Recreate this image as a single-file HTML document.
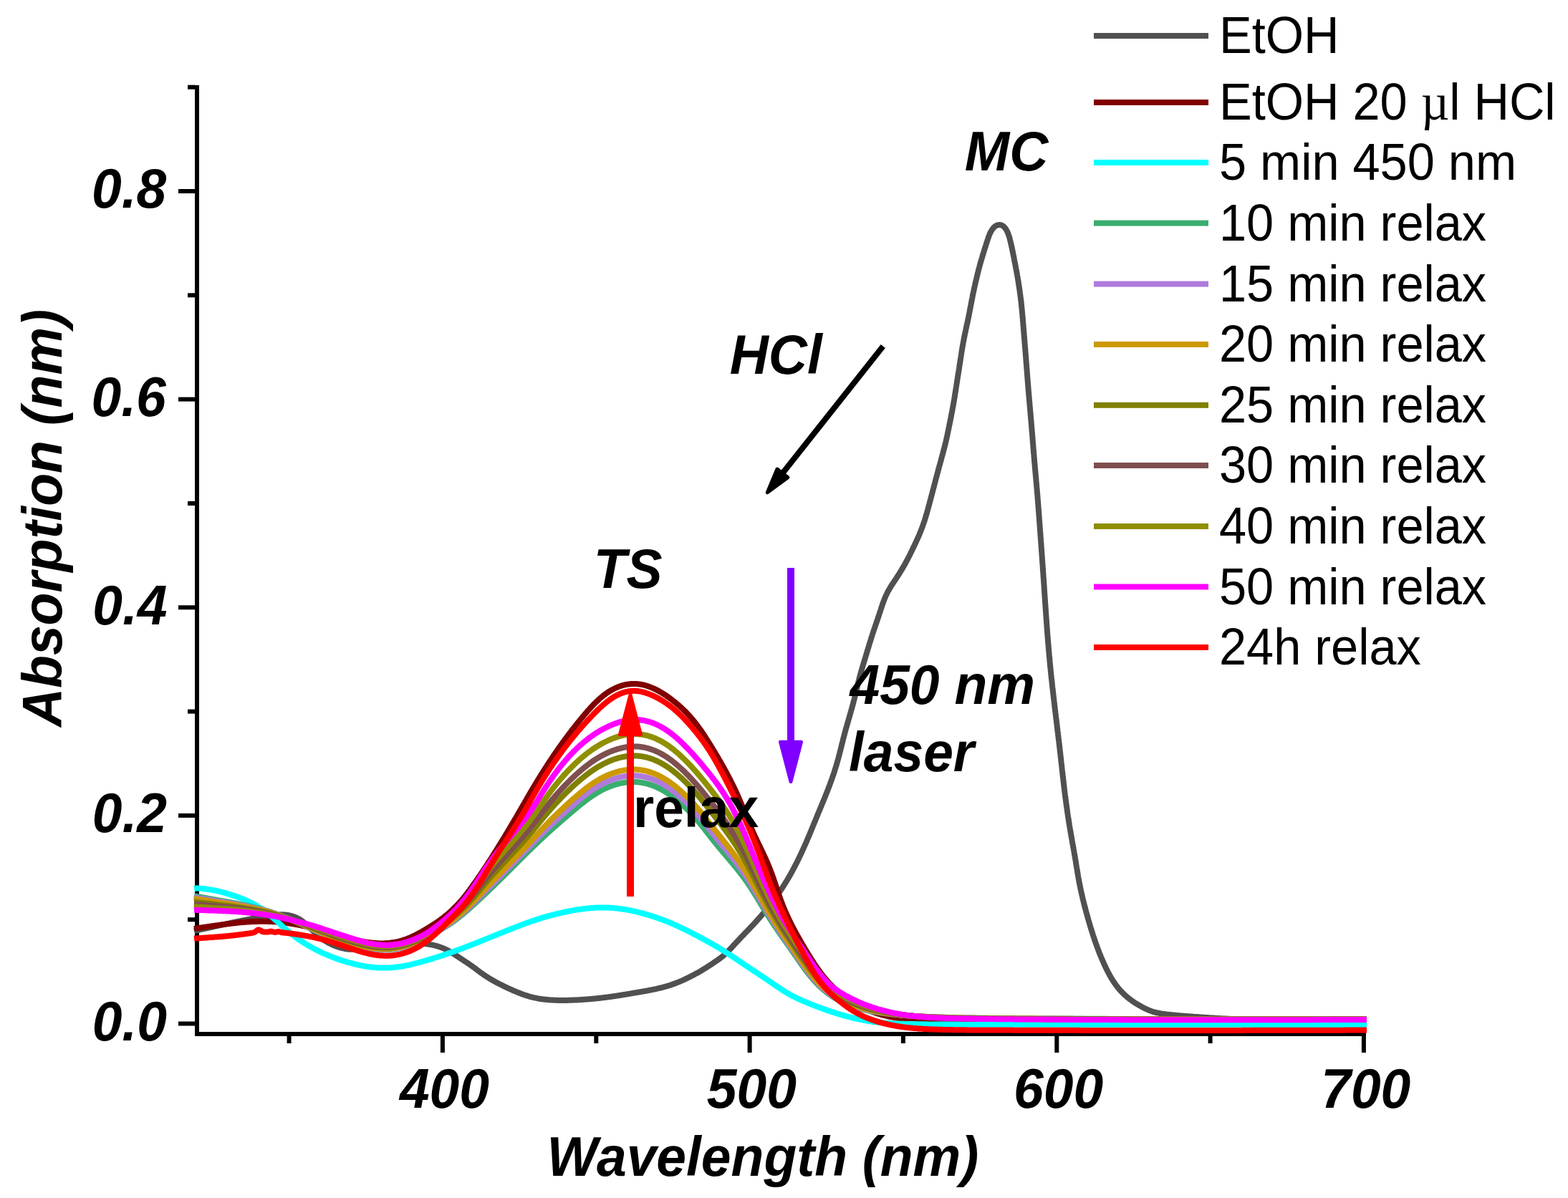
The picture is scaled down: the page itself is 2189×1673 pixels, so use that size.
<!DOCTYPE html>
<html><head><meta charset="utf-8"><title>Absorption spectra</title>
<style>
html,body{margin:0;padding:0;background:#fff;overflow:hidden;}
svg{display:block;}
text{font-family:"Liberation Sans",Arial,sans-serif;fill:#000;}
.bi{font-weight:bold;font-style:italic;font-size:75px;}
.lg{font-size:68.5px;}
</style></head><body>
<svg width="2189" height="1673" viewBox="0 0 2189 1673">
<rect width="2189" height="1673" fill="#fff"/>
<g fill="#000">
<rect x="272" y="119" width="6" height="1328"/>
<rect x="272" y="1441" width="1635" height="6"/>
<rect x="249" y="1426.5" width="24" height="6"/><rect x="249" y="1135.9" width="24" height="6"/><rect x="249" y="845.3" width="24" height="6"/><rect x="249" y="554.6" width="24" height="6"/><rect x="249" y="264.0" width="24" height="6"/><rect x="262" y="1281.2" width="11" height="6"/><rect x="262" y="990.6" width="11" height="6"/><rect x="262" y="700.0" width="11" height="6"/><rect x="262" y="409.3" width="11" height="6"/><rect x="262" y="118.7" width="11" height="6"/><rect x="614.9" y="1446" width="6" height="24"/><rect x="1043.6" y="1446" width="6" height="24"/><rect x="1472.3" y="1446" width="6" height="24"/><rect x="1900.9" y="1446" width="6" height="24"/><rect x="400.6" y="1446" width="6" height="11"/><rect x="829.3" y="1446" width="6" height="11"/><rect x="1257.9" y="1446" width="6" height="11"/><rect x="1686.6" y="1446" width="6" height="11"/>
</g>
<g fill="none" stroke-width="8" stroke-linejoin="round" stroke-linecap="butt">
<path d="M271.0 1300.0L272.7 1299.6L273.4 1299.5L274.1 1299.4L275.0 1299.2L275.9 1299.0L276.9 1298.8L277.9 1298.6L278.8 1298.4L279.8 1298.2L280.8 1297.9L281.8 1297.7L282.7 1297.5L283.7 1297.3L284.7 1297.1L285.7 1296.9L286.7 1296.7L287.6 1296.5L288.6 1296.3L289.6 1296.0L290.6 1295.8L291.5 1295.6L292.5 1295.4L293.5 1295.2L294.5 1295.0L295.4 1294.8L296.4 1294.5L297.4 1294.3L298.4 1294.1L299.4 1293.9L300.3 1293.7L301.3 1293.5L302.3 1293.2L303.3 1293.0L304.2 1292.8L305.2 1292.6L306.2 1292.4L307.2 1292.1L308.1 1291.9L309.1 1291.7L310.1 1291.5L311.1 1291.3L312.0 1291.1L313.0 1290.8L314.0 1290.6L315.0 1290.4L316.0 1290.2L316.9 1290.0L317.9 1289.8L318.9 1289.6L319.9 1289.4L320.8 1289.2L321.8 1288.9L322.8 1288.7L323.8 1288.5L324.8 1288.3L325.7 1288.1L326.7 1287.9L327.7 1287.7L328.7 1287.5L329.7 1287.3L330.6 1287.1L331.6 1286.9L332.6 1286.7L333.6 1286.5L334.6 1286.3L335.5 1286.1L336.5 1285.9L337.5 1285.7L338.5 1285.5L339.5 1285.4L340.4 1285.2L341.4 1285.0L342.4 1284.8L343.4 1284.6L344.4 1284.4L345.4 1284.2L346.3 1284.1L347.3 1283.9L348.3 1283.7L349.3 1283.5L350.3 1283.3L351.3 1283.1L352.2 1283.0L353.2 1282.8L354.2 1282.6L355.2 1282.4L356.2 1282.2L357.2 1282.0L358.2 1281.9L359.1 1281.7L360.1 1281.5L361.1 1281.3L362.1 1281.1L363.1 1281.0L364.1 1280.8L365.1 1280.6L366.1 1280.4L367.0 1280.3L368.0 1280.1L369.0 1279.9L370.0 1279.8L371.0 1279.6L372.0 1279.4L373.0 1279.3L374.0 1279.1L375.0 1279.0L376.0 1278.8L377.0 1278.7L378.0 1278.5L379.0 1278.4L380.0 1278.3L381.0 1278.1L382.0 1278.0L383.0 1277.9L384.0 1277.8L385.0 1277.7L386.0 1277.6L387.0 1277.5L388.0 1277.4L389.0 1277.4L390.0 1277.3L391.0 1277.3L392.0 1277.3L393.0 1277.3L394.0 1277.3L395.0 1277.3L395.9 1277.3L396.9 1277.4L397.9 1277.5L398.9 1277.6L399.9 1277.7L400.9 1277.8L401.9 1278.0L402.8 1278.1L403.8 1278.3L404.8 1278.5L405.7 1278.8L406.7 1279.0L407.6 1279.3L408.6 1279.6L409.5 1279.9L410.5 1280.2L411.4 1280.6L412.3 1280.9L413.2 1281.3L414.1 1281.7L415.0 1282.1L415.8 1282.6L416.7 1283.0L417.6 1283.5L418.4 1284.0L419.2 1284.6L420.1 1285.1L420.9 1285.7L421.7 1286.2L422.5 1286.8L423.3 1287.4L424.0 1288.0L424.8 1288.7L425.6 1289.3L426.3 1290.0L427.1 1290.6L427.8 1291.3L428.6 1291.9L429.3 1292.6L430.1 1293.3L430.8 1294.0L431.5 1294.7L432.3 1295.4L433.0 1296.1L433.7 1296.8L434.4 1297.5L435.2 1298.2L435.9 1298.9L436.6 1299.6L437.4 1300.3L438.1 1301.0L438.8 1301.7L439.6 1302.4L440.3 1303.0L441.0 1303.7L441.8 1304.4L442.5 1305.1L443.3 1305.7L444.0 1306.4L444.8 1307.1L445.6 1307.7L446.3 1308.3L447.1 1309.0L447.9 1309.6L448.7 1310.2L449.5 1310.8L450.3 1311.4L451.1 1312.0L451.9 1312.6L452.7 1313.1L453.6 1313.7L454.4 1314.2L455.3 1314.7L456.1 1315.2L457.0 1315.7L457.8 1316.2L458.7 1316.7L459.6 1317.2L460.5 1317.6L461.4 1318.1L462.3 1318.5L463.2 1318.9L464.1 1319.4L465.0 1319.8L465.9 1320.1L466.8 1320.5L467.8 1320.9L468.7 1321.3L469.6 1321.6L470.6 1322.0L471.5 1322.3L472.5 1322.6L473.4 1322.9L474.4 1323.2L475.3 1323.5L476.3 1323.7L477.2 1324.0L478.2 1324.2L479.2 1324.4L480.2 1324.6L481.1 1324.8L482.1 1325.0L483.1 1325.2L484.1 1325.3L485.1 1325.4L486.1 1325.5L487.0 1325.6L488.0 1325.7L489.0 1325.7L490.0 1325.8L491.0 1325.8L492.0 1325.8L493.0 1325.8L494.0 1325.8L495.0 1325.8L496.0 1325.7L497.0 1325.7L498.0 1325.6L499.0 1325.5L500.0 1325.4L501.0 1325.3L501.9 1325.2L502.9 1325.1L503.9 1324.9L504.9 1324.8L505.9 1324.6L506.9 1324.5L507.9 1324.3L508.9 1324.1L509.9 1323.9L510.8 1323.7L511.8 1323.5L512.8 1323.3L513.8 1323.1L514.8 1322.8L515.7 1322.6L516.7 1322.4L517.7 1322.1L518.7 1321.9L519.7 1321.7L520.6 1321.4L521.6 1321.2L522.6 1321.0L523.6 1320.7L524.5 1320.5L525.5 1320.2L526.5 1320.0L527.5 1319.8L528.4 1319.6L529.4 1319.3L530.4 1319.1L531.4 1318.9L532.3 1318.7L533.3 1318.5L534.3 1318.4L535.3 1318.2L536.3 1318.0L537.3 1317.8L538.2 1317.7L539.2 1317.5L540.2 1317.4L541.2 1317.2L542.2 1317.1L543.2 1317.0L544.2 1316.9L545.2 1316.8L546.2 1316.7L547.2 1316.6L548.2 1316.5L549.2 1316.4L550.2 1316.4L551.1 1316.3L552.1 1316.2L553.1 1316.2L554.1 1316.2L555.1 1316.1L556.1 1316.1L557.1 1316.1L558.1 1316.0L559.1 1316.0L560.1 1316.0L561.1 1316.0L562.1 1316.0L563.1 1316.0L564.1 1316.1L565.1 1316.1L566.1 1316.1L567.1 1316.1L568.2 1316.2L569.2 1316.2L570.2 1316.2L571.2 1316.3L572.2 1316.3L573.2 1316.4L574.2 1316.4L575.2 1316.5L576.2 1316.5L577.2 1316.6L578.2 1316.7L579.2 1316.7L580.2 1316.8L581.2 1316.9L582.2 1316.9L583.2 1317.0L584.2 1317.1L585.2 1317.2L586.2 1317.2L587.2 1317.3L588.2 1317.4L589.2 1317.5L590.2 1317.6L591.2 1317.7L592.2 1317.8L593.2 1317.9L594.2 1318.1L595.2 1318.2L596.2 1318.3L597.2 1318.5L598.2 1318.6L599.1 1318.8L600.1 1318.9L601.1 1319.1L602.1 1319.3L603.1 1319.5L604.0 1319.7L605.0 1319.9L606.0 1320.1L607.0 1320.4L607.9 1320.6L608.9 1320.9L609.8 1321.1L610.8 1321.4L611.8 1321.7L612.7 1322.0L613.6 1322.3L614.6 1322.6L615.5 1323.0L616.5 1323.3L617.4 1323.7L618.3 1324.0L619.2 1324.4L620.1 1324.8L621.0 1325.2L621.9 1325.6L622.8 1326.1L623.7 1326.5L624.6 1327.0L625.5 1327.4L626.4 1327.9L627.2 1328.4L628.1 1328.9L628.9 1329.4L629.8 1329.9L630.6 1330.5L631.5 1331.0L632.3 1331.5L633.2 1332.1L634.0 1332.6L634.9 1333.1L635.7 1333.7L636.5 1334.2L637.4 1334.8L638.2 1335.3L639.1 1335.9L639.9 1336.4L640.7 1337.0L641.6 1337.5L642.4 1338.1L643.2 1338.6L644.1 1339.2L644.9 1339.7L645.8 1340.3L646.6 1340.8L647.4 1341.4L648.3 1341.9L649.1 1342.5L650.0 1343.0L650.8 1343.6L651.6 1344.1L652.5 1344.7L653.3 1345.2L654.1 1345.8L654.9 1346.4L655.8 1346.9L656.6 1347.5L657.4 1348.1L658.2 1348.6L659.0 1349.2L659.8 1349.8L660.6 1350.4L661.5 1351.0L662.3 1351.6L663.1 1352.2L663.9 1352.8L664.7 1353.4L665.4 1354.0L666.2 1354.6L667.0 1355.2L667.8 1355.8L668.6 1356.4L669.4 1357.0L670.2 1357.6L671.0 1358.2L671.8 1358.8L672.7 1359.3L673.5 1359.9L674.3 1360.5L675.1 1361.1L675.9 1361.6L676.8 1362.2L677.6 1362.7L678.4 1363.3L679.3 1363.8L680.1 1364.4L680.9 1364.9L681.8 1365.4L682.6 1365.9L683.5 1366.5L684.3 1367.0L685.2 1367.5L686.1 1368.0L686.9 1368.5L687.8 1369.0L688.7 1369.5L689.5 1370.0L690.4 1370.5L691.3 1370.9L692.2 1371.4L693.0 1371.9L693.9 1372.4L694.8 1372.8L695.7 1373.3L696.6 1373.8L697.5 1374.2L698.4 1374.7L699.3 1375.1L700.2 1375.6L701.1 1376.0L702.0 1376.5L702.9 1376.9L703.8 1377.4L704.7 1377.8L705.6 1378.2L706.5 1378.7L707.4 1379.1L708.3 1379.5L709.2 1379.9L710.1 1380.4L711.1 1380.8L712.0 1381.2L712.9 1381.6L713.8 1382.0L714.7 1382.4L715.6 1382.8L716.6 1383.3L717.5 1383.7L718.4 1384.1L719.3 1384.4L720.3 1384.8L721.2 1385.2L722.1 1385.6L723.1 1386.0L724.0 1386.4L724.9 1386.7L725.9 1387.1L726.8 1387.4L727.7 1387.8L728.7 1388.1L729.6 1388.5L730.5 1388.8L731.5 1389.2L732.4 1389.5L733.4 1389.8L734.3 1390.1L735.3 1390.4L736.2 1390.7L737.2 1391.0L738.2 1391.3L739.1 1391.6L740.1 1391.8L741.0 1392.1L742.0 1392.4L743.0 1392.6L743.9 1392.9L744.9 1393.1L745.9 1393.3L746.8 1393.5L747.8 1393.7L748.8 1393.9L749.8 1394.1L750.8 1394.3L751.7 1394.5L752.7 1394.7L753.7 1394.8L754.7 1395.0L755.7 1395.1L756.7 1395.2L757.7 1395.4L758.6 1395.5L759.6 1395.6L760.6 1395.7L761.6 1395.8L762.6 1395.9L763.6 1396.0L764.6 1396.1L765.6 1396.2L766.6 1396.3L767.6 1396.4L768.6 1396.4L769.6 1396.5L770.6 1396.5L771.6 1396.6L772.6 1396.7L773.6 1396.7L774.6 1396.7L775.6 1396.8L776.6 1396.8L777.6 1396.8L778.6 1396.9L779.6 1396.9L780.6 1396.9L781.6 1396.9L782.6 1396.9L783.6 1396.9L784.6 1396.9L785.6 1396.9L786.6 1396.9L787.6 1396.9L788.6 1396.9L789.6 1396.9L790.6 1396.9L791.6 1396.9L792.6 1396.8L793.6 1396.8L794.6 1396.8L795.6 1396.8L796.6 1396.7L797.6 1396.7L798.6 1396.7L799.6 1396.6L800.6 1396.6L801.6 1396.6L802.6 1396.5L803.6 1396.5L804.6 1396.4L805.6 1396.4L806.6 1396.3L807.6 1396.3L808.6 1396.2L809.6 1396.2L810.6 1396.1L811.6 1396.0L812.6 1396.0L813.6 1395.9L814.6 1395.8L815.6 1395.8L816.6 1395.7L817.6 1395.6L818.6 1395.6L819.6 1395.5L820.6 1395.4L821.6 1395.3L822.6 1395.2L823.6 1395.2L824.6 1395.1L825.6 1395.0L826.6 1394.9L827.6 1394.8L828.6 1394.7L829.6 1394.6L830.6 1394.5L831.6 1394.4L832.6 1394.3L833.6 1394.2L834.6 1394.1L835.5 1394.0L836.5 1393.9L837.5 1393.8L838.5 1393.7L839.5 1393.5L840.5 1393.4L841.5 1393.3L842.5 1393.2L843.5 1393.1L844.5 1392.9L845.5 1392.8L846.5 1392.7L847.5 1392.6L848.5 1392.4L849.4 1392.3L850.4 1392.2L851.4 1392.0L852.4 1391.9L853.4 1391.8L854.4 1391.6L855.4 1391.5L856.4 1391.3L857.4 1391.2L858.4 1391.0L859.3 1390.9L860.3 1390.7L861.3 1390.6L862.3 1390.4L863.3 1390.3L864.3 1390.1L865.3 1390.0L866.3 1389.8L867.3 1389.7L868.2 1389.5L869.2 1389.4L870.2 1389.2L871.2 1389.0L872.2 1388.9L873.2 1388.7L874.2 1388.5L875.2 1388.4L876.1 1388.2L877.1 1388.1L878.1 1387.9L879.1 1387.7L880.1 1387.6L881.1 1387.4L882.1 1387.2L883.0 1387.0L884.0 1386.9L885.0 1386.7L886.0 1386.5L887.0 1386.4L888.0 1386.2L889.0 1386.0L890.0 1385.9L890.9 1385.7L891.9 1385.5L892.9 1385.3L893.9 1385.2L894.9 1385.0L895.9 1384.8L896.9 1384.7L897.8 1384.5L898.8 1384.3L899.8 1384.1L900.8 1384.0L901.8 1383.8L902.8 1383.6L903.8 1383.4L904.7 1383.2L905.7 1383.1L906.7 1382.9L907.7 1382.7L908.7 1382.5L909.7 1382.3L910.6 1382.1L911.6 1381.9L912.6 1381.7L913.6 1381.5L914.6 1381.3L915.5 1381.1L916.5 1380.9L917.5 1380.7L918.5 1380.4L919.4 1380.2L920.4 1380.0L921.4 1379.7L922.4 1379.5L923.3 1379.3L924.3 1379.0L925.3 1378.8L926.2 1378.5L927.2 1378.2L928.2 1378.0L929.1 1377.7L930.1 1377.4L931.0 1377.2L932.0 1376.9L933.0 1376.6L933.9 1376.3L934.9 1376.0L935.8 1375.7L936.8 1375.4L937.7 1375.0L938.7 1374.7L939.6 1374.4L940.5 1374.0L941.5 1373.7L942.4 1373.4L943.3 1373.0L944.3 1372.7L945.2 1372.3L946.1 1371.9L947.1 1371.5L948.0 1371.2L948.9 1370.8L949.8 1370.4L950.7 1370.0L951.7 1369.6L952.6 1369.2L953.5 1368.8L954.4 1368.4L955.3 1367.9L956.2 1367.5L957.1 1367.1L958.0 1366.7L958.9 1366.2L959.8 1365.8L960.7 1365.3L961.6 1364.9L962.5 1364.5L963.4 1364.0L964.3 1363.6L965.2 1363.1L966.1 1362.6L967.0 1362.2L967.9 1361.7L968.8 1361.2L969.6 1360.8L970.5 1360.3L971.4 1359.8L972.3 1359.3L973.1 1358.9L974.0 1358.4L974.9 1357.9L975.8 1357.4L976.6 1356.9L977.5 1356.4L978.4 1355.9L979.2 1355.4L980.1 1354.9L980.9 1354.3L981.8 1353.8L982.7 1353.3L983.5 1352.8L984.4 1352.2L985.2 1351.7L986.1 1351.2L986.9 1350.6L987.7 1350.1L988.6 1349.6L989.4 1349.0L990.3 1348.5L991.1 1347.9L991.9 1347.4L992.8 1346.8L993.6 1346.3L994.4 1345.7L995.3 1345.2L996.1 1344.6L996.9 1344.0L997.7 1343.5L998.6 1342.9L999.4 1342.4L1000.2 1341.8L1001.0 1341.3L1001.8 1340.7L1002.6 1340.1L1003.5 1339.6L1004.3 1339.0L1005.1 1338.4L1005.9 1337.8L1006.6 1337.2L1007.4 1336.6L1008.2 1336.0L1009.0 1335.4L1009.7 1334.7L1010.5 1334.1L1011.2 1333.4L1011.9 1332.8L1012.7 1332.1L1013.4 1331.4L1014.1 1330.7L1014.8 1330.1L1015.5 1329.4L1016.2 1328.7L1016.9 1327.9L1017.6 1327.2L1018.3 1326.5L1019.0 1325.8L1019.7 1325.1L1020.4 1324.3L1021.1 1323.6L1021.7 1322.9L1022.4 1322.1L1023.1 1321.4L1023.8 1320.7L1024.4 1319.9L1025.1 1319.2L1025.8 1318.4L1026.5 1317.7L1027.2 1317.0L1027.8 1316.2L1028.5 1315.5L1029.2 1314.8L1029.9 1314.0L1030.6 1313.3L1031.3 1312.6L1031.9 1311.8L1032.6 1311.1L1033.3 1310.4L1034.0 1309.7L1034.7 1308.9L1035.4 1308.2L1036.1 1307.5L1036.8 1306.8L1037.5 1306.0L1038.2 1305.3L1038.8 1304.6L1039.5 1303.9L1040.2 1303.1L1040.9 1302.4L1041.6 1301.7L1042.3 1301.0L1043.0 1300.3L1043.7 1299.5L1044.4 1298.8L1045.1 1298.1L1045.8 1297.4L1046.5 1296.6L1047.2 1295.9L1047.8 1295.2L1048.5 1294.5L1049.2 1293.7L1049.9 1293.0L1050.6 1292.3L1051.3 1291.6L1052.0 1290.8L1052.6 1290.1L1053.3 1289.4L1054.0 1288.6L1054.7 1287.9L1055.4 1287.2L1056.0 1286.4L1056.7 1285.7L1057.4 1284.9L1058.0 1284.2L1058.7 1283.4L1059.4 1282.7L1060.0 1281.9L1060.7 1281.2L1061.4 1280.4L1062.0 1279.7L1062.7 1278.9L1063.3 1278.2L1064.0 1277.4L1064.6 1276.6L1065.3 1275.9L1065.9 1275.1L1066.6 1274.3L1067.2 1273.6L1067.9 1272.8L1068.5 1272.0L1069.1 1271.3L1069.8 1270.5L1070.4 1269.7L1071.0 1268.9L1071.6 1268.2L1072.3 1267.4L1072.9 1266.6L1073.5 1265.8L1074.1 1265.0L1074.8 1264.2L1075.4 1263.4L1076.0 1262.6L1076.6 1261.9L1077.2 1261.1L1077.8 1260.3L1078.4 1259.5L1079.0 1258.7L1079.6 1257.9L1080.2 1257.1L1080.8 1256.3L1081.4 1255.4L1082.0 1254.6L1082.6 1253.8L1083.2 1253.0L1083.7 1252.2L1084.3 1251.4L1084.9 1250.6L1085.5 1249.7L1086.0 1248.9L1086.6 1248.1L1087.2 1247.3L1087.8 1246.5L1088.3 1245.6L1088.9 1244.8L1089.4 1244.0L1090.0 1243.1L1090.5 1242.3L1091.1 1241.5L1091.6 1240.6L1092.2 1239.8L1092.7 1239.0L1093.3 1238.1L1093.8 1237.3L1094.3 1236.4L1094.9 1235.6L1095.4 1234.7L1095.9 1233.9L1096.5 1233.0L1097.0 1232.2L1097.5 1231.3L1098.0 1230.5L1098.5 1229.6L1099.1 1228.7L1099.6 1227.9L1100.1 1227.0L1100.6 1226.2L1101.1 1225.3L1101.6 1224.4L1102.1 1223.6L1102.6 1222.7L1103.1 1221.8L1103.6 1221.0L1104.1 1220.1L1104.5 1219.2L1105.0 1218.3L1105.5 1217.5L1106.0 1216.6L1106.5 1215.7L1106.9 1214.8L1107.4 1213.9L1107.9 1213.1L1108.4 1212.2L1108.8 1211.3L1109.3 1210.4L1109.7 1209.5L1110.2 1208.6L1110.7 1207.7L1111.1 1206.9L1111.6 1206.0L1112.0 1205.1L1112.5 1204.2L1112.9 1203.3L1113.4 1202.4L1113.8 1201.5L1114.3 1200.6L1114.7 1199.7L1115.1 1198.8L1115.6 1197.9L1116.0 1197.0L1116.4 1196.1L1116.9 1195.2L1117.3 1194.3L1117.7 1193.4L1118.2 1192.5L1118.6 1191.6L1119.0 1190.7L1119.4 1189.8L1119.8 1188.8L1120.3 1187.9L1120.7 1187.0L1121.1 1186.1L1121.5 1185.2L1121.9 1184.3L1122.3 1183.4L1122.7 1182.5L1123.1 1181.6L1123.5 1180.6L1124.0 1179.7L1124.4 1178.8L1124.8 1177.9L1125.2 1177.0L1125.6 1176.1L1126.0 1175.1L1126.4 1174.2L1126.7 1173.3L1127.1 1172.4L1127.5 1171.5L1127.9 1170.5L1128.3 1169.6L1128.7 1168.7L1129.1 1167.8L1129.5 1166.9L1129.9 1165.9L1130.3 1165.0L1130.6 1164.1L1131.0 1163.2L1131.4 1162.2L1131.8 1161.3L1132.2 1160.4L1132.6 1159.5L1132.9 1158.5L1133.3 1157.6L1133.7 1156.7L1134.1 1155.8L1134.5 1154.8L1134.8 1153.9L1135.2 1153.0L1135.6 1152.1L1136.0 1151.1L1136.4 1150.2L1136.7 1149.3L1137.1 1148.4L1137.5 1147.4L1137.9 1146.5L1138.3 1145.6L1138.6 1144.7L1139.0 1143.7L1139.4 1142.8L1139.8 1141.9L1140.2 1141.0L1140.5 1140.0L1140.9 1139.1L1141.3 1138.2L1141.7 1137.3L1142.1 1136.3L1142.4 1135.4L1142.8 1134.5L1143.2 1133.6L1143.6 1132.6L1144.0 1131.7L1144.4 1130.8L1144.8 1129.9L1145.1 1129.0L1145.5 1128.0L1145.9 1127.1L1146.3 1126.2L1146.7 1125.3L1147.1 1124.3L1147.4 1123.4L1147.8 1122.5L1148.2 1121.6L1148.6 1120.6L1149.0 1119.7L1149.3 1118.8L1149.7 1117.9L1150.1 1116.9L1150.5 1116.0L1150.9 1115.1L1151.2 1114.2L1151.6 1113.2L1152.0 1112.3L1152.4 1111.4L1152.7 1110.4L1153.1 1109.5L1153.5 1108.6L1153.9 1107.6L1154.2 1106.7L1154.6 1105.8L1155.0 1104.9L1155.3 1103.9L1155.7 1103.0L1156.0 1102.1L1156.4 1101.1L1156.8 1100.2L1157.1 1099.3L1157.5 1098.3L1157.8 1097.4L1158.2 1096.4L1158.5 1095.5L1158.9 1094.6L1159.2 1093.6L1159.6 1092.7L1159.9 1091.8L1160.3 1090.8L1160.6 1089.9L1160.9 1088.9L1161.3 1088.0L1161.6 1087.0L1161.9 1086.1L1162.3 1085.2L1162.6 1084.2L1162.9 1083.3L1163.3 1082.3L1163.6 1081.4L1163.9 1080.4L1164.2 1079.5L1164.5 1078.5L1164.8 1077.6L1165.1 1076.6L1165.4 1075.7L1165.7 1074.7L1166.0 1073.8L1166.3 1072.8L1166.6 1071.9L1166.9 1070.9L1167.2 1069.9L1167.5 1069.0L1167.8 1068.0L1168.0 1067.1L1168.3 1066.1L1168.6 1065.1L1168.9 1064.2L1169.1 1063.2L1169.4 1062.3L1169.7 1061.3L1169.9 1060.3L1170.2 1059.4L1170.5 1058.4L1170.7 1057.4L1171.0 1056.5L1171.2 1055.5L1171.5 1054.5L1171.7 1053.6L1172.0 1052.6L1172.2 1051.6L1172.5 1050.7L1172.7 1049.7L1173.0 1048.7L1173.2 1047.8L1173.5 1046.8L1173.7 1045.8L1174.0 1044.8L1174.2 1043.9L1174.5 1042.9L1174.7 1041.9L1174.9 1041.0L1175.2 1040.0L1175.4 1039.0L1175.7 1038.1L1175.9 1037.1L1176.2 1036.1L1176.4 1035.1L1176.7 1034.2L1176.9 1033.2L1177.1 1032.2L1177.4 1031.3L1177.6 1030.3L1177.9 1029.3L1178.1 1028.4L1178.4 1027.4L1178.7 1026.4L1178.9 1025.5L1179.2 1024.5L1179.4 1023.5L1179.7 1022.6L1179.9 1021.6L1180.2 1020.6L1180.5 1019.7L1180.7 1018.7L1181.0 1017.7L1181.3 1016.8L1181.5 1015.8L1181.8 1014.8L1182.1 1013.9L1182.4 1012.9L1182.6 1012.0L1182.9 1011.0L1183.2 1010.0L1183.5 1009.1L1183.7 1008.1L1184.0 1007.1L1184.3 1006.2L1184.6 1005.2L1184.8 1004.3L1185.1 1003.3L1185.4 1002.3L1185.7 1001.4L1185.9 1000.4L1186.2 999.5L1186.5 998.5L1186.8 997.5L1187.1 996.6L1187.3 995.6L1187.6 994.6L1187.9 993.7L1188.1 992.7L1188.4 991.8L1188.7 990.8L1189.0 989.8L1189.2 988.9L1189.5 987.9L1189.8 986.9L1190.0 986.0L1190.3 985.0L1190.6 984.0L1190.8 983.1L1191.1 982.1L1191.3 981.1L1191.6 980.2L1191.8 979.2L1192.1 978.2L1192.3 977.3L1192.6 976.3L1192.8 975.3L1193.1 974.4L1193.3 973.4L1193.6 972.4L1193.8 971.5L1194.0 970.5L1194.3 969.5L1194.5 968.5L1194.7 967.6L1195.0 966.6L1195.2 965.6L1195.4 964.7L1195.7 963.7L1195.9 962.7L1196.1 961.7L1196.4 960.8L1196.6 959.8L1196.8 958.8L1197.0 957.8L1197.3 956.9L1197.5 955.9L1197.7 954.9L1198.0 954.0L1198.2 953.0L1198.5 952.0L1198.7 951.0L1198.9 950.1L1199.2 949.1L1199.4 948.1L1199.7 947.2L1199.9 946.2L1200.2 945.2L1200.4 944.3L1200.7 943.3L1201.0 942.3L1201.2 941.4L1201.5 940.4L1201.8 939.4L1202.0 938.5L1202.3 937.5L1202.6 936.6L1202.9 935.6L1203.1 934.6L1203.4 933.7L1203.7 932.7L1204.0 931.8L1204.3 930.8L1204.6 929.8L1204.8 928.9L1205.1 927.9L1205.4 927.0L1205.7 926.0L1206.0 925.0L1206.3 924.1L1206.6 923.1L1206.9 922.2L1207.2 921.2L1207.5 920.3L1207.8 919.3L1208.0 918.3L1208.3 917.4L1208.6 916.4L1208.9 915.5L1209.2 914.5L1209.5 913.6L1209.8 912.6L1210.1 911.6L1210.4 910.7L1210.6 909.7L1210.9 908.8L1211.2 907.8L1211.5 906.9L1211.8 905.9L1212.1 904.9L1212.4 904.0L1212.7 903.0L1212.9 902.1L1213.2 901.1L1213.5 900.1L1213.8 899.2L1214.1 898.2L1214.4 897.3L1214.7 896.3L1215.0 895.4L1215.3 894.4L1215.6 893.5L1215.9 892.5L1216.2 891.5L1216.5 890.6L1216.8 889.6L1217.1 888.7L1217.4 887.7L1217.7 886.8L1218.0 885.8L1218.3 884.9L1218.6 883.9L1218.9 883.0L1219.3 882.0L1219.6 881.1L1219.9 880.1L1220.2 879.2L1220.5 878.2L1220.9 877.3L1221.2 876.4L1221.5 875.4L1221.8 874.5L1222.1 873.5L1222.5 872.6L1222.8 871.6L1223.1 870.7L1223.4 869.7L1223.8 868.8L1224.1 867.8L1224.4 866.9L1224.7 865.9L1225.1 865.0L1225.4 864.0L1225.7 863.1L1226.0 862.1L1226.3 861.2L1226.7 860.2L1227.0 859.3L1227.3 858.3L1227.6 857.4L1227.9 856.4L1228.2 855.5L1228.5 854.5L1228.9 853.6L1229.2 852.6L1229.5 851.7L1229.8 850.7L1230.1 849.8L1230.4 848.8L1230.7 847.8L1231.0 846.9L1231.4 845.9L1231.7 845.0L1232.0 844.1L1232.3 843.1L1232.7 842.2L1233.0 841.2L1233.4 840.3L1233.7 839.3L1234.1 838.4L1234.4 837.5L1234.8 836.6L1235.2 835.6L1235.5 834.7L1235.9 833.8L1236.3 832.9L1236.7 832.0L1237.1 831.1L1237.6 830.2L1238.0 829.3L1238.4 828.4L1238.9 827.5L1239.3 826.6L1239.8 825.7L1240.3 824.9L1240.8 824.0L1241.3 823.1L1241.8 822.3L1242.3 821.4L1242.8 820.6L1243.3 819.7L1243.8 818.9L1244.3 818.0L1244.9 817.2L1245.4 816.3L1246.0 815.5L1246.5 814.6L1247.1 813.8L1247.6 813.0L1248.2 812.1L1248.7 811.3L1249.3 810.5L1249.8 809.6L1250.4 808.8L1250.9 808.0L1251.5 807.1L1252.0 806.3L1252.6 805.5L1253.1 804.6L1253.7 803.8L1254.2 802.9L1254.8 802.1L1255.3 801.3L1255.8 800.4L1256.4 799.6L1256.9 798.7L1257.4 797.9L1257.9 797.0L1258.5 796.2L1259.0 795.3L1259.5 794.4L1260.0 793.6L1260.5 792.7L1261.0 791.9L1261.5 791.0L1262.0 790.1L1262.5 789.3L1263.0 788.4L1263.5 787.5L1264.0 786.6L1264.4 785.8L1264.9 784.9L1265.4 784.0L1265.9 783.1L1266.3 782.2L1266.8 781.3L1267.3 780.5L1267.7 779.6L1268.2 778.7L1268.6 777.8L1269.1 776.9L1269.6 776.0L1270.0 775.1L1270.5 774.2L1270.9 773.3L1271.3 772.4L1271.8 771.5L1272.2 770.6L1272.7 769.7L1273.1 768.8L1273.5 767.9L1274.0 767.0L1274.4 766.1L1274.8 765.2L1275.3 764.3L1275.7 763.4L1276.1 762.5L1276.6 761.6L1277.0 760.7L1277.4 759.8L1277.8 758.9L1278.3 758.0L1278.7 757.1L1279.1 756.2L1279.5 755.3L1279.9 754.4L1280.3 753.4L1280.8 752.5L1281.2 751.6L1281.6 750.7L1282.0 749.8L1282.4 748.9L1282.8 748.0L1283.2 747.0L1283.6 746.1L1283.9 745.2L1284.3 744.3L1284.7 743.3L1285.1 742.4L1285.5 741.5L1285.8 740.6L1286.2 739.6L1286.6 738.7L1286.9 737.8L1287.3 736.8L1287.6 735.9L1288.0 735.0L1288.3 734.0L1288.6 733.1L1289.0 732.1L1289.3 731.2L1289.6 730.2L1289.9 729.3L1290.3 728.4L1290.6 727.4L1290.9 726.4L1291.2 725.5L1291.5 724.5L1291.8 723.6L1292.1 722.6L1292.4 721.7L1292.6 720.7L1292.9 719.8L1293.2 718.8L1293.5 717.8L1293.8 716.9L1294.0 715.9L1294.3 714.9L1294.6 714.0L1294.8 713.0L1295.1 712.1L1295.4 711.1L1295.6 710.1L1295.9 709.2L1296.2 708.2L1296.4 707.2L1296.7 706.3L1296.9 705.3L1297.2 704.3L1297.5 703.4L1297.7 702.4L1298.0 701.4L1298.2 700.5L1298.5 699.5L1298.8 698.5L1299.0 697.6L1299.3 696.6L1299.5 695.6L1299.8 694.7L1300.0 693.7L1300.3 692.7L1300.6 691.8L1300.8 690.8L1301.1 689.8L1301.3 688.9L1301.6 687.9L1301.8 686.9L1302.1 686.0L1302.3 685.0L1302.6 684.0L1302.8 683.1L1303.1 682.1L1303.3 681.1L1303.6 680.2L1303.9 679.2L1304.1 678.2L1304.4 677.3L1304.6 676.3L1304.9 675.3L1305.1 674.3L1305.4 673.4L1305.6 672.4L1305.9 671.4L1306.1 670.5L1306.4 669.5L1306.6 668.5L1306.9 667.6L1307.2 666.6L1307.4 665.6L1307.7 664.7L1307.9 663.7L1308.2 662.7L1308.5 661.8L1308.7 660.8L1309.0 659.8L1309.2 658.9L1309.5 657.9L1309.8 657.0L1310.0 656.0L1310.3 655.0L1310.5 654.1L1310.8 653.1L1311.1 652.1L1311.3 651.2L1311.6 650.2L1311.9 649.2L1312.1 648.3L1312.4 647.3L1312.6 646.3L1312.9 645.4L1313.2 644.4L1313.4 643.4L1313.7 642.5L1314.0 641.5L1314.2 640.5L1314.5 639.6L1314.7 638.6L1315.0 637.6L1315.3 636.7L1315.5 635.7L1315.8 634.8L1316.1 633.8L1316.3 632.8L1316.6 631.9L1316.8 630.9L1317.1 629.9L1317.3 629.0L1317.6 628.0L1317.9 627.0L1318.1 626.1L1318.4 625.1L1318.6 624.1L1318.9 623.1L1319.1 622.2L1319.4 621.2L1319.6 620.2L1319.8 619.3L1320.1 618.3L1320.3 617.3L1320.5 616.4L1320.8 615.4L1321.0 614.4L1321.2 613.4L1321.4 612.5L1321.7 611.5L1321.9 610.5L1322.1 609.5L1322.3 608.6L1322.5 607.6L1322.7 606.6L1322.9 605.6L1323.1 604.6L1323.3 603.7L1323.5 602.7L1323.7 601.7L1323.9 600.7L1324.1 599.7L1324.3 598.8L1324.5 597.8L1324.7 596.8L1324.9 595.8L1325.1 594.8L1325.3 593.9L1325.5 592.9L1325.7 591.9L1325.9 590.9L1326.1 589.9L1326.3 588.9L1326.5 588.0L1326.7 587.0L1326.9 586.0L1327.1 585.0L1327.3 584.0L1327.5 583.1L1327.7 582.1L1327.9 581.1L1328.0 580.1L1328.2 579.1L1328.4 578.2L1328.6 577.2L1328.8 576.2L1329.0 575.2L1329.2 574.2L1329.4 573.2L1329.6 572.3L1329.7 571.3L1329.9 570.3L1330.1 569.3L1330.3 568.3L1330.5 567.3L1330.6 566.4L1330.8 565.4L1331.0 564.4L1331.2 563.4L1331.3 562.4L1331.5 561.4L1331.7 560.4L1331.8 559.5L1332.0 558.5L1332.2 557.5L1332.3 556.5L1332.5 555.5L1332.7 554.5L1332.8 553.5L1333.0 552.6L1333.1 551.6L1333.3 550.6L1333.4 549.6L1333.6 548.6L1333.8 547.6L1333.9 546.6L1334.1 545.6L1334.2 544.6L1334.4 543.7L1334.5 542.7L1334.7 541.7L1334.8 540.7L1335.0 539.7L1335.1 538.7L1335.3 537.7L1335.4 536.7L1335.6 535.8L1335.8 534.8L1335.9 533.8L1336.1 532.8L1336.2 531.8L1336.4 530.8L1336.5 529.8L1336.7 528.8L1336.8 527.8L1337.0 526.9L1337.1 525.9L1337.3 524.9L1337.5 523.9L1337.6 522.9L1337.8 521.9L1337.9 520.9L1338.1 519.9L1338.2 519.0L1338.4 518.0L1338.5 517.0L1338.7 516.0L1338.8 515.0L1339.0 514.0L1339.1 513.0L1339.3 512.0L1339.4 511.0L1339.6 510.1L1339.7 509.1L1339.9 508.1L1340.1 507.1L1340.2 506.1L1340.4 505.1L1340.5 504.1L1340.7 503.1L1340.8 502.1L1341.0 501.2L1341.1 500.2L1341.3 499.2L1341.4 498.2L1341.6 497.2L1341.7 496.2L1341.9 495.2L1342.0 494.2L1342.2 493.2L1342.3 492.3L1342.5 491.3L1342.7 490.3L1342.8 489.3L1343.0 488.3L1343.2 487.3L1343.3 486.3L1343.5 485.4L1343.7 484.4L1343.8 483.4L1344.0 482.4L1344.2 481.4L1344.4 480.4L1344.5 479.4L1344.7 478.5L1344.9 477.5L1345.1 476.5L1345.3 475.5L1345.5 474.5L1345.6 473.6L1345.8 472.6L1346.0 471.6L1346.2 470.6L1346.4 469.6L1346.6 468.6L1346.8 467.7L1347.0 466.7L1347.2 465.7L1347.4 464.7L1347.7 463.8L1347.9 462.8L1348.1 461.8L1348.3 460.8L1348.5 459.8L1348.7 458.9L1348.9 457.9L1349.1 456.9L1349.3 455.9L1349.5 454.9L1349.7 454.0L1349.9 453.0L1350.1 452.0L1350.4 451.0L1350.6 450.1L1350.8 449.1L1351.0 448.1L1351.2 447.1L1351.4 446.1L1351.6 445.2L1351.8 444.2L1352.0 443.2L1352.2 442.2L1352.4 441.2L1352.6 440.3L1352.8 439.3L1353.0 438.3L1353.2 437.3L1353.4 436.3L1353.5 435.4L1353.7 434.4L1353.9 433.4L1354.1 432.4L1354.3 431.4L1354.5 430.4L1354.7 429.5L1354.9 428.5L1355.1 427.5L1355.3 426.5L1355.5 425.5L1355.6 424.6L1355.8 423.6L1356.0 422.6L1356.2 421.6L1356.4 420.6L1356.6 419.6L1356.8 418.7L1357.0 417.7L1357.2 416.7L1357.4 415.7L1357.6 414.7L1357.7 413.8L1357.9 412.8L1358.1 411.8L1358.3 410.8L1358.5 409.8L1358.7 408.9L1359.0 407.9L1359.2 406.9L1359.4 405.9L1359.6 404.9L1359.8 404.0L1360.0 403.0L1360.2 402.0L1360.4 401.0L1360.6 400.1L1360.9 399.1L1361.1 398.1L1361.3 397.1L1361.5 396.1L1361.7 395.2L1362.0 394.2L1362.2 393.2L1362.4 392.2L1362.6 391.3L1362.9 390.3L1363.1 389.3L1363.3 388.4L1363.6 387.4L1363.8 386.4L1364.0 385.4L1364.3 384.5L1364.5 383.5L1364.7 382.5L1365.0 381.6L1365.2 380.6L1365.5 379.6L1365.7 378.7L1365.9 377.7L1366.2 376.7L1366.4 375.8L1366.7 374.8L1367.0 373.8L1367.2 372.9L1367.5 371.9L1367.7 370.9L1368.0 370.0L1368.3 369.0L1368.5 368.0L1368.8 367.1L1369.1 366.1L1369.3 365.2L1369.6 364.2L1369.9 363.3L1370.2 362.3L1370.5 361.3L1370.8 360.4L1371.1 359.4L1371.4 358.5L1371.6 357.5L1371.9 356.5L1372.2 355.6L1372.5 354.6L1372.8 353.6L1373.1 352.7L1373.4 351.7L1373.7 350.7L1374.0 349.8L1374.3 348.8L1374.6 347.8L1374.9 346.8L1375.2 345.8L1375.5 344.9L1375.9 343.9L1376.2 342.9L1376.5 341.9L1376.8 340.9L1377.1 339.9L1377.4 338.9L1377.7 337.9L1378.1 336.9L1378.4 335.9L1378.7 334.9L1379.1 333.9L1379.4 332.9L1379.7 331.9L1380.1 330.9L1380.5 329.9L1380.8 328.9L1381.2 328.0L1381.6 327.0L1382.0 326.1L1382.5 325.1L1382.9 324.2L1383.4 323.3L1383.9 322.5L1384.4 321.6L1384.9 320.8L1385.4 320.0L1386.0 319.3L1386.6 318.6L1387.3 317.9L1387.9 317.2L1388.6 316.6L1389.3 316.1L1390.0 315.6L1390.7 315.2L1391.5 314.8L1392.2 314.5L1393.0 314.2L1393.8 314.1L1394.5 314.0L1395.3 313.9L1396.1 314.0L1396.9 314.1L1397.6 314.3L1398.4 314.6L1399.1 314.9L1399.8 315.3L1400.5 315.8L1401.1 316.3L1401.8 316.9L1402.4 317.5L1403.0 318.2L1403.5 318.9L1404.1 319.7L1404.6 320.5L1405.1 321.3L1405.5 322.2L1406.0 323.0L1406.4 323.9L1406.8 324.8L1407.2 325.8L1407.6 326.7L1407.9 327.7L1408.2 328.7L1408.6 329.7L1408.9 330.7L1409.2 331.7L1409.5 332.7L1409.8 333.8L1410.0 334.8L1410.3 335.8L1410.5 336.9L1410.8 337.9L1411.0 338.9L1411.3 339.9L1411.5 341.0L1411.8 342.0L1412.0 343.0L1412.2 344.0L1412.4 345.0L1412.6 346.0L1412.9 347.0L1413.1 348.1L1413.3 349.1L1413.5 350.1L1413.7 351.1L1413.9 352.1L1414.1 353.1L1414.3 354.1L1414.5 355.1L1414.7 356.1L1414.9 357.0L1415.1 358.0L1415.3 359.0L1415.5 360.0L1415.7 361.0L1415.9 362.0L1416.0 363.0L1416.2 363.9L1416.4 364.9L1416.6 365.9L1416.8 366.9L1417.0 367.9L1417.2 368.8L1417.4 369.8L1417.6 370.8L1417.8 371.8L1418.0 372.8L1418.1 373.7L1418.3 374.7L1418.5 375.7L1418.7 376.7L1418.9 377.7L1419.1 378.6L1419.3 379.6L1419.4 380.6L1419.6 381.6L1419.8 382.6L1420.0 383.6L1420.1 384.5L1420.3 385.5L1420.5 386.5L1420.7 387.5L1420.8 388.5L1421.0 389.5L1421.1 390.4L1421.3 391.4L1421.5 392.4L1421.6 393.4L1421.8 394.4L1421.9 395.4L1422.1 396.4L1422.2 397.4L1422.4 398.3L1422.5 399.3L1422.7 400.3L1422.8 401.3L1423.0 402.3L1423.1 403.3L1423.3 404.3L1423.4 405.3L1423.6 406.3L1423.7 407.2L1423.8 408.2L1424.0 409.2L1424.1 410.2L1424.2 411.2L1424.4 412.2L1424.5 413.2L1424.6 414.2L1424.8 415.2L1424.9 416.2L1425.0 417.2L1425.1 418.2L1425.2 419.2L1425.4 420.1L1425.5 421.1L1425.6 422.1L1425.7 423.1L1425.8 424.1L1425.9 425.1L1426.0 426.1L1426.1 427.1L1426.2 428.1L1426.3 429.1L1426.4 430.1L1426.5 431.1L1426.6 432.1L1426.7 433.1L1426.8 434.1L1426.9 435.1L1427.0 436.1L1427.1 437.1L1427.2 438.1L1427.3 439.1L1427.4 440.0L1427.4 441.0L1427.5 442.0L1427.6 443.0L1427.7 444.0L1427.8 445.0L1427.9 446.0L1427.9 447.0L1428.0 448.0L1428.1 449.0L1428.2 450.0L1428.3 451.0L1428.4 452.0L1428.4 453.0L1428.5 454.0L1428.6 455.0L1428.7 456.0L1428.8 457.0L1428.8 458.0L1428.9 459.0L1429.0 460.0L1429.1 461.0L1429.2 462.0L1429.2 463.0L1429.3 464.0L1429.4 465.0L1429.5 466.0L1429.6 467.0L1429.7 468.0L1429.7 469.0L1429.8 470.0L1429.9 471.0L1430.0 472.0L1430.1 473.0L1430.1 473.9L1430.2 474.9L1430.3 475.9L1430.4 476.9L1430.5 477.9L1430.5 478.9L1430.6 479.9L1430.7 480.9L1430.8 481.9L1430.9 482.9L1430.9 483.9L1431.0 484.9L1431.1 485.9L1431.2 486.9L1431.3 487.9L1431.3 488.9L1431.4 489.9L1431.5 490.9L1431.6 491.9L1431.7 492.9L1431.7 493.9L1431.8 494.9L1431.9 495.9L1432.0 496.9L1432.1 497.9L1432.1 498.9L1432.2 499.9L1432.3 500.9L1432.4 501.9L1432.4 502.9L1432.5 503.9L1432.6 504.9L1432.7 505.9L1432.8 506.8L1432.8 507.8L1432.9 508.8L1433.0 509.8L1433.1 510.8L1433.1 511.8L1433.2 512.8L1433.3 513.8L1433.4 514.8L1433.5 515.8L1433.5 516.8L1433.6 517.8L1433.7 518.8L1433.8 519.8L1433.8 520.8L1433.9 521.8L1434.0 522.8L1434.1 523.8L1434.1 524.8L1434.2 525.8L1434.3 526.8L1434.4 527.8L1434.5 528.8L1434.5 529.8L1434.6 530.8L1434.7 531.8L1434.8 532.8L1434.9 533.8L1434.9 534.8L1435.0 535.8L1435.1 536.8L1435.2 537.8L1435.3 538.8L1435.3 539.8L1435.4 540.8L1435.5 541.7L1435.6 542.7L1435.7 543.7L1435.7 544.7L1435.8 545.7L1435.9 546.7L1436.0 547.7L1436.1 548.7L1436.2 549.7L1436.2 550.7L1436.3 551.7L1436.4 552.7L1436.5 553.7L1436.6 554.7L1436.7 555.7L1436.8 556.7L1436.8 557.7L1436.9 558.7L1437.0 559.7L1437.1 560.7L1437.2 561.7L1437.3 562.7L1437.4 563.7L1437.4 564.7L1437.5 565.7L1437.6 566.7L1437.7 567.7L1437.8 568.7L1437.9 569.7L1438.0 570.6L1438.1 571.6L1438.1 572.6L1438.2 573.6L1438.3 574.6L1438.4 575.6L1438.5 576.6L1438.6 577.6L1438.7 578.6L1438.8 579.6L1438.8 580.6L1438.9 581.6L1439.0 582.6L1439.1 583.6L1439.2 584.6L1439.3 585.6L1439.4 586.6L1439.5 587.6L1439.5 588.6L1439.6 589.6L1439.7 590.6L1439.8 591.6L1439.9 592.6L1440.0 593.6L1440.0 594.6L1440.1 595.6L1440.2 596.6L1440.3 597.6L1440.4 598.6L1440.5 599.5L1440.5 600.5L1440.6 601.5L1440.7 602.5L1440.8 603.5L1440.9 604.5L1441.0 605.5L1441.0 606.5L1441.1 607.5L1441.2 608.5L1441.3 609.5L1441.4 610.5L1441.4 611.5L1441.5 612.5L1441.6 613.5L1441.7 614.5L1441.8 615.5L1441.8 616.5L1441.9 617.5L1442.0 618.5L1442.1 619.5L1442.2 620.5L1442.2 621.5L1442.3 622.5L1442.4 623.5L1442.5 624.5L1442.6 625.5L1442.6 626.5L1442.7 627.5L1442.8 628.5L1442.9 629.5L1443.0 630.5L1443.0 631.5L1443.1 632.4L1443.2 633.4L1443.3 634.4L1443.4 635.4L1443.5 636.4L1443.5 637.4L1443.6 638.4L1443.7 639.4L1443.8 640.4L1443.9 641.4L1444.0 642.4L1444.0 643.4L1444.1 644.4L1444.2 645.4L1444.3 646.4L1444.4 647.4L1444.5 648.4L1444.6 649.4L1444.7 650.4L1444.8 651.4L1444.8 652.4L1444.9 653.4L1445.0 654.4L1445.1 655.4L1445.2 656.4L1445.3 657.4L1445.4 658.4L1445.5 659.4L1445.6 660.3L1445.6 661.3L1445.7 662.3L1445.8 663.3L1445.9 664.3L1446.0 665.3L1446.1 666.3L1446.2 667.3L1446.3 668.3L1446.4 669.3L1446.5 670.3L1446.5 671.3L1446.6 672.3L1446.7 673.3L1446.8 674.3L1446.9 675.3L1447.0 676.3L1447.1 677.3L1447.2 678.3L1447.2 679.3L1447.3 680.3L1447.4 681.3L1447.5 682.3L1447.6 683.3L1447.7 684.3L1447.8 685.3L1447.8 686.3L1447.9 687.2L1448.0 688.2L1448.1 689.2L1448.2 690.2L1448.3 691.2L1448.3 692.2L1448.4 693.2L1448.5 694.2L1448.6 695.2L1448.7 696.2L1448.7 697.2L1448.8 698.2L1448.9 699.2L1449.0 700.2L1449.1 701.2L1449.1 702.2L1449.2 703.2L1449.3 704.2L1449.4 705.2L1449.4 706.2L1449.5 707.2L1449.6 708.2L1449.7 709.2L1449.8 710.2L1449.8 711.2L1449.9 712.2L1450.0 713.2L1450.1 714.2L1450.1 715.2L1450.2 716.2L1450.3 717.2L1450.4 718.2L1450.4 719.2L1450.5 720.2L1450.6 721.2L1450.7 722.2L1450.7 723.1L1450.8 724.1L1450.9 725.1L1451.0 726.1L1451.0 727.1L1451.1 728.1L1451.2 729.1L1451.3 730.1L1451.3 731.1L1451.4 732.1L1451.5 733.1L1451.5 734.1L1451.6 735.1L1451.7 736.1L1451.8 737.1L1451.8 738.1L1451.9 739.1L1452.0 740.1L1452.1 741.1L1452.1 742.1L1452.2 743.1L1452.3 744.1L1452.4 745.1L1452.4 746.1L1452.5 747.1L1452.6 748.1L1452.6 749.1L1452.7 750.1L1452.8 751.1L1452.9 752.1L1452.9 753.1L1453.0 754.1L1453.1 755.1L1453.2 756.1L1453.2 757.1L1453.3 758.1L1453.4 759.1L1453.5 760.1L1453.5 761.1L1453.6 762.1L1453.7 763.0L1453.7 764.0L1453.8 765.0L1453.9 766.0L1454.0 767.0L1454.0 768.0L1454.1 769.0L1454.2 770.0L1454.2 771.0L1454.3 772.0L1454.4 773.0L1454.5 774.0L1454.5 775.0L1454.6 776.0L1454.7 777.0L1454.7 778.0L1454.8 779.0L1454.9 780.0L1455.0 781.0L1455.0 782.0L1455.1 783.0L1455.2 784.0L1455.2 785.0L1455.3 786.0L1455.4 787.0L1455.5 788.0L1455.5 789.0L1455.6 790.0L1455.7 791.0L1455.7 792.0L1455.8 793.0L1455.9 794.0L1455.9 795.0L1456.0 796.0L1456.1 797.0L1456.2 798.0L1456.2 799.0L1456.3 800.0L1456.4 801.0L1456.4 802.0L1456.5 803.0L1456.6 804.0L1456.6 805.0L1456.7 806.0L1456.8 806.9L1456.8 807.9L1456.9 808.9L1457.0 809.9L1457.1 810.9L1457.1 811.9L1457.2 812.9L1457.3 813.9L1457.3 814.9L1457.4 815.9L1457.5 816.9L1457.5 817.9L1457.6 818.9L1457.7 819.9L1457.7 820.9L1457.8 821.9L1457.9 822.9L1457.9 823.9L1458.0 824.9L1458.1 825.9L1458.1 826.9L1458.2 827.9L1458.3 828.9L1458.3 829.9L1458.4 830.9L1458.5 831.9L1458.5 832.9L1458.6 833.9L1458.7 834.9L1458.7 835.9L1458.8 836.9L1458.9 837.9L1458.9 838.9L1459.0 839.9L1459.1 840.9L1459.1 841.9L1459.2 842.9L1459.3 843.9L1459.4 844.9L1459.4 845.9L1459.5 846.9L1459.6 847.9L1459.6 848.9L1459.7 849.9L1459.8 850.9L1459.8 851.9L1459.9 852.9L1460.0 853.9L1460.0 854.9L1460.1 855.9L1460.2 856.8L1460.3 857.8L1460.3 858.8L1460.4 859.8L1460.5 860.8L1460.5 861.8L1460.6 862.8L1460.7 863.8L1460.8 864.8L1460.8 865.8L1460.9 866.8L1461.0 867.8L1461.0 868.8L1461.1 869.8L1461.2 870.8L1461.3 871.8L1461.3 872.8L1461.4 873.8L1461.5 874.8L1461.6 875.8L1461.6 876.8L1461.7 877.8L1461.8 878.8L1461.9 879.8L1461.9 880.8L1462.0 881.8L1462.1 882.8L1462.2 883.8L1462.2 884.8L1462.3 885.8L1462.4 886.8L1462.5 887.8L1462.5 888.8L1462.6 889.8L1462.7 890.8L1462.8 891.8L1462.9 892.8L1462.9 893.8L1463.0 894.8L1463.1 895.7L1463.2 896.7L1463.3 897.7L1463.3 898.7L1463.4 899.7L1463.5 900.7L1463.6 901.7L1463.7 902.7L1463.8 903.7L1463.8 904.7L1463.9 905.7L1464.0 906.7L1464.1 907.7L1464.2 908.7L1464.3 909.7L1464.4 910.7L1464.5 911.7L1464.5 912.7L1464.6 913.7L1464.7 914.7L1464.8 915.7L1464.9 916.7L1465.0 917.7L1465.1 918.7L1465.2 919.7L1465.3 920.7L1465.4 921.7L1465.4 922.6L1465.5 923.6L1465.6 924.6L1465.7 925.6L1465.8 926.6L1465.9 927.6L1466.0 928.6L1466.1 929.6L1466.2 930.6L1466.3 931.6L1466.4 932.6L1466.5 933.6L1466.6 934.6L1466.7 935.6L1466.8 936.6L1466.9 937.6L1467.0 938.6L1467.1 939.6L1467.2 940.6L1467.3 941.6L1467.4 942.6L1467.5 943.5L1467.6 944.5L1467.7 945.5L1467.8 946.5L1467.9 947.5L1468.1 948.5L1468.2 949.5L1468.3 950.5L1468.4 951.5L1468.5 952.5L1468.6 953.5L1468.7 954.5L1468.8 955.5L1468.9 956.5L1469.0 957.5L1469.1 958.5L1469.2 959.5L1469.4 960.5L1469.5 961.4L1469.6 962.4L1469.7 963.4L1469.8 964.4L1469.9 965.4L1470.0 966.4L1470.1 967.4L1470.3 968.4L1470.4 969.4L1470.5 970.4L1470.6 971.4L1470.7 972.4L1470.8 973.4L1470.9 974.4L1471.1 975.4L1471.2 976.4L1471.3 977.3L1471.4 978.3L1471.5 979.3L1471.6 980.3L1471.8 981.3L1471.9 982.3L1472.0 983.3L1472.1 984.3L1472.2 985.3L1472.3 986.3L1472.5 987.3L1472.6 988.3L1472.7 989.3L1472.8 990.3L1472.9 991.3L1473.1 992.2L1473.2 993.2L1473.3 994.2L1473.4 995.2L1473.5 996.2L1473.7 997.2L1473.8 998.2L1473.9 999.2L1474.0 1000.2L1474.1 1001.2L1474.3 1002.2L1474.4 1003.2L1474.5 1004.2L1474.6 1005.2L1474.7 1006.2L1474.9 1007.1L1475.0 1008.1L1475.1 1009.1L1475.2 1010.1L1475.3 1011.1L1475.5 1012.1L1475.6 1013.1L1475.7 1014.1L1475.8 1015.1L1475.9 1016.1L1476.1 1017.1L1476.2 1018.1L1476.3 1019.1L1476.4 1020.1L1476.5 1021.0L1476.7 1022.0L1476.8 1023.0L1476.9 1024.0L1477.0 1025.0L1477.1 1026.0L1477.3 1027.0L1477.4 1028.0L1477.5 1029.0L1477.6 1030.0L1477.7 1031.0L1477.9 1032.0L1478.0 1033.0L1478.1 1034.0L1478.2 1034.9L1478.3 1035.9L1478.4 1036.9L1478.6 1037.9L1478.7 1038.9L1478.8 1039.9L1478.9 1040.9L1479.0 1041.9L1479.1 1042.9L1479.3 1043.9L1479.4 1044.9L1479.5 1045.9L1479.6 1046.9L1479.7 1047.9L1479.8 1048.9L1479.9 1049.9L1480.1 1050.8L1480.2 1051.8L1480.3 1052.8L1480.4 1053.8L1480.5 1054.8L1480.6 1055.8L1480.7 1056.8L1480.8 1057.8L1481.0 1058.8L1481.1 1059.8L1481.2 1060.8L1481.3 1061.8L1481.4 1062.8L1481.5 1063.8L1481.6 1064.8L1481.7 1065.8L1481.8 1066.7L1482.0 1067.7L1482.1 1068.7L1482.2 1069.7L1482.3 1070.7L1482.4 1071.7L1482.5 1072.7L1482.6 1073.7L1482.7 1074.7L1482.8 1075.7L1483.0 1076.7L1483.1 1077.7L1483.2 1078.7L1483.3 1079.7L1483.4 1080.7L1483.5 1081.7L1483.6 1082.7L1483.7 1083.6L1483.9 1084.6L1484.0 1085.6L1484.1 1086.6L1484.2 1087.6L1484.3 1088.6L1484.4 1089.6L1484.5 1090.6L1484.7 1091.6L1484.8 1092.6L1484.9 1093.6L1485.0 1094.6L1485.1 1095.6L1485.2 1096.6L1485.4 1097.6L1485.5 1098.5L1485.6 1099.5L1485.7 1100.5L1485.8 1101.5L1486.0 1102.5L1486.1 1103.5L1486.2 1104.5L1486.3 1105.5L1486.4 1106.5L1486.6 1107.5L1486.7 1108.5L1486.8 1109.5L1486.9 1110.5L1487.1 1111.5L1487.2 1112.4L1487.3 1113.4L1487.5 1114.4L1487.6 1115.4L1487.7 1116.4L1487.8 1117.4L1488.0 1118.4L1488.1 1119.4L1488.2 1120.4L1488.4 1121.4L1488.5 1122.4L1488.6 1123.4L1488.8 1124.3L1488.9 1125.3L1489.1 1126.3L1489.2 1127.3L1489.3 1128.3L1489.5 1129.3L1489.6 1130.3L1489.8 1131.3L1489.9 1132.3L1490.0 1133.3L1490.2 1134.2L1490.3 1135.2L1490.5 1136.2L1490.6 1137.2L1490.8 1138.2L1490.9 1139.2L1491.1 1140.2L1491.2 1141.2L1491.4 1142.2L1491.5 1143.2L1491.7 1144.1L1491.8 1145.1L1492.0 1146.1L1492.1 1147.1L1492.3 1148.1L1492.4 1149.1L1492.6 1150.1L1492.8 1151.1L1492.9 1152.0L1493.1 1153.0L1493.2 1154.0L1493.4 1155.0L1493.6 1156.0L1493.7 1157.0L1493.9 1158.0L1494.1 1158.9L1494.2 1159.9L1494.4 1160.9L1494.6 1161.9L1494.7 1162.9L1494.9 1163.9L1495.1 1164.9L1495.3 1165.8L1495.4 1166.8L1495.6 1167.8L1495.8 1168.8L1495.9 1169.8L1496.1 1170.8L1496.3 1171.8L1496.5 1172.7L1496.6 1173.7L1496.8 1174.7L1497.0 1175.7L1497.2 1176.7L1497.3 1177.7L1497.5 1178.7L1497.7 1179.6L1497.9 1180.6L1498.0 1181.6L1498.2 1182.6L1498.4 1183.6L1498.6 1184.6L1498.7 1185.5L1498.9 1186.5L1499.1 1187.5L1499.3 1188.5L1499.4 1189.5L1499.6 1190.5L1499.8 1191.5L1499.9 1192.4L1500.1 1193.4L1500.3 1194.4L1500.5 1195.4L1500.6 1196.4L1500.8 1197.4L1501.0 1198.4L1501.1 1199.3L1501.3 1200.3L1501.5 1201.3L1501.6 1202.3L1501.8 1203.3L1502.0 1204.3L1502.1 1205.3L1502.3 1206.3L1502.4 1207.2L1502.6 1208.2L1502.8 1209.2L1502.9 1210.2L1503.1 1211.2L1503.2 1212.2L1503.4 1213.2L1503.6 1214.2L1503.7 1215.1L1503.9 1216.1L1504.0 1217.1L1504.2 1218.1L1504.4 1219.1L1504.5 1220.1L1504.7 1221.1L1504.9 1222.0L1505.0 1223.0L1505.2 1224.0L1505.4 1225.0L1505.5 1226.0L1505.7 1227.0L1505.9 1228.0L1506.1 1228.9L1506.3 1229.9L1506.4 1230.9L1506.6 1231.9L1506.8 1232.9L1507.0 1233.9L1507.2 1234.8L1507.4 1235.8L1507.6 1236.8L1507.8 1237.8L1508.0 1238.8L1508.2 1239.7L1508.4 1240.7L1508.6 1241.7L1508.8 1242.7L1509.0 1243.6L1509.2 1244.6L1509.5 1245.6L1509.7 1246.6L1509.9 1247.6L1510.1 1248.5L1510.3 1249.5L1510.6 1250.5L1510.8 1251.5L1511.0 1252.4L1511.2 1253.4L1511.5 1254.4L1511.7 1255.3L1511.9 1256.3L1512.2 1257.3L1512.4 1258.3L1512.7 1259.2L1512.9 1260.2L1513.1 1261.2L1513.4 1262.1L1513.6 1263.1L1513.9 1264.1L1514.1 1265.1L1514.4 1266.0L1514.6 1267.0L1514.9 1268.0L1515.1 1268.9L1515.4 1269.9L1515.7 1270.9L1515.9 1271.8L1516.2 1272.8L1516.4 1273.8L1516.7 1274.7L1517.0 1275.7L1517.2 1276.7L1517.5 1277.6L1517.8 1278.6L1518.0 1279.5L1518.3 1280.5L1518.6 1281.5L1518.8 1282.4L1519.1 1283.4L1519.4 1284.4L1519.7 1285.3L1519.9 1286.3L1520.2 1287.2L1520.5 1288.2L1520.8 1289.2L1521.1 1290.1L1521.4 1291.1L1521.6 1292.0L1521.9 1293.0L1522.2 1294.0L1522.5 1294.9L1522.8 1295.9L1523.1 1296.8L1523.4 1297.8L1523.7 1298.7L1524.0 1299.7L1524.3 1300.6L1524.6 1301.6L1524.9 1302.6L1525.2 1303.5L1525.5 1304.5L1525.8 1305.4L1526.1 1306.4L1526.4 1307.3L1526.7 1308.3L1527.1 1309.2L1527.4 1310.2L1527.7 1311.1L1528.0 1312.1L1528.3 1313.0L1528.7 1314.0L1529.0 1314.9L1529.3 1315.8L1529.6 1316.8L1530.0 1317.7L1530.3 1318.7L1530.6 1319.6L1531.0 1320.6L1531.3 1321.5L1531.7 1322.4L1532.0 1323.4L1532.4 1324.3L1532.7 1325.3L1533.1 1326.2L1533.4 1327.1L1533.8 1328.1L1534.1 1329.0L1534.5 1329.9L1534.9 1330.9L1535.2 1331.8L1535.6 1332.7L1536.0 1333.6L1536.4 1334.6L1536.7 1335.5L1537.1 1336.4L1537.5 1337.3L1537.9 1338.3L1538.3 1339.2L1538.7 1340.1L1539.1 1341.0L1539.5 1342.0L1539.9 1342.9L1540.3 1343.8L1540.7 1344.7L1541.1 1345.6L1541.5 1346.5L1541.9 1347.4L1542.4 1348.3L1542.8 1349.3L1543.2 1350.2L1543.6 1351.1L1544.1 1352.0L1544.5 1352.9L1545.0 1353.8L1545.4 1354.7L1545.9 1355.6L1546.3 1356.5L1546.8 1357.3L1547.2 1358.2L1547.7 1359.1L1548.2 1360.0L1548.7 1360.9L1549.1 1361.8L1549.6 1362.6L1550.1 1363.5L1550.6 1364.4L1551.1 1365.3L1551.6 1366.1L1552.1 1367.0L1552.7 1367.8L1553.2 1368.7L1553.7 1369.5L1554.3 1370.4L1554.8 1371.2L1555.4 1372.0L1555.9 1372.9L1556.5 1373.7L1557.1 1374.5L1557.7 1375.3L1558.2 1376.1L1558.8 1376.9L1559.5 1377.7L1560.1 1378.5L1560.7 1379.3L1561.3 1380.0L1562.0 1380.8L1562.6 1381.6L1563.3 1382.3L1563.9 1383.1L1564.6 1383.8L1565.3 1384.5L1566.0 1385.3L1566.7 1386.0L1567.4 1386.7L1568.1 1387.4L1568.8 1388.1L1569.5 1388.8L1570.3 1389.5L1571.0 1390.1L1571.8 1390.8L1572.5 1391.5L1573.3 1392.1L1574.0 1392.8L1574.8 1393.4L1575.6 1394.0L1576.4 1394.7L1577.2 1395.3L1578.0 1395.9L1578.8 1396.5L1579.6 1397.1L1580.4 1397.7L1581.2 1398.2L1582.0 1398.8L1582.9 1399.4L1583.7 1399.9L1584.5 1400.5L1585.4 1401.0L1586.2 1401.6L1587.1 1402.1L1587.9 1402.6L1588.8 1403.1L1589.7 1403.6L1590.5 1404.1L1591.4 1404.6L1592.3 1405.1L1593.2 1405.6L1594.1 1406.1L1594.9 1406.5L1595.8 1407.0L1596.7 1407.5L1597.6 1407.9L1598.5 1408.3L1599.4 1408.8L1600.3 1409.2L1601.2 1409.6L1602.1 1410.0L1603.0 1410.4L1604.0 1410.8L1604.9 1411.1L1605.8 1411.5L1606.7 1411.8L1607.7 1412.2L1608.6 1412.5L1609.6 1412.8L1610.5 1413.1L1611.5 1413.3L1612.4 1413.6L1613.4 1413.8L1614.4 1414.1L1615.3 1414.3L1616.3 1414.5L1617.3 1414.7L1618.3 1414.9L1619.2 1415.1L1620.2 1415.3L1621.2 1415.4L1622.2 1415.6L1623.2 1415.8L1624.2 1415.9L1625.2 1416.0L1626.1 1416.2L1627.1 1416.3L1628.1 1416.4L1629.1 1416.6L1630.1 1416.7L1631.1 1416.8L1632.1 1416.9L1633.1 1417.0L1634.1 1417.1L1635.1 1417.2L1636.1 1417.3L1637.1 1417.4L1638.1 1417.5L1639.1 1417.6L1640.1 1417.7L1641.1 1417.8L1642.1 1417.9L1643.1 1418.0L1644.1 1418.1L1645.1 1418.2L1646.1 1418.3L1647.1 1418.4L1648.1 1418.4L1649.1 1418.5L1650.1 1418.6L1651.1 1418.7L1652.1 1418.8L1653.1 1418.8L1654.1 1418.9L1655.1 1419.0L1656.1 1419.1L1657.1 1419.1L1658.1 1419.2L1659.1 1419.3L1660.1 1419.3L1661.1 1419.4L1662.1 1419.5L1663.1 1419.6L1664.1 1419.6L1665.1 1419.7L1666.1 1419.8L1667.1 1419.9L1668.1 1419.9L1669.1 1420.0L1670.1 1420.1L1671.1 1420.1L1672.1 1420.2L1673.1 1420.3L1674.1 1420.3L1675.1 1420.4L1676.0 1420.5L1677.0 1420.6L1678.0 1420.6L1679.0 1420.7L1680.0 1420.8L1681.0 1420.8L1682.0 1420.9L1683.0 1421.0L1684.0 1421.0L1685.0 1421.1L1686.0 1421.1L1687.0 1421.2L1688.0 1421.3L1689.0 1421.3L1690.0 1421.4L1691.0 1421.5L1692.0 1421.5L1693.0 1421.6L1694.0 1421.6L1695.0 1421.7L1696.0 1421.8L1697.0 1421.8L1698.0 1421.9L1699.0 1421.9L1700.0 1422.0L1701.0 1422.0L1702.0 1422.1L1703.0 1422.2L1704.0 1422.2L1705.0 1422.3L1706.0 1422.3L1707.0 1422.4L1708.0 1422.4L1709.0 1422.5L1710.0 1422.5L1711.0 1422.6L1712.0 1422.6L1713.0 1422.7L1714.0 1422.7L1715.0 1422.7L1716.0 1422.8L1717.0 1422.8L1718.0 1422.9L1719.0 1422.9L1720.0 1423.0L1721.0 1423.0L1722.0 1423.0L1723.0 1423.1L1724.0 1423.1L1725.0 1423.2L1726.0 1423.2L1727.0 1423.2L1728.0 1423.3L1729.0 1423.3L1730.0 1423.4L1731.0 1423.4L1732.0 1423.4L1733.0 1423.5L1734.0 1423.5L1735.0 1423.5L1736.0 1423.6L1737.0 1423.6L1738.0 1423.6L1739.0 1423.7L1740.0 1423.7L1741.0 1423.7L1742.0 1423.8L1743.0 1423.8L1744.0 1423.8L1745.0 1423.9L1746.0 1423.9L1747.0 1423.9L1748.0 1423.9L1749.0 1424.0L1750.0 1424.0L1751.0 1424.0L1752.0 1424.1L1753.0 1424.1L1754.0 1424.1L1755.0 1424.1L1756.0 1424.2L1757.0 1424.2L1758.0 1424.2L1759.0 1424.2L1760.0 1424.3L1761.0 1424.3L1762.0 1424.3L1763.0 1424.3L1764.0 1424.3L1765.0 1424.4L1766.0 1424.4L1767.0 1424.4L1768.0 1424.4L1769.0 1424.5L1770.0 1424.5L1771.0 1424.5L1772.0 1424.5L1773.0 1424.5L1774.0 1424.5L1775.0 1424.6L1776.0 1424.6L1777.0 1424.6L1778.0 1424.6L1779.0 1424.6L1780.0 1424.7L1781.0 1424.7L1782.0 1424.7L1783.0 1424.7L1784.0 1424.7L1785.0 1424.7L1786.0 1424.7L1787.0 1424.8L1788.0 1424.8L1789.0 1424.8L1790.0 1424.8L1791.0 1424.8L1792.0 1424.8L1793.0 1424.8L1794.0 1424.9L1795.0 1424.9L1796.0 1424.9L1797.0 1424.9L1798.0 1424.9L1799.0 1424.9L1800.0 1424.9L1801.0 1424.9L1802.0 1424.9L1803.0 1425.0L1804.0 1425.0L1805.0 1425.0L1806.0 1425.0L1807.0 1425.0L1808.0 1425.0L1809.0 1425.0L1810.0 1425.0L1811.0 1425.0L1812.0 1425.0L1813.0 1425.0L1814.0 1425.0L1815.0 1425.1L1816.0 1425.1L1817.0 1425.1L1818.0 1425.1L1819.0 1425.1L1820.0 1425.1L1821.0 1425.1L1822.0 1425.1L1823.0 1425.1L1824.0 1425.1L1825.0 1425.1L1826.0 1425.1L1827.0 1425.1L1828.0 1425.1L1829.0 1425.1L1830.0 1425.1L1831.0 1425.1L1832.0 1425.1L1833.0 1425.1L1834.0 1425.1L1835.0 1425.1L1836.0 1425.1L1837.0 1425.2L1838.0 1425.2L1839.0 1425.2L1840.0 1425.2L1841.0 1425.2L1842.0 1425.2L1843.0 1425.2L1844.0 1425.2L1845.0 1425.2L1846.0 1425.2L1847.0 1425.2L1848.0 1425.2L1849.0 1425.2L1850.0 1425.2L1851.0 1425.2L1852.0 1425.2L1853.0 1425.2L1854.0 1425.2L1855.0 1425.2L1856.0 1425.2L1857.0 1425.2L1858.0 1425.2L1859.0 1425.2L1860.0 1425.2L1861.0 1425.2L1862.0 1425.2L1863.0 1425.2L1864.0 1425.2L1865.0 1425.1L1866.0 1425.1L1867.0 1425.1L1868.0 1425.1L1869.0 1425.1L1870.0 1425.1L1871.0 1425.1L1872.0 1425.1L1873.0 1425.1L1874.0 1425.1L1875.0 1425.1L1876.0 1425.1L1877.0 1425.1L1878.0 1425.1L1879.0 1425.1L1880.0 1425.1L1881.0 1425.1L1882.0 1425.1L1883.0 1425.1L1884.0 1425.1L1885.0 1425.1L1886.0 1425.1L1887.0 1425.1L1888.0 1425.1L1889.0 1425.1L1890.0 1425.1L1891.0 1425.1L1892.0 1425.1L1893.0 1425.1L1894.0 1425.1L1895.0 1425.1L1896.0 1425.1L1897.0 1425.0L1898.0 1425.0L1899.0 1425.0L1900.0 1425.0L1901.0 1425.0L1902.0 1425.0L1903.0 1425.0L1903.9 1425.0L1904.8 1425.0L1905.6 1425.0L1906.2 1425.0L1908.0 1425.0" stroke="#505050"/>
<path d="M271.0 1297.0L272.0 1296.8L273.0 1296.7L274.0 1296.5L275.0 1296.3L276.0 1296.2L277.0 1296.0L278.0 1295.9L279.0 1295.7L280.0 1295.6L281.0 1295.4L282.0 1295.3L283.0 1295.1L284.0 1295.0L285.0 1294.8L286.0 1294.7L287.0 1294.6L288.0 1294.4L289.0 1294.3L290.0 1294.1L291.0 1294.0L292.0 1293.8L293.0 1293.7L294.0 1293.5L295.0 1293.4L296.0 1293.2L297.0 1293.1L298.0 1293.0L299.0 1292.8L300.0 1292.7L301.0 1292.5L302.0 1292.4L303.0 1292.3L304.0 1292.1L305.0 1292.0L306.0 1291.8L307.0 1291.7L308.0 1291.6L309.0 1291.4L310.0 1291.3L311.0 1291.2L312.0 1291.0L313.0 1290.9L314.0 1290.8L315.0 1290.6L316.0 1290.5L317.0 1290.4L318.0 1290.2L319.0 1290.1L320.0 1290.0L321.0 1289.9L322.0 1289.8L323.0 1289.6L324.0 1289.5L325.0 1289.4L326.0 1289.3L327.0 1289.2L328.0 1289.1L329.0 1288.9L330.0 1288.8L331.0 1288.7L332.0 1288.6L333.0 1288.5L334.0 1288.4L335.0 1288.3L336.0 1288.2L337.0 1288.1L338.0 1288.1L339.0 1288.0L340.0 1287.9L341.0 1287.8L342.0 1287.7L343.0 1287.7L344.0 1287.6L345.0 1287.5L346.0 1287.5L347.0 1287.4L348.0 1287.3L349.0 1287.3L350.0 1287.2L351.0 1287.2L352.0 1287.1L353.0 1287.1L354.0 1287.0L355.0 1287.0L356.0 1287.0L357.0 1286.9L358.0 1286.9L359.0 1286.9L360.0 1286.8L361.0 1286.8L362.0 1286.8L363.0 1286.8L364.0 1286.8L365.0 1286.8L366.0 1286.8L367.0 1286.8L368.0 1286.8L369.0 1286.8L370.0 1286.8L371.0 1286.8L372.0 1286.8L373.0 1286.8L374.0 1286.9L375.0 1286.9L376.0 1286.9L377.0 1287.0L378.0 1287.0L379.0 1287.0L380.0 1287.1L381.0 1287.2L382.0 1287.2L383.0 1287.3L384.0 1287.3L385.0 1287.4L386.0 1287.5L387.0 1287.6L388.0 1287.6L389.0 1287.7L390.0 1287.8L391.0 1287.9L392.0 1288.0L393.0 1288.1L394.0 1288.2L395.0 1288.3L396.0 1288.4L397.0 1288.5L398.0 1288.7L399.0 1288.8L400.0 1288.9L401.0 1289.1L402.0 1289.2L403.0 1289.3L404.0 1289.5L405.0 1289.6L406.0 1289.8L407.0 1289.9L408.0 1290.1L409.0 1290.3L410.0 1290.4L411.0 1290.6L412.0 1290.8L413.0 1291.0L414.0 1291.1L415.0 1291.3L416.0 1291.5L417.0 1291.7L418.0 1291.9L419.0 1292.1L420.0 1292.3L421.0 1292.5L422.0 1292.8L423.0 1293.0L424.0 1293.2L425.0 1293.4L426.0 1293.7L427.0 1293.9L428.0 1294.1L429.0 1294.4L430.0 1294.6L431.0 1294.9L432.0 1295.1L433.0 1295.4L434.0 1295.6L435.0 1295.9L436.0 1296.2L437.0 1296.4L438.0 1296.7L439.0 1297.0L440.0 1297.2L441.0 1297.5L442.0 1297.8L443.0 1298.1L444.0 1298.4L445.0 1298.6L446.0 1298.9L447.0 1299.2L448.0 1299.5L449.0 1299.8L450.0 1300.1L451.0 1300.4L452.0 1300.7L453.0 1301.0L454.0 1301.3L455.0 1301.6L456.0 1301.9L457.0 1302.2L458.0 1302.5L459.0 1302.8L460.0 1303.1L461.0 1303.3L462.0 1303.6L463.0 1303.9L464.0 1304.2L465.0 1304.5L466.0 1304.8L467.0 1305.1L468.0 1305.4L469.0 1305.7L470.0 1306.0L471.0 1306.3L472.0 1306.6L473.0 1306.9L474.0 1307.1L475.0 1307.4L476.0 1307.7L477.0 1308.0L478.0 1308.3L479.0 1308.5L480.0 1308.8L481.0 1309.1L482.0 1309.3L483.0 1309.6L484.0 1309.9L485.0 1310.1L486.0 1310.4L487.0 1310.6L488.0 1310.9L489.0 1311.1L490.0 1311.3L491.0 1311.6L492.0 1311.8L493.0 1312.0L494.0 1312.3L495.0 1312.5L496.0 1312.7L497.0 1312.9L498.0 1313.1L499.0 1313.3L500.0 1313.5L501.0 1313.7L502.0 1313.9L503.0 1314.1L504.0 1314.3L505.0 1314.5L506.0 1314.7L507.0 1314.9L508.0 1315.0L509.0 1315.2L510.0 1315.4L511.0 1315.5L512.0 1315.7L513.0 1315.8L514.0 1316.0L515.0 1316.1L516.0 1316.2L517.0 1316.4L518.0 1316.5L519.0 1316.6L520.0 1316.7L521.0 1316.8L522.0 1316.9L523.0 1317.0L524.0 1317.1L525.0 1317.1L526.0 1317.2L527.0 1317.3L528.0 1317.3L529.0 1317.4L530.0 1317.4L531.0 1317.4L532.0 1317.4L533.0 1317.4L534.0 1317.4L535.0 1317.4L536.0 1317.4L537.0 1317.4L538.0 1317.3L539.0 1317.3L540.0 1317.2L541.0 1317.2L542.0 1317.1L543.0 1317.0L544.0 1316.9L545.0 1316.8L546.0 1316.7L547.0 1316.5L548.0 1316.4L549.0 1316.2L550.0 1316.0L551.0 1315.9L552.0 1315.7L553.0 1315.5L554.0 1315.3L555.0 1315.0L556.0 1314.8L557.0 1314.6L558.0 1314.3L559.0 1314.0L560.0 1313.8L561.0 1313.5L562.0 1313.2L563.0 1312.8L564.0 1312.5L565.0 1312.2L566.0 1311.8L567.0 1311.5L568.0 1311.1L569.0 1310.7L570.0 1310.3L571.0 1309.9L572.0 1309.5L573.0 1309.1L574.0 1308.6L575.0 1308.2L576.0 1307.7L577.0 1307.2L578.0 1306.8L579.0 1306.3L580.0 1305.8L581.0 1305.3L582.0 1304.8L583.0 1304.2L584.0 1303.7L585.0 1303.2L586.0 1302.6L587.0 1302.1L588.0 1301.5L589.0 1301.0L590.0 1300.4L591.0 1299.8L592.0 1299.2L593.0 1298.6L594.0 1298.0L595.0 1297.4L596.0 1296.8L597.0 1296.2L598.0 1295.6L599.0 1295.0L600.0 1294.4L601.0 1293.7L602.0 1293.1L603.0 1292.5L604.0 1291.8L605.0 1291.2L606.0 1290.5L607.0 1289.9L608.0 1289.2L609.0 1288.5L610.0 1287.9L611.0 1287.2L612.0 1286.5L613.0 1285.8L614.0 1285.1L615.0 1284.3L616.0 1283.6L617.0 1282.9L618.0 1282.1L619.0 1281.3L620.0 1280.5L621.0 1279.7L622.0 1278.9L623.0 1278.1L624.0 1277.3L625.0 1276.5L626.0 1275.6L627.0 1274.7L628.0 1273.8L629.0 1272.9L630.0 1272.0L631.0 1271.1L632.0 1270.2L633.0 1269.2L634.0 1268.2L635.0 1267.2L636.0 1266.2L637.0 1265.2L638.0 1264.2L639.0 1263.1L640.0 1262.0L641.0 1261.0L642.0 1259.8L643.0 1258.7L644.0 1257.6L645.0 1256.4L646.0 1255.2L647.0 1254.0L648.0 1252.7L649.0 1251.5L650.0 1250.2L651.0 1248.9L652.0 1247.6L653.0 1246.3L654.0 1245.0L655.0 1243.6L656.0 1242.3L657.0 1240.9L658.0 1239.5L659.0 1238.1L660.0 1236.8L661.0 1235.3L662.0 1233.9L663.0 1232.5L664.0 1231.1L665.0 1229.7L666.0 1228.2L667.0 1226.8L668.0 1225.3L669.0 1223.9L670.0 1222.4L671.0 1220.9L672.0 1219.4L673.0 1217.9L674.0 1216.5L675.0 1215.0L676.0 1213.4L677.0 1211.9L678.0 1210.4L679.0 1208.9L680.0 1207.4L681.0 1205.8L682.0 1204.3L683.0 1202.7L684.0 1201.2L685.0 1199.6L686.0 1198.1L687.0 1196.5L688.0 1194.9L689.0 1193.3L690.0 1191.7L691.0 1190.2L692.0 1188.6L693.0 1187.0L694.0 1185.4L695.0 1183.8L696.0 1182.2L697.0 1180.5L698.0 1178.9L699.0 1177.3L700.0 1175.7L701.0 1174.0L702.0 1172.4L703.0 1170.8L704.0 1169.1L705.0 1167.5L706.0 1165.8L707.0 1164.1L708.0 1162.5L709.0 1160.8L710.0 1159.1L711.0 1157.5L712.0 1155.8L713.0 1154.1L714.0 1152.4L715.0 1150.7L716.0 1149.0L717.0 1147.3L718.0 1145.6L719.0 1143.9L720.0 1142.2L721.0 1140.5L722.0 1138.8L723.0 1137.1L724.0 1135.3L725.0 1133.6L726.0 1131.9L727.0 1130.1L728.0 1128.4L729.0 1126.7L730.0 1124.9L731.0 1123.2L732.0 1121.5L733.0 1119.7L734.0 1118.0L735.0 1116.3L736.0 1114.5L737.0 1112.8L738.0 1111.1L739.0 1109.4L740.0 1107.6L741.0 1105.9L742.0 1104.2L743.0 1102.5L744.0 1100.8L745.0 1099.2L746.0 1097.5L747.0 1095.8L748.0 1094.1L749.0 1092.5L750.0 1090.8L751.0 1089.2L752.0 1087.6L753.0 1085.9L754.0 1084.3L755.0 1082.7L756.0 1081.1L757.0 1079.5L758.0 1077.9L759.0 1076.3L760.0 1074.7L761.0 1073.2L762.0 1071.6L763.0 1070.1L764.0 1068.5L765.0 1067.0L766.0 1065.5L767.0 1063.9L768.0 1062.4L769.0 1060.9L770.0 1059.4L771.0 1057.9L772.0 1056.4L773.0 1054.9L774.0 1053.5L775.0 1052.0L776.0 1050.6L777.0 1049.1L778.0 1047.7L779.0 1046.2L780.0 1044.8L781.0 1043.4L782.0 1042.0L783.0 1040.6L784.0 1039.2L785.0 1037.8L786.0 1036.4L787.0 1035.0L788.0 1033.6L789.0 1032.3L790.0 1030.9L791.0 1029.6L792.0 1028.2L793.0 1026.9L794.0 1025.6L795.0 1024.2L796.0 1022.9L797.0 1021.6L798.0 1020.3L799.0 1019.0L800.0 1017.7L801.0 1016.5L802.0 1015.2L803.0 1013.9L804.0 1012.6L805.0 1011.4L806.0 1010.1L807.0 1008.9L808.0 1007.7L809.0 1006.4L810.0 1005.2L811.0 1004.0L812.0 1002.8L813.0 1001.6L814.0 1000.4L815.0 999.2L816.0 998.0L817.0 996.8L818.0 995.7L819.0 994.5L820.0 993.3L821.0 992.2L822.0 991.1L823.0 990.0L824.0 988.9L825.0 987.8L826.0 986.7L827.0 985.6L828.0 984.6L829.0 983.5L830.0 982.5L831.0 981.5L832.0 980.5L833.0 979.6L834.0 978.6L835.0 977.7L836.0 976.8L837.0 975.9L838.0 975.0L839.0 974.1L840.0 973.3L841.0 972.5L842.0 971.7L843.0 970.9L844.0 970.1L845.0 969.4L846.0 968.7L847.0 967.9L848.0 967.3L849.0 966.6L850.0 965.9L851.0 965.3L852.0 964.7L853.0 964.1L854.0 963.6L855.0 963.0L856.0 962.5L857.0 962.0L858.0 961.5L859.0 961.0L860.0 960.5L861.0 960.1L862.0 959.7L863.0 959.3L864.0 958.9L865.0 958.5L866.0 958.2L867.0 957.9L868.0 957.5L869.0 957.2L870.0 957.0L871.0 956.7L872.0 956.5L873.0 956.2L874.0 956.0L875.0 955.8L876.0 955.7L877.0 955.5L878.0 955.4L879.0 955.3L880.0 955.2L881.0 955.1L882.0 955.0L883.0 955.0L884.0 954.9L885.0 954.9L886.0 954.9L887.0 955.0L888.0 955.0L889.0 955.1L890.0 955.2L891.0 955.3L892.0 955.4L893.0 955.5L894.0 955.7L895.0 955.8L896.0 956.0L897.0 956.2L898.0 956.5L899.0 956.7L900.0 957.0L901.0 957.2L902.0 957.5L903.0 957.8L904.0 958.2L905.0 958.5L906.0 958.9L907.0 959.2L908.0 959.6L909.0 960.0L910.0 960.4L911.0 960.8L912.0 961.3L913.0 961.7L914.0 962.2L915.0 962.7L916.0 963.2L917.0 963.7L918.0 964.2L919.0 964.7L920.0 965.3L921.0 965.8L922.0 966.4L923.0 967.0L924.0 967.6L925.0 968.2L926.0 968.8L927.0 969.5L928.0 970.1L929.0 970.8L930.0 971.4L931.0 972.1L932.0 972.8L933.0 973.5L934.0 974.2L935.0 975.0L936.0 975.7L937.0 976.5L938.0 977.2L939.0 978.0L940.0 978.8L941.0 979.6L942.0 980.4L943.0 981.2L944.0 982.0L945.0 982.8L946.0 983.7L947.0 984.6L948.0 985.4L949.0 986.3L950.0 987.2L951.0 988.1L952.0 989.1L953.0 990.0L954.0 991.0L955.0 991.9L956.0 992.9L957.0 993.9L958.0 994.9L959.0 996.0L960.0 997.0L961.0 998.1L962.0 999.2L963.0 1000.3L964.0 1001.4L965.0 1002.6L966.0 1003.7L967.0 1004.9L968.0 1006.1L969.0 1007.4L970.0 1008.6L971.0 1009.9L972.0 1011.2L973.0 1012.5L974.0 1013.8L975.0 1015.2L976.0 1016.6L977.0 1018.0L978.0 1019.4L979.0 1020.8L980.0 1022.3L981.0 1023.8L982.0 1025.3L983.0 1026.8L984.0 1028.3L985.0 1029.8L986.0 1031.4L987.0 1032.9L988.0 1034.5L989.0 1036.1L990.0 1037.7L991.0 1039.3L992.0 1040.9L993.0 1042.6L994.0 1044.2L995.0 1045.8L996.0 1047.5L997.0 1049.1L998.0 1050.8L999.0 1052.5L1000.0 1054.2L1001.0 1055.8L1002.0 1057.5L1003.0 1059.3L1004.0 1061.0L1005.0 1062.7L1006.0 1064.4L1007.0 1066.2L1008.0 1067.9L1009.0 1069.7L1010.0 1071.5L1011.0 1073.3L1012.0 1075.1L1013.0 1076.9L1014.0 1078.8L1015.0 1080.6L1016.0 1082.5L1017.0 1084.4L1018.0 1086.3L1019.0 1088.2L1020.0 1090.2L1021.0 1092.2L1022.0 1094.1L1023.0 1096.2L1024.0 1098.2L1025.0 1100.3L1026.0 1102.4L1027.0 1104.5L1028.0 1106.7L1029.0 1108.9L1030.0 1111.2L1031.0 1113.4L1032.0 1115.8L1033.0 1118.1L1034.0 1120.5L1035.0 1122.9L1036.0 1125.3L1037.0 1127.7L1038.0 1130.2L1039.0 1132.6L1040.0 1135.1L1041.0 1137.6L1042.0 1140.0L1043.0 1142.5L1044.0 1144.9L1045.0 1147.4L1046.0 1149.8L1047.0 1152.2L1048.0 1154.5L1049.0 1156.9L1050.0 1159.2L1051.0 1161.4L1052.0 1163.7L1053.0 1165.9L1054.0 1168.1L1055.0 1170.2L1056.0 1172.3L1057.0 1174.4L1058.0 1176.5L1059.0 1178.6L1060.0 1180.6L1061.0 1182.7L1062.0 1184.8L1063.0 1186.8L1064.0 1188.9L1065.0 1191.0L1066.0 1193.1L1067.0 1195.3L1068.0 1197.4L1069.0 1199.6L1070.0 1201.8L1071.0 1204.1L1072.0 1206.5L1073.0 1208.9L1074.0 1211.3L1075.0 1213.9L1076.0 1216.5L1077.0 1219.2L1078.0 1221.9L1079.0 1224.7L1080.0 1227.6L1081.0 1230.5L1082.0 1233.4L1083.0 1236.4L1084.0 1239.4L1085.0 1242.4L1086.0 1245.3L1087.0 1248.3L1088.0 1251.2L1089.0 1254.0L1090.0 1256.8L1091.0 1259.5L1092.0 1262.2L1093.0 1264.7L1094.0 1267.2L1095.0 1269.6L1096.0 1272.0L1097.0 1274.3L1098.0 1276.5L1099.0 1278.8L1100.0 1280.9L1101.0 1283.0L1102.0 1285.1L1103.0 1287.2L1104.0 1289.2L1105.0 1291.2L1106.0 1293.2L1107.0 1295.1L1108.0 1297.0L1109.0 1298.9L1110.0 1300.8L1111.0 1302.6L1112.0 1304.4L1113.0 1306.3L1114.0 1308.0L1115.0 1309.8L1116.0 1311.6L1117.0 1313.3L1118.0 1315.1L1119.0 1316.8L1120.0 1318.5L1121.0 1320.2L1122.0 1321.9L1123.0 1323.6L1124.0 1325.3L1125.0 1326.9L1126.0 1328.6L1127.0 1330.2L1128.0 1331.9L1129.0 1333.5L1130.0 1335.1L1131.0 1336.7L1132.0 1338.3L1133.0 1339.9L1134.0 1341.5L1135.0 1343.0L1136.0 1344.6L1137.0 1346.1L1138.0 1347.6L1139.0 1349.1L1140.0 1350.5L1141.0 1352.0L1142.0 1353.4L1143.0 1354.8L1144.0 1356.2L1145.0 1357.5L1146.0 1358.9L1147.0 1360.2L1148.0 1361.5L1149.0 1362.8L1150.0 1364.0L1151.0 1365.3L1152.0 1366.5L1153.0 1367.7L1154.0 1368.8L1155.0 1370.0L1156.0 1371.1L1157.0 1372.2L1158.0 1373.3L1159.0 1374.3L1160.0 1375.4L1161.0 1376.4L1162.0 1377.4L1163.0 1378.4L1164.0 1379.4L1165.0 1380.3L1166.0 1381.2L1167.0 1382.2L1168.0 1383.0L1169.0 1383.9L1170.0 1384.8L1171.0 1385.6L1172.0 1386.5L1173.0 1387.3L1174.0 1388.1L1175.0 1388.9L1176.0 1389.7L1177.0 1390.4L1178.0 1391.2L1179.0 1391.9L1180.0 1392.7L1181.0 1393.4L1182.0 1394.1L1183.0 1394.8L1184.0 1395.4L1185.0 1396.1L1186.0 1396.8L1187.0 1397.4L1188.0 1398.1L1189.0 1398.7L1190.0 1399.3L1191.0 1399.9L1192.0 1400.5L1193.0 1401.1L1194.0 1401.7L1195.0 1402.2L1196.0 1402.8L1197.0 1403.3L1198.0 1403.9L1199.0 1404.4L1200.0 1404.9L1201.0 1405.4L1202.0 1405.9L1203.0 1406.4L1204.0 1406.9L1205.0 1407.4L1206.0 1407.9L1207.0 1408.3L1208.0 1408.8L1209.0 1409.2L1210.0 1409.7L1211.0 1410.1L1212.0 1410.5L1213.0 1410.9L1214.0 1411.3L1215.0 1411.7L1216.0 1412.1L1217.0 1412.5L1218.0 1412.9L1219.0 1413.3L1220.0 1413.6L1221.0 1414.0L1222.0 1414.3L1223.0 1414.7L1224.0 1415.0L1225.0 1415.3L1226.0 1415.6L1227.0 1415.9L1228.0 1416.2L1229.0 1416.5L1230.0 1416.8L1231.0 1417.1L1232.0 1417.4L1233.0 1417.7L1234.0 1417.9L1235.0 1418.2L1236.0 1418.4L1237.0 1418.7L1238.0 1418.9L1239.0 1419.1L1240.0 1419.4L1241.0 1419.6L1242.0 1419.8L1243.0 1420.0L1244.0 1420.2L1245.0 1420.4L1246.0 1420.6L1247.0 1420.8L1248.0 1420.9L1249.0 1421.1L1250.0 1421.3L1251.0 1421.4L1252.0 1421.6L1253.0 1421.8L1254.0 1421.9L1255.0 1422.0L1256.0 1422.2L1257.0 1422.3L1258.0 1422.4L1259.0 1422.6L1260.0 1422.7L1261.0 1422.8L1262.0 1422.9L1263.0 1423.0L1264.0 1423.1L1265.0 1423.2L1266.0 1423.3L1267.0 1423.4L1268.0 1423.5L1269.0 1423.6L1270.0 1423.7L1271.0 1423.8L1272.0 1423.9L1273.0 1423.9L1274.0 1424.0L1275.0 1424.1L1276.0 1424.2L1277.0 1424.2L1278.0 1424.3L1279.0 1424.3L1280.0 1424.4L1281.0 1424.5L1282.0 1424.5L1283.0 1424.6L1284.0 1424.6L1285.0 1424.7L1286.0 1424.7L1287.0 1424.8L1288.0 1424.8L1289.0 1424.8L1290.0 1424.9L1291.0 1424.9L1292.0 1425.0L1293.0 1425.0L1294.0 1425.0L1295.0 1425.1L1296.0 1425.1L1297.0 1425.1L1298.0 1425.2L1299.0 1425.2L1300.0 1425.2L1301.0 1425.3L1302.0 1425.3L1303.0 1425.3L1304.0 1425.4L1305.0 1425.4L1306.0 1425.4L1307.0 1425.5L1308.0 1425.5L1309.0 1425.5L1310.0 1425.6L1311.0 1425.6L1312.0 1425.6L1313.0 1425.6L1314.0 1425.7L1315.0 1425.7L1316.0 1425.7L1317.0 1425.7L1318.0 1425.8L1319.0 1425.8L1320.0 1425.8L1321.0 1425.8L1322.0 1425.9L1323.0 1425.9L1324.0 1425.9L1325.0 1425.9L1326.0 1426.0L1327.0 1426.0L1328.0 1426.0L1329.0 1426.0L1330.0 1426.0L1331.0 1426.1L1332.0 1426.1L1333.0 1426.1L1334.0 1426.1L1335.0 1426.1L1336.0 1426.2L1337.0 1426.2L1338.0 1426.2L1339.0 1426.2L1340.0 1426.2L1341.0 1426.3L1342.0 1426.3L1343.0 1426.3L1344.0 1426.3L1345.0 1426.3L1346.0 1426.4L1347.0 1426.4L1348.0 1426.4L1349.0 1426.4L1350.0 1426.4L1351.0 1426.4L1352.0 1426.5L1353.0 1426.5L1354.0 1426.5L1355.0 1426.5L1356.0 1426.5L1357.0 1426.5L1358.0 1426.5L1359.0 1426.6L1360.0 1426.6L1361.0 1426.6L1362.0 1426.6L1363.0 1426.6L1364.0 1426.6L1365.0 1426.6L1366.0 1426.6L1367.0 1426.7L1368.0 1426.7L1369.0 1426.7L1370.0 1426.7L1371.0 1426.7L1372.0 1426.7L1373.0 1426.7L1374.0 1426.7L1375.0 1426.8L1376.0 1426.8L1377.0 1426.8L1378.0 1426.8L1379.0 1426.8L1380.0 1426.8L1381.0 1426.8L1382.0 1426.8L1383.0 1426.8L1384.0 1426.9L1385.0 1426.9L1386.0 1426.9L1387.0 1426.9L1388.0 1426.9L1389.0 1426.9L1390.0 1426.9L1391.0 1426.9L1392.0 1426.9L1393.0 1426.9L1394.0 1427.0L1395.0 1427.0L1396.0 1427.0L1397.0 1427.0L1398.0 1427.0L1399.0 1427.0L1400.0 1427.0L1401.0 1427.0L1402.0 1427.0L1403.0 1427.0L1404.0 1427.0L1405.0 1427.1L1406.0 1427.1L1407.0 1427.1L1408.0 1427.1L1409.0 1427.1L1410.0 1427.1L1411.0 1427.1L1412.0 1427.1L1413.0 1427.1L1414.0 1427.1L1415.0 1427.1L1416.0 1427.1L1417.0 1427.2L1418.0 1427.2L1419.0 1427.2L1420.0 1427.2L1421.0 1427.2L1422.0 1427.2L1423.0 1427.2L1424.0 1427.2L1425.0 1427.2L1426.0 1427.2L1427.0 1427.2L1428.0 1427.2L1429.0 1427.2L1430.0 1427.3L1431.0 1427.3L1432.0 1427.3L1433.0 1427.3L1434.0 1427.3L1435.0 1427.3L1436.0 1427.3L1437.0 1427.3L1438.0 1427.3L1439.0 1427.3L1440.0 1427.3L1441.0 1427.3L1442.0 1427.3L1443.0 1427.3L1444.0 1427.4L1445.0 1427.4L1446.0 1427.4L1447.0 1427.4L1448.0 1427.4L1449.0 1427.4L1450.0 1427.4L1451.0 1427.4L1452.0 1427.4L1453.0 1427.4L1454.0 1427.4L1455.0 1427.4L1456.0 1427.4L1457.0 1427.4L1458.0 1427.4L1459.0 1427.5L1460.0 1427.5L1461.0 1427.5L1462.0 1427.5L1463.0 1427.5L1464.0 1427.5L1465.0 1427.5L1466.0 1427.5L1467.0 1427.5L1468.0 1427.5L1469.0 1427.5L1470.0 1427.5L1471.0 1427.5L1472.0 1427.5L1473.0 1427.5L1474.0 1427.5L1475.0 1427.5L1476.0 1427.5L1477.0 1427.6L1478.0 1427.6L1479.0 1427.6L1480.0 1427.6L1481.0 1427.6L1482.0 1427.6L1483.0 1427.6L1484.0 1427.6L1485.0 1427.6L1486.0 1427.6L1487.0 1427.6L1488.0 1427.6L1489.0 1427.6L1490.0 1427.6L1491.0 1427.6L1492.0 1427.6L1493.0 1427.6L1494.0 1427.6L1495.0 1427.6L1496.0 1427.6L1497.0 1427.6L1498.0 1427.7L1499.0 1427.7L1500.0 1427.7L1501.0 1427.7L1502.0 1427.7L1503.0 1427.7L1504.0 1427.7L1505.0 1427.7L1506.0 1427.7L1507.0 1427.7L1508.0 1427.7L1509.0 1427.7L1510.0 1427.7L1511.0 1427.7L1512.0 1427.7L1513.0 1427.7L1514.0 1427.7L1515.0 1427.7L1516.0 1427.7L1517.0 1427.7L1518.0 1427.7L1519.0 1427.7L1520.0 1427.7L1521.0 1427.7L1522.0 1427.7L1523.0 1427.7L1524.0 1427.7L1525.0 1427.8L1526.0 1427.8L1527.0 1427.8L1528.0 1427.8L1529.0 1427.8L1530.0 1427.8L1531.0 1427.8L1532.0 1427.8L1533.0 1427.8L1534.0 1427.8L1535.0 1427.8L1536.0 1427.8L1537.0 1427.8L1538.0 1427.8L1539.0 1427.8L1540.0 1427.8L1541.0 1427.8L1542.0 1427.8L1543.0 1427.8L1544.0 1427.8L1545.0 1427.8L1546.0 1427.8L1547.0 1427.8L1548.0 1427.8L1549.0 1427.8L1550.0 1427.8L1551.0 1427.8L1552.0 1427.8L1553.0 1427.8L1554.0 1427.8L1555.0 1427.8L1556.0 1427.8L1557.0 1427.8L1558.0 1427.8L1559.0 1427.8L1560.0 1427.8L1561.0 1427.8L1562.0 1427.8L1563.0 1427.8L1564.0 1427.8L1565.0 1427.8L1566.0 1427.8L1567.0 1427.8L1568.0 1427.9L1569.0 1427.9L1570.0 1427.9L1571.0 1427.9L1572.0 1427.9L1573.0 1427.9L1574.0 1427.9L1575.0 1427.9L1576.0 1427.9L1577.0 1427.9L1578.0 1427.9L1579.0 1427.9L1580.0 1427.9L1581.0 1427.9L1582.0 1427.9L1583.0 1427.9L1584.0 1427.9L1585.0 1427.9L1586.0 1427.9L1587.0 1427.9L1588.0 1427.9L1589.0 1427.9L1590.0 1427.9L1591.0 1427.9L1592.0 1427.9L1593.0 1427.9L1594.0 1427.9L1595.0 1427.9L1596.0 1427.9L1597.0 1427.9L1598.0 1427.9L1599.0 1427.9L1600.0 1427.9L1601.0 1427.9L1602.0 1427.9L1603.0 1427.9L1604.0 1427.9L1605.0 1427.9L1606.0 1427.9L1607.0 1427.9L1608.0 1427.9L1609.0 1427.9L1610.0 1427.9L1611.0 1427.9L1612.0 1427.9L1613.0 1427.9L1614.0 1427.9L1615.0 1427.9L1616.0 1427.9L1617.0 1427.9L1618.0 1427.9L1619.0 1427.9L1620.0 1427.9L1621.0 1427.9L1622.0 1427.9L1623.0 1427.9L1624.0 1427.9L1625.0 1427.9L1626.0 1427.9L1627.0 1427.9L1628.0 1427.9L1629.0 1427.9L1630.0 1427.9L1631.0 1427.9L1632.0 1427.9L1633.0 1427.9L1634.0 1427.9L1635.0 1427.9L1636.0 1427.9L1637.0 1427.9L1638.0 1427.9L1639.0 1427.9L1640.0 1427.9L1641.0 1427.9L1642.0 1427.9L1643.0 1427.9L1644.0 1427.9L1645.0 1427.9L1646.0 1427.9L1647.0 1427.9L1648.0 1427.9L1649.0 1427.9L1650.0 1427.9L1651.0 1427.9L1652.0 1427.9L1653.0 1427.9L1654.0 1427.9L1655.0 1427.9L1656.0 1427.9L1657.0 1427.9L1658.0 1427.9L1659.0 1427.9L1660.0 1427.9L1661.0 1427.9L1662.0 1427.9L1663.0 1427.8L1664.0 1427.8L1665.0 1427.8L1666.0 1427.8L1667.0 1427.8L1668.0 1427.8L1669.0 1427.8L1670.0 1427.8L1671.0 1427.8L1672.0 1427.8L1673.0 1427.8L1674.0 1427.8L1675.0 1427.8L1676.0 1427.8L1677.0 1427.8L1678.0 1427.8L1679.0 1427.8L1680.0 1427.8L1681.0 1427.8L1682.0 1427.8L1683.0 1427.8L1684.0 1427.8L1685.0 1427.8L1686.0 1427.8L1687.0 1427.8L1688.0 1427.8L1689.0 1427.8L1690.0 1427.8L1691.0 1427.8L1692.0 1427.8L1693.0 1427.8L1694.0 1427.8L1695.0 1427.8L1696.0 1427.8L1697.0 1427.8L1698.0 1427.8L1699.0 1427.8L1700.0 1427.8L1701.0 1427.8L1702.0 1427.8L1703.0 1427.8L1704.0 1427.8L1705.0 1427.8L1706.0 1427.8L1707.0 1427.8L1708.0 1427.8L1709.0 1427.8L1710.0 1427.8L1711.0 1427.8L1712.0 1427.8L1713.0 1427.8L1714.0 1427.7L1715.0 1427.7L1716.0 1427.7L1717.0 1427.7L1718.0 1427.7L1719.0 1427.7L1720.0 1427.7L1721.0 1427.7L1722.0 1427.7L1723.0 1427.7L1724.0 1427.7L1725.0 1427.7L1726.0 1427.7L1727.0 1427.7L1728.0 1427.7L1729.0 1427.7L1730.0 1427.7L1731.0 1427.7L1732.0 1427.7L1733.0 1427.7L1734.0 1427.7L1735.0 1427.7L1736.0 1427.7L1737.0 1427.7L1738.0 1427.7L1739.0 1427.7L1740.0 1427.7L1741.0 1427.7L1742.0 1427.7L1743.0 1427.7L1744.0 1427.7L1745.0 1427.7L1746.0 1427.7L1747.0 1427.7L1748.0 1427.7L1749.0 1427.6L1750.0 1427.6L1751.0 1427.6L1752.0 1427.6L1753.0 1427.6L1754.0 1427.6L1755.0 1427.6L1756.0 1427.6L1757.0 1427.6L1758.0 1427.6L1759.0 1427.6L1760.0 1427.6L1761.0 1427.6L1762.0 1427.6L1763.0 1427.6L1764.0 1427.6L1765.0 1427.6L1766.0 1427.6L1767.0 1427.6L1768.0 1427.6L1769.0 1427.6L1770.0 1427.6L1771.0 1427.6L1772.0 1427.6L1773.0 1427.6L1774.0 1427.6L1775.0 1427.6L1776.0 1427.6L1777.0 1427.6L1778.0 1427.5L1779.0 1427.5L1780.0 1427.5L1781.0 1427.5L1782.0 1427.5L1783.0 1427.5L1784.0 1427.5L1785.0 1427.5L1786.0 1427.5L1787.0 1427.5L1788.0 1427.5L1789.0 1427.5L1790.0 1427.5L1791.0 1427.5L1792.0 1427.5L1793.0 1427.5L1794.0 1427.5L1795.0 1427.5L1796.0 1427.5L1797.0 1427.5L1798.0 1427.5L1799.0 1427.5L1800.0 1427.5L1801.0 1427.5L1802.0 1427.5L1803.0 1427.5L1804.0 1427.4L1805.0 1427.4L1806.0 1427.4L1807.0 1427.4L1808.0 1427.4L1809.0 1427.4L1810.0 1427.4L1811.0 1427.4L1812.0 1427.4L1813.0 1427.4L1814.0 1427.4L1815.0 1427.4L1816.0 1427.4L1817.0 1427.4L1818.0 1427.4L1819.0 1427.4L1820.0 1427.4L1821.0 1427.4L1822.0 1427.4L1823.0 1427.4L1824.0 1427.4L1825.0 1427.4L1826.0 1427.4L1827.0 1427.4L1828.0 1427.4L1829.0 1427.3L1830.0 1427.3L1831.0 1427.3L1832.0 1427.3L1833.0 1427.3L1834.0 1427.3L1835.0 1427.3L1836.0 1427.3L1837.0 1427.3L1838.0 1427.3L1839.0 1427.3L1840.0 1427.3L1841.0 1427.3L1842.0 1427.3L1843.0 1427.3L1844.0 1427.3L1845.0 1427.3L1846.0 1427.3L1847.0 1427.3L1848.0 1427.3L1849.0 1427.3L1850.0 1427.3L1851.0 1427.3L1852.0 1427.2L1853.0 1427.2L1854.0 1427.2L1855.0 1427.2L1856.0 1427.2L1857.0 1427.2L1858.0 1427.2L1859.0 1427.2L1860.0 1427.2L1861.0 1427.2L1862.0 1427.2L1863.0 1427.2L1864.0 1427.2L1865.0 1427.2L1866.0 1427.2L1867.0 1427.2L1868.0 1427.2L1869.0 1427.2L1870.0 1427.2L1871.0 1427.2L1872.0 1427.2L1873.0 1427.2L1874.0 1427.2L1875.0 1427.1L1876.0 1427.1L1877.0 1427.1L1878.0 1427.1L1879.0 1427.1L1880.0 1427.1L1881.0 1427.1L1882.0 1427.1L1883.0 1427.1L1884.0 1427.1L1885.0 1427.1L1886.0 1427.1L1887.0 1427.1L1888.0 1427.1L1889.0 1427.1L1890.0 1427.1L1891.0 1427.1L1892.0 1427.1L1893.0 1427.1L1894.0 1427.1L1895.0 1427.1L1896.0 1427.1L1897.0 1427.0L1898.0 1427.0L1899.0 1427.0L1900.0 1427.0L1901.0 1427.0L1902.0 1427.0L1903.0 1427.0L1904.0 1427.0L1905.0 1427.0L1906.0 1427.0L1907.0 1427.0L1908.0 1427.0" stroke="#800000"/>
<path d="M271.0 1241.0L272.0 1240.8L273.0 1240.6L274.0 1240.4L275.0 1240.3L276.0 1240.4L277.0 1240.5L278.0 1240.6L279.0 1240.6L280.0 1240.7L281.0 1240.8L282.0 1240.9L283.0 1241.0L284.0 1241.1L285.0 1241.2L286.0 1241.3L287.0 1241.5L288.0 1241.6L289.0 1241.7L290.0 1241.8L291.0 1242.0L292.0 1242.1L293.0 1242.3L294.0 1242.4L295.0 1242.6L296.0 1242.8L297.0 1242.9L298.0 1243.1L299.0 1243.3L300.0 1243.5L301.0 1243.7L302.0 1243.9L303.0 1244.2L304.0 1244.4L305.0 1244.6L306.0 1244.9L307.0 1245.1L308.0 1245.4L309.0 1245.6L310.0 1245.9L311.0 1246.1L312.0 1246.4L313.0 1246.7L314.0 1247.0L315.0 1247.2L316.0 1247.5L317.0 1247.8L318.0 1248.1L319.0 1248.4L320.0 1248.7L321.0 1249.0L322.0 1249.3L323.0 1249.7L324.0 1250.0L325.0 1250.3L326.0 1250.6L327.0 1251.0L328.0 1251.3L329.0 1251.7L330.0 1252.0L331.0 1252.4L332.0 1252.7L333.0 1253.1L334.0 1253.5L335.0 1253.8L336.0 1254.2L337.0 1254.6L338.0 1255.0L339.0 1255.4L340.0 1255.8L341.0 1256.2L342.0 1256.7L343.0 1257.1L344.0 1257.5L345.0 1258.0L346.0 1258.4L347.0 1258.9L348.0 1259.4L349.0 1259.8L350.0 1260.3L351.0 1260.8L352.0 1261.4L353.0 1261.9L354.0 1262.4L355.0 1263.0L356.0 1263.5L357.0 1264.1L358.0 1264.7L359.0 1265.3L360.0 1265.9L361.0 1266.5L362.0 1267.2L363.0 1267.8L364.0 1268.5L365.0 1269.2L366.0 1269.8L367.0 1270.6L368.0 1271.3L369.0 1272.0L370.0 1272.7L371.0 1273.5L372.0 1274.3L373.0 1275.1L374.0 1275.8L375.0 1276.7L376.0 1277.5L377.0 1278.3L378.0 1279.1L379.0 1280.0L380.0 1280.8L381.0 1281.7L382.0 1282.5L383.0 1283.4L384.0 1284.3L385.0 1285.2L386.0 1286.0L387.0 1286.9L388.0 1287.8L389.0 1288.7L390.0 1289.6L391.0 1290.5L392.0 1291.4L393.0 1292.3L394.0 1293.2L395.0 1294.1L396.0 1295.0L397.0 1295.9L398.0 1296.8L399.0 1297.6L400.0 1298.5L401.0 1299.4L402.0 1300.3L403.0 1301.1L404.0 1301.9L405.0 1302.8L406.0 1303.6L407.0 1304.4L408.0 1305.2L409.0 1306.0L410.0 1306.8L411.0 1307.5L412.0 1308.3L413.0 1309.0L414.0 1309.8L415.0 1310.5L416.0 1311.2L417.0 1311.9L418.0 1312.5L419.0 1313.2L420.0 1313.9L421.0 1314.5L422.0 1315.2L423.0 1315.8L424.0 1316.5L425.0 1317.1L426.0 1317.7L427.0 1318.3L428.0 1318.9L429.0 1319.5L430.0 1320.1L431.0 1320.7L432.0 1321.3L433.0 1321.8L434.0 1322.4L435.0 1323.0L436.0 1323.5L437.0 1324.0L438.0 1324.6L439.0 1325.1L440.0 1325.6L441.0 1326.2L442.0 1326.7L443.0 1327.2L444.0 1327.7L445.0 1328.2L446.0 1328.7L447.0 1329.1L448.0 1329.6L449.0 1330.1L450.0 1330.6L451.0 1331.0L452.0 1331.5L453.0 1331.9L454.0 1332.4L455.0 1332.8L456.0 1333.2L457.0 1333.7L458.0 1334.1L459.0 1334.5L460.0 1334.9L461.0 1335.3L462.0 1335.7L463.0 1336.1L464.0 1336.5L465.0 1336.9L466.0 1337.3L467.0 1337.6L468.0 1338.0L469.0 1338.4L470.0 1338.7L471.0 1339.1L472.0 1339.4L473.0 1339.8L474.0 1340.1L475.0 1340.5L476.0 1340.8L477.0 1341.1L478.0 1341.4L479.0 1341.8L480.0 1342.1L481.0 1342.4L482.0 1342.7L483.0 1343.0L484.0 1343.3L485.0 1343.6L486.0 1343.9L487.0 1344.2L488.0 1344.4L489.0 1344.7L490.0 1345.0L491.0 1345.2L492.0 1345.5L493.0 1345.8L494.0 1346.0L495.0 1346.3L496.0 1346.5L497.0 1346.8L498.0 1347.0L499.0 1347.2L500.0 1347.4L501.0 1347.7L502.0 1347.9L503.0 1348.1L504.0 1348.3L505.0 1348.5L506.0 1348.7L507.0 1348.9L508.0 1349.0L509.0 1349.2L510.0 1349.4L511.0 1349.6L512.0 1349.7L513.0 1349.9L514.0 1350.0L515.0 1350.2L516.0 1350.3L517.0 1350.4L518.0 1350.5L519.0 1350.7L520.0 1350.8L521.0 1350.9L522.0 1351.0L523.0 1351.1L524.0 1351.1L525.0 1351.2L526.0 1351.3L527.0 1351.4L528.0 1351.4L529.0 1351.5L530.0 1351.5L531.0 1351.6L532.0 1351.6L533.0 1351.6L534.0 1351.6L535.0 1351.6L536.0 1351.6L537.0 1351.6L538.0 1351.6L539.0 1351.6L540.0 1351.6L541.0 1351.6L542.0 1351.5L543.0 1351.5L544.0 1351.4L545.0 1351.4L546.0 1351.3L547.0 1351.2L548.0 1351.1L549.0 1351.0L550.0 1351.0L551.0 1350.9L552.0 1350.7L553.0 1350.6L554.0 1350.5L555.0 1350.4L556.0 1350.3L557.0 1350.1L558.0 1350.0L559.0 1349.8L560.0 1349.7L561.0 1349.5L562.0 1349.3L563.0 1349.2L564.0 1349.0L565.0 1348.8L566.0 1348.6L567.0 1348.4L568.0 1348.2L569.0 1348.0L570.0 1347.8L571.0 1347.6L572.0 1347.4L573.0 1347.1L574.0 1346.9L575.0 1346.7L576.0 1346.4L577.0 1346.2L578.0 1345.9L579.0 1345.7L580.0 1345.4L581.0 1345.2L582.0 1344.9L583.0 1344.7L584.0 1344.4L585.0 1344.1L586.0 1343.9L587.0 1343.6L588.0 1343.3L589.0 1343.0L590.0 1342.7L591.0 1342.5L592.0 1342.2L593.0 1341.9L594.0 1341.6L595.0 1341.3L596.0 1341.0L597.0 1340.7L598.0 1340.4L599.0 1340.1L600.0 1339.8L601.0 1339.5L602.0 1339.2L603.0 1338.9L604.0 1338.6L605.0 1338.3L606.0 1337.9L607.0 1337.6L608.0 1337.3L609.0 1337.0L610.0 1336.7L611.0 1336.4L612.0 1336.0L613.0 1335.7L614.0 1335.4L615.0 1335.1L616.0 1334.8L617.0 1334.4L618.0 1334.1L619.0 1333.8L620.0 1333.4L621.0 1333.1L622.0 1332.8L623.0 1332.4L624.0 1332.1L625.0 1331.7L626.0 1331.4L627.0 1331.0L628.0 1330.7L629.0 1330.3L630.0 1330.0L631.0 1329.6L632.0 1329.3L633.0 1328.9L634.0 1328.6L635.0 1328.2L636.0 1327.9L637.0 1327.5L638.0 1327.1L639.0 1326.8L640.0 1326.4L641.0 1326.0L642.0 1325.7L643.0 1325.3L644.0 1324.9L645.0 1324.5L646.0 1324.2L647.0 1323.8L648.0 1323.4L649.0 1323.0L650.0 1322.6L651.0 1322.3L652.0 1321.9L653.0 1321.5L654.0 1321.1L655.0 1320.7L656.0 1320.3L657.0 1319.9L658.0 1319.5L659.0 1319.2L660.0 1318.8L661.0 1318.4L662.0 1318.0L663.0 1317.6L664.0 1317.2L665.0 1316.8L666.0 1316.4L667.0 1316.0L668.0 1315.6L669.0 1315.2L670.0 1314.8L671.0 1314.4L672.0 1314.0L673.0 1313.6L674.0 1313.2L675.0 1312.8L676.0 1312.4L677.0 1312.0L678.0 1311.6L679.0 1311.2L680.0 1310.8L681.0 1310.4L682.0 1310.0L683.0 1309.6L684.0 1309.2L685.0 1308.7L686.0 1308.3L687.0 1307.9L688.0 1307.5L689.0 1307.1L690.0 1306.7L691.0 1306.3L692.0 1305.9L693.0 1305.5L694.0 1305.1L695.0 1304.7L696.0 1304.3L697.0 1303.9L698.0 1303.5L699.0 1303.1L700.0 1302.7L701.0 1302.3L702.0 1301.9L703.0 1301.5L704.0 1301.1L705.0 1300.7L706.0 1300.3L707.0 1299.9L708.0 1299.5L709.0 1299.1L710.0 1298.7L711.0 1298.3L712.0 1297.9L713.0 1297.5L714.0 1297.1L715.0 1296.7L716.0 1296.3L717.0 1295.9L718.0 1295.5L719.0 1295.1L720.0 1294.7L721.0 1294.4L722.0 1294.0L723.0 1293.6L724.0 1293.2L725.0 1292.8L726.0 1292.4L727.0 1292.0L728.0 1291.7L729.0 1291.3L730.0 1290.9L731.0 1290.5L732.0 1290.2L733.0 1289.8L734.0 1289.4L735.0 1289.1L736.0 1288.7L737.0 1288.3L738.0 1288.0L739.0 1287.6L740.0 1287.3L741.0 1286.9L742.0 1286.6L743.0 1286.2L744.0 1285.9L745.0 1285.6L746.0 1285.2L747.0 1284.9L748.0 1284.6L749.0 1284.2L750.0 1283.9L751.0 1283.6L752.0 1283.3L753.0 1282.9L754.0 1282.6L755.0 1282.3L756.0 1282.0L757.0 1281.7L758.0 1281.4L759.0 1281.1L760.0 1280.8L761.0 1280.5L762.0 1280.2L763.0 1280.0L764.0 1279.7L765.0 1279.4L766.0 1279.1L767.0 1278.8L768.0 1278.6L769.0 1278.3L770.0 1278.0L771.0 1277.8L772.0 1277.5L773.0 1277.3L774.0 1277.0L775.0 1276.8L776.0 1276.5L777.0 1276.3L778.0 1276.0L779.0 1275.8L780.0 1275.5L781.0 1275.3L782.0 1275.1L783.0 1274.8L784.0 1274.6L785.0 1274.4L786.0 1274.2L787.0 1274.0L788.0 1273.7L789.0 1273.5L790.0 1273.3L791.0 1273.1L792.0 1272.9L793.0 1272.7L794.0 1272.5L795.0 1272.3L796.0 1272.1L797.0 1271.9L798.0 1271.8L799.0 1271.6L800.0 1271.4L801.0 1271.2L802.0 1271.0L803.0 1270.9L804.0 1270.7L805.0 1270.5L806.0 1270.4L807.0 1270.2L808.0 1270.1L809.0 1269.9L810.0 1269.8L811.0 1269.7L812.0 1269.5L813.0 1269.4L814.0 1269.3L815.0 1269.1L816.0 1269.0L817.0 1268.9L818.0 1268.8L819.0 1268.7L820.0 1268.6L821.0 1268.5L822.0 1268.4L823.0 1268.3L824.0 1268.2L825.0 1268.1L826.0 1268.0L827.0 1267.9L828.0 1267.9L829.0 1267.8L830.0 1267.7L831.0 1267.7L832.0 1267.6L833.0 1267.6L834.0 1267.5L835.0 1267.5L836.0 1267.5L837.0 1267.4L838.0 1267.4L839.0 1267.4L840.0 1267.4L841.0 1267.4L842.0 1267.4L843.0 1267.4L844.0 1267.4L845.0 1267.4L846.0 1267.5L847.0 1267.5L848.0 1267.5L849.0 1267.6L850.0 1267.6L851.0 1267.7L852.0 1267.7L853.0 1267.8L854.0 1267.9L855.0 1267.9L856.0 1268.0L857.0 1268.1L858.0 1268.2L859.0 1268.3L860.0 1268.4L861.0 1268.5L862.0 1268.6L863.0 1268.7L864.0 1268.9L865.0 1269.0L866.0 1269.1L867.0 1269.2L868.0 1269.4L869.0 1269.5L870.0 1269.7L871.0 1269.8L872.0 1270.0L873.0 1270.2L874.0 1270.3L875.0 1270.5L876.0 1270.7L877.0 1270.9L878.0 1271.1L879.0 1271.2L880.0 1271.4L881.0 1271.6L882.0 1271.9L883.0 1272.1L884.0 1272.3L885.0 1272.5L886.0 1272.7L887.0 1272.9L888.0 1273.2L889.0 1273.4L890.0 1273.6L891.0 1273.9L892.0 1274.1L893.0 1274.4L894.0 1274.6L895.0 1274.9L896.0 1275.2L897.0 1275.4L898.0 1275.7L899.0 1276.0L900.0 1276.2L901.0 1276.5L902.0 1276.8L903.0 1277.1L904.0 1277.4L905.0 1277.7L906.0 1278.0L907.0 1278.3L908.0 1278.6L909.0 1278.9L910.0 1279.2L911.0 1279.6L912.0 1279.9L913.0 1280.2L914.0 1280.5L915.0 1280.9L916.0 1281.2L917.0 1281.6L918.0 1281.9L919.0 1282.3L920.0 1282.6L921.0 1283.0L922.0 1283.3L923.0 1283.7L924.0 1284.1L925.0 1284.5L926.0 1284.8L927.0 1285.2L928.0 1285.6L929.0 1286.0L930.0 1286.4L931.0 1286.8L932.0 1287.2L933.0 1287.6L934.0 1288.0L935.0 1288.4L936.0 1288.8L937.0 1289.3L938.0 1289.7L939.0 1290.1L940.0 1290.6L941.0 1291.0L942.0 1291.4L943.0 1291.9L944.0 1292.3L945.0 1292.8L946.0 1293.2L947.0 1293.7L948.0 1294.2L949.0 1294.6L950.0 1295.1L951.0 1295.6L952.0 1296.1L953.0 1296.5L954.0 1297.0L955.0 1297.5L956.0 1298.0L957.0 1298.5L958.0 1299.0L959.0 1299.5L960.0 1300.0L961.0 1300.5L962.0 1301.0L963.0 1301.5L964.0 1302.0L965.0 1302.5L966.0 1303.0L967.0 1303.6L968.0 1304.1L969.0 1304.6L970.0 1305.1L971.0 1305.6L972.0 1306.2L973.0 1306.7L974.0 1307.2L975.0 1307.7L976.0 1308.3L977.0 1308.8L978.0 1309.3L979.0 1309.9L980.0 1310.4L981.0 1310.9L982.0 1311.5L983.0 1312.0L984.0 1312.6L985.0 1313.1L986.0 1313.7L987.0 1314.2L988.0 1314.8L989.0 1315.3L990.0 1315.9L991.0 1316.4L992.0 1317.0L993.0 1317.6L994.0 1318.1L995.0 1318.7L996.0 1319.3L997.0 1319.9L998.0 1320.5L999.0 1321.0L1000.0 1321.6L1001.0 1322.2L1002.0 1322.8L1003.0 1323.4L1004.0 1324.0L1005.0 1324.6L1006.0 1325.2L1007.0 1325.9L1008.0 1326.5L1009.0 1327.1L1010.0 1327.7L1011.0 1328.3L1012.0 1329.0L1013.0 1329.6L1014.0 1330.2L1015.0 1330.9L1016.0 1331.5L1017.0 1332.2L1018.0 1332.8L1019.0 1333.5L1020.0 1334.1L1021.0 1334.8L1022.0 1335.4L1023.0 1336.1L1024.0 1336.8L1025.0 1337.4L1026.0 1338.1L1027.0 1338.8L1028.0 1339.4L1029.0 1340.1L1030.0 1340.8L1031.0 1341.4L1032.0 1342.1L1033.0 1342.8L1034.0 1343.5L1035.0 1344.1L1036.0 1344.8L1037.0 1345.5L1038.0 1346.2L1039.0 1346.8L1040.0 1347.5L1041.0 1348.2L1042.0 1348.9L1043.0 1349.5L1044.0 1350.2L1045.0 1350.9L1046.0 1351.6L1047.0 1352.2L1048.0 1352.9L1049.0 1353.6L1050.0 1354.2L1051.0 1354.9L1052.0 1355.5L1053.0 1356.2L1054.0 1356.9L1055.0 1357.5L1056.0 1358.2L1057.0 1358.8L1058.0 1359.5L1059.0 1360.2L1060.0 1360.8L1061.0 1361.5L1062.0 1362.2L1063.0 1362.8L1064.0 1363.5L1065.0 1364.1L1066.0 1364.8L1067.0 1365.5L1068.0 1366.2L1069.0 1366.8L1070.0 1367.5L1071.0 1368.2L1072.0 1368.9L1073.0 1369.5L1074.0 1370.2L1075.0 1370.9L1076.0 1371.6L1077.0 1372.3L1078.0 1373.0L1079.0 1373.7L1080.0 1374.3L1081.0 1375.0L1082.0 1375.7L1083.0 1376.4L1084.0 1377.1L1085.0 1377.8L1086.0 1378.5L1087.0 1379.1L1088.0 1379.8L1089.0 1380.5L1090.0 1381.1L1091.0 1381.8L1092.0 1382.4L1093.0 1383.1L1094.0 1383.7L1095.0 1384.3L1096.0 1385.0L1097.0 1385.6L1098.0 1386.2L1099.0 1386.8L1100.0 1387.4L1101.0 1387.9L1102.0 1388.5L1103.0 1389.0L1104.0 1389.6L1105.0 1390.1L1106.0 1390.7L1107.0 1391.2L1108.0 1391.7L1109.0 1392.2L1110.0 1392.7L1111.0 1393.2L1112.0 1393.7L1113.0 1394.1L1114.0 1394.6L1115.0 1395.1L1116.0 1395.5L1117.0 1396.0L1118.0 1396.4L1119.0 1396.9L1120.0 1397.3L1121.0 1397.8L1122.0 1398.2L1123.0 1398.6L1124.0 1399.0L1125.0 1399.5L1126.0 1399.9L1127.0 1400.3L1128.0 1400.7L1129.0 1401.1L1130.0 1401.5L1131.0 1401.9L1132.0 1402.3L1133.0 1402.7L1134.0 1403.1L1135.0 1403.5L1136.0 1403.9L1137.0 1404.3L1138.0 1404.7L1139.0 1405.1L1140.0 1405.5L1141.0 1405.9L1142.0 1406.2L1143.0 1406.6L1144.0 1407.0L1145.0 1407.4L1146.0 1407.7L1147.0 1408.1L1148.0 1408.4L1149.0 1408.8L1150.0 1409.2L1151.0 1409.5L1152.0 1409.9L1153.0 1410.2L1154.0 1410.6L1155.0 1410.9L1156.0 1411.3L1157.0 1411.6L1158.0 1411.9L1159.0 1412.3L1160.0 1412.6L1161.0 1412.9L1162.0 1413.3L1163.0 1413.6L1164.0 1413.9L1165.0 1414.2L1166.0 1414.5L1167.0 1414.8L1168.0 1415.2L1169.0 1415.5L1170.0 1415.8L1171.0 1416.1L1172.0 1416.4L1173.0 1416.7L1174.0 1417.0L1175.0 1417.3L1176.0 1417.5L1177.0 1417.8L1178.0 1418.1L1179.0 1418.4L1180.0 1418.7L1181.0 1419.0L1182.0 1419.2L1183.0 1419.5L1184.0 1419.8L1185.0 1420.0L1186.0 1420.3L1187.0 1420.5L1188.0 1420.8L1189.0 1421.1L1190.0 1421.3L1191.0 1421.6L1192.0 1421.8L1193.0 1422.0L1194.0 1422.3L1195.0 1422.5L1196.0 1422.7L1197.0 1423.0L1198.0 1423.2L1199.0 1423.4L1200.0 1423.6L1201.0 1423.8L1202.0 1424.0L1203.0 1424.2L1204.0 1424.4L1205.0 1424.6L1206.0 1424.8L1207.0 1425.0L1208.0 1425.2L1209.0 1425.4L1210.0 1425.5L1211.0 1425.7L1212.0 1425.9L1213.0 1426.0L1214.0 1426.2L1215.0 1426.3L1216.0 1426.5L1217.0 1426.6L1218.0 1426.7L1219.0 1426.9L1220.0 1427.0L1221.0 1427.1L1222.0 1427.3L1223.0 1427.4L1224.0 1427.5L1225.0 1427.6L1226.0 1427.7L1227.0 1427.8L1228.0 1427.9L1229.0 1428.0L1230.0 1428.1L1231.0 1428.2L1232.0 1428.3L1233.0 1428.4L1234.0 1428.5L1235.0 1428.5L1236.0 1428.6L1237.0 1428.7L1238.0 1428.8L1239.0 1428.8L1240.0 1428.9L1241.0 1429.0L1242.0 1429.0L1243.0 1429.1L1244.0 1429.1L1245.0 1429.2L1246.0 1429.3L1247.0 1429.3L1248.0 1429.4L1249.0 1429.4L1250.0 1429.4L1251.0 1429.5L1252.0 1429.5L1253.0 1429.6L1254.0 1429.6L1255.0 1429.6L1256.0 1429.7L1257.0 1429.7L1258.0 1429.7L1259.0 1429.8L1260.0 1429.8L1261.0 1429.8L1262.0 1429.9L1263.0 1429.9L1264.0 1429.9L1265.0 1429.9L1266.0 1430.0L1267.0 1430.0L1268.0 1430.0L1269.0 1430.0L1270.0 1430.0L1271.0 1430.1L1272.0 1430.1L1273.0 1430.1L1274.0 1430.1L1275.0 1430.1L1276.0 1430.1L1277.0 1430.1L1278.0 1430.2L1279.0 1430.2L1280.0 1430.2L1281.0 1430.2L1282.0 1430.2L1283.0 1430.2L1284.0 1430.2L1285.0 1430.3L1286.0 1430.3L1287.0 1430.3L1288.0 1430.3L1289.0 1430.3L1290.0 1430.3L1291.0 1430.3L1292.0 1430.3L1293.0 1430.3L1294.0 1430.4L1295.0 1430.4L1296.0 1430.4L1297.0 1430.4L1298.0 1430.4L1299.0 1430.4L1300.0 1430.4L1301.0 1430.4L1302.0 1430.4L1303.0 1430.4L1304.0 1430.5L1305.0 1430.5L1306.0 1430.5L1307.0 1430.5L1308.0 1430.5L1309.0 1430.5L1310.0 1430.5L1311.0 1430.5L1312.0 1430.5L1313.0 1430.5L1314.0 1430.5L1315.0 1430.5L1316.0 1430.5L1317.0 1430.5L1318.0 1430.6L1319.0 1430.6L1320.0 1430.6L1321.0 1430.6L1322.0 1430.6L1323.0 1430.6L1324.0 1430.6L1325.0 1430.6L1326.0 1430.6L1327.0 1430.6L1328.0 1430.6L1329.0 1430.6L1330.0 1430.6L1331.0 1430.6L1332.0 1430.6L1333.0 1430.6L1334.0 1430.6L1335.0 1430.6L1336.0 1430.6L1337.0 1430.6L1338.0 1430.6L1339.0 1430.7L1340.0 1430.7L1341.0 1430.7L1342.0 1430.7L1343.0 1430.7L1344.0 1430.7L1345.0 1430.7L1346.0 1430.7L1347.0 1430.7L1348.0 1430.7L1349.0 1430.7L1350.0 1430.7L1351.0 1430.7L1352.0 1430.7L1353.0 1430.7L1354.0 1430.7L1355.0 1430.7L1356.0 1430.7L1357.0 1430.7L1358.0 1430.7L1359.0 1430.7L1360.0 1430.7L1361.0 1430.7L1362.0 1430.7L1363.0 1430.7L1364.0 1430.7L1365.0 1430.7L1366.0 1430.7L1367.0 1430.7L1368.0 1430.7L1369.0 1430.7L1370.0 1430.7L1371.0 1430.7L1372.0 1430.7L1373.0 1430.7L1374.0 1430.7L1375.0 1430.7L1376.0 1430.7L1377.0 1430.7L1378.0 1430.7L1379.0 1430.7L1380.0 1430.7L1381.0 1430.7L1382.0 1430.7L1383.0 1430.7L1384.0 1430.7L1385.0 1430.7L1386.0 1430.7L1387.0 1430.7L1388.0 1430.7L1389.0 1430.7L1390.0 1430.7L1391.0 1430.7L1392.0 1430.7L1393.0 1430.7L1394.0 1430.7L1395.0 1430.7L1396.0 1430.7L1397.0 1430.7L1398.0 1430.7L1399.0 1430.7L1400.0 1430.7L1401.0 1430.7L1402.0 1430.7L1403.0 1430.7L1404.0 1430.7L1405.0 1430.7L1406.0 1430.7L1407.0 1430.7L1408.0 1430.7L1409.0 1430.7L1410.0 1430.7L1411.0 1430.7L1412.0 1430.7L1413.0 1430.7L1414.0 1430.7L1415.0 1430.7L1416.0 1430.7L1417.0 1430.7L1418.0 1430.7L1419.0 1430.7L1420.0 1430.7L1421.0 1430.7L1422.0 1430.7L1423.0 1430.7L1424.0 1430.7L1425.0 1430.7L1426.0 1430.7L1427.0 1430.7L1428.0 1430.7L1429.0 1430.7L1430.0 1430.7L1431.0 1430.7L1432.0 1430.7L1433.0 1430.7L1434.0 1430.7L1435.0 1430.7L1436.0 1430.7L1437.0 1430.7L1438.0 1430.7L1439.0 1430.7L1440.0 1430.7L1441.0 1430.7L1442.0 1430.7L1443.0 1430.7L1444.0 1430.7L1445.0 1430.7L1446.0 1430.7L1447.0 1430.7L1448.0 1430.7L1449.0 1430.7L1450.0 1430.7L1451.0 1430.7L1452.0 1430.7L1453.0 1430.7L1454.0 1430.7L1455.0 1430.7L1456.0 1430.7L1457.0 1430.7L1458.0 1430.7L1459.0 1430.7L1460.0 1430.7L1461.0 1430.7L1462.0 1430.7L1463.0 1430.7L1464.0 1430.7L1465.0 1430.7L1466.0 1430.7L1467.0 1430.7L1468.0 1430.7L1469.0 1430.7L1470.0 1430.7L1471.0 1430.7L1472.0 1430.7L1473.0 1430.7L1474.0 1430.7L1475.0 1430.7L1476.0 1430.7L1477.0 1430.7L1478.0 1430.7L1479.0 1430.7L1480.0 1430.7L1481.0 1430.7L1482.0 1430.7L1483.0 1430.7L1484.0 1430.7L1485.0 1430.7L1486.0 1430.7L1487.0 1430.7L1488.0 1430.7L1489.0 1430.7L1490.0 1430.7L1491.0 1430.7L1492.0 1430.7L1493.0 1430.7L1494.0 1430.7L1495.0 1430.7L1496.0 1430.7L1497.0 1430.7L1498.0 1430.7L1499.0 1430.7L1500.0 1430.7L1501.0 1430.7L1502.0 1430.7L1503.0 1430.7L1504.0 1430.7L1505.0 1430.7L1506.0 1430.7L1507.0 1430.7L1508.0 1430.7L1509.0 1430.7L1510.0 1430.7L1511.0 1430.7L1512.0 1430.7L1513.0 1430.7L1514.0 1430.7L1515.0 1430.7L1516.0 1430.7L1517.0 1430.7L1518.0 1430.7L1519.0 1430.7L1520.0 1430.7L1521.0 1430.7L1522.0 1430.7L1523.0 1430.7L1524.0 1430.7L1525.0 1430.7L1526.0 1430.7L1527.0 1430.7L1528.0 1430.7L1529.0 1430.7L1530.0 1430.7L1531.0 1430.7L1532.0 1430.7L1533.0 1430.7L1534.0 1430.7L1535.0 1430.7L1536.0 1430.7L1537.0 1430.7L1538.0 1430.7L1539.0 1430.7L1540.0 1430.7L1541.0 1430.7L1542.0 1430.7L1543.0 1430.7L1544.0 1430.7L1545.0 1430.7L1546.0 1430.7L1547.0 1430.7L1548.0 1430.7L1549.0 1430.7L1550.0 1430.7L1551.0 1430.7L1552.0 1430.7L1553.0 1430.7L1554.0 1430.7L1555.0 1430.7L1556.0 1430.7L1557.0 1430.7L1558.0 1430.7L1559.0 1430.7L1560.0 1430.7L1561.0 1430.7L1562.0 1430.7L1563.0 1430.7L1564.0 1430.7L1565.0 1430.7L1566.0 1430.7L1567.0 1430.7L1568.0 1430.7L1569.0 1430.7L1570.0 1430.7L1571.0 1430.7L1572.0 1430.7L1573.0 1430.7L1574.0 1430.7L1575.0 1430.7L1576.0 1430.7L1577.0 1430.7L1578.0 1430.7L1579.0 1430.7L1580.0 1430.7L1581.0 1430.7L1582.0 1430.7L1583.0 1430.7L1584.0 1430.7L1585.0 1430.7L1586.0 1430.7L1587.0 1430.7L1588.0 1430.7L1589.0 1430.7L1590.0 1430.7L1591.0 1430.7L1592.0 1430.7L1593.0 1430.7L1594.0 1430.7L1595.0 1430.7L1596.0 1430.7L1597.0 1430.7L1598.0 1430.7L1599.0 1430.7L1600.0 1430.7L1601.0 1430.7L1602.0 1430.7L1603.0 1430.7L1604.0 1430.7L1605.0 1430.7L1606.0 1430.7L1607.0 1430.7L1608.0 1430.7L1609.0 1430.7L1610.0 1430.7L1611.0 1430.7L1612.0 1430.8L1613.0 1430.8L1614.0 1430.8L1615.0 1430.8L1616.0 1430.8L1617.0 1430.8L1618.0 1430.8L1619.0 1430.8L1620.0 1430.8L1621.0 1430.8L1622.0 1430.8L1623.0 1430.8L1624.0 1430.8L1625.0 1430.8L1626.0 1430.8L1627.0 1430.8L1628.0 1430.8L1629.0 1430.8L1630.0 1430.8L1631.0 1430.8L1632.0 1430.8L1633.0 1430.8L1634.0 1430.8L1635.0 1430.8L1636.0 1430.8L1637.0 1430.8L1638.0 1430.8L1639.0 1430.8L1640.0 1430.8L1641.0 1430.8L1642.0 1430.8L1643.0 1430.8L1644.0 1430.8L1645.0 1430.8L1646.0 1430.8L1647.0 1430.8L1648.0 1430.8L1649.0 1430.8L1650.0 1430.8L1651.0 1430.8L1652.0 1430.8L1653.0 1430.8L1654.0 1430.8L1655.0 1430.8L1656.0 1430.8L1657.0 1430.8L1658.0 1430.8L1659.0 1430.8L1660.0 1430.8L1661.0 1430.8L1662.0 1430.8L1663.0 1430.8L1664.0 1430.8L1665.0 1430.8L1666.0 1430.8L1667.0 1430.8L1668.0 1430.8L1669.0 1430.8L1670.0 1430.8L1671.0 1430.8L1672.0 1430.8L1673.0 1430.8L1674.0 1430.8L1675.0 1430.8L1676.0 1430.8L1677.0 1430.8L1678.0 1430.8L1679.0 1430.8L1680.0 1430.8L1681.0 1430.8L1682.0 1430.8L1683.0 1430.8L1684.0 1430.8L1685.0 1430.8L1686.0 1430.8L1687.0 1430.8L1688.0 1430.8L1689.0 1430.8L1690.0 1430.8L1691.0 1430.8L1692.0 1430.8L1693.0 1430.8L1694.0 1430.8L1695.0 1430.8L1696.0 1430.8L1697.0 1430.8L1698.0 1430.8L1699.0 1430.8L1700.0 1430.8L1701.0 1430.8L1702.0 1430.8L1703.0 1430.8L1704.0 1430.8L1705.0 1430.8L1706.0 1430.8L1707.0 1430.8L1708.0 1430.8L1709.0 1430.8L1710.0 1430.8L1711.0 1430.8L1712.0 1430.8L1713.0 1430.8L1714.0 1430.8L1715.0 1430.8L1716.0 1430.8L1717.0 1430.8L1718.0 1430.8L1719.0 1430.8L1720.0 1430.8L1721.0 1430.8L1722.0 1430.8L1723.0 1430.8L1724.0 1430.8L1725.0 1430.8L1726.0 1430.8L1727.0 1430.8L1728.0 1430.8L1729.0 1430.8L1730.0 1430.8L1731.0 1430.8L1732.0 1430.8L1733.0 1430.8L1734.0 1430.8L1735.0 1430.8L1736.0 1430.8L1737.0 1430.8L1738.0 1430.8L1739.0 1430.8L1740.0 1430.8L1741.0 1430.8L1742.0 1430.8L1743.0 1430.8L1744.0 1430.8L1745.0 1430.8L1746.0 1430.8L1747.0 1430.8L1748.0 1430.8L1749.0 1430.9L1750.0 1430.9L1751.0 1430.9L1752.0 1430.9L1753.0 1430.9L1754.0 1430.9L1755.0 1430.9L1756.0 1430.9L1757.0 1430.9L1758.0 1430.9L1759.0 1430.9L1760.0 1430.9L1761.0 1430.9L1762.0 1430.9L1763.0 1430.9L1764.0 1430.9L1765.0 1430.9L1766.0 1430.9L1767.0 1430.9L1768.0 1430.9L1769.0 1430.9L1770.0 1430.9L1771.0 1430.9L1772.0 1430.9L1773.0 1430.9L1774.0 1430.9L1775.0 1430.9L1776.0 1430.9L1777.0 1430.9L1778.0 1430.9L1779.0 1430.9L1780.0 1430.9L1781.0 1430.9L1782.0 1430.9L1783.0 1430.9L1784.0 1430.9L1785.0 1430.9L1786.0 1430.9L1787.0 1430.9L1788.0 1430.9L1789.0 1430.9L1790.0 1430.9L1791.0 1430.9L1792.0 1430.9L1793.0 1430.9L1794.0 1430.9L1795.0 1430.9L1796.0 1430.9L1797.0 1430.9L1798.0 1430.9L1799.0 1430.9L1800.0 1430.9L1801.0 1430.9L1802.0 1430.9L1803.0 1430.9L1804.0 1430.9L1805.0 1430.9L1806.0 1430.9L1807.0 1430.9L1808.0 1430.9L1809.0 1430.9L1810.0 1430.9L1811.0 1430.9L1812.0 1430.9L1813.0 1430.9L1814.0 1430.9L1815.0 1430.9L1816.0 1430.9L1817.0 1430.9L1818.0 1430.9L1819.0 1430.9L1820.0 1430.9L1821.0 1430.9L1822.0 1430.9L1823.0 1430.9L1824.0 1430.9L1825.0 1430.9L1826.0 1430.9L1827.0 1430.9L1828.0 1430.9L1829.0 1430.9L1830.0 1430.9L1831.0 1430.9L1832.0 1430.9L1833.0 1430.9L1834.0 1430.9L1835.0 1430.9L1836.0 1430.9L1837.0 1430.9L1838.0 1430.9L1839.0 1430.9L1840.0 1430.9L1841.0 1430.9L1842.0 1430.9L1843.0 1430.9L1844.0 1430.9L1845.0 1430.9L1846.0 1430.9L1847.0 1430.9L1848.0 1430.9L1849.0 1430.9L1850.0 1430.9L1851.0 1430.9L1852.0 1430.9L1853.0 1430.9L1854.0 1430.9L1855.0 1430.9L1856.0 1430.9L1857.0 1431.0L1858.0 1431.0L1859.0 1431.0L1860.0 1431.0L1861.0 1431.0L1862.0 1431.0L1863.0 1431.0L1864.0 1431.0L1865.0 1431.0L1866.0 1431.0L1867.0 1431.0L1868.0 1431.0L1869.0 1431.0L1870.0 1431.0L1871.0 1431.0L1872.0 1431.0L1873.0 1431.0L1874.0 1431.0L1875.0 1431.0L1876.0 1431.0L1877.0 1431.0L1878.0 1431.0L1879.0 1431.0L1880.0 1431.0L1881.0 1431.0L1882.0 1431.0L1883.0 1431.0L1884.0 1431.0L1885.0 1431.0L1886.0 1431.0L1887.0 1431.0L1888.0 1431.0L1889.0 1431.0L1890.0 1431.0L1891.0 1431.0L1892.0 1431.0L1893.0 1431.0L1894.0 1431.0L1895.0 1431.0L1896.0 1431.0L1897.0 1431.0L1898.0 1431.0L1899.0 1431.0L1900.0 1431.0L1901.0 1431.0L1902.0 1431.0L1903.0 1431.0L1904.0 1431.0L1905.0 1431.0L1906.0 1431.0L1907.0 1431.0L1908.0 1431.0" stroke="#00FFFF"/>
<path d="M271.0 1251.0L272.0 1251.2L273.0 1251.4L274.0 1251.6L275.0 1251.8L276.0 1252.0L277.0 1252.2L278.0 1252.4L279.0 1252.5L280.0 1252.7L281.0 1252.9L282.0 1253.1L283.0 1253.3L284.0 1253.5L285.0 1253.6L286.0 1253.8L287.0 1254.0L288.0 1254.2L289.0 1254.4L290.0 1254.6L291.0 1254.7L292.0 1254.9L293.0 1255.1L294.0 1255.3L295.0 1255.5L296.0 1255.7L297.0 1255.8L298.0 1256.0L299.0 1256.2L300.0 1256.4L301.0 1256.5L302.0 1256.7L303.0 1256.9L304.0 1257.1L305.0 1257.3L306.0 1257.4L307.0 1257.6L308.0 1257.8L309.0 1258.0L310.0 1258.1L311.0 1258.3L312.0 1258.5L313.0 1258.7L314.0 1258.8L315.0 1259.0L316.0 1259.2L317.0 1259.4L318.0 1259.5L319.0 1259.7L320.0 1259.9L321.0 1260.1L322.0 1260.3L323.0 1260.4L324.0 1260.6L325.0 1260.8L326.0 1261.0L327.0 1261.2L328.0 1261.3L329.0 1261.5L330.0 1261.7L331.0 1261.9L332.0 1262.1L333.0 1262.3L334.0 1262.5L335.0 1262.7L336.0 1262.9L337.0 1263.1L338.0 1263.3L339.0 1263.5L340.0 1263.7L341.0 1263.9L342.0 1264.1L343.0 1264.3L344.0 1264.5L345.0 1264.8L346.0 1265.0L347.0 1265.2L348.0 1265.4L349.0 1265.7L350.0 1265.9L351.0 1266.1L352.0 1266.4L353.0 1266.6L354.0 1266.9L355.0 1267.1L356.0 1267.4L357.0 1267.6L358.0 1267.9L359.0 1268.1L360.0 1268.4L361.0 1268.7L362.0 1268.9L363.0 1269.2L364.0 1269.5L365.0 1269.8L366.0 1270.0L367.0 1270.3L368.0 1270.6L369.0 1270.9L370.0 1271.2L371.0 1271.5L372.0 1271.8L373.0 1272.1L374.0 1272.4L375.0 1272.7L376.0 1273.0L377.0 1273.4L378.0 1273.7L379.0 1274.0L380.0 1274.4L381.0 1274.7L382.0 1275.0L383.0 1275.4L384.0 1275.7L385.0 1276.1L386.0 1276.4L387.0 1276.8L388.0 1277.2L389.0 1277.5L390.0 1277.9L391.0 1278.3L392.0 1278.6L393.0 1279.0L394.0 1279.4L395.0 1279.8L396.0 1280.2L397.0 1280.6L398.0 1281.0L399.0 1281.4L400.0 1281.8L401.0 1282.2L402.0 1282.6L403.0 1283.0L404.0 1283.4L405.0 1283.8L406.0 1284.2L407.0 1284.7L408.0 1285.1L409.0 1285.5L410.0 1286.0L411.0 1286.4L412.0 1286.8L413.0 1287.3L414.0 1287.7L415.0 1288.1L416.0 1288.6L417.0 1289.0L418.0 1289.5L419.0 1289.9L420.0 1290.4L421.0 1290.8L422.0 1291.3L423.0 1291.8L424.0 1292.2L425.0 1292.7L426.0 1293.1L427.0 1293.6L428.0 1294.1L429.0 1294.5L430.0 1295.0L431.0 1295.5L432.0 1295.9L433.0 1296.4L434.0 1296.9L435.0 1297.3L436.0 1297.8L437.0 1298.3L438.0 1298.7L439.0 1299.2L440.0 1299.7L441.0 1300.1L442.0 1300.6L443.0 1301.0L444.0 1301.5L445.0 1302.0L446.0 1302.4L447.0 1302.9L448.0 1303.3L449.0 1303.8L450.0 1304.2L451.0 1304.6L452.0 1305.1L453.0 1305.5L454.0 1306.0L455.0 1306.4L456.0 1306.8L457.0 1307.2L458.0 1307.6L459.0 1308.1L460.0 1308.5L461.0 1308.9L462.0 1309.3L463.0 1309.7L464.0 1310.1L465.0 1310.5L466.0 1310.9L467.0 1311.2L468.0 1311.6L469.0 1312.0L470.0 1312.4L471.0 1312.7L472.0 1313.1L473.0 1313.4L474.0 1313.8L475.0 1314.1L476.0 1314.5L477.0 1314.8L478.0 1315.2L479.0 1315.5L480.0 1315.8L481.0 1316.1L482.0 1316.5L483.0 1316.8L484.0 1317.1L485.0 1317.4L486.0 1317.7L487.0 1318.0L488.0 1318.3L489.0 1318.6L490.0 1318.9L491.0 1319.1L492.0 1319.4L493.0 1319.7L494.0 1320.0L495.0 1320.2L496.0 1320.5L497.0 1320.7L498.0 1321.0L499.0 1321.2L500.0 1321.5L501.0 1321.7L502.0 1321.9L503.0 1322.2L504.0 1322.4L505.0 1322.6L506.0 1322.8L507.0 1323.0L508.0 1323.2L509.0 1323.4L510.0 1323.6L511.0 1323.8L512.0 1324.0L513.0 1324.2L514.0 1324.3L515.0 1324.5L516.0 1324.6L517.0 1324.8L518.0 1324.9L519.0 1325.1L520.0 1325.2L521.0 1325.3L522.0 1325.4L523.0 1325.6L524.0 1325.7L525.0 1325.8L526.0 1325.8L527.0 1325.9L528.0 1326.0L529.0 1326.1L530.0 1326.1L531.0 1326.2L532.0 1326.2L533.0 1326.3L534.0 1326.3L535.0 1326.3L536.0 1326.3L537.0 1326.3L538.0 1326.3L539.0 1326.3L540.0 1326.2L541.0 1326.2L542.0 1326.2L543.0 1326.1L544.0 1326.0L545.0 1326.0L546.0 1325.9L547.0 1325.8L548.0 1325.7L549.0 1325.5L550.0 1325.4L551.0 1325.3L552.0 1325.1L553.0 1325.0L554.0 1324.8L555.0 1324.6L556.0 1324.4L557.0 1324.2L558.0 1324.0L559.0 1323.8L560.0 1323.6L561.0 1323.4L562.0 1323.1L563.0 1322.8L564.0 1322.6L565.0 1322.3L566.0 1322.0L567.0 1321.7L568.0 1321.4L569.0 1321.1L570.0 1320.7L571.0 1320.4L572.0 1320.0L573.0 1319.7L574.0 1319.3L575.0 1318.9L576.0 1318.5L577.0 1318.1L578.0 1317.7L579.0 1317.3L580.0 1316.8L581.0 1316.4L582.0 1315.9L583.0 1315.5L584.0 1315.0L585.0 1314.6L586.0 1314.1L587.0 1313.6L588.0 1313.1L589.0 1312.6L590.0 1312.1L591.0 1311.6L592.0 1311.1L593.0 1310.6L594.0 1310.0L595.0 1309.5L596.0 1309.0L597.0 1308.4L598.0 1307.9L599.0 1307.4L600.0 1306.8L601.0 1306.3L602.0 1305.7L603.0 1305.2L604.0 1304.6L605.0 1304.1L606.0 1303.5L607.0 1303.0L608.0 1302.4L609.0 1301.8L610.0 1301.2L611.0 1300.7L612.0 1300.1L613.0 1299.5L614.0 1298.9L615.0 1298.3L616.0 1297.8L617.0 1297.2L618.0 1296.5L619.0 1295.9L620.0 1295.3L621.0 1294.7L622.0 1294.1L623.0 1293.5L624.0 1292.8L625.0 1292.2L626.0 1291.5L627.0 1290.9L628.0 1290.2L629.0 1289.5L630.0 1288.9L631.0 1288.2L632.0 1287.5L633.0 1286.8L634.0 1286.1L635.0 1285.3L636.0 1284.6L637.0 1283.9L638.0 1283.1L639.0 1282.3L640.0 1281.6L641.0 1280.8L642.0 1280.0L643.0 1279.2L644.0 1278.4L645.0 1277.6L646.0 1276.8L647.0 1275.9L648.0 1275.1L649.0 1274.2L650.0 1273.4L651.0 1272.5L652.0 1271.7L653.0 1270.8L654.0 1269.9L655.0 1269.0L656.0 1268.1L657.0 1267.2L658.0 1266.3L659.0 1265.4L660.0 1264.5L661.0 1263.6L662.0 1262.7L663.0 1261.8L664.0 1260.9L665.0 1259.9L666.0 1259.0L667.0 1258.1L668.0 1257.1L669.0 1256.2L670.0 1255.3L671.0 1254.3L672.0 1253.4L673.0 1252.4L674.0 1251.5L675.0 1250.5L676.0 1249.6L677.0 1248.6L678.0 1247.7L679.0 1246.7L680.0 1245.8L681.0 1244.8L682.0 1243.8L683.0 1242.9L684.0 1241.9L685.0 1241.0L686.0 1240.0L687.0 1239.0L688.0 1238.1L689.0 1237.1L690.0 1236.1L691.0 1235.1L692.0 1234.2L693.0 1233.2L694.0 1232.2L695.0 1231.2L696.0 1230.3L697.0 1229.3L698.0 1228.3L699.0 1227.3L700.0 1226.3L701.0 1225.4L702.0 1224.4L703.0 1223.4L704.0 1222.4L705.0 1221.4L706.0 1220.4L707.0 1219.4L708.0 1218.4L709.0 1217.4L710.0 1216.4L711.0 1215.5L712.0 1214.5L713.0 1213.5L714.0 1212.5L715.0 1211.5L716.0 1210.5L717.0 1209.5L718.0 1208.5L719.0 1207.5L720.0 1206.5L721.0 1205.5L722.0 1204.5L723.0 1203.5L724.0 1202.5L725.0 1201.5L726.0 1200.5L727.0 1199.5L728.0 1198.5L729.0 1197.5L730.0 1196.5L731.0 1195.5L732.0 1194.5L733.0 1193.5L734.0 1192.5L735.0 1191.5L736.0 1190.5L737.0 1189.5L738.0 1188.5L739.0 1187.6L740.0 1186.6L741.0 1185.6L742.0 1184.6L743.0 1183.6L744.0 1182.7L745.0 1181.7L746.0 1180.7L747.0 1179.8L748.0 1178.8L749.0 1177.9L750.0 1176.9L751.0 1175.9L752.0 1175.0L753.0 1174.0L754.0 1173.1L755.0 1172.2L756.0 1171.2L757.0 1170.3L758.0 1169.4L759.0 1168.4L760.0 1167.5L761.0 1166.6L762.0 1165.7L763.0 1164.7L764.0 1163.8L765.0 1162.9L766.0 1162.0L767.0 1161.1L768.0 1160.2L769.0 1159.3L770.0 1158.4L771.0 1157.5L772.0 1156.6L773.0 1155.7L774.0 1154.8L775.0 1154.0L776.0 1153.1L777.0 1152.2L778.0 1151.3L779.0 1150.4L780.0 1149.6L781.0 1148.7L782.0 1147.8L783.0 1146.9L784.0 1146.1L785.0 1145.2L786.0 1144.3L787.0 1143.5L788.0 1142.6L789.0 1141.7L790.0 1140.9L791.0 1140.0L792.0 1139.1L793.0 1138.3L794.0 1137.4L795.0 1136.6L796.0 1135.7L797.0 1134.9L798.0 1134.0L799.0 1133.2L800.0 1132.3L801.0 1131.5L802.0 1130.6L803.0 1129.8L804.0 1129.0L805.0 1128.1L806.0 1127.3L807.0 1126.5L808.0 1125.7L809.0 1124.9L810.0 1124.0L811.0 1123.2L812.0 1122.4L813.0 1121.6L814.0 1120.9L815.0 1120.1L816.0 1119.3L817.0 1118.5L818.0 1117.8L819.0 1117.0L820.0 1116.3L821.0 1115.5L822.0 1114.8L823.0 1114.1L824.0 1113.4L825.0 1112.7L826.0 1112.0L827.0 1111.3L828.0 1110.7L829.0 1110.0L830.0 1109.4L831.0 1108.7L832.0 1108.1L833.0 1107.5L834.0 1106.9L835.0 1106.3L836.0 1105.7L837.0 1105.1L838.0 1104.6L839.0 1104.0L840.0 1103.5L841.0 1103.0L842.0 1102.5L843.0 1102.0L844.0 1101.5L845.0 1101.0L846.0 1100.6L847.0 1100.1L848.0 1099.7L849.0 1099.3L850.0 1098.9L851.0 1098.5L852.0 1098.1L853.0 1097.7L854.0 1097.3L855.0 1097.0L856.0 1096.6L857.0 1096.3L858.0 1096.0L859.0 1095.7L860.0 1095.4L861.0 1095.1L862.0 1094.8L863.0 1094.6L864.0 1094.3L865.0 1094.1L866.0 1093.9L867.0 1093.7L868.0 1093.5L869.0 1093.3L870.0 1093.1L871.0 1093.0L872.0 1092.8L873.0 1092.7L874.0 1092.5L875.0 1092.4L876.0 1092.3L877.0 1092.2L878.0 1092.2L879.0 1092.1L880.0 1092.0L881.0 1092.0L882.0 1092.0L883.0 1092.0L884.0 1092.0L885.0 1092.0L886.0 1092.0L887.0 1092.0L888.0 1092.1L889.0 1092.1L890.0 1092.2L891.0 1092.3L892.0 1092.4L893.0 1092.5L894.0 1092.6L895.0 1092.8L896.0 1092.9L897.0 1093.1L898.0 1093.3L899.0 1093.5L900.0 1093.7L901.0 1093.9L902.0 1094.2L903.0 1094.4L904.0 1094.7L905.0 1095.0L906.0 1095.3L907.0 1095.6L908.0 1095.9L909.0 1096.2L910.0 1096.6L911.0 1097.0L912.0 1097.3L913.0 1097.7L914.0 1098.1L915.0 1098.5L916.0 1099.0L917.0 1099.4L918.0 1099.9L919.0 1100.4L920.0 1100.8L921.0 1101.3L922.0 1101.9L923.0 1102.4L924.0 1102.9L925.0 1103.5L926.0 1104.0L927.0 1104.6L928.0 1105.2L929.0 1105.8L930.0 1106.4L931.0 1107.1L932.0 1107.7L933.0 1108.4L934.0 1109.1L935.0 1109.7L936.0 1110.4L937.0 1111.2L938.0 1111.9L939.0 1112.6L940.0 1113.4L941.0 1114.1L942.0 1114.9L943.0 1115.7L944.0 1116.5L945.0 1117.3L946.0 1118.2L947.0 1119.0L948.0 1119.8L949.0 1120.7L950.0 1121.6L951.0 1122.5L952.0 1123.4L953.0 1124.3L954.0 1125.2L955.0 1126.1L956.0 1127.1L957.0 1128.0L958.0 1129.0L959.0 1130.0L960.0 1131.0L961.0 1132.0L962.0 1133.0L963.0 1134.0L964.0 1135.0L965.0 1136.1L966.0 1137.2L967.0 1138.2L968.0 1139.3L969.0 1140.4L970.0 1141.5L971.0 1142.7L972.0 1143.8L973.0 1144.9L974.0 1146.1L975.0 1147.3L976.0 1148.5L977.0 1149.7L978.0 1150.9L979.0 1152.1L980.0 1153.3L981.0 1154.6L982.0 1155.8L983.0 1157.1L984.0 1158.4L985.0 1159.7L986.0 1161.0L987.0 1162.2L988.0 1163.5L989.0 1164.8L990.0 1166.1L991.0 1167.4L992.0 1168.7L993.0 1170.0L994.0 1171.3L995.0 1172.5L996.0 1173.8L997.0 1175.1L998.0 1176.3L999.0 1177.5L1000.0 1178.8L1001.0 1180.0L1002.0 1181.2L1003.0 1182.4L1004.0 1183.6L1005.0 1184.8L1006.0 1186.0L1007.0 1187.2L1008.0 1188.4L1009.0 1189.6L1010.0 1190.8L1011.0 1191.9L1012.0 1193.1L1013.0 1194.3L1014.0 1195.5L1015.0 1196.7L1016.0 1197.8L1017.0 1199.0L1018.0 1200.2L1019.0 1201.4L1020.0 1202.6L1021.0 1203.8L1022.0 1205.0L1023.0 1206.2L1024.0 1207.4L1025.0 1208.6L1026.0 1209.8L1027.0 1211.0L1028.0 1212.2L1029.0 1213.5L1030.0 1214.7L1031.0 1216.0L1032.0 1217.2L1033.0 1218.5L1034.0 1219.8L1035.0 1221.1L1036.0 1222.4L1037.0 1223.7L1038.0 1225.1L1039.0 1226.4L1040.0 1227.8L1041.0 1229.2L1042.0 1230.6L1043.0 1232.0L1044.0 1233.5L1045.0 1235.0L1046.0 1236.5L1047.0 1238.0L1048.0 1239.5L1049.0 1241.0L1050.0 1242.6L1051.0 1244.2L1052.0 1245.8L1053.0 1247.4L1054.0 1249.0L1055.0 1250.6L1056.0 1252.2L1057.0 1253.9L1058.0 1255.5L1059.0 1257.2L1060.0 1258.8L1061.0 1260.5L1062.0 1262.2L1063.0 1263.8L1064.0 1265.5L1065.0 1267.1L1066.0 1268.8L1067.0 1270.4L1068.0 1272.0L1069.0 1273.7L1070.0 1275.3L1071.0 1276.9L1072.0 1278.5L1073.0 1280.1L1074.0 1281.6L1075.0 1283.2L1076.0 1284.8L1077.0 1286.3L1078.0 1287.8L1079.0 1289.3L1080.0 1290.9L1081.0 1292.4L1082.0 1293.8L1083.0 1295.3L1084.0 1296.8L1085.0 1298.3L1086.0 1299.7L1087.0 1301.2L1088.0 1302.6L1089.0 1304.0L1090.0 1305.5L1091.0 1306.9L1092.0 1308.3L1093.0 1309.7L1094.0 1311.2L1095.0 1312.6L1096.0 1314.0L1097.0 1315.4L1098.0 1316.8L1099.0 1318.2L1100.0 1319.6L1101.0 1321.1L1102.0 1322.5L1103.0 1323.9L1104.0 1325.3L1105.0 1326.8L1106.0 1328.2L1107.0 1329.6L1108.0 1331.1L1109.0 1332.5L1110.0 1334.0L1111.0 1335.4L1112.0 1336.9L1113.0 1338.3L1114.0 1339.8L1115.0 1341.2L1116.0 1342.6L1117.0 1344.1L1118.0 1345.5L1119.0 1346.9L1120.0 1348.3L1121.0 1349.7L1122.0 1351.1L1123.0 1352.5L1124.0 1353.8L1125.0 1355.2L1126.0 1356.5L1127.0 1357.8L1128.0 1359.1L1129.0 1360.4L1130.0 1361.6L1131.0 1362.9L1132.0 1364.1L1133.0 1365.3L1134.0 1366.5L1135.0 1367.6L1136.0 1368.8L1137.0 1369.9L1138.0 1371.0L1139.0 1372.1L1140.0 1373.1L1141.0 1374.2L1142.0 1375.2L1143.0 1376.2L1144.0 1377.2L1145.0 1378.1L1146.0 1379.0L1147.0 1380.0L1148.0 1380.9L1149.0 1381.7L1150.0 1382.6L1151.0 1383.4L1152.0 1384.2L1153.0 1385.0L1154.0 1385.8L1155.0 1386.6L1156.0 1387.4L1157.0 1388.1L1158.0 1388.8L1159.0 1389.5L1160.0 1390.2L1161.0 1390.9L1162.0 1391.6L1163.0 1392.2L1164.0 1392.8L1165.0 1393.5L1166.0 1394.1L1167.0 1394.7L1168.0 1395.3L1169.0 1395.8L1170.0 1396.4L1171.0 1396.9L1172.0 1397.5L1173.0 1398.0L1174.0 1398.5L1175.0 1399.0L1176.0 1399.5L1177.0 1400.0L1178.0 1400.4L1179.0 1400.9L1180.0 1401.3L1181.0 1401.8L1182.0 1402.2L1183.0 1402.6L1184.0 1403.0L1185.0 1403.4L1186.0 1403.8L1187.0 1404.2L1188.0 1404.6L1189.0 1404.9L1190.0 1405.3L1191.0 1405.6L1192.0 1405.9L1193.0 1406.3L1194.0 1406.6L1195.0 1406.9L1196.0 1407.2L1197.0 1407.5L1198.0 1407.8L1199.0 1408.1L1200.0 1408.4L1201.0 1408.6L1202.0 1408.9L1203.0 1409.2L1204.0 1409.4L1205.0 1409.7L1206.0 1409.9L1207.0 1410.2L1208.0 1410.4L1209.0 1410.6L1210.0 1410.8L1211.0 1411.1L1212.0 1411.3L1213.0 1411.5L1214.0 1411.7L1215.0 1411.9L1216.0 1412.1L1217.0 1412.3L1218.0 1412.4L1219.0 1412.6L1220.0 1412.8L1221.0 1413.0L1222.0 1413.1L1223.0 1413.3L1224.0 1413.5L1225.0 1413.6L1226.0 1413.8L1227.0 1413.9L1228.0 1414.1L1229.0 1414.2L1230.0 1414.4L1231.0 1414.5L1232.0 1414.7L1233.0 1414.8L1234.0 1414.9L1235.0 1415.1L1236.0 1415.2L1237.0 1415.3L1238.0 1415.5L1239.0 1415.6L1240.0 1415.7L1241.0 1415.8L1242.0 1415.9L1243.0 1416.1L1244.0 1416.2L1245.0 1416.3L1246.0 1416.4L1247.0 1416.5L1248.0 1416.6L1249.0 1416.7L1250.0 1416.8L1251.0 1416.9L1252.0 1417.0L1253.0 1417.1L1254.0 1417.2L1255.0 1417.3L1256.0 1417.4L1257.0 1417.5L1258.0 1417.6L1259.0 1417.6L1260.0 1417.7L1261.0 1417.8L1262.0 1417.9L1263.0 1418.0L1264.0 1418.0L1265.0 1418.1L1266.0 1418.2L1267.0 1418.3L1268.0 1418.3L1269.0 1418.4L1270.0 1418.5L1271.0 1418.6L1272.0 1418.6L1273.0 1418.7L1274.0 1418.8L1275.0 1418.8L1276.0 1418.9L1277.0 1418.9L1278.0 1419.0L1279.0 1419.1L1280.0 1419.1L1281.0 1419.2L1282.0 1419.2L1283.0 1419.3L1284.0 1419.3L1285.0 1419.4L1286.0 1419.4L1287.0 1419.5L1288.0 1419.5L1289.0 1419.6L1290.0 1419.6L1291.0 1419.7L1292.0 1419.7L1293.0 1419.8L1294.0 1419.8L1295.0 1419.9L1296.0 1419.9L1297.0 1420.0L1298.0 1420.0L1299.0 1420.0L1300.0 1420.1L1301.0 1420.1L1302.0 1420.2L1303.0 1420.2L1304.0 1420.2L1305.0 1420.3L1306.0 1420.3L1307.0 1420.4L1308.0 1420.4L1309.0 1420.4L1310.0 1420.5L1311.0 1420.5L1312.0 1420.5L1313.0 1420.6L1314.0 1420.6L1315.0 1420.6L1316.0 1420.7L1317.0 1420.7L1318.0 1420.7L1319.0 1420.7L1320.0 1420.8L1321.0 1420.8L1322.0 1420.8L1323.0 1420.9L1324.0 1420.9L1325.0 1420.9L1326.0 1420.9L1327.0 1421.0L1328.0 1421.0L1329.0 1421.0L1330.0 1421.0L1331.0 1421.1L1332.0 1421.1L1333.0 1421.1L1334.0 1421.1L1335.0 1421.2L1336.0 1421.2L1337.0 1421.2L1338.0 1421.2L1339.0 1421.3L1340.0 1421.3L1341.0 1421.3L1342.0 1421.3L1343.0 1421.3L1344.0 1421.4L1345.0 1421.4L1346.0 1421.4L1347.0 1421.4L1348.0 1421.4L1349.0 1421.4L1350.0 1421.5L1351.0 1421.5L1352.0 1421.5L1353.0 1421.5L1354.0 1421.5L1355.0 1421.5L1356.0 1421.6L1357.0 1421.6L1358.0 1421.6L1359.0 1421.6L1360.0 1421.6L1361.0 1421.6L1362.0 1421.6L1363.0 1421.7L1364.0 1421.7L1365.0 1421.7L1366.0 1421.7L1367.0 1421.7L1368.0 1421.7L1369.0 1421.7L1370.0 1421.7L1371.0 1421.8L1372.0 1421.8L1373.0 1421.8L1374.0 1421.8L1375.0 1421.8L1376.0 1421.8L1377.0 1421.8L1378.0 1421.8L1379.0 1421.8L1380.0 1421.9L1381.0 1421.9L1382.0 1421.9L1383.0 1421.9L1384.0 1421.9L1385.0 1421.9L1386.0 1421.9L1387.0 1421.9L1388.0 1421.9L1389.0 1421.9L1390.0 1421.9L1391.0 1422.0L1392.0 1422.0L1393.0 1422.0L1394.0 1422.0L1395.0 1422.0L1396.0 1422.0L1397.0 1422.0L1398.0 1422.0L1399.0 1422.0L1400.0 1422.0L1401.0 1422.0L1402.0 1422.0L1403.0 1422.1L1404.0 1422.1L1405.0 1422.1L1406.0 1422.1L1407.0 1422.1L1408.0 1422.1L1409.0 1422.1L1410.0 1422.1L1411.0 1422.1L1412.0 1422.1L1413.0 1422.1L1414.0 1422.1L1415.0 1422.1L1416.0 1422.2L1417.0 1422.2L1418.0 1422.2L1419.0 1422.2L1420.0 1422.2L1421.0 1422.2L1422.0 1422.2L1423.0 1422.2L1424.0 1422.2L1425.0 1422.2L1426.0 1422.2L1427.0 1422.2L1428.0 1422.2L1429.0 1422.2L1430.0 1422.3L1431.0 1422.3L1432.0 1422.3L1433.0 1422.3L1434.0 1422.3L1435.0 1422.3L1436.0 1422.3L1437.0 1422.3L1438.0 1422.3L1439.0 1422.3L1440.0 1422.3L1441.0 1422.3L1442.0 1422.3L1443.0 1422.3L1444.0 1422.3L1445.0 1422.4L1446.0 1422.4L1447.0 1422.4L1448.0 1422.4L1449.0 1422.4L1450.0 1422.4L1451.0 1422.4L1452.0 1422.4L1453.0 1422.4L1454.0 1422.4L1455.0 1422.4L1456.0 1422.4L1457.0 1422.4L1458.0 1422.4L1459.0 1422.4L1460.0 1422.4L1461.0 1422.5L1462.0 1422.5L1463.0 1422.5L1464.0 1422.5L1465.0 1422.5L1466.0 1422.5L1467.0 1422.5L1468.0 1422.5L1469.0 1422.5L1470.0 1422.5L1471.0 1422.5L1472.0 1422.5L1473.0 1422.5L1474.0 1422.5L1475.0 1422.5L1476.0 1422.5L1477.0 1422.5L1478.0 1422.5L1479.0 1422.6L1480.0 1422.6L1481.0 1422.6L1482.0 1422.6L1483.0 1422.6L1484.0 1422.6L1485.0 1422.6L1486.0 1422.6L1487.0 1422.6L1488.0 1422.6L1489.0 1422.6L1490.0 1422.6L1491.0 1422.6L1492.0 1422.6L1493.0 1422.6L1494.0 1422.6L1495.0 1422.6L1496.0 1422.6L1497.0 1422.6L1498.0 1422.6L1499.0 1422.7L1500.0 1422.7L1501.0 1422.7L1502.0 1422.7L1503.0 1422.7L1504.0 1422.7L1505.0 1422.7L1506.0 1422.7L1507.0 1422.7L1508.0 1422.7L1509.0 1422.7L1510.0 1422.7L1511.0 1422.7L1512.0 1422.7L1513.0 1422.7L1514.0 1422.7L1515.0 1422.7L1516.0 1422.7L1517.0 1422.7L1518.0 1422.7L1519.0 1422.7L1520.0 1422.7L1521.0 1422.8L1522.0 1422.8L1523.0 1422.8L1524.0 1422.8L1525.0 1422.8L1526.0 1422.8L1527.0 1422.8L1528.0 1422.8L1529.0 1422.8L1530.0 1422.8L1531.0 1422.8L1532.0 1422.8L1533.0 1422.8L1534.0 1422.8L1535.0 1422.8L1536.0 1422.8L1537.0 1422.8L1538.0 1422.8L1539.0 1422.8L1540.0 1422.8L1541.0 1422.8L1542.0 1422.8L1543.0 1422.8L1544.0 1422.8L1545.0 1422.8L1546.0 1422.8L1547.0 1422.9L1548.0 1422.9L1549.0 1422.9L1550.0 1422.9L1551.0 1422.9L1552.0 1422.9L1553.0 1422.9L1554.0 1422.9L1555.0 1422.9L1556.0 1422.9L1557.0 1422.9L1558.0 1422.9L1559.0 1422.9L1560.0 1422.9L1561.0 1422.9L1562.0 1422.9L1563.0 1422.9L1564.0 1422.9L1565.0 1422.9L1566.0 1422.9L1567.0 1422.9L1568.0 1422.9L1569.0 1422.9L1570.0 1422.9L1571.0 1422.9L1572.0 1422.9L1573.0 1422.9L1574.0 1422.9L1575.0 1422.9L1576.0 1422.9L1577.0 1422.9L1578.0 1422.9L1579.0 1423.0L1580.0 1423.0L1581.0 1423.0L1582.0 1423.0L1583.0 1423.0L1584.0 1423.0L1585.0 1423.0L1586.0 1423.0L1587.0 1423.0L1588.0 1423.0L1589.0 1423.0L1590.0 1423.0L1591.0 1423.0L1592.0 1423.0L1593.0 1423.0L1594.0 1423.0L1595.0 1423.0L1596.0 1423.0L1597.0 1423.0L1598.0 1423.0L1599.0 1423.0L1600.0 1423.0L1601.0 1423.0L1602.0 1423.0L1603.0 1423.0L1604.0 1423.0L1605.0 1423.0L1606.0 1423.0L1607.0 1423.0L1608.0 1423.0L1609.0 1423.0L1610.0 1423.0L1611.0 1423.0L1612.0 1423.0L1613.0 1423.0L1614.0 1423.0L1615.0 1423.0L1616.0 1423.0L1617.0 1423.0L1618.0 1423.0L1619.0 1423.0L1620.0 1423.0L1621.0 1423.0L1622.0 1423.0L1623.0 1423.0L1624.0 1423.0L1625.0 1423.1L1626.0 1423.1L1627.0 1423.1L1628.0 1423.1L1629.0 1423.1L1630.0 1423.1L1631.0 1423.1L1632.0 1423.1L1633.0 1423.1L1634.0 1423.1L1635.0 1423.1L1636.0 1423.1L1637.0 1423.1L1638.0 1423.1L1639.0 1423.1L1640.0 1423.1L1641.0 1423.1L1642.0 1423.1L1643.0 1423.1L1644.0 1423.1L1645.0 1423.1L1646.0 1423.1L1647.0 1423.1L1648.0 1423.1L1649.0 1423.1L1650.0 1423.1L1651.0 1423.1L1652.0 1423.1L1653.0 1423.1L1654.0 1423.1L1655.0 1423.1L1656.0 1423.1L1657.0 1423.1L1658.0 1423.1L1659.0 1423.1L1660.0 1423.1L1661.0 1423.1L1662.0 1423.1L1663.0 1423.1L1664.0 1423.1L1665.0 1423.1L1666.0 1423.1L1667.0 1423.1L1668.0 1423.1L1669.0 1423.1L1670.0 1423.1L1671.0 1423.1L1672.0 1423.1L1673.0 1423.1L1674.0 1423.1L1675.0 1423.1L1676.0 1423.1L1677.0 1423.1L1678.0 1423.1L1679.0 1423.1L1680.0 1423.1L1681.0 1423.1L1682.0 1423.1L1683.0 1423.1L1684.0 1423.1L1685.0 1423.1L1686.0 1423.1L1687.0 1423.1L1688.0 1423.1L1689.0 1423.1L1690.0 1423.1L1691.0 1423.1L1692.0 1423.1L1693.0 1423.1L1694.0 1423.1L1695.0 1423.1L1696.0 1423.1L1697.0 1423.1L1698.0 1423.1L1699.0 1423.1L1700.0 1423.1L1701.0 1423.1L1702.0 1423.1L1703.0 1423.1L1704.0 1423.1L1705.0 1423.1L1706.0 1423.1L1707.0 1423.1L1708.0 1423.1L1709.0 1423.1L1710.0 1423.1L1711.0 1423.1L1712.0 1423.1L1713.0 1423.1L1714.0 1423.1L1715.0 1423.1L1716.0 1423.1L1717.0 1423.1L1718.0 1423.1L1719.0 1423.1L1720.0 1423.1L1721.0 1423.1L1722.0 1423.1L1723.0 1423.1L1724.0 1423.1L1725.0 1423.1L1726.0 1423.1L1727.0 1423.1L1728.0 1423.1L1729.0 1423.1L1730.0 1423.1L1731.0 1423.1L1732.0 1423.1L1733.0 1423.1L1734.0 1423.1L1735.0 1423.1L1736.0 1423.1L1737.0 1423.1L1738.0 1423.1L1739.0 1423.1L1740.0 1423.1L1741.0 1423.1L1742.0 1423.1L1743.0 1423.1L1744.0 1423.1L1745.0 1423.1L1746.0 1423.1L1747.0 1423.1L1748.0 1423.1L1749.0 1423.1L1750.0 1423.1L1751.0 1423.1L1752.0 1423.1L1753.0 1423.1L1754.0 1423.1L1755.0 1423.1L1756.0 1423.1L1757.0 1423.1L1758.0 1423.1L1759.0 1423.1L1760.0 1423.1L1761.0 1423.1L1762.0 1423.1L1763.0 1423.1L1764.0 1423.1L1765.0 1423.1L1766.0 1423.1L1767.0 1423.1L1768.0 1423.1L1769.0 1423.1L1770.0 1423.1L1771.0 1423.1L1772.0 1423.1L1773.0 1423.1L1774.0 1423.1L1775.0 1423.1L1776.0 1423.1L1777.0 1423.1L1778.0 1423.1L1779.0 1423.1L1780.0 1423.1L1781.0 1423.1L1782.0 1423.1L1783.0 1423.1L1784.0 1423.1L1785.0 1423.1L1786.0 1423.1L1787.0 1423.1L1788.0 1423.1L1789.0 1423.1L1790.0 1423.1L1791.0 1423.1L1792.0 1423.1L1793.0 1423.1L1794.0 1423.1L1795.0 1423.1L1796.0 1423.1L1797.0 1423.1L1798.0 1423.1L1799.0 1423.1L1800.0 1423.1L1801.0 1423.1L1802.0 1423.1L1803.0 1423.1L1804.0 1423.1L1805.0 1423.1L1806.0 1423.1L1807.0 1423.1L1808.0 1423.1L1809.0 1423.1L1810.0 1423.1L1811.0 1423.1L1812.0 1423.1L1813.0 1423.1L1814.0 1423.1L1815.0 1423.1L1816.0 1423.1L1817.0 1423.1L1818.0 1423.1L1819.0 1423.1L1820.0 1423.1L1821.0 1423.1L1822.0 1423.1L1823.0 1423.1L1824.0 1423.1L1825.0 1423.1L1826.0 1423.1L1827.0 1423.1L1828.0 1423.1L1829.0 1423.1L1830.0 1423.1L1831.0 1423.1L1832.0 1423.1L1833.0 1423.1L1834.0 1423.1L1835.0 1423.1L1836.0 1423.1L1837.0 1423.1L1838.0 1423.1L1839.0 1423.1L1840.0 1423.1L1841.0 1423.1L1842.0 1423.1L1843.0 1423.1L1844.0 1423.1L1845.0 1423.1L1846.0 1423.1L1847.0 1423.1L1848.0 1423.1L1849.0 1423.1L1850.0 1423.1L1851.0 1423.1L1852.0 1423.1L1853.0 1423.1L1854.0 1423.1L1855.0 1423.1L1856.0 1423.1L1857.0 1423.1L1858.0 1423.1L1859.0 1423.1L1860.0 1423.1L1861.0 1423.1L1862.0 1423.1L1863.0 1423.0L1864.0 1423.0L1865.0 1423.0L1866.0 1423.0L1867.0 1423.0L1868.0 1423.0L1869.0 1423.0L1870.0 1423.0L1871.0 1423.0L1872.0 1423.0L1873.0 1423.0L1874.0 1423.0L1875.0 1423.0L1876.0 1423.0L1877.0 1423.0L1878.0 1423.0L1879.0 1423.0L1880.0 1423.0L1881.0 1423.0L1882.0 1423.0L1883.0 1423.0L1884.0 1423.0L1885.0 1423.0L1886.0 1423.0L1887.0 1423.0L1888.0 1423.0L1889.0 1423.0L1890.0 1423.0L1891.0 1423.0L1892.0 1423.0L1893.0 1423.0L1894.0 1423.0L1895.0 1423.0L1896.0 1423.0L1897.0 1423.0L1898.0 1423.0L1899.0 1423.0L1900.0 1423.0L1901.0 1423.0L1902.0 1423.0L1903.0 1423.0L1904.0 1423.0L1905.0 1423.0L1906.0 1423.0L1907.0 1423.0L1908.0 1423.0" stroke="#38AE6E"/>
<path d="M271.0 1253.0L272.0 1253.2L273.0 1253.4L274.0 1253.5L275.0 1253.7L276.0 1253.9L277.0 1254.1L278.0 1254.2L279.0 1254.4L280.0 1254.6L281.0 1254.7L282.0 1254.9L283.0 1255.1L284.0 1255.2L285.0 1255.4L286.0 1255.6L287.0 1255.7L288.0 1255.9L289.0 1256.1L290.0 1256.2L291.0 1256.4L292.0 1256.6L293.0 1256.7L294.0 1256.9L295.0 1257.1L296.0 1257.2L297.0 1257.4L298.0 1257.6L299.0 1257.7L300.0 1257.9L301.0 1258.1L302.0 1258.2L303.0 1258.4L304.0 1258.6L305.0 1258.7L306.0 1258.9L307.0 1259.0L308.0 1259.2L309.0 1259.4L310.0 1259.5L311.0 1259.7L312.0 1259.9L313.0 1260.0L314.0 1260.2L315.0 1260.3L316.0 1260.5L317.0 1260.7L318.0 1260.8L319.0 1261.0L320.0 1261.2L321.0 1261.3L322.0 1261.5L323.0 1261.7L324.0 1261.8L325.0 1262.0L326.0 1262.2L327.0 1262.3L328.0 1262.5L329.0 1262.7L330.0 1262.9L331.0 1263.0L332.0 1263.2L333.0 1263.4L334.0 1263.6L335.0 1263.8L336.0 1263.9L337.0 1264.1L338.0 1264.3L339.0 1264.5L340.0 1264.7L341.0 1264.9L342.0 1265.1L343.0 1265.3L344.0 1265.5L345.0 1265.7L346.0 1265.9L347.0 1266.1L348.0 1266.3L349.0 1266.6L350.0 1266.8L351.0 1267.0L352.0 1267.2L353.0 1267.5L354.0 1267.7L355.0 1267.9L356.0 1268.2L357.0 1268.4L358.0 1268.6L359.0 1268.9L360.0 1269.1L361.0 1269.4L362.0 1269.7L363.0 1269.9L364.0 1270.2L365.0 1270.4L366.0 1270.7L367.0 1271.0L368.0 1271.2L369.0 1271.5L370.0 1271.8L371.0 1272.1L372.0 1272.4L373.0 1272.7L374.0 1273.0L375.0 1273.3L376.0 1273.6L377.0 1273.9L378.0 1274.2L379.0 1274.5L380.0 1274.8L381.0 1275.1L382.0 1275.5L383.0 1275.8L384.0 1276.1L385.0 1276.5L386.0 1276.8L387.0 1277.1L388.0 1277.5L389.0 1277.8L390.0 1278.2L391.0 1278.5L392.0 1278.9L393.0 1279.3L394.0 1279.6L395.0 1280.0L396.0 1280.4L397.0 1280.8L398.0 1281.1L399.0 1281.5L400.0 1281.9L401.0 1282.3L402.0 1282.7L403.0 1283.1L404.0 1283.5L405.0 1283.9L406.0 1284.3L407.0 1284.7L408.0 1285.1L409.0 1285.5L410.0 1285.9L411.0 1286.3L412.0 1286.7L413.0 1287.2L414.0 1287.6L415.0 1288.0L416.0 1288.4L417.0 1288.9L418.0 1289.3L419.0 1289.7L420.0 1290.2L421.0 1290.6L422.0 1291.0L423.0 1291.5L424.0 1291.9L425.0 1292.4L426.0 1292.8L427.0 1293.2L428.0 1293.7L429.0 1294.1L430.0 1294.6L431.0 1295.0L432.0 1295.5L433.0 1295.9L434.0 1296.4L435.0 1296.8L436.0 1297.3L437.0 1297.7L438.0 1298.2L439.0 1298.6L440.0 1299.1L441.0 1299.5L442.0 1300.0L443.0 1300.4L444.0 1300.9L445.0 1301.3L446.0 1301.7L447.0 1302.2L448.0 1302.6L449.0 1303.0L450.0 1303.5L451.0 1303.9L452.0 1304.3L453.0 1304.8L454.0 1305.2L455.0 1305.6L456.0 1306.0L457.0 1306.4L458.0 1306.8L459.0 1307.3L460.0 1307.7L461.0 1308.1L462.0 1308.5L463.0 1308.8L464.0 1309.2L465.0 1309.6L466.0 1310.0L467.0 1310.4L468.0 1310.7L469.0 1311.1L470.0 1311.5L471.0 1311.8L472.0 1312.2L473.0 1312.6L474.0 1312.9L475.0 1313.2L476.0 1313.6L477.0 1313.9L478.0 1314.3L479.0 1314.6L480.0 1314.9L481.0 1315.2L482.0 1315.6L483.0 1315.9L484.0 1316.2L485.0 1316.5L486.0 1316.8L487.0 1317.1L488.0 1317.4L489.0 1317.7L490.0 1318.0L491.0 1318.3L492.0 1318.5L493.0 1318.8L494.0 1319.1L495.0 1319.4L496.0 1319.6L497.0 1319.9L498.0 1320.1L499.0 1320.4L500.0 1320.6L501.0 1320.9L502.0 1321.1L503.0 1321.4L504.0 1321.6L505.0 1321.8L506.0 1322.0L507.0 1322.2L508.0 1322.4L509.0 1322.6L510.0 1322.8L511.0 1323.0L512.0 1323.2L513.0 1323.4L514.0 1323.6L515.0 1323.7L516.0 1323.9L517.0 1324.1L518.0 1324.2L519.0 1324.4L520.0 1324.5L521.0 1324.6L522.0 1324.7L523.0 1324.9L524.0 1325.0L525.0 1325.1L526.0 1325.2L527.0 1325.2L528.0 1325.3L529.0 1325.4L530.0 1325.5L531.0 1325.5L532.0 1325.6L533.0 1325.6L534.0 1325.6L535.0 1325.6L536.0 1325.7L537.0 1325.7L538.0 1325.6L539.0 1325.6L540.0 1325.6L541.0 1325.6L542.0 1325.5L543.0 1325.5L544.0 1325.4L545.0 1325.3L546.0 1325.2L547.0 1325.1L548.0 1325.0L549.0 1324.9L550.0 1324.8L551.0 1324.7L552.0 1324.5L553.0 1324.4L554.0 1324.2L555.0 1324.0L556.0 1323.8L557.0 1323.6L558.0 1323.4L559.0 1323.2L560.0 1323.0L561.0 1322.8L562.0 1322.5L563.0 1322.2L564.0 1322.0L565.0 1321.7L566.0 1321.4L567.0 1321.1L568.0 1320.8L569.0 1320.5L570.0 1320.1L571.0 1319.8L572.0 1319.5L573.0 1319.1L574.0 1318.7L575.0 1318.3L576.0 1317.9L577.0 1317.5L578.0 1317.1L579.0 1316.7L580.0 1316.3L581.0 1315.8L582.0 1315.4L583.0 1314.9L584.0 1314.5L585.0 1314.0L586.0 1313.5L587.0 1313.0L588.0 1312.5L589.0 1312.0L590.0 1311.5L591.0 1311.0L592.0 1310.5L593.0 1310.0L594.0 1309.4L595.0 1308.9L596.0 1308.4L597.0 1307.8L598.0 1307.3L599.0 1306.7L600.0 1306.2L601.0 1305.6L602.0 1305.1L603.0 1304.5L604.0 1303.9L605.0 1303.4L606.0 1302.8L607.0 1302.2L608.0 1301.6L609.0 1301.0L610.0 1300.4L611.0 1299.8L612.0 1299.2L613.0 1298.6L614.0 1298.0L615.0 1297.4L616.0 1296.8L617.0 1296.2L618.0 1295.6L619.0 1294.9L620.0 1294.3L621.0 1293.7L622.0 1293.0L623.0 1292.3L624.0 1291.7L625.0 1291.0L626.0 1290.3L627.0 1289.7L628.0 1289.0L629.0 1288.3L630.0 1287.6L631.0 1286.8L632.0 1286.1L633.0 1285.4L634.0 1284.6L635.0 1283.9L636.0 1283.1L637.0 1282.4L638.0 1281.6L639.0 1280.8L640.0 1280.0L641.0 1279.2L642.0 1278.4L643.0 1277.5L644.0 1276.7L645.0 1275.8L646.0 1275.0L647.0 1274.1L648.0 1273.2L649.0 1272.3L650.0 1271.5L651.0 1270.5L652.0 1269.6L653.0 1268.7L654.0 1267.8L655.0 1266.9L656.0 1265.9L657.0 1265.0L658.0 1264.0L659.0 1263.1L660.0 1262.1L661.0 1261.1L662.0 1260.2L663.0 1259.2L664.0 1258.2L665.0 1257.2L666.0 1256.2L667.0 1255.2L668.0 1254.2L669.0 1253.2L670.0 1252.2L671.0 1251.2L672.0 1250.2L673.0 1249.2L674.0 1248.2L675.0 1247.2L676.0 1246.2L677.0 1245.2L678.0 1244.2L679.0 1243.2L680.0 1242.2L681.0 1241.2L682.0 1240.1L683.0 1239.1L684.0 1238.1L685.0 1237.1L686.0 1236.1L687.0 1235.1L688.0 1234.1L689.0 1233.1L690.0 1232.1L691.0 1231.1L692.0 1230.1L693.0 1229.1L694.0 1228.1L695.0 1227.1L696.0 1226.1L697.0 1225.0L698.0 1224.0L699.0 1223.0L700.0 1222.0L701.0 1221.0L702.0 1220.0L703.0 1219.0L704.0 1218.0L705.0 1217.0L706.0 1216.0L707.0 1215.0L708.0 1214.0L709.0 1212.9L710.0 1211.9L711.0 1210.9L712.0 1209.9L713.0 1208.9L714.0 1207.9L715.0 1206.9L716.0 1205.8L717.0 1204.8L718.0 1203.8L719.0 1202.8L720.0 1201.8L721.0 1200.8L722.0 1199.7L723.0 1198.7L724.0 1197.7L725.0 1196.7L726.0 1195.6L727.0 1194.6L728.0 1193.6L729.0 1192.6L730.0 1191.6L731.0 1190.5L732.0 1189.5L733.0 1188.5L734.0 1187.5L735.0 1186.4L736.0 1185.4L737.0 1184.4L738.0 1183.4L739.0 1182.3L740.0 1181.3L741.0 1180.3L742.0 1179.2L743.0 1178.2L744.0 1177.2L745.0 1176.2L746.0 1175.1L747.0 1174.1L748.0 1173.1L749.0 1172.1L750.0 1171.0L751.0 1170.0L752.0 1169.0L753.0 1168.0L754.0 1167.0L755.0 1166.0L756.0 1165.0L757.0 1164.0L758.0 1163.0L759.0 1162.0L760.0 1161.0L761.0 1160.0L762.0 1159.0L763.0 1158.0L764.0 1157.1L765.0 1156.1L766.0 1155.1L767.0 1154.2L768.0 1153.2L769.0 1152.2L770.0 1151.3L771.0 1150.3L772.0 1149.4L773.0 1148.5L774.0 1147.5L775.0 1146.6L776.0 1145.7L777.0 1144.7L778.0 1143.8L779.0 1142.9L780.0 1142.0L781.0 1141.1L782.0 1140.1L783.0 1139.2L784.0 1138.3L785.0 1137.4L786.0 1136.5L787.0 1135.6L788.0 1134.7L789.0 1133.8L790.0 1132.9L791.0 1132.0L792.0 1131.1L793.0 1130.3L794.0 1129.4L795.0 1128.5L796.0 1127.6L797.0 1126.7L798.0 1125.9L799.0 1125.0L800.0 1124.1L801.0 1123.3L802.0 1122.4L803.0 1121.6L804.0 1120.7L805.0 1119.9L806.0 1119.0L807.0 1118.2L808.0 1117.4L809.0 1116.5L810.0 1115.7L811.0 1114.9L812.0 1114.1L813.0 1113.3L814.0 1112.5L815.0 1111.7L816.0 1110.9L817.0 1110.2L818.0 1109.4L819.0 1108.6L820.0 1107.9L821.0 1107.2L822.0 1106.4L823.0 1105.7L824.0 1105.0L825.0 1104.3L826.0 1103.6L827.0 1102.9L828.0 1102.3L829.0 1101.6L830.0 1100.9L831.0 1100.3L832.0 1099.7L833.0 1099.1L834.0 1098.5L835.0 1097.9L836.0 1097.3L837.0 1096.7L838.0 1096.2L839.0 1095.6L840.0 1095.1L841.0 1094.6L842.0 1094.0L843.0 1093.5L844.0 1093.1L845.0 1092.6L846.0 1092.1L847.0 1091.7L848.0 1091.2L849.0 1090.8L850.0 1090.4L851.0 1090.0L852.0 1089.6L853.0 1089.2L854.0 1088.8L855.0 1088.5L856.0 1088.1L857.0 1087.8L858.0 1087.5L859.0 1087.2L860.0 1086.9L861.0 1086.6L862.0 1086.3L863.0 1086.0L864.0 1085.8L865.0 1085.5L866.0 1085.3L867.0 1085.1L868.0 1084.9L869.0 1084.7L870.0 1084.5L871.0 1084.4L872.0 1084.2L873.0 1084.1L874.0 1083.9L875.0 1083.8L876.0 1083.7L877.0 1083.6L878.0 1083.5L879.0 1083.4L880.0 1083.4L881.0 1083.3L882.0 1083.3L883.0 1083.3L884.0 1083.3L885.0 1083.3L886.0 1083.3L887.0 1083.3L888.0 1083.4L889.0 1083.4L890.0 1083.5L891.0 1083.6L892.0 1083.7L893.0 1083.8L894.0 1083.9L895.0 1084.1L896.0 1084.2L897.0 1084.4L898.0 1084.6L899.0 1084.8L900.0 1085.0L901.0 1085.2L902.0 1085.4L903.0 1085.7L904.0 1086.0L905.0 1086.2L906.0 1086.5L907.0 1086.8L908.0 1087.2L909.0 1087.5L910.0 1087.9L911.0 1088.2L912.0 1088.6L913.0 1089.0L914.0 1089.4L915.0 1089.8L916.0 1090.2L917.0 1090.7L918.0 1091.1L919.0 1091.6L920.0 1092.1L921.0 1092.6L922.0 1093.1L923.0 1093.6L924.0 1094.2L925.0 1094.7L926.0 1095.3L927.0 1095.9L928.0 1096.5L929.0 1097.1L930.0 1097.7L931.0 1098.4L932.0 1099.0L933.0 1099.7L934.0 1100.4L935.0 1101.1L936.0 1101.8L937.0 1102.5L938.0 1103.2L939.0 1104.0L940.0 1104.7L941.0 1105.5L942.0 1106.3L943.0 1107.1L944.0 1107.9L945.0 1108.7L946.0 1109.5L947.0 1110.4L948.0 1111.2L949.0 1112.1L950.0 1113.0L951.0 1113.9L952.0 1114.8L953.0 1115.7L954.0 1116.6L955.0 1117.5L956.0 1118.5L957.0 1119.5L958.0 1120.4L959.0 1121.4L960.0 1122.4L961.0 1123.4L962.0 1124.4L963.0 1125.5L964.0 1126.5L965.0 1127.6L966.0 1128.6L967.0 1129.7L968.0 1130.8L969.0 1131.9L970.0 1133.0L971.0 1134.1L972.0 1135.3L973.0 1136.4L974.0 1137.6L975.0 1138.7L976.0 1139.9L977.0 1141.1L978.0 1142.3L979.0 1143.6L980.0 1144.8L981.0 1146.0L982.0 1147.3L983.0 1148.5L984.0 1149.8L985.0 1151.1L986.0 1152.4L987.0 1153.7L988.0 1154.9L989.0 1156.2L990.0 1157.5L991.0 1158.8L992.0 1160.1L993.0 1161.4L994.0 1162.7L995.0 1163.9L996.0 1165.2L997.0 1166.5L998.0 1167.7L999.0 1169.0L1000.0 1170.2L1001.0 1171.4L1002.0 1172.7L1003.0 1173.9L1004.0 1175.1L1005.0 1176.3L1006.0 1177.6L1007.0 1178.8L1008.0 1180.0L1009.0 1181.2L1010.0 1182.4L1011.0 1183.6L1012.0 1184.9L1013.0 1186.1L1014.0 1187.3L1015.0 1188.5L1016.0 1189.8L1017.0 1191.0L1018.0 1192.2L1019.0 1193.5L1020.0 1194.7L1021.0 1196.0L1022.0 1197.2L1023.0 1198.5L1024.0 1199.8L1025.0 1201.1L1026.0 1202.3L1027.0 1203.6L1028.0 1204.9L1029.0 1206.3L1030.0 1207.6L1031.0 1208.9L1032.0 1210.3L1033.0 1211.6L1034.0 1213.0L1035.0 1214.4L1036.0 1215.8L1037.0 1217.2L1038.0 1218.7L1039.0 1220.1L1040.0 1221.6L1041.0 1223.1L1042.0 1224.6L1043.0 1226.1L1044.0 1227.7L1045.0 1229.2L1046.0 1230.8L1047.0 1232.4L1048.0 1234.0L1049.0 1235.7L1050.0 1237.3L1051.0 1239.0L1052.0 1240.7L1053.0 1242.4L1054.0 1244.1L1055.0 1245.8L1056.0 1247.5L1057.0 1249.2L1058.0 1250.9L1059.0 1252.7L1060.0 1254.4L1061.0 1256.1L1062.0 1257.8L1063.0 1259.6L1064.0 1261.3L1065.0 1263.0L1066.0 1264.7L1067.0 1266.4L1068.0 1268.1L1069.0 1269.8L1070.0 1271.5L1071.0 1273.1L1072.0 1274.8L1073.0 1276.4L1074.0 1278.0L1075.0 1279.7L1076.0 1281.3L1077.0 1282.9L1078.0 1284.5L1079.0 1286.0L1080.0 1287.6L1081.0 1289.2L1082.0 1290.7L1083.0 1292.2L1084.0 1293.7L1085.0 1295.3L1086.0 1296.8L1087.0 1298.2L1088.0 1299.7L1089.0 1301.2L1090.0 1302.7L1091.0 1304.1L1092.0 1305.6L1093.0 1307.0L1094.0 1308.5L1095.0 1309.9L1096.0 1311.4L1097.0 1312.8L1098.0 1314.2L1099.0 1315.7L1100.0 1317.1L1101.0 1318.5L1102.0 1320.0L1103.0 1321.4L1104.0 1322.8L1105.0 1324.3L1106.0 1325.7L1107.0 1327.2L1108.0 1328.6L1109.0 1330.1L1110.0 1331.5L1111.0 1333.0L1112.0 1334.4L1113.0 1335.9L1114.0 1337.4L1115.0 1338.8L1116.0 1340.2L1117.0 1341.7L1118.0 1343.1L1119.0 1344.5L1120.0 1345.9L1121.0 1347.4L1122.0 1348.8L1123.0 1350.1L1124.0 1351.5L1125.0 1352.9L1126.0 1354.2L1127.0 1355.5L1128.0 1356.9L1129.0 1358.2L1130.0 1359.4L1131.0 1360.7L1132.0 1362.0L1133.0 1363.2L1134.0 1364.4L1135.0 1365.6L1136.0 1366.8L1137.0 1367.9L1138.0 1369.0L1139.0 1370.1L1140.0 1371.2L1141.0 1372.3L1142.0 1373.4L1143.0 1374.4L1144.0 1375.4L1145.0 1376.4L1146.0 1377.3L1147.0 1378.3L1148.0 1379.2L1149.0 1380.1L1150.0 1381.0L1151.0 1381.9L1152.0 1382.7L1153.0 1383.5L1154.0 1384.3L1155.0 1385.1L1156.0 1385.9L1157.0 1386.7L1158.0 1387.4L1159.0 1388.1L1160.0 1388.8L1161.0 1389.5L1162.0 1390.2L1163.0 1390.9L1164.0 1391.5L1165.0 1392.2L1166.0 1392.8L1167.0 1393.4L1168.0 1394.0L1169.0 1394.6L1170.0 1395.1L1171.0 1395.7L1172.0 1396.2L1173.0 1396.8L1174.0 1397.3L1175.0 1397.8L1176.0 1398.3L1177.0 1398.8L1178.0 1399.3L1179.0 1399.7L1180.0 1400.2L1181.0 1400.7L1182.0 1401.1L1183.0 1401.5L1184.0 1401.9L1185.0 1402.3L1186.0 1402.8L1187.0 1403.1L1188.0 1403.5L1189.0 1403.9L1190.0 1404.3L1191.0 1404.6L1192.0 1405.0L1193.0 1405.3L1194.0 1405.7L1195.0 1406.0L1196.0 1406.3L1197.0 1406.6L1198.0 1406.9L1199.0 1407.2L1200.0 1407.5L1201.0 1407.8L1202.0 1408.1L1203.0 1408.4L1204.0 1408.6L1205.0 1408.9L1206.0 1409.2L1207.0 1409.4L1208.0 1409.7L1209.0 1409.9L1210.0 1410.1L1211.0 1410.4L1212.0 1410.6L1213.0 1410.8L1214.0 1411.0L1215.0 1411.3L1216.0 1411.5L1217.0 1411.7L1218.0 1411.9L1219.0 1412.1L1220.0 1412.3L1221.0 1412.5L1222.0 1412.6L1223.0 1412.8L1224.0 1413.0L1225.0 1413.2L1226.0 1413.3L1227.0 1413.5L1228.0 1413.7L1229.0 1413.8L1230.0 1414.0L1231.0 1414.1L1232.0 1414.3L1233.0 1414.5L1234.0 1414.6L1235.0 1414.7L1236.0 1414.9L1237.0 1415.0L1238.0 1415.2L1239.0 1415.3L1240.0 1415.4L1241.0 1415.6L1242.0 1415.7L1243.0 1415.8L1244.0 1415.9L1245.0 1416.1L1246.0 1416.2L1247.0 1416.3L1248.0 1416.4L1249.0 1416.5L1250.0 1416.6L1251.0 1416.7L1252.0 1416.8L1253.0 1417.0L1254.0 1417.1L1255.0 1417.2L1256.0 1417.3L1257.0 1417.4L1258.0 1417.5L1259.0 1417.5L1260.0 1417.6L1261.0 1417.7L1262.0 1417.8L1263.0 1417.9L1264.0 1418.0L1265.0 1418.1L1266.0 1418.2L1267.0 1418.2L1268.0 1418.3L1269.0 1418.4L1270.0 1418.5L1271.0 1418.5L1272.0 1418.6L1273.0 1418.7L1274.0 1418.8L1275.0 1418.8L1276.0 1418.9L1277.0 1419.0L1278.0 1419.0L1279.0 1419.1L1280.0 1419.1L1281.0 1419.2L1282.0 1419.3L1283.0 1419.3L1284.0 1419.4L1285.0 1419.4L1286.0 1419.5L1287.0 1419.5L1288.0 1419.6L1289.0 1419.7L1290.0 1419.7L1291.0 1419.8L1292.0 1419.8L1293.0 1419.9L1294.0 1419.9L1295.0 1419.9L1296.0 1420.0L1297.0 1420.0L1298.0 1420.1L1299.0 1420.1L1300.0 1420.2L1301.0 1420.2L1302.0 1420.2L1303.0 1420.3L1304.0 1420.3L1305.0 1420.4L1306.0 1420.4L1307.0 1420.4L1308.0 1420.5L1309.0 1420.5L1310.0 1420.6L1311.0 1420.6L1312.0 1420.6L1313.0 1420.7L1314.0 1420.7L1315.0 1420.7L1316.0 1420.8L1317.0 1420.8L1318.0 1420.8L1319.0 1420.9L1320.0 1420.9L1321.0 1420.9L1322.0 1420.9L1323.0 1421.0L1324.0 1421.0L1325.0 1421.0L1326.0 1421.1L1327.0 1421.1L1328.0 1421.1L1329.0 1421.1L1330.0 1421.2L1331.0 1421.2L1332.0 1421.2L1333.0 1421.2L1334.0 1421.3L1335.0 1421.3L1336.0 1421.3L1337.0 1421.3L1338.0 1421.3L1339.0 1421.4L1340.0 1421.4L1341.0 1421.4L1342.0 1421.4L1343.0 1421.4L1344.0 1421.5L1345.0 1421.5L1346.0 1421.5L1347.0 1421.5L1348.0 1421.5L1349.0 1421.6L1350.0 1421.6L1351.0 1421.6L1352.0 1421.6L1353.0 1421.6L1354.0 1421.6L1355.0 1421.7L1356.0 1421.7L1357.0 1421.7L1358.0 1421.7L1359.0 1421.7L1360.0 1421.7L1361.0 1421.7L1362.0 1421.8L1363.0 1421.8L1364.0 1421.8L1365.0 1421.8L1366.0 1421.8L1367.0 1421.8L1368.0 1421.8L1369.0 1421.8L1370.0 1421.9L1371.0 1421.9L1372.0 1421.9L1373.0 1421.9L1374.0 1421.9L1375.0 1421.9L1376.0 1421.9L1377.0 1421.9L1378.0 1421.9L1379.0 1422.0L1380.0 1422.0L1381.0 1422.0L1382.0 1422.0L1383.0 1422.0L1384.0 1422.0L1385.0 1422.0L1386.0 1422.0L1387.0 1422.0L1388.0 1422.0L1389.0 1422.1L1390.0 1422.1L1391.0 1422.1L1392.0 1422.1L1393.0 1422.1L1394.0 1422.1L1395.0 1422.1L1396.0 1422.1L1397.0 1422.1L1398.0 1422.1L1399.0 1422.1L1400.0 1422.1L1401.0 1422.2L1402.0 1422.2L1403.0 1422.2L1404.0 1422.2L1405.0 1422.2L1406.0 1422.2L1407.0 1422.2L1408.0 1422.2L1409.0 1422.2L1410.0 1422.2L1411.0 1422.2L1412.0 1422.2L1413.0 1422.2L1414.0 1422.3L1415.0 1422.3L1416.0 1422.3L1417.0 1422.3L1418.0 1422.3L1419.0 1422.3L1420.0 1422.3L1421.0 1422.3L1422.0 1422.3L1423.0 1422.3L1424.0 1422.3L1425.0 1422.3L1426.0 1422.3L1427.0 1422.4L1428.0 1422.4L1429.0 1422.4L1430.0 1422.4L1431.0 1422.4L1432.0 1422.4L1433.0 1422.4L1434.0 1422.4L1435.0 1422.4L1436.0 1422.4L1437.0 1422.4L1438.0 1422.4L1439.0 1422.4L1440.0 1422.4L1441.0 1422.4L1442.0 1422.5L1443.0 1422.5L1444.0 1422.5L1445.0 1422.5L1446.0 1422.5L1447.0 1422.5L1448.0 1422.5L1449.0 1422.5L1450.0 1422.5L1451.0 1422.5L1452.0 1422.5L1453.0 1422.5L1454.0 1422.5L1455.0 1422.5L1456.0 1422.5L1457.0 1422.5L1458.0 1422.6L1459.0 1422.6L1460.0 1422.6L1461.0 1422.6L1462.0 1422.6L1463.0 1422.6L1464.0 1422.6L1465.0 1422.6L1466.0 1422.6L1467.0 1422.6L1468.0 1422.6L1469.0 1422.6L1470.0 1422.6L1471.0 1422.6L1472.0 1422.6L1473.0 1422.6L1474.0 1422.6L1475.0 1422.7L1476.0 1422.7L1477.0 1422.7L1478.0 1422.7L1479.0 1422.7L1480.0 1422.7L1481.0 1422.7L1482.0 1422.7L1483.0 1422.7L1484.0 1422.7L1485.0 1422.7L1486.0 1422.7L1487.0 1422.7L1488.0 1422.7L1489.0 1422.7L1490.0 1422.7L1491.0 1422.7L1492.0 1422.7L1493.0 1422.7L1494.0 1422.8L1495.0 1422.8L1496.0 1422.8L1497.0 1422.8L1498.0 1422.8L1499.0 1422.8L1500.0 1422.8L1501.0 1422.8L1502.0 1422.8L1503.0 1422.8L1504.0 1422.8L1505.0 1422.8L1506.0 1422.8L1507.0 1422.8L1508.0 1422.8L1509.0 1422.8L1510.0 1422.8L1511.0 1422.8L1512.0 1422.8L1513.0 1422.8L1514.0 1422.8L1515.0 1422.9L1516.0 1422.9L1517.0 1422.9L1518.0 1422.9L1519.0 1422.9L1520.0 1422.9L1521.0 1422.9L1522.0 1422.9L1523.0 1422.9L1524.0 1422.9L1525.0 1422.9L1526.0 1422.9L1527.0 1422.9L1528.0 1422.9L1529.0 1422.9L1530.0 1422.9L1531.0 1422.9L1532.0 1422.9L1533.0 1422.9L1534.0 1422.9L1535.0 1422.9L1536.0 1422.9L1537.0 1422.9L1538.0 1422.9L1539.0 1422.9L1540.0 1423.0L1541.0 1423.0L1542.0 1423.0L1543.0 1423.0L1544.0 1423.0L1545.0 1423.0L1546.0 1423.0L1547.0 1423.0L1548.0 1423.0L1549.0 1423.0L1550.0 1423.0L1551.0 1423.0L1552.0 1423.0L1553.0 1423.0L1554.0 1423.0L1555.0 1423.0L1556.0 1423.0L1557.0 1423.0L1558.0 1423.0L1559.0 1423.0L1560.0 1423.0L1561.0 1423.0L1562.0 1423.0L1563.0 1423.0L1564.0 1423.0L1565.0 1423.0L1566.0 1423.0L1567.0 1423.0L1568.0 1423.0L1569.0 1423.0L1570.0 1423.0L1571.0 1423.1L1572.0 1423.1L1573.0 1423.1L1574.0 1423.1L1575.0 1423.1L1576.0 1423.1L1577.0 1423.1L1578.0 1423.1L1579.0 1423.1L1580.0 1423.1L1581.0 1423.1L1582.0 1423.1L1583.0 1423.1L1584.0 1423.1L1585.0 1423.1L1586.0 1423.1L1587.0 1423.1L1588.0 1423.1L1589.0 1423.1L1590.0 1423.1L1591.0 1423.1L1592.0 1423.1L1593.0 1423.1L1594.0 1423.1L1595.0 1423.1L1596.0 1423.1L1597.0 1423.1L1598.0 1423.1L1599.0 1423.1L1600.0 1423.1L1601.0 1423.1L1602.0 1423.1L1603.0 1423.1L1604.0 1423.1L1605.0 1423.1L1606.0 1423.1L1607.0 1423.1L1608.0 1423.1L1609.0 1423.1L1610.0 1423.1L1611.0 1423.1L1612.0 1423.1L1613.0 1423.2L1614.0 1423.2L1615.0 1423.2L1616.0 1423.2L1617.0 1423.2L1618.0 1423.2L1619.0 1423.2L1620.0 1423.2L1621.0 1423.2L1622.0 1423.2L1623.0 1423.2L1624.0 1423.2L1625.0 1423.2L1626.0 1423.2L1627.0 1423.2L1628.0 1423.2L1629.0 1423.2L1630.0 1423.2L1631.0 1423.2L1632.0 1423.2L1633.0 1423.2L1634.0 1423.2L1635.0 1423.2L1636.0 1423.2L1637.0 1423.2L1638.0 1423.2L1639.0 1423.2L1640.0 1423.2L1641.0 1423.2L1642.0 1423.2L1643.0 1423.2L1644.0 1423.2L1645.0 1423.2L1646.0 1423.2L1647.0 1423.2L1648.0 1423.2L1649.0 1423.2L1650.0 1423.2L1651.0 1423.2L1652.0 1423.2L1653.0 1423.2L1654.0 1423.2L1655.0 1423.2L1656.0 1423.2L1657.0 1423.2L1658.0 1423.2L1659.0 1423.2L1660.0 1423.2L1661.0 1423.2L1662.0 1423.2L1663.0 1423.2L1664.0 1423.2L1665.0 1423.2L1666.0 1423.2L1667.0 1423.2L1668.0 1423.2L1669.0 1423.2L1670.0 1423.2L1671.0 1423.2L1672.0 1423.2L1673.0 1423.2L1674.0 1423.2L1675.0 1423.2L1676.0 1423.2L1677.0 1423.2L1678.0 1423.2L1679.0 1423.2L1680.0 1423.2L1681.0 1423.2L1682.0 1423.2L1683.0 1423.2L1684.0 1423.2L1685.0 1423.2L1686.0 1423.2L1687.0 1423.2L1688.0 1423.2L1689.0 1423.2L1690.0 1423.2L1691.0 1423.2L1692.0 1423.2L1693.0 1423.2L1694.0 1423.2L1695.0 1423.2L1696.0 1423.2L1697.0 1423.2L1698.0 1423.2L1699.0 1423.2L1700.0 1423.2L1701.0 1423.2L1702.0 1423.2L1703.0 1423.2L1704.0 1423.2L1705.0 1423.2L1706.0 1423.2L1707.0 1423.2L1708.0 1423.2L1709.0 1423.2L1710.0 1423.2L1711.0 1423.2L1712.0 1423.2L1713.0 1423.2L1714.0 1423.2L1715.0 1423.2L1716.0 1423.2L1717.0 1423.2L1718.0 1423.2L1719.0 1423.2L1720.0 1423.2L1721.0 1423.2L1722.0 1423.2L1723.0 1423.2L1724.0 1423.2L1725.0 1423.2L1726.0 1423.2L1727.0 1423.2L1728.0 1423.2L1729.0 1423.2L1730.0 1423.2L1731.0 1423.2L1732.0 1423.2L1733.0 1423.2L1734.0 1423.2L1735.0 1423.2L1736.0 1423.2L1737.0 1423.2L1738.0 1423.2L1739.0 1423.2L1740.0 1423.2L1741.0 1423.2L1742.0 1423.2L1743.0 1423.2L1744.0 1423.2L1745.0 1423.2L1746.0 1423.2L1747.0 1423.2L1748.0 1423.2L1749.0 1423.2L1750.0 1423.2L1751.0 1423.2L1752.0 1423.2L1753.0 1423.2L1754.0 1423.2L1755.0 1423.2L1756.0 1423.2L1757.0 1423.2L1758.0 1423.2L1759.0 1423.2L1760.0 1423.2L1761.0 1423.2L1762.0 1423.2L1763.0 1423.2L1764.0 1423.2L1765.0 1423.2L1766.0 1423.2L1767.0 1423.2L1768.0 1423.2L1769.0 1423.2L1770.0 1423.2L1771.0 1423.2L1772.0 1423.2L1773.0 1423.2L1774.0 1423.2L1775.0 1423.2L1776.0 1423.2L1777.0 1423.2L1778.0 1423.2L1779.0 1423.2L1780.0 1423.2L1781.0 1423.2L1782.0 1423.2L1783.0 1423.2L1784.0 1423.2L1785.0 1423.2L1786.0 1423.2L1787.0 1423.2L1788.0 1423.2L1789.0 1423.2L1790.0 1423.2L1791.0 1423.2L1792.0 1423.2L1793.0 1423.2L1794.0 1423.2L1795.0 1423.2L1796.0 1423.2L1797.0 1423.2L1798.0 1423.2L1799.0 1423.2L1800.0 1423.2L1801.0 1423.2L1802.0 1423.2L1803.0 1423.2L1804.0 1423.2L1805.0 1423.2L1806.0 1423.2L1807.0 1423.2L1808.0 1423.2L1809.0 1423.2L1810.0 1423.2L1811.0 1423.2L1812.0 1423.2L1813.0 1423.2L1814.0 1423.2L1815.0 1423.2L1816.0 1423.2L1817.0 1423.2L1818.0 1423.2L1819.0 1423.2L1820.0 1423.2L1821.0 1423.2L1822.0 1423.2L1823.0 1423.2L1824.0 1423.2L1825.0 1423.2L1826.0 1423.2L1827.0 1423.2L1828.0 1423.2L1829.0 1423.2L1830.0 1423.2L1831.0 1423.2L1832.0 1423.2L1833.0 1423.2L1834.0 1423.2L1835.0 1423.2L1836.0 1423.2L1837.0 1423.2L1838.0 1423.2L1839.0 1423.2L1840.0 1423.2L1841.0 1423.2L1842.0 1423.2L1843.0 1423.2L1844.0 1423.2L1845.0 1423.2L1846.0 1423.2L1847.0 1423.2L1848.0 1423.2L1849.0 1423.2L1850.0 1423.2L1851.0 1423.2L1852.0 1423.2L1853.0 1423.2L1854.0 1423.2L1855.0 1423.2L1856.0 1423.2L1857.0 1423.2L1858.0 1423.2L1859.0 1423.2L1860.0 1423.2L1861.0 1423.2L1862.0 1423.2L1863.0 1423.2L1864.0 1423.2L1865.0 1423.2L1866.0 1423.2L1867.0 1423.1L1868.0 1423.1L1869.0 1423.1L1870.0 1423.1L1871.0 1423.1L1872.0 1423.1L1873.0 1423.1L1874.0 1423.1L1875.0 1423.1L1876.0 1423.1L1877.0 1423.1L1878.0 1423.1L1879.0 1423.1L1880.0 1423.1L1881.0 1423.1L1882.0 1423.1L1883.0 1423.1L1884.0 1423.1L1885.0 1423.1L1886.0 1423.1L1887.0 1423.1L1888.0 1423.1L1889.0 1423.1L1890.0 1423.1L1891.0 1423.1L1892.0 1423.1L1893.0 1423.1L1894.0 1423.1L1895.0 1423.1L1896.0 1423.1L1897.0 1423.1L1898.0 1423.1L1899.0 1423.1L1900.0 1423.1L1901.0 1423.1L1902.0 1423.1L1903.0 1423.1L1904.0 1423.1L1905.0 1423.1L1906.0 1423.1L1907.0 1423.1L1908.0 1423.1" stroke="#B07ADC"/>
<path d="M271.0 1255.0L272.0 1255.1L273.0 1255.3L274.0 1255.5L275.0 1255.6L276.0 1255.8L277.0 1255.9L278.0 1256.1L279.0 1256.2L280.0 1256.4L281.0 1256.5L282.0 1256.7L283.0 1256.8L284.0 1257.0L285.0 1257.2L286.0 1257.3L287.0 1257.5L288.0 1257.6L289.0 1257.8L290.0 1257.9L291.0 1258.1L292.0 1258.2L293.0 1258.4L294.0 1258.5L295.0 1258.7L296.0 1258.8L297.0 1259.0L298.0 1259.1L299.0 1259.3L300.0 1259.4L301.0 1259.6L302.0 1259.7L303.0 1259.9L304.0 1260.0L305.0 1260.2L306.0 1260.3L307.0 1260.5L308.0 1260.6L309.0 1260.8L310.0 1260.9L311.0 1261.1L312.0 1261.2L313.0 1261.4L314.0 1261.5L315.0 1261.7L316.0 1261.8L317.0 1262.0L318.0 1262.1L319.0 1262.3L320.0 1262.4L321.0 1262.6L322.0 1262.7L323.0 1262.9L324.0 1263.0L325.0 1263.2L326.0 1263.4L327.0 1263.5L328.0 1263.7L329.0 1263.8L330.0 1264.0L331.0 1264.2L332.0 1264.3L333.0 1264.5L334.0 1264.7L335.0 1264.8L336.0 1265.0L337.0 1265.2L338.0 1265.4L339.0 1265.5L340.0 1265.7L341.0 1265.9L342.0 1266.1L343.0 1266.3L344.0 1266.5L345.0 1266.7L346.0 1266.9L347.0 1267.1L348.0 1267.3L349.0 1267.5L350.0 1267.7L351.0 1267.9L352.0 1268.1L353.0 1268.3L354.0 1268.5L355.0 1268.8L356.0 1269.0L357.0 1269.2L358.0 1269.4L359.0 1269.7L360.0 1269.9L361.0 1270.1L362.0 1270.4L363.0 1270.6L364.0 1270.9L365.0 1271.1L366.0 1271.4L367.0 1271.6L368.0 1271.9L369.0 1272.2L370.0 1272.4L371.0 1272.7L372.0 1273.0L373.0 1273.2L374.0 1273.5L375.0 1273.8L376.0 1274.1L377.0 1274.4L378.0 1274.7L379.0 1275.0L380.0 1275.3L381.0 1275.6L382.0 1275.9L383.0 1276.2L384.0 1276.5L385.0 1276.8L386.0 1277.2L387.0 1277.5L388.0 1277.8L389.0 1278.2L390.0 1278.5L391.0 1278.8L392.0 1279.2L393.0 1279.5L394.0 1279.9L395.0 1280.2L396.0 1280.6L397.0 1280.9L398.0 1281.3L399.0 1281.7L400.0 1282.0L401.0 1282.4L402.0 1282.8L403.0 1283.2L404.0 1283.5L405.0 1283.9L406.0 1284.3L407.0 1284.7L408.0 1285.1L409.0 1285.5L410.0 1285.9L411.0 1286.3L412.0 1286.7L413.0 1287.1L414.0 1287.5L415.0 1287.9L416.0 1288.3L417.0 1288.7L418.0 1289.1L419.0 1289.5L420.0 1289.9L421.0 1290.4L422.0 1290.8L423.0 1291.2L424.0 1291.6L425.0 1292.0L426.0 1292.5L427.0 1292.9L428.0 1293.3L429.0 1293.7L430.0 1294.2L431.0 1294.6L432.0 1295.0L433.0 1295.5L434.0 1295.9L435.0 1296.3L436.0 1296.7L437.0 1297.2L438.0 1297.6L439.0 1298.0L440.0 1298.5L441.0 1298.9L442.0 1299.3L443.0 1299.8L444.0 1300.2L445.0 1300.6L446.0 1301.1L447.0 1301.5L448.0 1301.9L449.0 1302.3L450.0 1302.8L451.0 1303.2L452.0 1303.6L453.0 1304.0L454.0 1304.4L455.0 1304.8L456.0 1305.2L457.0 1305.6L458.0 1306.0L459.0 1306.4L460.0 1306.8L461.0 1307.2L462.0 1307.6L463.0 1308.0L464.0 1308.4L465.0 1308.8L466.0 1309.1L467.0 1309.5L468.0 1309.9L469.0 1310.2L470.0 1310.6L471.0 1311.0L472.0 1311.3L473.0 1311.7L474.0 1312.0L475.0 1312.4L476.0 1312.7L477.0 1313.0L478.0 1313.4L479.0 1313.7L480.0 1314.0L481.0 1314.4L482.0 1314.7L483.0 1315.0L484.0 1315.3L485.0 1315.6L486.0 1315.9L487.0 1316.2L488.0 1316.5L489.0 1316.8L490.0 1317.1L491.0 1317.4L492.0 1317.7L493.0 1318.0L494.0 1318.2L495.0 1318.5L496.0 1318.8L497.0 1319.0L498.0 1319.3L499.0 1319.6L500.0 1319.8L501.0 1320.1L502.0 1320.3L503.0 1320.5L504.0 1320.8L505.0 1321.0L506.0 1321.2L507.0 1321.5L508.0 1321.7L509.0 1321.9L510.0 1322.1L511.0 1322.3L512.0 1322.5L513.0 1322.7L514.0 1322.8L515.0 1323.0L516.0 1323.2L517.0 1323.3L518.0 1323.5L519.0 1323.6L520.0 1323.8L521.0 1323.9L522.0 1324.0L523.0 1324.2L524.0 1324.3L525.0 1324.4L526.0 1324.5L527.0 1324.6L528.0 1324.6L529.0 1324.7L530.0 1324.8L531.0 1324.8L532.0 1324.9L533.0 1324.9L534.0 1325.0L535.0 1325.0L536.0 1325.0L537.0 1325.0L538.0 1325.0L539.0 1325.0L540.0 1325.0L541.0 1324.9L542.0 1324.9L543.0 1324.8L544.0 1324.8L545.0 1324.7L546.0 1324.6L547.0 1324.5L548.0 1324.4L549.0 1324.3L550.0 1324.2L551.0 1324.0L552.0 1323.9L553.0 1323.8L554.0 1323.6L555.0 1323.4L556.0 1323.2L557.0 1323.0L558.0 1322.8L559.0 1322.6L560.0 1322.4L561.0 1322.2L562.0 1321.9L563.0 1321.7L564.0 1321.4L565.0 1321.1L566.0 1320.8L567.0 1320.5L568.0 1320.2L569.0 1319.9L570.0 1319.6L571.0 1319.2L572.0 1318.9L573.0 1318.5L574.0 1318.1L575.0 1317.8L576.0 1317.4L577.0 1317.0L578.0 1316.6L579.0 1316.1L580.0 1315.7L581.0 1315.3L582.0 1314.8L583.0 1314.4L584.0 1313.9L585.0 1313.4L586.0 1312.9L587.0 1312.5L588.0 1312.0L589.0 1311.5L590.0 1311.0L591.0 1310.4L592.0 1309.9L593.0 1309.4L594.0 1308.9L595.0 1308.3L596.0 1307.8L597.0 1307.2L598.0 1306.7L599.0 1306.1L600.0 1305.5L601.0 1305.0L602.0 1304.4L603.0 1303.8L604.0 1303.2L605.0 1302.6L606.0 1302.0L607.0 1301.4L608.0 1300.8L609.0 1300.2L610.0 1299.6L611.0 1299.0L612.0 1298.4L613.0 1297.8L614.0 1297.1L615.0 1296.5L616.0 1295.9L617.0 1295.2L618.0 1294.6L619.0 1293.9L620.0 1293.3L621.0 1292.6L622.0 1291.9L623.0 1291.2L624.0 1290.6L625.0 1289.9L626.0 1289.2L627.0 1288.4L628.0 1287.7L629.0 1287.0L630.0 1286.3L631.0 1285.5L632.0 1284.8L633.0 1284.0L634.0 1283.2L635.0 1282.5L636.0 1281.7L637.0 1280.9L638.0 1280.1L639.0 1279.2L640.0 1278.4L641.0 1277.6L642.0 1276.7L643.0 1275.8L644.0 1275.0L645.0 1274.1L646.0 1273.2L647.0 1272.3L648.0 1271.4L649.0 1270.4L650.0 1269.5L651.0 1268.6L652.0 1267.6L653.0 1266.6L654.0 1265.7L655.0 1264.7L656.0 1263.7L657.0 1262.7L658.0 1261.7L659.0 1260.7L660.0 1259.7L661.0 1258.6L662.0 1257.6L663.0 1256.6L664.0 1255.5L665.0 1254.5L666.0 1253.5L667.0 1252.4L668.0 1251.3L669.0 1250.3L670.0 1249.2L671.0 1248.2L672.0 1247.1L673.0 1246.0L674.0 1245.0L675.0 1243.9L676.0 1242.8L677.0 1241.8L678.0 1240.7L679.0 1239.6L680.0 1238.6L681.0 1237.5L682.0 1236.5L683.0 1235.4L684.0 1234.3L685.0 1233.3L686.0 1232.2L687.0 1231.2L688.0 1230.1L689.0 1229.1L690.0 1228.1L691.0 1227.0L692.0 1226.0L693.0 1224.9L694.0 1223.9L695.0 1222.9L696.0 1221.8L697.0 1220.8L698.0 1219.8L699.0 1218.7L700.0 1217.7L701.0 1216.7L702.0 1215.7L703.0 1214.6L704.0 1213.6L705.0 1212.6L706.0 1211.5L707.0 1210.5L708.0 1209.5L709.0 1208.4L710.0 1207.4L711.0 1206.4L712.0 1205.4L713.0 1204.3L714.0 1203.3L715.0 1202.3L716.0 1201.2L717.0 1200.2L718.0 1199.2L719.0 1198.1L720.0 1197.1L721.0 1196.0L722.0 1195.0L723.0 1194.0L724.0 1192.9L725.0 1191.9L726.0 1190.8L727.0 1189.8L728.0 1188.7L729.0 1187.7L730.0 1186.6L731.0 1185.6L732.0 1184.5L733.0 1183.5L734.0 1182.4L735.0 1181.3L736.0 1180.3L737.0 1179.2L738.0 1178.2L739.0 1177.1L740.0 1176.0L741.0 1174.9L742.0 1173.9L743.0 1172.8L744.0 1171.7L745.0 1170.6L746.0 1169.5L747.0 1168.5L748.0 1167.4L749.0 1166.3L750.0 1165.2L751.0 1164.1L752.0 1163.0L753.0 1162.0L754.0 1160.9L755.0 1159.8L756.0 1158.7L757.0 1157.7L758.0 1156.6L759.0 1155.5L760.0 1154.5L761.0 1153.4L762.0 1152.4L763.0 1151.3L764.0 1150.3L765.0 1149.3L766.0 1148.2L767.0 1147.2L768.0 1146.2L769.0 1145.2L770.0 1144.2L771.0 1143.2L772.0 1142.2L773.0 1141.2L774.0 1140.2L775.0 1139.2L776.0 1138.2L777.0 1137.3L778.0 1136.3L779.0 1135.3L780.0 1134.4L781.0 1133.4L782.0 1132.5L783.0 1131.5L784.0 1130.6L785.0 1129.6L786.0 1128.7L787.0 1127.8L788.0 1126.8L789.0 1125.9L790.0 1125.0L791.0 1124.0L792.0 1123.1L793.0 1122.2L794.0 1121.3L795.0 1120.4L796.0 1119.5L797.0 1118.6L798.0 1117.7L799.0 1116.8L800.0 1115.9L801.0 1115.1L802.0 1114.2L803.0 1113.3L804.0 1112.5L805.0 1111.6L806.0 1110.8L807.0 1109.9L808.0 1109.1L809.0 1108.2L810.0 1107.4L811.0 1106.6L812.0 1105.8L813.0 1105.0L814.0 1104.2L815.0 1103.4L816.0 1102.6L817.0 1101.8L818.0 1101.0L819.0 1100.3L820.0 1099.5L821.0 1098.8L822.0 1098.0L823.0 1097.3L824.0 1096.6L825.0 1095.9L826.0 1095.2L827.0 1094.5L828.0 1093.8L829.0 1093.2L830.0 1092.5L831.0 1091.9L832.0 1091.3L833.0 1090.7L834.0 1090.0L835.0 1089.5L836.0 1088.9L837.0 1088.3L838.0 1087.7L839.0 1087.2L840.0 1086.6L841.0 1086.1L842.0 1085.6L843.0 1085.1L844.0 1084.6L845.0 1084.1L846.0 1083.7L847.0 1083.2L848.0 1082.8L849.0 1082.3L850.0 1081.9L851.0 1081.5L852.0 1081.1L853.0 1080.7L854.0 1080.3L855.0 1080.0L856.0 1079.6L857.0 1079.3L858.0 1079.0L859.0 1078.6L860.0 1078.3L861.0 1078.0L862.0 1077.8L863.0 1077.5L864.0 1077.2L865.0 1077.0L866.0 1076.7L867.0 1076.5L868.0 1076.3L869.0 1076.1L870.0 1075.9L871.0 1075.7L872.0 1075.6L873.0 1075.4L874.0 1075.3L875.0 1075.2L876.0 1075.1L877.0 1074.9L878.0 1074.9L879.0 1074.8L880.0 1074.7L881.0 1074.7L882.0 1074.6L883.0 1074.6L884.0 1074.6L885.0 1074.6L886.0 1074.6L887.0 1074.6L888.0 1074.7L889.0 1074.7L890.0 1074.8L891.0 1074.9L892.0 1075.0L893.0 1075.1L894.0 1075.2L895.0 1075.3L896.0 1075.5L897.0 1075.7L898.0 1075.8L899.0 1076.0L900.0 1076.2L901.0 1076.5L902.0 1076.7L903.0 1077.0L904.0 1077.2L905.0 1077.5L906.0 1077.8L907.0 1078.1L908.0 1078.4L909.0 1078.8L910.0 1079.1L911.0 1079.5L912.0 1079.9L913.0 1080.2L914.0 1080.6L915.0 1081.1L916.0 1081.5L917.0 1081.9L918.0 1082.4L919.0 1082.9L920.0 1083.4L921.0 1083.9L922.0 1084.4L923.0 1084.9L924.0 1085.5L925.0 1086.0L926.0 1086.6L927.0 1087.2L928.0 1087.8L929.0 1088.4L930.0 1089.0L931.0 1089.7L932.0 1090.3L933.0 1091.0L934.0 1091.7L935.0 1092.4L936.0 1093.1L937.0 1093.8L938.0 1094.5L939.0 1095.3L940.0 1096.0L941.0 1096.8L942.0 1097.6L943.0 1098.4L944.0 1099.2L945.0 1100.0L946.0 1100.9L947.0 1101.7L948.0 1102.6L949.0 1103.5L950.0 1104.4L951.0 1105.3L952.0 1106.2L953.0 1107.1L954.0 1108.0L955.0 1109.0L956.0 1109.9L957.0 1110.9L958.0 1111.9L959.0 1112.8L960.0 1113.8L961.0 1114.9L962.0 1115.9L963.0 1116.9L964.0 1118.0L965.0 1119.0L966.0 1120.1L967.0 1121.2L968.0 1122.2L969.0 1123.3L970.0 1124.5L971.0 1125.6L972.0 1126.7L973.0 1127.9L974.0 1129.0L975.0 1130.2L976.0 1131.4L977.0 1132.6L978.0 1133.8L979.0 1135.0L980.0 1136.2L981.0 1137.5L982.0 1138.7L983.0 1140.0L984.0 1141.2L985.0 1142.5L986.0 1143.8L987.0 1145.1L988.0 1146.4L989.0 1147.6L990.0 1148.9L991.0 1150.2L992.0 1151.5L993.0 1152.8L994.0 1154.1L995.0 1155.3L996.0 1156.6L997.0 1157.9L998.0 1159.1L999.0 1160.4L1000.0 1161.6L1001.0 1162.9L1002.0 1164.1L1003.0 1165.4L1004.0 1166.6L1005.0 1167.9L1006.0 1169.1L1007.0 1170.4L1008.0 1171.6L1009.0 1172.8L1010.0 1174.1L1011.0 1175.4L1012.0 1176.6L1013.0 1177.9L1014.0 1179.1L1015.0 1180.4L1016.0 1181.7L1017.0 1183.0L1018.0 1184.3L1019.0 1185.6L1020.0 1186.9L1021.0 1188.2L1022.0 1189.5L1023.0 1190.8L1024.0 1192.2L1025.0 1193.5L1026.0 1194.9L1027.0 1196.3L1028.0 1197.7L1029.0 1199.1L1030.0 1200.5L1031.0 1201.9L1032.0 1203.3L1033.0 1204.8L1034.0 1206.2L1035.0 1207.7L1036.0 1209.2L1037.0 1210.7L1038.0 1212.3L1039.0 1213.8L1040.0 1215.4L1041.0 1217.0L1042.0 1218.6L1043.0 1220.2L1044.0 1221.8L1045.0 1223.5L1046.0 1225.2L1047.0 1226.9L1048.0 1228.6L1049.0 1230.3L1050.0 1232.1L1051.0 1233.8L1052.0 1235.6L1053.0 1237.4L1054.0 1239.2L1055.0 1240.9L1056.0 1242.7L1057.0 1244.5L1058.0 1246.3L1059.0 1248.1L1060.0 1249.9L1061.0 1251.7L1062.0 1253.5L1063.0 1255.3L1064.0 1257.1L1065.0 1258.9L1066.0 1260.6L1067.0 1262.4L1068.0 1264.2L1069.0 1265.9L1070.0 1267.6L1071.0 1269.4L1072.0 1271.1L1073.0 1272.8L1074.0 1274.5L1075.0 1276.1L1076.0 1277.8L1077.0 1279.5L1078.0 1281.1L1079.0 1282.7L1080.0 1284.3L1081.0 1286.0L1082.0 1287.5L1083.0 1289.1L1084.0 1290.7L1085.0 1292.2L1086.0 1293.8L1087.0 1295.3L1088.0 1296.8L1089.0 1298.4L1090.0 1299.9L1091.0 1301.4L1092.0 1302.8L1093.0 1304.3L1094.0 1305.8L1095.0 1307.3L1096.0 1308.7L1097.0 1310.2L1098.0 1311.6L1099.0 1313.1L1100.0 1314.6L1101.0 1316.0L1102.0 1317.5L1103.0 1318.9L1104.0 1320.4L1105.0 1321.8L1106.0 1323.3L1107.0 1324.7L1108.0 1326.2L1109.0 1327.6L1110.0 1329.1L1111.0 1330.6L1112.0 1332.0L1113.0 1333.5L1114.0 1334.9L1115.0 1336.4L1116.0 1337.8L1117.0 1339.3L1118.0 1340.7L1119.0 1342.2L1120.0 1343.6L1121.0 1345.0L1122.0 1346.4L1123.0 1347.8L1124.0 1349.2L1125.0 1350.6L1126.0 1351.9L1127.0 1353.3L1128.0 1354.6L1129.0 1355.9L1130.0 1357.3L1131.0 1358.5L1132.0 1359.8L1133.0 1361.1L1134.0 1362.3L1135.0 1363.5L1136.0 1364.7L1137.0 1365.9L1138.0 1367.1L1139.0 1368.2L1140.0 1369.3L1141.0 1370.4L1142.0 1371.5L1143.0 1372.6L1144.0 1373.6L1145.0 1374.6L1146.0 1375.6L1147.0 1376.6L1148.0 1377.5L1149.0 1378.5L1150.0 1379.4L1151.0 1380.3L1152.0 1381.1L1153.0 1382.0L1154.0 1382.8L1155.0 1383.6L1156.0 1384.4L1157.0 1385.2L1158.0 1386.0L1159.0 1386.7L1160.0 1387.5L1161.0 1388.2L1162.0 1388.9L1163.0 1389.5L1164.0 1390.2L1165.0 1390.9L1166.0 1391.5L1167.0 1392.1L1168.0 1392.7L1169.0 1393.3L1170.0 1393.9L1171.0 1394.5L1172.0 1395.0L1173.0 1395.6L1174.0 1396.1L1175.0 1396.6L1176.0 1397.1L1177.0 1397.6L1178.0 1398.1L1179.0 1398.6L1180.0 1399.1L1181.0 1399.5L1182.0 1400.0L1183.0 1400.4L1184.0 1400.9L1185.0 1401.3L1186.0 1401.7L1187.0 1402.1L1188.0 1402.5L1189.0 1402.9L1190.0 1403.3L1191.0 1403.6L1192.0 1404.0L1193.0 1404.4L1194.0 1404.7L1195.0 1405.1L1196.0 1405.4L1197.0 1405.7L1198.0 1406.0L1199.0 1406.4L1200.0 1406.7L1201.0 1407.0L1202.0 1407.3L1203.0 1407.6L1204.0 1407.9L1205.0 1408.1L1206.0 1408.4L1207.0 1408.7L1208.0 1408.9L1209.0 1409.2L1210.0 1409.5L1211.0 1409.7L1212.0 1409.9L1213.0 1410.2L1214.0 1410.4L1215.0 1410.6L1216.0 1410.9L1217.0 1411.1L1218.0 1411.3L1219.0 1411.5L1220.0 1411.7L1221.0 1411.9L1222.0 1412.1L1223.0 1412.3L1224.0 1412.5L1225.0 1412.7L1226.0 1412.9L1227.0 1413.1L1228.0 1413.2L1229.0 1413.4L1230.0 1413.6L1231.0 1413.8L1232.0 1413.9L1233.0 1414.1L1234.0 1414.3L1235.0 1414.4L1236.0 1414.6L1237.0 1414.7L1238.0 1414.9L1239.0 1415.0L1240.0 1415.2L1241.0 1415.3L1242.0 1415.4L1243.0 1415.6L1244.0 1415.7L1245.0 1415.8L1246.0 1416.0L1247.0 1416.1L1248.0 1416.2L1249.0 1416.3L1250.0 1416.5L1251.0 1416.6L1252.0 1416.7L1253.0 1416.8L1254.0 1416.9L1255.0 1417.0L1256.0 1417.1L1257.0 1417.2L1258.0 1417.3L1259.0 1417.5L1260.0 1417.6L1261.0 1417.6L1262.0 1417.7L1263.0 1417.8L1264.0 1417.9L1265.0 1418.0L1266.0 1418.1L1267.0 1418.2L1268.0 1418.3L1269.0 1418.4L1270.0 1418.4L1271.0 1418.5L1272.0 1418.6L1273.0 1418.7L1274.0 1418.8L1275.0 1418.8L1276.0 1418.9L1277.0 1419.0L1278.0 1419.0L1279.0 1419.1L1280.0 1419.2L1281.0 1419.2L1282.0 1419.3L1283.0 1419.4L1284.0 1419.4L1285.0 1419.5L1286.0 1419.5L1287.0 1419.6L1288.0 1419.7L1289.0 1419.7L1290.0 1419.8L1291.0 1419.8L1292.0 1419.9L1293.0 1419.9L1294.0 1420.0L1295.0 1420.0L1296.0 1420.1L1297.0 1420.1L1298.0 1420.2L1299.0 1420.2L1300.0 1420.2L1301.0 1420.3L1302.0 1420.3L1303.0 1420.4L1304.0 1420.4L1305.0 1420.5L1306.0 1420.5L1307.0 1420.5L1308.0 1420.6L1309.0 1420.6L1310.0 1420.6L1311.0 1420.7L1312.0 1420.7L1313.0 1420.8L1314.0 1420.8L1315.0 1420.8L1316.0 1420.9L1317.0 1420.9L1318.0 1420.9L1319.0 1421.0L1320.0 1421.0L1321.0 1421.0L1322.0 1421.0L1323.0 1421.1L1324.0 1421.1L1325.0 1421.1L1326.0 1421.2L1327.0 1421.2L1328.0 1421.2L1329.0 1421.2L1330.0 1421.3L1331.0 1421.3L1332.0 1421.3L1333.0 1421.3L1334.0 1421.4L1335.0 1421.4L1336.0 1421.4L1337.0 1421.4L1338.0 1421.5L1339.0 1421.5L1340.0 1421.5L1341.0 1421.5L1342.0 1421.5L1343.0 1421.6L1344.0 1421.6L1345.0 1421.6L1346.0 1421.6L1347.0 1421.6L1348.0 1421.7L1349.0 1421.7L1350.0 1421.7L1351.0 1421.7L1352.0 1421.7L1353.0 1421.7L1354.0 1421.8L1355.0 1421.8L1356.0 1421.8L1357.0 1421.8L1358.0 1421.8L1359.0 1421.8L1360.0 1421.8L1361.0 1421.9L1362.0 1421.9L1363.0 1421.9L1364.0 1421.9L1365.0 1421.9L1366.0 1421.9L1367.0 1421.9L1368.0 1422.0L1369.0 1422.0L1370.0 1422.0L1371.0 1422.0L1372.0 1422.0L1373.0 1422.0L1374.0 1422.0L1375.0 1422.0L1376.0 1422.0L1377.0 1422.1L1378.0 1422.1L1379.0 1422.1L1380.0 1422.1L1381.0 1422.1L1382.0 1422.1L1383.0 1422.1L1384.0 1422.1L1385.0 1422.1L1386.0 1422.1L1387.0 1422.2L1388.0 1422.2L1389.0 1422.2L1390.0 1422.2L1391.0 1422.2L1392.0 1422.2L1393.0 1422.2L1394.0 1422.2L1395.0 1422.2L1396.0 1422.2L1397.0 1422.2L1398.0 1422.2L1399.0 1422.3L1400.0 1422.3L1401.0 1422.3L1402.0 1422.3L1403.0 1422.3L1404.0 1422.3L1405.0 1422.3L1406.0 1422.3L1407.0 1422.3L1408.0 1422.3L1409.0 1422.3L1410.0 1422.3L1411.0 1422.4L1412.0 1422.4L1413.0 1422.4L1414.0 1422.4L1415.0 1422.4L1416.0 1422.4L1417.0 1422.4L1418.0 1422.4L1419.0 1422.4L1420.0 1422.4L1421.0 1422.4L1422.0 1422.4L1423.0 1422.4L1424.0 1422.5L1425.0 1422.5L1426.0 1422.5L1427.0 1422.5L1428.0 1422.5L1429.0 1422.5L1430.0 1422.5L1431.0 1422.5L1432.0 1422.5L1433.0 1422.5L1434.0 1422.5L1435.0 1422.5L1436.0 1422.5L1437.0 1422.5L1438.0 1422.5L1439.0 1422.6L1440.0 1422.6L1441.0 1422.6L1442.0 1422.6L1443.0 1422.6L1444.0 1422.6L1445.0 1422.6L1446.0 1422.6L1447.0 1422.6L1448.0 1422.6L1449.0 1422.6L1450.0 1422.6L1451.0 1422.6L1452.0 1422.6L1453.0 1422.6L1454.0 1422.7L1455.0 1422.7L1456.0 1422.7L1457.0 1422.7L1458.0 1422.7L1459.0 1422.7L1460.0 1422.7L1461.0 1422.7L1462.0 1422.7L1463.0 1422.7L1464.0 1422.7L1465.0 1422.7L1466.0 1422.7L1467.0 1422.7L1468.0 1422.7L1469.0 1422.7L1470.0 1422.7L1471.0 1422.8L1472.0 1422.8L1473.0 1422.8L1474.0 1422.8L1475.0 1422.8L1476.0 1422.8L1477.0 1422.8L1478.0 1422.8L1479.0 1422.8L1480.0 1422.8L1481.0 1422.8L1482.0 1422.8L1483.0 1422.8L1484.0 1422.8L1485.0 1422.8L1486.0 1422.8L1487.0 1422.8L1488.0 1422.8L1489.0 1422.9L1490.0 1422.9L1491.0 1422.9L1492.0 1422.9L1493.0 1422.9L1494.0 1422.9L1495.0 1422.9L1496.0 1422.9L1497.0 1422.9L1498.0 1422.9L1499.0 1422.9L1500.0 1422.9L1501.0 1422.9L1502.0 1422.9L1503.0 1422.9L1504.0 1422.9L1505.0 1422.9L1506.0 1422.9L1507.0 1422.9L1508.0 1422.9L1509.0 1422.9L1510.0 1423.0L1511.0 1423.0L1512.0 1423.0L1513.0 1423.0L1514.0 1423.0L1515.0 1423.0L1516.0 1423.0L1517.0 1423.0L1518.0 1423.0L1519.0 1423.0L1520.0 1423.0L1521.0 1423.0L1522.0 1423.0L1523.0 1423.0L1524.0 1423.0L1525.0 1423.0L1526.0 1423.0L1527.0 1423.0L1528.0 1423.0L1529.0 1423.0L1530.0 1423.0L1531.0 1423.0L1532.0 1423.0L1533.0 1423.0L1534.0 1423.1L1535.0 1423.1L1536.0 1423.1L1537.0 1423.1L1538.0 1423.1L1539.0 1423.1L1540.0 1423.1L1541.0 1423.1L1542.0 1423.1L1543.0 1423.1L1544.0 1423.1L1545.0 1423.1L1546.0 1423.1L1547.0 1423.1L1548.0 1423.1L1549.0 1423.1L1550.0 1423.1L1551.0 1423.1L1552.0 1423.1L1553.0 1423.1L1554.0 1423.1L1555.0 1423.1L1556.0 1423.1L1557.0 1423.1L1558.0 1423.1L1559.0 1423.1L1560.0 1423.1L1561.0 1423.1L1562.0 1423.1L1563.0 1423.2L1564.0 1423.2L1565.0 1423.2L1566.0 1423.2L1567.0 1423.2L1568.0 1423.2L1569.0 1423.2L1570.0 1423.2L1571.0 1423.2L1572.0 1423.2L1573.0 1423.2L1574.0 1423.2L1575.0 1423.2L1576.0 1423.2L1577.0 1423.2L1578.0 1423.2L1579.0 1423.2L1580.0 1423.2L1581.0 1423.2L1582.0 1423.2L1583.0 1423.2L1584.0 1423.2L1585.0 1423.2L1586.0 1423.2L1587.0 1423.2L1588.0 1423.2L1589.0 1423.2L1590.0 1423.2L1591.0 1423.2L1592.0 1423.2L1593.0 1423.2L1594.0 1423.2L1595.0 1423.2L1596.0 1423.2L1597.0 1423.2L1598.0 1423.2L1599.0 1423.2L1600.0 1423.2L1601.0 1423.2L1602.0 1423.3L1603.0 1423.3L1604.0 1423.3L1605.0 1423.3L1606.0 1423.3L1607.0 1423.3L1608.0 1423.3L1609.0 1423.3L1610.0 1423.3L1611.0 1423.3L1612.0 1423.3L1613.0 1423.3L1614.0 1423.3L1615.0 1423.3L1616.0 1423.3L1617.0 1423.3L1618.0 1423.3L1619.0 1423.3L1620.0 1423.3L1621.0 1423.3L1622.0 1423.3L1623.0 1423.3L1624.0 1423.3L1625.0 1423.3L1626.0 1423.3L1627.0 1423.3L1628.0 1423.3L1629.0 1423.3L1630.0 1423.3L1631.0 1423.3L1632.0 1423.3L1633.0 1423.3L1634.0 1423.3L1635.0 1423.3L1636.0 1423.3L1637.0 1423.3L1638.0 1423.3L1639.0 1423.3L1640.0 1423.3L1641.0 1423.3L1642.0 1423.3L1643.0 1423.3L1644.0 1423.3L1645.0 1423.3L1646.0 1423.3L1647.0 1423.3L1648.0 1423.3L1649.0 1423.3L1650.0 1423.3L1651.0 1423.3L1652.0 1423.3L1653.0 1423.3L1654.0 1423.3L1655.0 1423.3L1656.0 1423.3L1657.0 1423.3L1658.0 1423.3L1659.0 1423.3L1660.0 1423.3L1661.0 1423.3L1662.0 1423.3L1663.0 1423.3L1664.0 1423.3L1665.0 1423.3L1666.0 1423.3L1667.0 1423.3L1668.0 1423.3L1669.0 1423.3L1670.0 1423.3L1671.0 1423.3L1672.0 1423.3L1673.0 1423.3L1674.0 1423.4L1675.0 1423.4L1676.0 1423.4L1677.0 1423.4L1678.0 1423.4L1679.0 1423.4L1680.0 1423.4L1681.0 1423.4L1682.0 1423.4L1683.0 1423.4L1684.0 1423.4L1685.0 1423.4L1686.0 1423.4L1687.0 1423.4L1688.0 1423.4L1689.0 1423.4L1690.0 1423.4L1691.0 1423.4L1692.0 1423.4L1693.0 1423.4L1694.0 1423.4L1695.0 1423.4L1696.0 1423.4L1697.0 1423.4L1698.0 1423.4L1699.0 1423.4L1700.0 1423.4L1701.0 1423.4L1702.0 1423.4L1703.0 1423.4L1704.0 1423.4L1705.0 1423.4L1706.0 1423.4L1707.0 1423.4L1708.0 1423.4L1709.0 1423.4L1710.0 1423.4L1711.0 1423.4L1712.0 1423.4L1713.0 1423.4L1714.0 1423.4L1715.0 1423.4L1716.0 1423.4L1717.0 1423.4L1718.0 1423.4L1719.0 1423.4L1720.0 1423.4L1721.0 1423.4L1722.0 1423.4L1723.0 1423.4L1724.0 1423.4L1725.0 1423.4L1726.0 1423.4L1727.0 1423.4L1728.0 1423.4L1729.0 1423.4L1730.0 1423.4L1731.0 1423.4L1732.0 1423.4L1733.0 1423.4L1734.0 1423.4L1735.0 1423.4L1736.0 1423.4L1737.0 1423.4L1738.0 1423.4L1739.0 1423.4L1740.0 1423.4L1741.0 1423.4L1742.0 1423.4L1743.0 1423.4L1744.0 1423.4L1745.0 1423.4L1746.0 1423.4L1747.0 1423.4L1748.0 1423.4L1749.0 1423.4L1750.0 1423.4L1751.0 1423.4L1752.0 1423.4L1753.0 1423.4L1754.0 1423.4L1755.0 1423.4L1756.0 1423.4L1757.0 1423.4L1758.0 1423.4L1759.0 1423.4L1760.0 1423.4L1761.0 1423.4L1762.0 1423.4L1763.0 1423.4L1764.0 1423.4L1765.0 1423.4L1766.0 1423.4L1767.0 1423.4L1768.0 1423.4L1769.0 1423.3L1770.0 1423.3L1771.0 1423.3L1772.0 1423.3L1773.0 1423.3L1774.0 1423.3L1775.0 1423.3L1776.0 1423.3L1777.0 1423.3L1778.0 1423.3L1779.0 1423.3L1780.0 1423.3L1781.0 1423.3L1782.0 1423.3L1783.0 1423.3L1784.0 1423.3L1785.0 1423.3L1786.0 1423.3L1787.0 1423.3L1788.0 1423.3L1789.0 1423.3L1790.0 1423.3L1791.0 1423.3L1792.0 1423.3L1793.0 1423.3L1794.0 1423.3L1795.0 1423.3L1796.0 1423.3L1797.0 1423.3L1798.0 1423.3L1799.0 1423.3L1800.0 1423.3L1801.0 1423.3L1802.0 1423.3L1803.0 1423.3L1804.0 1423.3L1805.0 1423.3L1806.0 1423.3L1807.0 1423.3L1808.0 1423.3L1809.0 1423.3L1810.0 1423.3L1811.0 1423.3L1812.0 1423.3L1813.0 1423.3L1814.0 1423.3L1815.0 1423.3L1816.0 1423.3L1817.0 1423.3L1818.0 1423.3L1819.0 1423.3L1820.0 1423.3L1821.0 1423.3L1822.0 1423.3L1823.0 1423.3L1824.0 1423.3L1825.0 1423.3L1826.0 1423.3L1827.0 1423.3L1828.0 1423.3L1829.0 1423.3L1830.0 1423.3L1831.0 1423.3L1832.0 1423.3L1833.0 1423.3L1834.0 1423.3L1835.0 1423.3L1836.0 1423.3L1837.0 1423.3L1838.0 1423.3L1839.0 1423.3L1840.0 1423.3L1841.0 1423.3L1842.0 1423.3L1843.0 1423.3L1844.0 1423.3L1845.0 1423.3L1846.0 1423.3L1847.0 1423.3L1848.0 1423.3L1849.0 1423.3L1850.0 1423.3L1851.0 1423.3L1852.0 1423.3L1853.0 1423.3L1854.0 1423.3L1855.0 1423.3L1856.0 1423.3L1857.0 1423.3L1858.0 1423.3L1859.0 1423.3L1860.0 1423.3L1861.0 1423.3L1862.0 1423.3L1863.0 1423.3L1864.0 1423.3L1865.0 1423.3L1866.0 1423.3L1867.0 1423.3L1868.0 1423.3L1869.0 1423.3L1870.0 1423.2L1871.0 1423.2L1872.0 1423.2L1873.0 1423.2L1874.0 1423.2L1875.0 1423.2L1876.0 1423.2L1877.0 1423.2L1878.0 1423.2L1879.0 1423.2L1880.0 1423.2L1881.0 1423.2L1882.0 1423.2L1883.0 1423.2L1884.0 1423.2L1885.0 1423.2L1886.0 1423.2L1887.0 1423.2L1888.0 1423.2L1889.0 1423.2L1890.0 1423.2L1891.0 1423.2L1892.0 1423.2L1893.0 1423.2L1894.0 1423.2L1895.0 1423.2L1896.0 1423.2L1897.0 1423.2L1898.0 1423.2L1899.0 1423.2L1900.0 1423.2L1901.0 1423.2L1902.0 1423.2L1903.0 1423.2L1904.0 1423.2L1905.0 1423.2L1906.0 1423.2L1907.0 1423.2L1908.0 1423.2" stroke="#CC9900"/>
<path d="M271.0 1259.3L272.0 1259.4L273.0 1259.6L274.0 1259.7L275.0 1259.8L276.0 1259.9L277.0 1260.1L278.0 1260.2L279.0 1260.3L280.0 1260.4L281.0 1260.5L282.0 1260.7L283.0 1260.8L284.0 1260.9L285.0 1261.0L286.0 1261.1L287.0 1261.2L288.0 1261.4L289.0 1261.5L290.0 1261.6L291.0 1261.7L292.0 1261.8L293.0 1262.0L294.0 1262.1L295.0 1262.2L296.0 1262.3L297.0 1262.4L298.0 1262.6L299.0 1262.7L300.0 1262.8L301.0 1262.9L302.0 1263.0L303.0 1263.2L304.0 1263.3L305.0 1263.4L306.0 1263.5L307.0 1263.6L308.0 1263.8L309.0 1263.9L310.0 1264.0L311.0 1264.1L312.0 1264.2L313.0 1264.4L314.0 1264.5L315.0 1264.6L316.0 1264.7L317.0 1264.8L318.0 1265.0L319.0 1265.1L320.0 1265.2L321.0 1265.3L322.0 1265.5L323.0 1265.6L324.0 1265.7L325.0 1265.8L326.0 1266.0L327.0 1266.1L328.0 1266.2L329.0 1266.4L330.0 1266.5L331.0 1266.6L332.0 1266.8L333.0 1266.9L334.0 1267.1L335.0 1267.2L336.0 1267.4L337.0 1267.5L338.0 1267.7L339.0 1267.8L340.0 1268.0L341.0 1268.1L342.0 1268.3L343.0 1268.4L344.0 1268.6L345.0 1268.8L346.0 1268.9L347.0 1269.1L348.0 1269.3L349.0 1269.5L350.0 1269.6L351.0 1269.8L352.0 1270.0L353.0 1270.2L354.0 1270.4L355.0 1270.6L356.0 1270.8L357.0 1271.0L358.0 1271.2L359.0 1271.4L360.0 1271.6L361.0 1271.8L362.0 1272.0L363.0 1272.2L364.0 1272.4L365.0 1272.6L366.0 1272.9L367.0 1273.1L368.0 1273.3L369.0 1273.5L370.0 1273.8L371.0 1274.0L372.0 1274.2L373.0 1274.5L374.0 1274.7L375.0 1275.0L376.0 1275.2L377.0 1275.5L378.0 1275.8L379.0 1276.0L380.0 1276.3L381.0 1276.6L382.0 1276.8L383.0 1277.1L384.0 1277.4L385.0 1277.7L386.0 1278.0L387.0 1278.3L388.0 1278.6L389.0 1278.8L390.0 1279.1L391.0 1279.5L392.0 1279.8L393.0 1280.1L394.0 1280.4L395.0 1280.7L396.0 1281.0L397.0 1281.3L398.0 1281.7L399.0 1282.0L400.0 1282.3L401.0 1282.7L402.0 1283.0L403.0 1283.3L404.0 1283.7L405.0 1284.0L406.0 1284.4L407.0 1284.7L408.0 1285.1L409.0 1285.4L410.0 1285.8L411.0 1286.1L412.0 1286.5L413.0 1286.9L414.0 1287.2L415.0 1287.6L416.0 1288.0L417.0 1288.3L418.0 1288.7L419.0 1289.1L420.0 1289.4L421.0 1289.8L422.0 1290.2L423.0 1290.6L424.0 1290.9L425.0 1291.3L426.0 1291.7L427.0 1292.1L428.0 1292.5L429.0 1292.8L430.0 1293.2L431.0 1293.6L432.0 1294.0L433.0 1294.4L434.0 1294.8L435.0 1295.2L436.0 1295.6L437.0 1296.0L438.0 1296.4L439.0 1296.8L440.0 1297.2L441.0 1297.6L442.0 1298.0L443.0 1298.4L444.0 1298.8L445.0 1299.2L446.0 1299.6L447.0 1300.0L448.0 1300.4L449.0 1300.8L450.0 1301.2L451.0 1301.6L452.0 1302.0L453.0 1302.3L454.0 1302.7L455.0 1303.1L456.0 1303.5L457.0 1303.9L458.0 1304.3L459.0 1304.7L460.0 1305.1L461.0 1305.4L462.0 1305.8L463.0 1306.2L464.0 1306.5L465.0 1306.9L466.0 1307.3L467.0 1307.6L468.0 1308.0L469.0 1308.3L470.0 1308.7L471.0 1309.0L472.0 1309.4L473.0 1309.7L474.0 1310.1L475.0 1310.4L476.0 1310.7L477.0 1311.1L478.0 1311.4L479.0 1311.7L480.0 1312.1L481.0 1312.4L482.0 1312.7L483.0 1313.0L484.0 1313.3L485.0 1313.7L486.0 1314.0L487.0 1314.3L488.0 1314.6L489.0 1314.9L490.0 1315.2L491.0 1315.5L492.0 1315.8L493.0 1316.1L494.0 1316.4L495.0 1316.6L496.0 1316.9L497.0 1317.2L498.0 1317.5L499.0 1317.7L500.0 1318.0L501.0 1318.3L502.0 1318.5L503.0 1318.8L504.0 1319.0L505.0 1319.3L506.0 1319.5L507.0 1319.7L508.0 1320.0L509.0 1320.2L510.0 1320.4L511.0 1320.6L512.0 1320.8L513.0 1321.0L514.0 1321.2L515.0 1321.4L516.0 1321.6L517.0 1321.7L518.0 1321.9L519.0 1322.1L520.0 1322.2L521.0 1322.4L522.0 1322.5L523.0 1322.6L524.0 1322.7L525.0 1322.9L526.0 1323.0L527.0 1323.1L528.0 1323.2L529.0 1323.2L530.0 1323.3L531.0 1323.4L532.0 1323.4L533.0 1323.5L534.0 1323.5L535.0 1323.6L536.0 1323.6L537.0 1323.6L538.0 1323.6L539.0 1323.6L540.0 1323.6L541.0 1323.5L542.0 1323.5L543.0 1323.4L544.0 1323.4L545.0 1323.3L546.0 1323.2L547.0 1323.2L548.0 1323.1L549.0 1322.9L550.0 1322.8L551.0 1322.7L552.0 1322.6L553.0 1322.4L554.0 1322.2L555.0 1322.1L556.0 1321.9L557.0 1321.7L558.0 1321.5L559.0 1321.3L560.0 1321.1L561.0 1320.8L562.0 1320.6L563.0 1320.3L564.0 1320.1L565.0 1319.8L566.0 1319.5L567.0 1319.2L568.0 1318.9L569.0 1318.6L570.0 1318.3L571.0 1317.9L572.0 1317.6L573.0 1317.2L574.0 1316.9L575.0 1316.5L576.0 1316.1L577.0 1315.7L578.0 1315.3L579.0 1314.9L580.0 1314.5L581.0 1314.0L582.0 1313.6L583.0 1313.1L584.0 1312.7L585.0 1312.2L586.0 1311.7L587.0 1311.2L588.0 1310.7L589.0 1310.2L590.0 1309.7L591.0 1309.2L592.0 1308.6L593.0 1308.1L594.0 1307.5L595.0 1307.0L596.0 1306.4L597.0 1305.9L598.0 1305.3L599.0 1304.7L600.0 1304.1L601.0 1303.5L602.0 1302.9L603.0 1302.3L604.0 1301.7L605.0 1301.1L606.0 1300.4L607.0 1299.8L608.0 1299.2L609.0 1298.5L610.0 1297.9L611.0 1297.2L612.0 1296.5L613.0 1295.9L614.0 1295.2L615.0 1294.5L616.0 1293.8L617.0 1293.1L618.0 1292.4L619.0 1291.7L620.0 1291.0L621.0 1290.3L622.0 1289.5L623.0 1288.8L624.0 1288.1L625.0 1287.3L626.0 1286.5L627.0 1285.8L628.0 1285.0L629.0 1284.2L630.0 1283.4L631.0 1282.6L632.0 1281.8L633.0 1281.0L634.0 1280.2L635.0 1279.3L636.0 1278.5L637.0 1277.6L638.0 1276.7L639.0 1275.8L640.0 1274.9L641.0 1274.0L642.0 1273.1L643.0 1272.2L644.0 1271.2L645.0 1270.2L646.0 1269.3L647.0 1268.3L648.0 1267.3L649.0 1266.3L650.0 1265.2L651.0 1264.2L652.0 1263.1L653.0 1262.1L654.0 1261.0L655.0 1259.9L656.0 1258.8L657.0 1257.7L658.0 1256.6L659.0 1255.5L660.0 1254.3L661.0 1253.2L662.0 1252.0L663.0 1250.9L664.0 1249.7L665.0 1248.5L666.0 1247.3L667.0 1246.2L668.0 1245.0L669.0 1243.8L670.0 1242.6L671.0 1241.4L672.0 1240.2L673.0 1239.0L674.0 1237.8L675.0 1236.6L676.0 1235.4L677.0 1234.2L678.0 1233.0L679.0 1231.9L680.0 1230.7L681.0 1229.5L682.0 1228.3L683.0 1227.2L684.0 1226.0L685.0 1224.9L686.0 1223.7L687.0 1222.6L688.0 1221.4L689.0 1220.3L690.0 1219.2L691.0 1218.1L692.0 1217.0L693.0 1215.9L694.0 1214.8L695.0 1213.7L696.0 1212.6L697.0 1211.5L698.0 1210.4L699.0 1209.3L700.0 1208.2L701.0 1207.1L702.0 1206.1L703.0 1205.0L704.0 1203.9L705.0 1202.8L706.0 1201.8L707.0 1200.7L708.0 1199.6L709.0 1198.6L710.0 1197.5L711.0 1196.4L712.0 1195.3L713.0 1194.3L714.0 1193.2L715.0 1192.1L716.0 1191.1L717.0 1190.0L718.0 1188.9L719.0 1187.8L720.0 1186.7L721.0 1185.7L722.0 1184.6L723.0 1183.5L724.0 1182.4L725.0 1181.3L726.0 1180.2L727.0 1179.1L728.0 1178.0L729.0 1176.9L730.0 1175.8L731.0 1174.7L732.0 1173.6L733.0 1172.4L734.0 1171.3L735.0 1170.2L736.0 1169.0L737.0 1167.9L738.0 1166.7L739.0 1165.6L740.0 1164.4L741.0 1163.2L742.0 1162.0L743.0 1160.8L744.0 1159.6L745.0 1158.4L746.0 1157.2L747.0 1156.0L748.0 1154.8L749.0 1153.6L750.0 1152.3L751.0 1151.1L752.0 1149.9L753.0 1148.6L754.0 1147.4L755.0 1146.2L756.0 1145.0L757.0 1143.8L758.0 1142.5L759.0 1141.3L760.0 1140.1L761.0 1138.9L762.0 1137.7L763.0 1136.6L764.0 1135.4L765.0 1134.2L766.0 1133.1L767.0 1131.9L768.0 1130.8L769.0 1129.6L770.0 1128.5L771.0 1127.4L772.0 1126.3L773.0 1125.2L774.0 1124.1L775.0 1123.0L776.0 1121.9L777.0 1120.8L778.0 1119.8L779.0 1118.7L780.0 1117.7L781.0 1116.6L782.0 1115.6L783.0 1114.5L784.0 1113.5L785.0 1112.5L786.0 1111.5L787.0 1110.5L788.0 1109.5L789.0 1108.5L790.0 1107.5L791.0 1106.5L792.0 1105.5L793.0 1104.5L794.0 1103.6L795.0 1102.6L796.0 1101.7L797.0 1100.7L798.0 1099.8L799.0 1098.9L800.0 1097.9L801.0 1097.0L802.0 1096.1L803.0 1095.2L804.0 1094.3L805.0 1093.4L806.0 1092.5L807.0 1091.7L808.0 1090.8L809.0 1089.9L810.0 1089.1L811.0 1088.3L812.0 1087.4L813.0 1086.6L814.0 1085.8L815.0 1085.0L816.0 1084.2L817.0 1083.4L818.0 1082.6L819.0 1081.8L820.0 1081.1L821.0 1080.3L822.0 1079.6L823.0 1078.9L824.0 1078.1L825.0 1077.4L826.0 1076.7L827.0 1076.0L828.0 1075.4L829.0 1074.7L830.0 1074.0L831.0 1073.4L832.0 1072.8L833.0 1072.1L834.0 1071.5L835.0 1070.9L836.0 1070.3L837.0 1069.8L838.0 1069.2L839.0 1068.6L840.0 1068.1L841.0 1067.6L842.0 1067.0L843.0 1066.5L844.0 1066.0L845.0 1065.5L846.0 1065.1L847.0 1064.6L848.0 1064.1L849.0 1063.7L850.0 1063.3L851.0 1062.8L852.0 1062.4L853.0 1062.0L854.0 1061.6L855.0 1061.3L856.0 1060.9L857.0 1060.5L858.0 1060.2L859.0 1059.9L860.0 1059.6L861.0 1059.2L862.0 1059.0L863.0 1058.7L864.0 1058.4L865.0 1058.1L866.0 1057.9L867.0 1057.6L868.0 1057.4L869.0 1057.2L870.0 1057.0L871.0 1056.8L872.0 1056.6L873.0 1056.5L874.0 1056.3L875.0 1056.2L876.0 1056.0L877.0 1055.9L878.0 1055.8L879.0 1055.7L880.0 1055.7L881.0 1055.6L882.0 1055.5L883.0 1055.5L884.0 1055.5L885.0 1055.5L886.0 1055.5L887.0 1055.5L888.0 1055.5L889.0 1055.6L890.0 1055.6L891.0 1055.7L892.0 1055.8L893.0 1055.9L894.0 1056.0L895.0 1056.1L896.0 1056.3L897.0 1056.5L898.0 1056.6L899.0 1056.8L900.0 1057.0L901.0 1057.3L902.0 1057.5L903.0 1057.7L904.0 1058.0L905.0 1058.3L906.0 1058.6L907.0 1058.9L908.0 1059.2L909.0 1059.5L910.0 1059.9L911.0 1060.2L912.0 1060.6L913.0 1061.0L914.0 1061.4L915.0 1061.8L916.0 1062.3L917.0 1062.7L918.0 1063.2L919.0 1063.7L920.0 1064.1L921.0 1064.7L922.0 1065.2L923.0 1065.7L924.0 1066.3L925.0 1066.8L926.0 1067.4L927.0 1068.0L928.0 1068.6L929.0 1069.2L930.0 1069.8L931.0 1070.5L932.0 1071.2L933.0 1071.8L934.0 1072.5L935.0 1073.2L936.0 1074.0L937.0 1074.7L938.0 1075.4L939.0 1076.2L940.0 1077.0L941.0 1077.8L942.0 1078.6L943.0 1079.4L944.0 1080.2L945.0 1081.0L946.0 1081.9L947.0 1082.8L948.0 1083.6L949.0 1084.5L950.0 1085.4L951.0 1086.3L952.0 1087.2L953.0 1088.2L954.0 1089.1L955.0 1090.1L956.0 1091.0L957.0 1092.0L958.0 1093.0L959.0 1094.0L960.0 1095.0L961.0 1096.0L962.0 1097.1L963.0 1098.1L964.0 1099.2L965.0 1100.2L966.0 1101.3L967.0 1102.4L968.0 1103.5L969.0 1104.6L970.0 1105.7L971.0 1106.8L972.0 1108.0L973.0 1109.1L974.0 1110.3L975.0 1111.4L976.0 1112.6L977.0 1113.8L978.0 1115.0L979.0 1116.2L980.0 1117.4L981.0 1118.7L982.0 1119.9L983.0 1121.1L984.0 1122.4L985.0 1123.6L986.0 1124.9L987.0 1126.2L988.0 1127.4L989.0 1128.7L990.0 1130.0L991.0 1131.3L992.0 1132.5L993.0 1133.8L994.0 1135.1L995.0 1136.4L996.0 1137.7L997.0 1138.9L998.0 1140.2L999.0 1141.5L1000.0 1142.8L1001.0 1144.1L1002.0 1145.3L1003.0 1146.6L1004.0 1147.9L1005.0 1149.2L1006.0 1150.5L1007.0 1151.8L1008.0 1153.1L1009.0 1154.5L1010.0 1155.8L1011.0 1157.1L1012.0 1158.5L1013.0 1159.8L1014.0 1161.2L1015.0 1162.6L1016.0 1163.9L1017.0 1165.3L1018.0 1166.8L1019.0 1168.2L1020.0 1169.6L1021.0 1171.1L1022.0 1172.5L1023.0 1174.0L1024.0 1175.5L1025.0 1177.0L1026.0 1178.5L1027.0 1180.1L1028.0 1181.6L1029.0 1183.2L1030.0 1184.8L1031.0 1186.4L1032.0 1188.0L1033.0 1189.7L1034.0 1191.3L1035.0 1193.0L1036.0 1194.7L1037.0 1196.4L1038.0 1198.1L1039.0 1199.9L1040.0 1201.7L1041.0 1203.5L1042.0 1205.3L1043.0 1207.1L1044.0 1209.0L1045.0 1210.9L1046.0 1212.8L1047.0 1214.7L1048.0 1216.6L1049.0 1218.5L1050.0 1220.5L1051.0 1222.4L1052.0 1224.4L1053.0 1226.4L1054.0 1228.3L1055.0 1230.3L1056.0 1232.3L1057.0 1234.3L1058.0 1236.2L1059.0 1238.2L1060.0 1240.1L1061.0 1242.1L1062.0 1244.0L1063.0 1245.9L1064.0 1247.9L1065.0 1249.8L1066.0 1251.7L1067.0 1253.6L1068.0 1255.5L1069.0 1257.4L1070.0 1259.2L1071.0 1261.1L1072.0 1262.9L1073.0 1264.7L1074.0 1266.6L1075.0 1268.4L1076.0 1270.2L1077.0 1271.9L1078.0 1273.7L1079.0 1275.5L1080.0 1277.2L1081.0 1278.9L1082.0 1280.6L1083.0 1282.3L1084.0 1284.0L1085.0 1285.6L1086.0 1287.3L1087.0 1288.9L1088.0 1290.5L1089.0 1292.1L1090.0 1293.7L1091.0 1295.3L1092.0 1296.8L1093.0 1298.4L1094.0 1299.9L1095.0 1301.4L1096.0 1303.0L1097.0 1304.5L1098.0 1306.0L1099.0 1307.5L1100.0 1309.0L1101.0 1310.4L1102.0 1311.9L1103.0 1313.4L1104.0 1314.9L1105.0 1316.4L1106.0 1317.8L1107.0 1319.3L1108.0 1320.8L1109.0 1322.3L1110.0 1323.7L1111.0 1325.2L1112.0 1326.7L1113.0 1328.2L1114.0 1329.6L1115.0 1331.1L1116.0 1332.5L1117.0 1334.0L1118.0 1335.5L1119.0 1336.9L1120.0 1338.4L1121.0 1339.8L1122.0 1341.2L1123.0 1342.7L1124.0 1344.1L1125.0 1345.5L1126.0 1346.9L1127.0 1348.3L1128.0 1349.7L1129.0 1351.1L1130.0 1352.5L1131.0 1353.8L1132.0 1355.1L1133.0 1356.5L1134.0 1357.8L1135.0 1359.0L1136.0 1360.3L1137.0 1361.6L1138.0 1362.8L1139.0 1364.0L1140.0 1365.2L1141.0 1366.3L1142.0 1367.5L1143.0 1368.6L1144.0 1369.7L1145.0 1370.8L1146.0 1371.8L1147.0 1372.9L1148.0 1373.9L1149.0 1374.9L1150.0 1375.9L1151.0 1376.8L1152.0 1377.7L1153.0 1378.6L1154.0 1379.5L1155.0 1380.4L1156.0 1381.2L1157.0 1382.1L1158.0 1382.9L1159.0 1383.7L1160.0 1384.4L1161.0 1385.2L1162.0 1385.9L1163.0 1386.6L1164.0 1387.3L1165.0 1388.0L1166.0 1388.7L1167.0 1389.3L1168.0 1389.9L1169.0 1390.6L1170.0 1391.2L1171.0 1391.8L1172.0 1392.3L1173.0 1392.9L1174.0 1393.5L1175.0 1394.0L1176.0 1394.6L1177.0 1395.1L1178.0 1395.6L1179.0 1396.1L1180.0 1396.6L1181.0 1397.1L1182.0 1397.6L1183.0 1398.0L1184.0 1398.5L1185.0 1398.9L1186.0 1399.4L1187.0 1399.8L1188.0 1400.2L1189.0 1400.7L1190.0 1401.1L1191.0 1401.5L1192.0 1401.9L1193.0 1402.3L1194.0 1402.6L1195.0 1403.0L1196.0 1403.4L1197.0 1403.8L1198.0 1404.1L1199.0 1404.5L1200.0 1404.8L1201.0 1405.2L1202.0 1405.5L1203.0 1405.8L1204.0 1406.1L1205.0 1406.4L1206.0 1406.8L1207.0 1407.1L1208.0 1407.4L1209.0 1407.7L1210.0 1407.9L1211.0 1408.2L1212.0 1408.5L1213.0 1408.8L1214.0 1409.0L1215.0 1409.3L1216.0 1409.6L1217.0 1409.8L1218.0 1410.1L1219.0 1410.3L1220.0 1410.5L1221.0 1410.8L1222.0 1411.0L1223.0 1411.2L1224.0 1411.5L1225.0 1411.7L1226.0 1411.9L1227.0 1412.1L1228.0 1412.3L1229.0 1412.5L1230.0 1412.7L1231.0 1412.9L1232.0 1413.1L1233.0 1413.3L1234.0 1413.5L1235.0 1413.7L1236.0 1413.9L1237.0 1414.0L1238.0 1414.2L1239.0 1414.4L1240.0 1414.5L1241.0 1414.7L1242.0 1414.9L1243.0 1415.0L1244.0 1415.2L1245.0 1415.4L1246.0 1415.5L1247.0 1415.7L1248.0 1415.8L1249.0 1415.9L1250.0 1416.1L1251.0 1416.2L1252.0 1416.4L1253.0 1416.5L1254.0 1416.6L1255.0 1416.8L1256.0 1416.9L1257.0 1417.0L1258.0 1417.1L1259.0 1417.2L1260.0 1417.4L1261.0 1417.5L1262.0 1417.6L1263.0 1417.7L1264.0 1417.8L1265.0 1417.9L1266.0 1418.0L1267.0 1418.1L1268.0 1418.2L1269.0 1418.3L1270.0 1418.4L1271.0 1418.5L1272.0 1418.6L1273.0 1418.7L1274.0 1418.8L1275.0 1418.8L1276.0 1418.9L1277.0 1419.0L1278.0 1419.1L1279.0 1419.2L1280.0 1419.2L1281.0 1419.3L1282.0 1419.4L1283.0 1419.4L1284.0 1419.5L1285.0 1419.6L1286.0 1419.6L1287.0 1419.7L1288.0 1419.8L1289.0 1419.8L1290.0 1419.9L1291.0 1420.0L1292.0 1420.0L1293.0 1420.1L1294.0 1420.1L1295.0 1420.2L1296.0 1420.2L1297.0 1420.3L1298.0 1420.3L1299.0 1420.4L1300.0 1420.4L1301.0 1420.5L1302.0 1420.5L1303.0 1420.6L1304.0 1420.6L1305.0 1420.7L1306.0 1420.7L1307.0 1420.7L1308.0 1420.8L1309.0 1420.8L1310.0 1420.9L1311.0 1420.9L1312.0 1420.9L1313.0 1421.0L1314.0 1421.0L1315.0 1421.0L1316.0 1421.1L1317.0 1421.1L1318.0 1421.1L1319.0 1421.2L1320.0 1421.2L1321.0 1421.2L1322.0 1421.3L1323.0 1421.3L1324.0 1421.3L1325.0 1421.4L1326.0 1421.4L1327.0 1421.4L1328.0 1421.5L1329.0 1421.5L1330.0 1421.5L1331.0 1421.5L1332.0 1421.6L1333.0 1421.6L1334.0 1421.6L1335.0 1421.6L1336.0 1421.7L1337.0 1421.7L1338.0 1421.7L1339.0 1421.7L1340.0 1421.7L1341.0 1421.8L1342.0 1421.8L1343.0 1421.8L1344.0 1421.8L1345.0 1421.8L1346.0 1421.9L1347.0 1421.9L1348.0 1421.9L1349.0 1421.9L1350.0 1421.9L1351.0 1422.0L1352.0 1422.0L1353.0 1422.0L1354.0 1422.0L1355.0 1422.0L1356.0 1422.0L1357.0 1422.1L1358.0 1422.1L1359.0 1422.1L1360.0 1422.1L1361.0 1422.1L1362.0 1422.1L1363.0 1422.1L1364.0 1422.2L1365.0 1422.2L1366.0 1422.2L1367.0 1422.2L1368.0 1422.2L1369.0 1422.2L1370.0 1422.2L1371.0 1422.2L1372.0 1422.3L1373.0 1422.3L1374.0 1422.3L1375.0 1422.3L1376.0 1422.3L1377.0 1422.3L1378.0 1422.3L1379.0 1422.3L1380.0 1422.3L1381.0 1422.4L1382.0 1422.4L1383.0 1422.4L1384.0 1422.4L1385.0 1422.4L1386.0 1422.4L1387.0 1422.4L1388.0 1422.4L1389.0 1422.4L1390.0 1422.4L1391.0 1422.5L1392.0 1422.5L1393.0 1422.5L1394.0 1422.5L1395.0 1422.5L1396.0 1422.5L1397.0 1422.5L1398.0 1422.5L1399.0 1422.5L1400.0 1422.5L1401.0 1422.5L1402.0 1422.5L1403.0 1422.6L1404.0 1422.6L1405.0 1422.6L1406.0 1422.6L1407.0 1422.6L1408.0 1422.6L1409.0 1422.6L1410.0 1422.6L1411.0 1422.6L1412.0 1422.6L1413.0 1422.6L1414.0 1422.6L1415.0 1422.6L1416.0 1422.7L1417.0 1422.7L1418.0 1422.7L1419.0 1422.7L1420.0 1422.7L1421.0 1422.7L1422.0 1422.7L1423.0 1422.7L1424.0 1422.7L1425.0 1422.7L1426.0 1422.7L1427.0 1422.7L1428.0 1422.7L1429.0 1422.8L1430.0 1422.8L1431.0 1422.8L1432.0 1422.8L1433.0 1422.8L1434.0 1422.8L1435.0 1422.8L1436.0 1422.8L1437.0 1422.8L1438.0 1422.8L1439.0 1422.8L1440.0 1422.8L1441.0 1422.8L1442.0 1422.8L1443.0 1422.9L1444.0 1422.9L1445.0 1422.9L1446.0 1422.9L1447.0 1422.9L1448.0 1422.9L1449.0 1422.9L1450.0 1422.9L1451.0 1422.9L1452.0 1422.9L1453.0 1422.9L1454.0 1422.9L1455.0 1422.9L1456.0 1422.9L1457.0 1422.9L1458.0 1422.9L1459.0 1423.0L1460.0 1423.0L1461.0 1423.0L1462.0 1423.0L1463.0 1423.0L1464.0 1423.0L1465.0 1423.0L1466.0 1423.0L1467.0 1423.0L1468.0 1423.0L1469.0 1423.0L1470.0 1423.0L1471.0 1423.0L1472.0 1423.0L1473.0 1423.0L1474.0 1423.0L1475.0 1423.0L1476.0 1423.1L1477.0 1423.1L1478.0 1423.1L1479.0 1423.1L1480.0 1423.1L1481.0 1423.1L1482.0 1423.1L1483.0 1423.1L1484.0 1423.1L1485.0 1423.1L1486.0 1423.1L1487.0 1423.1L1488.0 1423.1L1489.0 1423.1L1490.0 1423.1L1491.0 1423.1L1492.0 1423.1L1493.0 1423.1L1494.0 1423.1L1495.0 1423.2L1496.0 1423.2L1497.0 1423.2L1498.0 1423.2L1499.0 1423.2L1500.0 1423.2L1501.0 1423.2L1502.0 1423.2L1503.0 1423.2L1504.0 1423.2L1505.0 1423.2L1506.0 1423.2L1507.0 1423.2L1508.0 1423.2L1509.0 1423.2L1510.0 1423.2L1511.0 1423.2L1512.0 1423.2L1513.0 1423.2L1514.0 1423.2L1515.0 1423.2L1516.0 1423.3L1517.0 1423.3L1518.0 1423.3L1519.0 1423.3L1520.0 1423.3L1521.0 1423.3L1522.0 1423.3L1523.0 1423.3L1524.0 1423.3L1525.0 1423.3L1526.0 1423.3L1527.0 1423.3L1528.0 1423.3L1529.0 1423.3L1530.0 1423.3L1531.0 1423.3L1532.0 1423.3L1533.0 1423.3L1534.0 1423.3L1535.0 1423.3L1536.0 1423.3L1537.0 1423.3L1538.0 1423.3L1539.0 1423.3L1540.0 1423.3L1541.0 1423.4L1542.0 1423.4L1543.0 1423.4L1544.0 1423.4L1545.0 1423.4L1546.0 1423.4L1547.0 1423.4L1548.0 1423.4L1549.0 1423.4L1550.0 1423.4L1551.0 1423.4L1552.0 1423.4L1553.0 1423.4L1554.0 1423.4L1555.0 1423.4L1556.0 1423.4L1557.0 1423.4L1558.0 1423.4L1559.0 1423.4L1560.0 1423.4L1561.0 1423.4L1562.0 1423.4L1563.0 1423.4L1564.0 1423.4L1565.0 1423.4L1566.0 1423.4L1567.0 1423.4L1568.0 1423.4L1569.0 1423.4L1570.0 1423.4L1571.0 1423.4L1572.0 1423.4L1573.0 1423.5L1574.0 1423.5L1575.0 1423.5L1576.0 1423.5L1577.0 1423.5L1578.0 1423.5L1579.0 1423.5L1580.0 1423.5L1581.0 1423.5L1582.0 1423.5L1583.0 1423.5L1584.0 1423.5L1585.0 1423.5L1586.0 1423.5L1587.0 1423.5L1588.0 1423.5L1589.0 1423.5L1590.0 1423.5L1591.0 1423.5L1592.0 1423.5L1593.0 1423.5L1594.0 1423.5L1595.0 1423.5L1596.0 1423.5L1597.0 1423.5L1598.0 1423.5L1599.0 1423.5L1600.0 1423.5L1601.0 1423.5L1602.0 1423.5L1603.0 1423.5L1604.0 1423.5L1605.0 1423.5L1606.0 1423.5L1607.0 1423.5L1608.0 1423.5L1609.0 1423.5L1610.0 1423.5L1611.0 1423.5L1612.0 1423.5L1613.0 1423.5L1614.0 1423.5L1615.0 1423.5L1616.0 1423.5L1617.0 1423.6L1618.0 1423.6L1619.0 1423.6L1620.0 1423.6L1621.0 1423.6L1622.0 1423.6L1623.0 1423.6L1624.0 1423.6L1625.0 1423.6L1626.0 1423.6L1627.0 1423.6L1628.0 1423.6L1629.0 1423.6L1630.0 1423.6L1631.0 1423.6L1632.0 1423.6L1633.0 1423.6L1634.0 1423.6L1635.0 1423.6L1636.0 1423.6L1637.0 1423.6L1638.0 1423.6L1639.0 1423.6L1640.0 1423.6L1641.0 1423.6L1642.0 1423.6L1643.0 1423.6L1644.0 1423.6L1645.0 1423.6L1646.0 1423.6L1647.0 1423.6L1648.0 1423.6L1649.0 1423.6L1650.0 1423.6L1651.0 1423.6L1652.0 1423.6L1653.0 1423.6L1654.0 1423.6L1655.0 1423.6L1656.0 1423.6L1657.0 1423.6L1658.0 1423.6L1659.0 1423.6L1660.0 1423.6L1661.0 1423.6L1662.0 1423.6L1663.0 1423.6L1664.0 1423.6L1665.0 1423.6L1666.0 1423.6L1667.0 1423.6L1668.0 1423.6L1669.0 1423.6L1670.0 1423.6L1671.0 1423.6L1672.0 1423.6L1673.0 1423.6L1674.0 1423.6L1675.0 1423.6L1676.0 1423.6L1677.0 1423.6L1678.0 1423.6L1679.0 1423.6L1680.0 1423.6L1681.0 1423.6L1682.0 1423.6L1683.0 1423.6L1684.0 1423.6L1685.0 1423.6L1686.0 1423.6L1687.0 1423.6L1688.0 1423.6L1689.0 1423.6L1690.0 1423.6L1691.0 1423.6L1692.0 1423.6L1693.0 1423.6L1694.0 1423.6L1695.0 1423.6L1696.0 1423.6L1697.0 1423.6L1698.0 1423.6L1699.0 1423.6L1700.0 1423.6L1701.0 1423.6L1702.0 1423.6L1703.0 1423.6L1704.0 1423.6L1705.0 1423.6L1706.0 1423.6L1707.0 1423.6L1708.0 1423.6L1709.0 1423.6L1710.0 1423.6L1711.0 1423.6L1712.0 1423.6L1713.0 1423.6L1714.0 1423.6L1715.0 1423.6L1716.0 1423.6L1717.0 1423.6L1718.0 1423.6L1719.0 1423.6L1720.0 1423.6L1721.0 1423.6L1722.0 1423.6L1723.0 1423.6L1724.0 1423.6L1725.0 1423.6L1726.0 1423.6L1727.0 1423.6L1728.0 1423.6L1729.0 1423.6L1730.0 1423.6L1731.0 1423.6L1732.0 1423.6L1733.0 1423.6L1734.0 1423.6L1735.0 1423.6L1736.0 1423.6L1737.0 1423.6L1738.0 1423.6L1739.0 1423.6L1740.0 1423.6L1741.0 1423.6L1742.0 1423.6L1743.0 1423.6L1744.0 1423.6L1745.0 1423.6L1746.0 1423.6L1747.0 1423.6L1748.0 1423.6L1749.0 1423.6L1750.0 1423.6L1751.0 1423.6L1752.0 1423.6L1753.0 1423.6L1754.0 1423.6L1755.0 1423.6L1756.0 1423.6L1757.0 1423.6L1758.0 1423.6L1759.0 1423.6L1760.0 1423.6L1761.0 1423.6L1762.0 1423.6L1763.0 1423.6L1764.0 1423.6L1765.0 1423.6L1766.0 1423.6L1767.0 1423.6L1768.0 1423.6L1769.0 1423.6L1770.0 1423.6L1771.0 1423.6L1772.0 1423.6L1773.0 1423.6L1774.0 1423.6L1775.0 1423.6L1776.0 1423.6L1777.0 1423.6L1778.0 1423.6L1779.0 1423.6L1780.0 1423.6L1781.0 1423.6L1782.0 1423.6L1783.0 1423.6L1784.0 1423.6L1785.0 1423.6L1786.0 1423.6L1787.0 1423.6L1788.0 1423.6L1789.0 1423.6L1790.0 1423.6L1791.0 1423.6L1792.0 1423.6L1793.0 1423.6L1794.0 1423.6L1795.0 1423.6L1796.0 1423.6L1797.0 1423.6L1798.0 1423.6L1799.0 1423.6L1800.0 1423.6L1801.0 1423.6L1802.0 1423.6L1803.0 1423.6L1804.0 1423.6L1805.0 1423.6L1806.0 1423.6L1807.0 1423.6L1808.0 1423.6L1809.0 1423.6L1810.0 1423.6L1811.0 1423.6L1812.0 1423.6L1813.0 1423.6L1814.0 1423.6L1815.0 1423.6L1816.0 1423.6L1817.0 1423.5L1818.0 1423.5L1819.0 1423.5L1820.0 1423.5L1821.0 1423.5L1822.0 1423.5L1823.0 1423.5L1824.0 1423.5L1825.0 1423.5L1826.0 1423.5L1827.0 1423.5L1828.0 1423.5L1829.0 1423.5L1830.0 1423.5L1831.0 1423.5L1832.0 1423.5L1833.0 1423.5L1834.0 1423.5L1835.0 1423.5L1836.0 1423.5L1837.0 1423.5L1838.0 1423.5L1839.0 1423.5L1840.0 1423.5L1841.0 1423.5L1842.0 1423.5L1843.0 1423.5L1844.0 1423.5L1845.0 1423.5L1846.0 1423.5L1847.0 1423.5L1848.0 1423.5L1849.0 1423.5L1850.0 1423.5L1851.0 1423.5L1852.0 1423.5L1853.0 1423.5L1854.0 1423.5L1855.0 1423.5L1856.0 1423.5L1857.0 1423.5L1858.0 1423.5L1859.0 1423.5L1860.0 1423.5L1861.0 1423.5L1862.0 1423.5L1863.0 1423.5L1864.0 1423.5L1865.0 1423.5L1866.0 1423.5L1867.0 1423.5L1868.0 1423.5L1869.0 1423.5L1870.0 1423.5L1871.0 1423.5L1872.0 1423.5L1873.0 1423.5L1874.0 1423.5L1875.0 1423.5L1876.0 1423.5L1877.0 1423.5L1878.0 1423.5L1879.0 1423.5L1880.0 1423.5L1881.0 1423.5L1882.0 1423.5L1883.0 1423.5L1884.0 1423.5L1885.0 1423.5L1886.0 1423.5L1887.0 1423.5L1888.0 1423.5L1889.0 1423.4L1890.0 1423.4L1891.0 1423.4L1892.0 1423.4L1893.0 1423.4L1894.0 1423.4L1895.0 1423.4L1896.0 1423.4L1897.0 1423.4L1898.0 1423.4L1899.0 1423.4L1900.0 1423.4L1901.0 1423.4L1902.0 1423.4L1903.0 1423.4L1904.0 1423.4L1905.0 1423.4L1906.0 1423.4L1907.0 1423.4L1908.0 1423.4" stroke="#808000"/>
<path d="M271.0 1262.3L272.0 1262.4L273.0 1262.5L274.0 1262.6L275.0 1262.7L276.0 1262.8L277.0 1262.9L278.0 1263.0L279.0 1263.1L280.0 1263.2L281.0 1263.3L282.0 1263.3L283.0 1263.4L284.0 1263.5L285.0 1263.6L286.0 1263.7L287.0 1263.8L288.0 1263.9L289.0 1264.0L290.0 1264.1L291.0 1264.2L292.0 1264.3L293.0 1264.4L294.0 1264.5L295.0 1264.6L296.0 1264.7L297.0 1264.8L298.0 1264.9L299.0 1265.0L300.0 1265.1L301.0 1265.2L302.0 1265.3L303.0 1265.4L304.0 1265.5L305.0 1265.6L306.0 1265.7L307.0 1265.8L308.0 1265.9L309.0 1266.0L310.0 1266.1L311.0 1266.2L312.0 1266.3L313.0 1266.4L314.0 1266.5L315.0 1266.6L316.0 1266.7L317.0 1266.8L318.0 1266.9L319.0 1267.0L320.0 1267.1L321.0 1267.2L322.0 1267.3L323.0 1267.4L324.0 1267.5L325.0 1267.6L326.0 1267.8L327.0 1267.9L328.0 1268.0L329.0 1268.1L330.0 1268.2L331.0 1268.3L332.0 1268.5L333.0 1268.6L334.0 1268.7L335.0 1268.8L336.0 1269.0L337.0 1269.1L338.0 1269.2L339.0 1269.4L340.0 1269.5L341.0 1269.6L342.0 1269.8L343.0 1269.9L344.0 1270.1L345.0 1270.2L346.0 1270.4L347.0 1270.5L348.0 1270.7L349.0 1270.8L350.0 1271.0L351.0 1271.1L352.0 1271.3L353.0 1271.5L354.0 1271.6L355.0 1271.8L356.0 1272.0L357.0 1272.2L358.0 1272.3L359.0 1272.5L360.0 1272.7L361.0 1272.9L362.0 1273.1L363.0 1273.3L364.0 1273.5L365.0 1273.7L366.0 1273.9L367.0 1274.1L368.0 1274.3L369.0 1274.5L370.0 1274.7L371.0 1274.9L372.0 1275.1L373.0 1275.3L374.0 1275.6L375.0 1275.8L376.0 1276.0L377.0 1276.3L378.0 1276.5L379.0 1276.7L380.0 1277.0L381.0 1277.2L382.0 1277.5L383.0 1277.7L384.0 1278.0L385.0 1278.2L386.0 1278.5L387.0 1278.8L388.0 1279.0L389.0 1279.3L390.0 1279.6L391.0 1279.9L392.0 1280.2L393.0 1280.4L394.0 1280.7L395.0 1281.0L396.0 1281.3L397.0 1281.6L398.0 1281.9L399.0 1282.2L400.0 1282.5L401.0 1282.8L402.0 1283.2L403.0 1283.5L404.0 1283.8L405.0 1284.1L406.0 1284.4L407.0 1284.7L408.0 1285.1L409.0 1285.4L410.0 1285.7L411.0 1286.1L412.0 1286.4L413.0 1286.7L414.0 1287.1L415.0 1287.4L416.0 1287.7L417.0 1288.1L418.0 1288.4L419.0 1288.7L420.0 1289.1L421.0 1289.4L422.0 1289.8L423.0 1290.1L424.0 1290.5L425.0 1290.8L426.0 1291.2L427.0 1291.5L428.0 1291.9L429.0 1292.2L430.0 1292.6L431.0 1293.0L432.0 1293.3L433.0 1293.7L434.0 1294.0L435.0 1294.4L436.0 1294.8L437.0 1295.1L438.0 1295.5L439.0 1295.9L440.0 1296.3L441.0 1296.6L442.0 1297.0L443.0 1297.4L444.0 1297.8L445.0 1298.2L446.0 1298.5L447.0 1298.9L448.0 1299.3L449.0 1299.7L450.0 1300.1L451.0 1300.5L452.0 1300.8L453.0 1301.2L454.0 1301.6L455.0 1302.0L456.0 1302.3L457.0 1302.7L458.0 1303.1L459.0 1303.5L460.0 1303.8L461.0 1304.2L462.0 1304.6L463.0 1304.9L464.0 1305.3L465.0 1305.6L466.0 1306.0L467.0 1306.3L468.0 1306.7L469.0 1307.0L470.0 1307.4L471.0 1307.7L472.0 1308.1L473.0 1308.4L474.0 1308.7L475.0 1309.1L476.0 1309.4L477.0 1309.7L478.0 1310.1L479.0 1310.4L480.0 1310.7L481.0 1311.0L482.0 1311.4L483.0 1311.7L484.0 1312.0L485.0 1312.3L486.0 1312.6L487.0 1312.9L488.0 1313.3L489.0 1313.6L490.0 1313.9L491.0 1314.2L492.0 1314.5L493.0 1314.8L494.0 1315.1L495.0 1315.4L496.0 1315.6L497.0 1315.9L498.0 1316.2L499.0 1316.5L500.0 1316.8L501.0 1317.0L502.0 1317.3L503.0 1317.6L504.0 1317.8L505.0 1318.1L506.0 1318.3L507.0 1318.6L508.0 1318.8L509.0 1319.0L510.0 1319.2L511.0 1319.5L512.0 1319.7L513.0 1319.9L514.0 1320.1L515.0 1320.3L516.0 1320.5L517.0 1320.6L518.0 1320.8L519.0 1321.0L520.0 1321.1L521.0 1321.3L522.0 1321.4L523.0 1321.6L524.0 1321.7L525.0 1321.8L526.0 1321.9L527.0 1322.0L528.0 1322.1L529.0 1322.2L530.0 1322.3L531.0 1322.4L532.0 1322.4L533.0 1322.5L534.0 1322.5L535.0 1322.6L536.0 1322.6L537.0 1322.6L538.0 1322.6L539.0 1322.6L540.0 1322.6L541.0 1322.6L542.0 1322.5L543.0 1322.5L544.0 1322.4L545.0 1322.4L546.0 1322.3L547.0 1322.2L548.0 1322.1L549.0 1322.0L550.0 1321.9L551.0 1321.8L552.0 1321.6L553.0 1321.5L554.0 1321.3L555.0 1321.2L556.0 1321.0L557.0 1320.8L558.0 1320.6L559.0 1320.4L560.0 1320.2L561.0 1319.9L562.0 1319.7L563.0 1319.4L564.0 1319.2L565.0 1318.9L566.0 1318.6L567.0 1318.3L568.0 1318.0L569.0 1317.7L570.0 1317.4L571.0 1317.1L572.0 1316.7L573.0 1316.4L574.0 1316.0L575.0 1315.6L576.0 1315.2L577.0 1314.8L578.0 1314.4L579.0 1314.0L580.0 1313.6L581.0 1313.2L582.0 1312.7L583.0 1312.3L584.0 1311.8L585.0 1311.3L586.0 1310.9L587.0 1310.4L588.0 1309.9L589.0 1309.3L590.0 1308.8L591.0 1308.3L592.0 1307.8L593.0 1307.2L594.0 1306.7L595.0 1306.1L596.0 1305.5L597.0 1304.9L598.0 1304.3L599.0 1303.7L600.0 1303.1L601.0 1302.5L602.0 1301.9L603.0 1301.3L604.0 1300.6L605.0 1300.0L606.0 1299.3L607.0 1298.7L608.0 1298.0L609.0 1297.3L610.0 1296.6L611.0 1296.0L612.0 1295.3L613.0 1294.6L614.0 1293.8L615.0 1293.1L616.0 1292.4L617.0 1291.7L618.0 1290.9L619.0 1290.2L620.0 1289.4L621.0 1288.7L622.0 1287.9L623.0 1287.1L624.0 1286.4L625.0 1285.6L626.0 1284.8L627.0 1284.0L628.0 1283.2L629.0 1282.3L630.0 1281.5L631.0 1280.6L632.0 1279.8L633.0 1278.9L634.0 1278.1L635.0 1277.2L636.0 1276.3L637.0 1275.4L638.0 1274.4L639.0 1273.5L640.0 1272.6L641.0 1271.6L642.0 1270.6L643.0 1269.6L644.0 1268.6L645.0 1267.6L646.0 1266.6L647.0 1265.5L648.0 1264.5L649.0 1263.4L650.0 1262.3L651.0 1261.2L652.0 1260.1L653.0 1259.0L654.0 1257.8L655.0 1256.7L656.0 1255.5L657.0 1254.3L658.0 1253.1L659.0 1251.9L660.0 1250.7L661.0 1249.4L662.0 1248.2L663.0 1246.9L664.0 1245.7L665.0 1244.4L666.0 1243.2L667.0 1241.9L668.0 1240.6L669.0 1239.3L670.0 1238.1L671.0 1236.8L672.0 1235.5L673.0 1234.2L674.0 1232.9L675.0 1231.6L676.0 1230.4L677.0 1229.1L678.0 1227.8L679.0 1226.5L680.0 1225.3L681.0 1224.0L682.0 1222.8L683.0 1221.5L684.0 1220.3L685.0 1219.1L686.0 1217.9L687.0 1216.7L688.0 1215.5L689.0 1214.3L690.0 1213.1L691.0 1212.0L692.0 1210.8L693.0 1209.7L694.0 1208.5L695.0 1207.4L696.0 1206.2L697.0 1205.1L698.0 1204.0L699.0 1202.9L700.0 1201.8L701.0 1200.6L702.0 1199.5L703.0 1198.4L704.0 1197.3L705.0 1196.2L706.0 1195.1L707.0 1194.0L708.0 1192.9L709.0 1191.8L710.0 1190.7L711.0 1189.6L712.0 1188.5L713.0 1187.4L714.0 1186.3L715.0 1185.2L716.0 1184.1L717.0 1183.0L718.0 1181.9L719.0 1180.8L720.0 1179.7L721.0 1178.6L722.0 1177.5L723.0 1176.3L724.0 1175.2L725.0 1174.1L726.0 1173.0L727.0 1171.8L728.0 1170.7L729.0 1169.6L730.0 1168.4L731.0 1167.2L732.0 1166.1L733.0 1164.9L734.0 1163.7L735.0 1162.5L736.0 1161.4L737.0 1160.1L738.0 1158.9L739.0 1157.7L740.0 1156.5L741.0 1155.2L742.0 1154.0L743.0 1152.7L744.0 1151.4L745.0 1150.1L746.0 1148.8L747.0 1147.5L748.0 1146.2L749.0 1144.9L750.0 1143.6L751.0 1142.2L752.0 1140.9L753.0 1139.6L754.0 1138.2L755.0 1136.9L756.0 1135.6L757.0 1134.3L758.0 1133.0L759.0 1131.7L760.0 1130.4L761.0 1129.1L762.0 1127.8L763.0 1126.5L764.0 1125.2L765.0 1124.0L766.0 1122.7L767.0 1121.5L768.0 1120.3L769.0 1119.1L770.0 1117.8L771.0 1116.6L772.0 1115.5L773.0 1114.3L774.0 1113.1L775.0 1111.9L776.0 1110.8L777.0 1109.6L778.0 1108.5L779.0 1107.4L780.0 1106.3L781.0 1105.1L782.0 1104.0L783.0 1103.0L784.0 1101.9L785.0 1100.8L786.0 1099.7L787.0 1098.7L788.0 1097.6L789.0 1096.6L790.0 1095.5L791.0 1094.5L792.0 1093.5L793.0 1092.5L794.0 1091.5L795.0 1090.5L796.0 1089.5L797.0 1088.5L798.0 1087.6L799.0 1086.6L800.0 1085.6L801.0 1084.7L802.0 1083.8L803.0 1082.8L804.0 1081.9L805.0 1081.0L806.0 1080.1L807.0 1079.2L808.0 1078.4L809.0 1077.5L810.0 1076.6L811.0 1075.8L812.0 1074.9L813.0 1074.1L814.0 1073.3L815.0 1072.4L816.0 1071.6L817.0 1070.8L818.0 1070.1L819.0 1069.3L820.0 1068.5L821.0 1067.8L822.0 1067.0L823.0 1066.3L824.0 1065.5L825.0 1064.8L826.0 1064.1L827.0 1063.4L828.0 1062.8L829.0 1062.1L830.0 1061.4L831.0 1060.8L832.0 1060.1L833.0 1059.5L834.0 1058.9L835.0 1058.3L836.0 1057.7L837.0 1057.1L838.0 1056.5L839.0 1056.0L840.0 1055.4L841.0 1054.9L842.0 1054.4L843.0 1053.9L844.0 1053.4L845.0 1052.9L846.0 1052.4L847.0 1051.9L848.0 1051.4L849.0 1051.0L850.0 1050.5L851.0 1050.1L852.0 1049.7L853.0 1049.3L854.0 1048.9L855.0 1048.5L856.0 1048.1L857.0 1047.8L858.0 1047.4L859.0 1047.1L860.0 1046.8L861.0 1046.4L862.0 1046.1L863.0 1045.8L864.0 1045.6L865.0 1045.3L866.0 1045.0L867.0 1044.8L868.0 1044.5L869.0 1044.3L870.0 1044.1L871.0 1043.9L872.0 1043.7L873.0 1043.5L874.0 1043.4L875.0 1043.2L876.0 1043.1L877.0 1043.0L878.0 1042.8L879.0 1042.7L880.0 1042.7L881.0 1042.6L882.0 1042.5L883.0 1042.5L884.0 1042.5L885.0 1042.4L886.0 1042.4L887.0 1042.4L888.0 1042.5L889.0 1042.5L890.0 1042.6L891.0 1042.6L892.0 1042.7L893.0 1042.8L894.0 1042.9L895.0 1043.1L896.0 1043.2L897.0 1043.4L898.0 1043.5L899.0 1043.7L900.0 1043.9L901.0 1044.2L902.0 1044.4L903.0 1044.6L904.0 1044.9L905.0 1045.2L906.0 1045.5L907.0 1045.8L908.0 1046.1L909.0 1046.4L910.0 1046.8L911.0 1047.1L912.0 1047.5L913.0 1047.9L914.0 1048.3L915.0 1048.7L916.0 1049.2L917.0 1049.6L918.0 1050.1L919.0 1050.5L920.0 1051.0L921.0 1051.5L922.0 1052.1L923.0 1052.6L924.0 1053.2L925.0 1053.7L926.0 1054.3L927.0 1054.9L928.0 1055.5L929.0 1056.1L930.0 1056.8L931.0 1057.4L932.0 1058.1L933.0 1058.8L934.0 1059.5L935.0 1060.2L936.0 1060.9L937.0 1061.7L938.0 1062.4L939.0 1063.2L940.0 1064.0L941.0 1064.8L942.0 1065.6L943.0 1066.4L944.0 1067.2L945.0 1068.1L946.0 1068.9L947.0 1069.8L948.0 1070.7L949.0 1071.6L950.0 1072.5L951.0 1073.4L952.0 1074.3L953.0 1075.3L954.0 1076.2L955.0 1077.2L956.0 1078.2L957.0 1079.2L958.0 1080.1L959.0 1081.2L960.0 1082.2L961.0 1083.2L962.0 1084.2L963.0 1085.3L964.0 1086.3L965.0 1087.4L966.0 1088.5L967.0 1089.6L968.0 1090.7L969.0 1091.8L970.0 1092.9L971.0 1094.0L972.0 1095.2L973.0 1096.3L974.0 1097.5L975.0 1098.6L976.0 1099.8L977.0 1101.0L978.0 1102.2L979.0 1103.4L980.0 1104.6L981.0 1105.8L982.0 1107.1L983.0 1108.3L984.0 1109.5L985.0 1110.8L986.0 1112.0L987.0 1113.3L988.0 1114.5L989.0 1115.8L990.0 1117.1L991.0 1118.4L992.0 1119.6L993.0 1120.9L994.0 1122.2L995.0 1123.5L996.0 1124.8L997.0 1126.0L998.0 1127.3L999.0 1128.6L1000.0 1129.9L1001.0 1131.2L1002.0 1132.5L1003.0 1133.9L1004.0 1135.2L1005.0 1136.5L1006.0 1137.8L1007.0 1139.2L1008.0 1140.5L1009.0 1141.9L1010.0 1143.3L1011.0 1144.7L1012.0 1146.1L1013.0 1147.5L1014.0 1148.9L1015.0 1150.4L1016.0 1151.8L1017.0 1153.3L1018.0 1154.8L1019.0 1156.3L1020.0 1157.8L1021.0 1159.4L1022.0 1161.0L1023.0 1162.5L1024.0 1164.1L1025.0 1165.7L1026.0 1167.4L1027.0 1169.0L1028.0 1170.7L1029.0 1172.4L1030.0 1174.1L1031.0 1175.8L1032.0 1177.6L1033.0 1179.3L1034.0 1181.1L1035.0 1183.0L1036.0 1184.8L1037.0 1186.7L1038.0 1188.5L1039.0 1190.4L1040.0 1192.4L1041.0 1194.3L1042.0 1196.3L1043.0 1198.3L1044.0 1200.3L1045.0 1202.3L1046.0 1204.3L1047.0 1206.4L1048.0 1208.4L1049.0 1210.5L1050.0 1212.6L1051.0 1214.7L1052.0 1216.8L1053.0 1218.9L1054.0 1221.0L1055.0 1223.1L1056.0 1225.2L1057.0 1227.2L1058.0 1229.3L1059.0 1231.4L1060.0 1233.4L1061.0 1235.5L1062.0 1237.5L1063.0 1239.6L1064.0 1241.6L1065.0 1243.6L1066.0 1245.6L1067.0 1247.6L1068.0 1249.6L1069.0 1251.5L1070.0 1253.5L1071.0 1255.4L1072.0 1257.4L1073.0 1259.3L1074.0 1261.2L1075.0 1263.1L1076.0 1264.9L1077.0 1266.8L1078.0 1268.7L1079.0 1270.5L1080.0 1272.3L1081.0 1274.1L1082.0 1275.9L1083.0 1277.6L1084.0 1279.4L1085.0 1281.1L1086.0 1282.8L1087.0 1284.5L1088.0 1286.2L1089.0 1287.8L1090.0 1289.5L1091.0 1291.1L1092.0 1292.7L1093.0 1294.3L1094.0 1295.9L1095.0 1297.5L1096.0 1299.0L1097.0 1300.6L1098.0 1302.1L1099.0 1303.6L1100.0 1305.1L1101.0 1306.6L1102.0 1308.2L1103.0 1309.7L1104.0 1311.1L1105.0 1312.6L1106.0 1314.1L1107.0 1315.6L1108.0 1317.1L1109.0 1318.6L1110.0 1320.1L1111.0 1321.6L1112.0 1323.0L1113.0 1324.5L1114.0 1326.0L1115.0 1327.5L1116.0 1328.9L1117.0 1330.4L1118.0 1331.9L1119.0 1333.3L1120.0 1334.8L1121.0 1336.3L1122.0 1337.7L1123.0 1339.2L1124.0 1340.6L1125.0 1342.1L1126.0 1343.5L1127.0 1344.9L1128.0 1346.4L1129.0 1347.8L1130.0 1349.2L1131.0 1350.6L1132.0 1351.9L1133.0 1353.3L1134.0 1354.6L1135.0 1356.0L1136.0 1357.3L1137.0 1358.6L1138.0 1359.8L1139.0 1361.1L1140.0 1362.3L1141.0 1363.5L1142.0 1364.7L1143.0 1365.9L1144.0 1367.0L1145.0 1368.2L1146.0 1369.3L1147.0 1370.3L1148.0 1371.4L1149.0 1372.4L1150.0 1373.4L1151.0 1374.4L1152.0 1375.4L1153.0 1376.3L1154.0 1377.3L1155.0 1378.2L1156.0 1379.0L1157.0 1379.9L1158.0 1380.7L1159.0 1381.6L1160.0 1382.4L1161.0 1383.1L1162.0 1383.9L1163.0 1384.6L1164.0 1385.3L1165.0 1386.0L1166.0 1386.7L1167.0 1387.4L1168.0 1388.1L1169.0 1388.7L1170.0 1389.3L1171.0 1389.9L1172.0 1390.5L1173.0 1391.1L1174.0 1391.7L1175.0 1392.2L1176.0 1392.8L1177.0 1393.3L1178.0 1393.9L1179.0 1394.4L1180.0 1394.9L1181.0 1395.4L1182.0 1395.9L1183.0 1396.4L1184.0 1396.9L1185.0 1397.3L1186.0 1397.8L1187.0 1398.2L1188.0 1398.7L1189.0 1399.1L1190.0 1399.6L1191.0 1400.0L1192.0 1400.4L1193.0 1400.8L1194.0 1401.2L1195.0 1401.6L1196.0 1402.0L1197.0 1402.4L1198.0 1402.8L1199.0 1403.2L1200.0 1403.5L1201.0 1403.9L1202.0 1404.3L1203.0 1404.6L1204.0 1405.0L1205.0 1405.3L1206.0 1405.6L1207.0 1406.0L1208.0 1406.3L1209.0 1406.6L1210.0 1406.9L1211.0 1407.2L1212.0 1407.5L1213.0 1407.8L1214.0 1408.1L1215.0 1408.4L1216.0 1408.7L1217.0 1408.9L1218.0 1409.2L1219.0 1409.5L1220.0 1409.7L1221.0 1410.0L1222.0 1410.2L1223.0 1410.5L1224.0 1410.7L1225.0 1411.0L1226.0 1411.2L1227.0 1411.4L1228.0 1411.7L1229.0 1411.9L1230.0 1412.1L1231.0 1412.3L1232.0 1412.6L1233.0 1412.8L1234.0 1413.0L1235.0 1413.2L1236.0 1413.4L1237.0 1413.6L1238.0 1413.8L1239.0 1413.9L1240.0 1414.1L1241.0 1414.3L1242.0 1414.5L1243.0 1414.7L1244.0 1414.8L1245.0 1415.0L1246.0 1415.2L1247.0 1415.4L1248.0 1415.5L1249.0 1415.7L1250.0 1415.8L1251.0 1416.0L1252.0 1416.1L1253.0 1416.3L1254.0 1416.4L1255.0 1416.6L1256.0 1416.7L1257.0 1416.8L1258.0 1417.0L1259.0 1417.1L1260.0 1417.2L1261.0 1417.4L1262.0 1417.5L1263.0 1417.6L1264.0 1417.7L1265.0 1417.8L1266.0 1417.9L1267.0 1418.1L1268.0 1418.2L1269.0 1418.3L1270.0 1418.4L1271.0 1418.5L1272.0 1418.6L1273.0 1418.7L1274.0 1418.8L1275.0 1418.8L1276.0 1418.9L1277.0 1419.0L1278.0 1419.1L1279.0 1419.2L1280.0 1419.3L1281.0 1419.4L1282.0 1419.4L1283.0 1419.5L1284.0 1419.6L1285.0 1419.7L1286.0 1419.7L1287.0 1419.8L1288.0 1419.9L1289.0 1419.9L1290.0 1420.0L1291.0 1420.0L1292.0 1420.1L1293.0 1420.2L1294.0 1420.2L1295.0 1420.3L1296.0 1420.3L1297.0 1420.4L1298.0 1420.4L1299.0 1420.5L1300.0 1420.5L1301.0 1420.6L1302.0 1420.6L1303.0 1420.7L1304.0 1420.7L1305.0 1420.8L1306.0 1420.8L1307.0 1420.9L1308.0 1420.9L1309.0 1421.0L1310.0 1421.0L1311.0 1421.0L1312.0 1421.1L1313.0 1421.1L1314.0 1421.2L1315.0 1421.2L1316.0 1421.2L1317.0 1421.3L1318.0 1421.3L1319.0 1421.3L1320.0 1421.4L1321.0 1421.4L1322.0 1421.4L1323.0 1421.5L1324.0 1421.5L1325.0 1421.5L1326.0 1421.6L1327.0 1421.6L1328.0 1421.6L1329.0 1421.6L1330.0 1421.7L1331.0 1421.7L1332.0 1421.7L1333.0 1421.7L1334.0 1421.8L1335.0 1421.8L1336.0 1421.8L1337.0 1421.8L1338.0 1421.9L1339.0 1421.9L1340.0 1421.9L1341.0 1421.9L1342.0 1422.0L1343.0 1422.0L1344.0 1422.0L1345.0 1422.0L1346.0 1422.0L1347.0 1422.1L1348.0 1422.1L1349.0 1422.1L1350.0 1422.1L1351.0 1422.1L1352.0 1422.1L1353.0 1422.2L1354.0 1422.2L1355.0 1422.2L1356.0 1422.2L1357.0 1422.2L1358.0 1422.2L1359.0 1422.3L1360.0 1422.3L1361.0 1422.3L1362.0 1422.3L1363.0 1422.3L1364.0 1422.3L1365.0 1422.3L1366.0 1422.4L1367.0 1422.4L1368.0 1422.4L1369.0 1422.4L1370.0 1422.4L1371.0 1422.4L1372.0 1422.4L1373.0 1422.4L1374.0 1422.5L1375.0 1422.5L1376.0 1422.5L1377.0 1422.5L1378.0 1422.5L1379.0 1422.5L1380.0 1422.5L1381.0 1422.5L1382.0 1422.5L1383.0 1422.6L1384.0 1422.6L1385.0 1422.6L1386.0 1422.6L1387.0 1422.6L1388.0 1422.6L1389.0 1422.6L1390.0 1422.6L1391.0 1422.6L1392.0 1422.6L1393.0 1422.6L1394.0 1422.7L1395.0 1422.7L1396.0 1422.7L1397.0 1422.7L1398.0 1422.7L1399.0 1422.7L1400.0 1422.7L1401.0 1422.7L1402.0 1422.7L1403.0 1422.7L1404.0 1422.7L1405.0 1422.7L1406.0 1422.8L1407.0 1422.8L1408.0 1422.8L1409.0 1422.8L1410.0 1422.8L1411.0 1422.8L1412.0 1422.8L1413.0 1422.8L1414.0 1422.8L1415.0 1422.8L1416.0 1422.8L1417.0 1422.8L1418.0 1422.9L1419.0 1422.9L1420.0 1422.9L1421.0 1422.9L1422.0 1422.9L1423.0 1422.9L1424.0 1422.9L1425.0 1422.9L1426.0 1422.9L1427.0 1422.9L1428.0 1422.9L1429.0 1422.9L1430.0 1422.9L1431.0 1422.9L1432.0 1423.0L1433.0 1423.0L1434.0 1423.0L1435.0 1423.0L1436.0 1423.0L1437.0 1423.0L1438.0 1423.0L1439.0 1423.0L1440.0 1423.0L1441.0 1423.0L1442.0 1423.0L1443.0 1423.0L1444.0 1423.0L1445.0 1423.0L1446.0 1423.1L1447.0 1423.1L1448.0 1423.1L1449.0 1423.1L1450.0 1423.1L1451.0 1423.1L1452.0 1423.1L1453.0 1423.1L1454.0 1423.1L1455.0 1423.1L1456.0 1423.1L1457.0 1423.1L1458.0 1423.1L1459.0 1423.1L1460.0 1423.1L1461.0 1423.1L1462.0 1423.2L1463.0 1423.2L1464.0 1423.2L1465.0 1423.2L1466.0 1423.2L1467.0 1423.2L1468.0 1423.2L1469.0 1423.2L1470.0 1423.2L1471.0 1423.2L1472.0 1423.2L1473.0 1423.2L1474.0 1423.2L1475.0 1423.2L1476.0 1423.2L1477.0 1423.2L1478.0 1423.2L1479.0 1423.3L1480.0 1423.3L1481.0 1423.3L1482.0 1423.3L1483.0 1423.3L1484.0 1423.3L1485.0 1423.3L1486.0 1423.3L1487.0 1423.3L1488.0 1423.3L1489.0 1423.3L1490.0 1423.3L1491.0 1423.3L1492.0 1423.3L1493.0 1423.3L1494.0 1423.3L1495.0 1423.3L1496.0 1423.3L1497.0 1423.3L1498.0 1423.4L1499.0 1423.4L1500.0 1423.4L1501.0 1423.4L1502.0 1423.4L1503.0 1423.4L1504.0 1423.4L1505.0 1423.4L1506.0 1423.4L1507.0 1423.4L1508.0 1423.4L1509.0 1423.4L1510.0 1423.4L1511.0 1423.4L1512.0 1423.4L1513.0 1423.4L1514.0 1423.4L1515.0 1423.4L1516.0 1423.4L1517.0 1423.4L1518.0 1423.4L1519.0 1423.5L1520.0 1423.5L1521.0 1423.5L1522.0 1423.5L1523.0 1423.5L1524.0 1423.5L1525.0 1423.5L1526.0 1423.5L1527.0 1423.5L1528.0 1423.5L1529.0 1423.5L1530.0 1423.5L1531.0 1423.5L1532.0 1423.5L1533.0 1423.5L1534.0 1423.5L1535.0 1423.5L1536.0 1423.5L1537.0 1423.5L1538.0 1423.5L1539.0 1423.5L1540.0 1423.5L1541.0 1423.5L1542.0 1423.5L1543.0 1423.5L1544.0 1423.5L1545.0 1423.6L1546.0 1423.6L1547.0 1423.6L1548.0 1423.6L1549.0 1423.6L1550.0 1423.6L1551.0 1423.6L1552.0 1423.6L1553.0 1423.6L1554.0 1423.6L1555.0 1423.6L1556.0 1423.6L1557.0 1423.6L1558.0 1423.6L1559.0 1423.6L1560.0 1423.6L1561.0 1423.6L1562.0 1423.6L1563.0 1423.6L1564.0 1423.6L1565.0 1423.6L1566.0 1423.6L1567.0 1423.6L1568.0 1423.6L1569.0 1423.6L1570.0 1423.6L1571.0 1423.6L1572.0 1423.6L1573.0 1423.6L1574.0 1423.6L1575.0 1423.6L1576.0 1423.6L1577.0 1423.6L1578.0 1423.7L1579.0 1423.7L1580.0 1423.7L1581.0 1423.7L1582.0 1423.7L1583.0 1423.7L1584.0 1423.7L1585.0 1423.7L1586.0 1423.7L1587.0 1423.7L1588.0 1423.7L1589.0 1423.7L1590.0 1423.7L1591.0 1423.7L1592.0 1423.7L1593.0 1423.7L1594.0 1423.7L1595.0 1423.7L1596.0 1423.7L1597.0 1423.7L1598.0 1423.7L1599.0 1423.7L1600.0 1423.7L1601.0 1423.7L1602.0 1423.7L1603.0 1423.7L1604.0 1423.7L1605.0 1423.7L1606.0 1423.7L1607.0 1423.7L1608.0 1423.7L1609.0 1423.7L1610.0 1423.7L1611.0 1423.7L1612.0 1423.7L1613.0 1423.7L1614.0 1423.7L1615.0 1423.7L1616.0 1423.7L1617.0 1423.7L1618.0 1423.7L1619.0 1423.7L1620.0 1423.7L1621.0 1423.7L1622.0 1423.7L1623.0 1423.7L1624.0 1423.7L1625.0 1423.7L1626.0 1423.7L1627.0 1423.7L1628.0 1423.8L1629.0 1423.8L1630.0 1423.8L1631.0 1423.8L1632.0 1423.8L1633.0 1423.8L1634.0 1423.8L1635.0 1423.8L1636.0 1423.8L1637.0 1423.8L1638.0 1423.8L1639.0 1423.8L1640.0 1423.8L1641.0 1423.8L1642.0 1423.8L1643.0 1423.8L1644.0 1423.8L1645.0 1423.8L1646.0 1423.8L1647.0 1423.8L1648.0 1423.8L1649.0 1423.8L1650.0 1423.8L1651.0 1423.8L1652.0 1423.8L1653.0 1423.8L1654.0 1423.8L1655.0 1423.8L1656.0 1423.8L1657.0 1423.8L1658.0 1423.8L1659.0 1423.8L1660.0 1423.8L1661.0 1423.8L1662.0 1423.8L1663.0 1423.8L1664.0 1423.8L1665.0 1423.8L1666.0 1423.8L1667.0 1423.8L1668.0 1423.8L1669.0 1423.8L1670.0 1423.8L1671.0 1423.8L1672.0 1423.8L1673.0 1423.8L1674.0 1423.8L1675.0 1423.8L1676.0 1423.8L1677.0 1423.8L1678.0 1423.8L1679.0 1423.8L1680.0 1423.8L1681.0 1423.8L1682.0 1423.8L1683.0 1423.8L1684.0 1423.8L1685.0 1423.8L1686.0 1423.8L1687.0 1423.8L1688.0 1423.8L1689.0 1423.8L1690.0 1423.8L1691.0 1423.8L1692.0 1423.8L1693.0 1423.8L1694.0 1423.8L1695.0 1423.8L1696.0 1423.8L1697.0 1423.8L1698.0 1423.8L1699.0 1423.8L1700.0 1423.8L1701.0 1423.8L1702.0 1423.8L1703.0 1423.8L1704.0 1423.8L1705.0 1423.8L1706.0 1423.8L1707.0 1423.8L1708.0 1423.8L1709.0 1423.8L1710.0 1423.8L1711.0 1423.8L1712.0 1423.8L1713.0 1423.8L1714.0 1423.8L1715.0 1423.8L1716.0 1423.8L1717.0 1423.8L1718.0 1423.8L1719.0 1423.8L1720.0 1423.8L1721.0 1423.8L1722.0 1423.8L1723.0 1423.8L1724.0 1423.8L1725.0 1423.8L1726.0 1423.8L1727.0 1423.8L1728.0 1423.8L1729.0 1423.8L1730.0 1423.8L1731.0 1423.8L1732.0 1423.8L1733.0 1423.8L1734.0 1423.8L1735.0 1423.8L1736.0 1423.8L1737.0 1423.8L1738.0 1423.8L1739.0 1423.8L1740.0 1423.8L1741.0 1423.8L1742.0 1423.8L1743.0 1423.8L1744.0 1423.8L1745.0 1423.8L1746.0 1423.8L1747.0 1423.8L1748.0 1423.8L1749.0 1423.8L1750.0 1423.8L1751.0 1423.8L1752.0 1423.8L1753.0 1423.8L1754.0 1423.8L1755.0 1423.8L1756.0 1423.8L1757.0 1423.8L1758.0 1423.8L1759.0 1423.8L1760.0 1423.8L1761.0 1423.8L1762.0 1423.8L1763.0 1423.8L1764.0 1423.8L1765.0 1423.8L1766.0 1423.8L1767.0 1423.8L1768.0 1423.8L1769.0 1423.8L1770.0 1423.8L1771.0 1423.8L1772.0 1423.8L1773.0 1423.8L1774.0 1423.8L1775.0 1423.8L1776.0 1423.8L1777.0 1423.8L1778.0 1423.8L1779.0 1423.8L1780.0 1423.8L1781.0 1423.8L1782.0 1423.8L1783.0 1423.8L1784.0 1423.8L1785.0 1423.8L1786.0 1423.7L1787.0 1423.7L1788.0 1423.7L1789.0 1423.7L1790.0 1423.7L1791.0 1423.7L1792.0 1423.7L1793.0 1423.7L1794.0 1423.7L1795.0 1423.7L1796.0 1423.7L1797.0 1423.7L1798.0 1423.7L1799.0 1423.7L1800.0 1423.7L1801.0 1423.7L1802.0 1423.7L1803.0 1423.7L1804.0 1423.7L1805.0 1423.7L1806.0 1423.7L1807.0 1423.7L1808.0 1423.7L1809.0 1423.7L1810.0 1423.7L1811.0 1423.7L1812.0 1423.7L1813.0 1423.7L1814.0 1423.7L1815.0 1423.7L1816.0 1423.7L1817.0 1423.7L1818.0 1423.7L1819.0 1423.7L1820.0 1423.7L1821.0 1423.7L1822.0 1423.7L1823.0 1423.7L1824.0 1423.7L1825.0 1423.7L1826.0 1423.7L1827.0 1423.7L1828.0 1423.7L1829.0 1423.7L1830.0 1423.7L1831.0 1423.7L1832.0 1423.7L1833.0 1423.7L1834.0 1423.7L1835.0 1423.7L1836.0 1423.7L1837.0 1423.7L1838.0 1423.7L1839.0 1423.7L1840.0 1423.7L1841.0 1423.7L1842.0 1423.7L1843.0 1423.7L1844.0 1423.7L1845.0 1423.7L1846.0 1423.7L1847.0 1423.7L1848.0 1423.7L1849.0 1423.7L1850.0 1423.7L1851.0 1423.7L1852.0 1423.7L1853.0 1423.7L1854.0 1423.7L1855.0 1423.7L1856.0 1423.7L1857.0 1423.7L1858.0 1423.7L1859.0 1423.7L1860.0 1423.6L1861.0 1423.6L1862.0 1423.6L1863.0 1423.6L1864.0 1423.6L1865.0 1423.6L1866.0 1423.6L1867.0 1423.6L1868.0 1423.6L1869.0 1423.6L1870.0 1423.6L1871.0 1423.6L1872.0 1423.6L1873.0 1423.6L1874.0 1423.6L1875.0 1423.6L1876.0 1423.6L1877.0 1423.6L1878.0 1423.6L1879.0 1423.6L1880.0 1423.6L1881.0 1423.6L1882.0 1423.6L1883.0 1423.6L1884.0 1423.6L1885.0 1423.6L1886.0 1423.6L1887.0 1423.6L1888.0 1423.6L1889.0 1423.6L1890.0 1423.6L1891.0 1423.6L1892.0 1423.6L1893.0 1423.6L1894.0 1423.6L1895.0 1423.6L1896.0 1423.6L1897.0 1423.6L1898.0 1423.6L1899.0 1423.6L1900.0 1423.6L1901.0 1423.6L1902.0 1423.6L1903.0 1423.6L1904.0 1423.6L1905.0 1423.6L1906.0 1423.6L1907.0 1423.6L1908.0 1423.6" stroke="#7F4F4F"/>
<path d="M271.0 1266.2L272.0 1266.3L273.0 1266.4L274.0 1266.4L275.0 1266.5L276.0 1266.6L277.0 1266.6L278.0 1266.7L279.0 1266.7L280.0 1266.8L281.0 1266.9L282.0 1266.9L283.0 1267.0L284.0 1267.1L285.0 1267.1L286.0 1267.2L287.0 1267.3L288.0 1267.3L289.0 1267.4L290.0 1267.5L291.0 1267.5L292.0 1267.6L293.0 1267.7L294.0 1267.7L295.0 1267.8L296.0 1267.9L297.0 1268.0L298.0 1268.0L299.0 1268.1L300.0 1268.2L301.0 1268.2L302.0 1268.3L303.0 1268.4L304.0 1268.4L305.0 1268.5L306.0 1268.6L307.0 1268.7L308.0 1268.7L309.0 1268.8L310.0 1268.9L311.0 1268.9L312.0 1269.0L313.0 1269.1L314.0 1269.2L315.0 1269.2L316.0 1269.3L317.0 1269.4L318.0 1269.5L319.0 1269.6L320.0 1269.6L321.0 1269.7L322.0 1269.8L323.0 1269.9L324.0 1270.0L325.0 1270.1L326.0 1270.1L327.0 1270.2L328.0 1270.3L329.0 1270.4L330.0 1270.5L331.0 1270.6L332.0 1270.7L333.0 1270.8L334.0 1270.9L335.0 1271.0L336.0 1271.1L337.0 1271.2L338.0 1271.3L339.0 1271.4L340.0 1271.5L341.0 1271.6L342.0 1271.8L343.0 1271.9L344.0 1272.0L345.0 1272.1L346.0 1272.2L347.0 1272.4L348.0 1272.5L349.0 1272.6L350.0 1272.8L351.0 1272.9L352.0 1273.0L353.0 1273.2L354.0 1273.3L355.0 1273.5L356.0 1273.6L357.0 1273.7L358.0 1273.9L359.0 1274.1L360.0 1274.2L361.0 1274.4L362.0 1274.5L363.0 1274.7L364.0 1274.9L365.0 1275.0L366.0 1275.2L367.0 1275.4L368.0 1275.6L369.0 1275.7L370.0 1275.9L371.0 1276.1L372.0 1276.3L373.0 1276.5L374.0 1276.7L375.0 1276.9L376.0 1277.1L377.0 1277.3L378.0 1277.5L379.0 1277.7L380.0 1277.9L381.0 1278.1L382.0 1278.3L383.0 1278.6L384.0 1278.8L385.0 1279.0L386.0 1279.2L387.0 1279.5L388.0 1279.7L389.0 1280.0L390.0 1280.2L391.0 1280.4L392.0 1280.7L393.0 1281.0L394.0 1281.2L395.0 1281.5L396.0 1281.7L397.0 1282.0L398.0 1282.3L399.0 1282.5L400.0 1282.8L401.0 1283.1L402.0 1283.4L403.0 1283.6L404.0 1283.9L405.0 1284.2L406.0 1284.5L407.0 1284.8L408.0 1285.1L409.0 1285.3L410.0 1285.6L411.0 1285.9L412.0 1286.2L413.0 1286.5L414.0 1286.8L415.0 1287.1L416.0 1287.4L417.0 1287.7L418.0 1288.0L419.0 1288.3L420.0 1288.6L421.0 1288.9L422.0 1289.2L423.0 1289.6L424.0 1289.9L425.0 1290.2L426.0 1290.5L427.0 1290.8L428.0 1291.1L429.0 1291.4L430.0 1291.7L431.0 1292.1L432.0 1292.4L433.0 1292.7L434.0 1293.0L435.0 1293.4L436.0 1293.7L437.0 1294.0L438.0 1294.4L439.0 1294.7L440.0 1295.1L441.0 1295.4L442.0 1295.8L443.0 1296.1L444.0 1296.5L445.0 1296.8L446.0 1297.2L447.0 1297.5L448.0 1297.9L449.0 1298.3L450.0 1298.6L451.0 1299.0L452.0 1299.3L453.0 1299.7L454.0 1300.1L455.0 1300.4L456.0 1300.8L457.0 1301.1L458.0 1301.5L459.0 1301.8L460.0 1302.2L461.0 1302.6L462.0 1302.9L463.0 1303.2L464.0 1303.6L465.0 1303.9L466.0 1304.3L467.0 1304.6L468.0 1305.0L469.0 1305.3L470.0 1305.6L471.0 1306.0L472.0 1306.3L473.0 1306.6L474.0 1307.0L475.0 1307.3L476.0 1307.6L477.0 1307.9L478.0 1308.3L479.0 1308.6L480.0 1308.9L481.0 1309.2L482.0 1309.6L483.0 1309.9L484.0 1310.2L485.0 1310.5L486.0 1310.9L487.0 1311.2L488.0 1311.5L489.0 1311.8L490.0 1312.1L491.0 1312.4L492.0 1312.7L493.0 1313.0L494.0 1313.4L495.0 1313.7L496.0 1314.0L497.0 1314.2L498.0 1314.5L499.0 1314.8L500.0 1315.1L501.0 1315.4L502.0 1315.7L503.0 1315.9L504.0 1316.2L505.0 1316.5L506.0 1316.7L507.0 1317.0L508.0 1317.2L509.0 1317.5L510.0 1317.7L511.0 1317.9L512.0 1318.2L513.0 1318.4L514.0 1318.6L515.0 1318.8L516.0 1319.0L517.0 1319.2L518.0 1319.4L519.0 1319.6L520.0 1319.7L521.0 1319.9L522.0 1320.0L523.0 1320.2L524.0 1320.3L525.0 1320.5L526.0 1320.6L527.0 1320.7L528.0 1320.8L529.0 1320.9L530.0 1321.0L531.0 1321.0L532.0 1321.1L533.0 1321.2L534.0 1321.2L535.0 1321.3L536.0 1321.3L537.0 1321.3L538.0 1321.3L539.0 1321.3L540.0 1321.3L541.0 1321.3L542.0 1321.3L543.0 1321.2L544.0 1321.2L545.0 1321.1L546.0 1321.1L547.0 1321.0L548.0 1320.9L549.0 1320.8L550.0 1320.7L551.0 1320.5L552.0 1320.4L553.0 1320.3L554.0 1320.1L555.0 1319.9L556.0 1319.8L557.0 1319.6L558.0 1319.4L559.0 1319.2L560.0 1319.0L561.0 1318.7L562.0 1318.5L563.0 1318.2L564.0 1318.0L565.0 1317.7L566.0 1317.4L567.0 1317.2L568.0 1316.9L569.0 1316.5L570.0 1316.2L571.0 1315.9L572.0 1315.6L573.0 1315.2L574.0 1314.8L575.0 1314.5L576.0 1314.1L577.0 1313.7L578.0 1313.3L579.0 1312.9L580.0 1312.5L581.0 1312.0L582.0 1311.6L583.0 1311.1L584.0 1310.7L585.0 1310.2L586.0 1309.7L587.0 1309.2L588.0 1308.7L589.0 1308.2L590.0 1307.7L591.0 1307.1L592.0 1306.6L593.0 1306.0L594.0 1305.5L595.0 1304.9L596.0 1304.3L597.0 1303.7L598.0 1303.1L599.0 1302.5L600.0 1301.8L601.0 1301.2L602.0 1300.6L603.0 1299.9L604.0 1299.2L605.0 1298.6L606.0 1297.9L607.0 1297.2L608.0 1296.5L609.0 1295.7L610.0 1295.0L611.0 1294.3L612.0 1293.6L613.0 1292.8L614.0 1292.1L615.0 1291.3L616.0 1290.5L617.0 1289.7L618.0 1289.0L619.0 1288.2L620.0 1287.4L621.0 1286.6L622.0 1285.7L623.0 1284.9L624.0 1284.1L625.0 1283.3L626.0 1282.4L627.0 1281.5L628.0 1280.7L629.0 1279.8L630.0 1278.9L631.0 1278.0L632.0 1277.1L633.0 1276.2L634.0 1275.2L635.0 1274.3L636.0 1273.3L637.0 1272.4L638.0 1271.4L639.0 1270.4L640.0 1269.4L641.0 1268.4L642.0 1267.3L643.0 1266.3L644.0 1265.2L645.0 1264.1L646.0 1263.0L647.0 1261.9L648.0 1260.8L649.0 1259.6L650.0 1258.4L651.0 1257.2L652.0 1256.0L653.0 1254.8L654.0 1253.6L655.0 1252.3L656.0 1251.0L657.0 1249.7L658.0 1248.4L659.0 1247.1L660.0 1245.8L661.0 1244.5L662.0 1243.1L663.0 1241.7L664.0 1240.4L665.0 1239.0L666.0 1237.6L667.0 1236.2L668.0 1234.8L669.0 1233.4L670.0 1232.0L671.0 1230.6L672.0 1229.2L673.0 1227.8L674.0 1226.4L675.0 1225.0L676.0 1223.6L677.0 1222.2L678.0 1220.8L679.0 1219.5L680.0 1218.1L681.0 1216.7L682.0 1215.4L683.0 1214.1L684.0 1212.7L685.0 1211.4L686.0 1210.1L687.0 1208.9L688.0 1207.6L689.0 1206.3L690.0 1205.1L691.0 1203.9L692.0 1202.6L693.0 1201.4L694.0 1200.2L695.0 1199.0L696.0 1197.8L697.0 1196.6L698.0 1195.5L699.0 1194.3L700.0 1193.1L701.0 1192.0L702.0 1190.8L703.0 1189.7L704.0 1188.5L705.0 1187.4L706.0 1186.2L707.0 1185.1L708.0 1184.0L709.0 1182.8L710.0 1181.7L711.0 1180.5L712.0 1179.4L713.0 1178.3L714.0 1177.1L715.0 1176.0L716.0 1174.9L717.0 1173.7L718.0 1172.6L719.0 1171.4L720.0 1170.3L721.0 1169.1L722.0 1168.0L723.0 1166.8L724.0 1165.7L725.0 1164.5L726.0 1163.3L727.0 1162.1L728.0 1161.0L729.0 1159.8L730.0 1158.6L731.0 1157.3L732.0 1156.1L733.0 1154.9L734.0 1153.6L735.0 1152.4L736.0 1151.1L737.0 1149.8L738.0 1148.5L739.0 1147.2L740.0 1145.9L741.0 1144.6L742.0 1143.2L743.0 1141.8L744.0 1140.4L745.0 1139.0L746.0 1137.6L747.0 1136.2L748.0 1134.8L749.0 1133.3L750.0 1131.9L751.0 1130.4L752.0 1128.9L753.0 1127.5L754.0 1126.0L755.0 1124.6L756.0 1123.1L757.0 1121.6L758.0 1120.2L759.0 1118.8L760.0 1117.3L761.0 1115.9L762.0 1114.5L763.0 1113.1L764.0 1111.7L765.0 1110.3L766.0 1109.0L767.0 1107.6L768.0 1106.3L769.0 1104.9L770.0 1103.6L771.0 1102.3L772.0 1101.0L773.0 1099.7L774.0 1098.5L775.0 1097.2L776.0 1095.9L777.0 1094.7L778.0 1093.5L779.0 1092.3L780.0 1091.1L781.0 1089.9L782.0 1088.7L783.0 1087.5L784.0 1086.4L785.0 1085.2L786.0 1084.1L787.0 1082.9L788.0 1081.8L789.0 1080.7L790.0 1079.6L791.0 1078.5L792.0 1077.5L793.0 1076.4L794.0 1075.4L795.0 1074.3L796.0 1073.3L797.0 1072.3L798.0 1071.3L799.0 1070.3L800.0 1069.3L801.0 1068.3L802.0 1067.3L803.0 1066.4L804.0 1065.4L805.0 1064.5L806.0 1063.6L807.0 1062.7L808.0 1061.8L809.0 1060.9L810.0 1060.0L811.0 1059.1L812.0 1058.2L813.0 1057.4L814.0 1056.6L815.0 1055.7L816.0 1054.9L817.0 1054.1L818.0 1053.3L819.0 1052.5L820.0 1051.7L821.0 1051.0L822.0 1050.2L823.0 1049.5L824.0 1048.8L825.0 1048.0L826.0 1047.3L827.0 1046.6L828.0 1046.0L829.0 1045.3L830.0 1044.6L831.0 1044.0L832.0 1043.3L833.0 1042.7L834.0 1042.1L835.0 1041.5L836.0 1040.9L837.0 1040.3L838.0 1039.7L839.0 1039.1L840.0 1038.6L841.0 1038.0L842.0 1037.5L843.0 1037.0L844.0 1036.5L845.0 1036.0L846.0 1035.5L847.0 1035.0L848.0 1034.5L849.0 1034.0L850.0 1033.6L851.0 1033.2L852.0 1032.7L853.0 1032.3L854.0 1031.9L855.0 1031.5L856.0 1031.1L857.0 1030.7L858.0 1030.4L859.0 1030.0L860.0 1029.7L861.0 1029.4L862.0 1029.0L863.0 1028.7L864.0 1028.4L865.0 1028.1L866.0 1027.9L867.0 1027.6L868.0 1027.4L869.0 1027.1L870.0 1026.9L871.0 1026.7L872.0 1026.5L873.0 1026.3L874.0 1026.1L875.0 1026.0L876.0 1025.8L877.0 1025.7L878.0 1025.5L879.0 1025.4L880.0 1025.3L881.0 1025.2L882.0 1025.2L883.0 1025.1L884.0 1025.1L885.0 1025.1L886.0 1025.0L887.0 1025.0L888.0 1025.1L889.0 1025.1L890.0 1025.1L891.0 1025.2L892.0 1025.3L893.0 1025.4L894.0 1025.5L895.0 1025.6L896.0 1025.8L897.0 1025.9L898.0 1026.1L899.0 1026.3L900.0 1026.5L901.0 1026.7L902.0 1026.9L903.0 1027.2L904.0 1027.4L905.0 1027.7L906.0 1028.0L907.0 1028.3L908.0 1028.6L909.0 1028.9L910.0 1029.3L911.0 1029.6L912.0 1030.0L913.0 1030.4L914.0 1030.8L915.0 1031.2L916.0 1031.7L917.0 1032.1L918.0 1032.6L919.0 1033.1L920.0 1033.6L921.0 1034.1L922.0 1034.6L923.0 1035.1L924.0 1035.7L925.0 1036.3L926.0 1036.9L927.0 1037.5L928.0 1038.1L929.0 1038.7L930.0 1039.4L931.0 1040.0L932.0 1040.7L933.0 1041.4L934.0 1042.1L935.0 1042.8L936.0 1043.5L937.0 1044.3L938.0 1045.1L939.0 1045.8L940.0 1046.6L941.0 1047.4L942.0 1048.3L943.0 1049.1L944.0 1049.9L945.0 1050.8L946.0 1051.7L947.0 1052.5L948.0 1053.4L949.0 1054.4L950.0 1055.3L951.0 1056.2L952.0 1057.1L953.0 1058.1L954.0 1059.1L955.0 1060.0L956.0 1061.0L957.0 1062.0L958.0 1063.0L959.0 1064.0L960.0 1065.0L961.0 1066.1L962.0 1067.1L963.0 1068.2L964.0 1069.2L965.0 1070.3L966.0 1071.4L967.0 1072.5L968.0 1073.6L969.0 1074.7L970.0 1075.8L971.0 1077.0L972.0 1078.1L973.0 1079.2L974.0 1080.4L975.0 1081.6L976.0 1082.7L977.0 1083.9L978.0 1085.1L979.0 1086.3L980.0 1087.5L981.0 1088.7L982.0 1089.9L983.0 1091.2L984.0 1092.4L985.0 1093.6L986.0 1094.9L987.0 1096.1L988.0 1097.4L989.0 1098.6L990.0 1099.9L991.0 1101.1L992.0 1102.4L993.0 1103.7L994.0 1105.0L995.0 1106.3L996.0 1107.6L997.0 1108.9L998.0 1110.2L999.0 1111.5L1000.0 1112.8L1001.0 1114.1L1002.0 1115.5L1003.0 1116.8L1004.0 1118.2L1005.0 1119.6L1006.0 1120.9L1007.0 1122.3L1008.0 1123.8L1009.0 1125.2L1010.0 1126.6L1011.0 1128.1L1012.0 1129.6L1013.0 1131.1L1014.0 1132.6L1015.0 1134.2L1016.0 1135.7L1017.0 1137.3L1018.0 1138.9L1019.0 1140.5L1020.0 1142.2L1021.0 1143.8L1022.0 1145.5L1023.0 1147.2L1024.0 1149.0L1025.0 1150.7L1026.0 1152.5L1027.0 1154.3L1028.0 1156.1L1029.0 1158.0L1030.0 1159.8L1031.0 1161.7L1032.0 1163.7L1033.0 1165.6L1034.0 1167.6L1035.0 1169.6L1036.0 1171.6L1037.0 1173.6L1038.0 1175.7L1039.0 1177.8L1040.0 1179.9L1041.0 1182.1L1042.0 1184.2L1043.0 1186.4L1044.0 1188.6L1045.0 1190.8L1046.0 1193.0L1047.0 1195.3L1048.0 1197.5L1049.0 1199.8L1050.0 1202.1L1051.0 1204.3L1052.0 1206.6L1053.0 1208.9L1054.0 1211.1L1055.0 1213.4L1056.0 1215.7L1057.0 1217.9L1058.0 1220.1L1059.0 1222.3L1060.0 1224.5L1061.0 1226.7L1062.0 1228.9L1063.0 1231.1L1064.0 1233.2L1065.0 1235.3L1066.0 1237.5L1067.0 1239.6L1068.0 1241.7L1069.0 1243.8L1070.0 1245.8L1071.0 1247.9L1072.0 1249.9L1073.0 1252.0L1074.0 1254.0L1075.0 1256.0L1076.0 1258.0L1077.0 1260.0L1078.0 1261.9L1079.0 1263.9L1080.0 1265.8L1081.0 1267.7L1082.0 1269.6L1083.0 1271.4L1084.0 1273.3L1085.0 1275.1L1086.0 1276.9L1087.0 1278.7L1088.0 1280.4L1089.0 1282.2L1090.0 1283.9L1091.0 1285.6L1092.0 1287.2L1093.0 1288.9L1094.0 1290.5L1095.0 1292.2L1096.0 1293.8L1097.0 1295.3L1098.0 1296.9L1099.0 1298.5L1100.0 1300.0L1101.0 1301.6L1102.0 1303.1L1103.0 1304.6L1104.0 1306.2L1105.0 1307.7L1106.0 1309.2L1107.0 1310.7L1108.0 1312.2L1109.0 1313.7L1110.0 1315.2L1111.0 1316.7L1112.0 1318.2L1113.0 1319.7L1114.0 1321.2L1115.0 1322.6L1116.0 1324.1L1117.0 1325.6L1118.0 1327.1L1119.0 1328.6L1120.0 1330.1L1121.0 1331.5L1122.0 1333.0L1123.0 1334.5L1124.0 1336.0L1125.0 1337.5L1126.0 1339.0L1127.0 1340.4L1128.0 1341.9L1129.0 1343.4L1130.0 1344.8L1131.0 1346.2L1132.0 1347.7L1133.0 1349.1L1134.0 1350.5L1135.0 1351.9L1136.0 1353.2L1137.0 1354.6L1138.0 1355.9L1139.0 1357.2L1140.0 1358.5L1141.0 1359.8L1142.0 1361.1L1143.0 1362.3L1144.0 1363.5L1145.0 1364.7L1146.0 1365.8L1147.0 1367.0L1148.0 1368.1L1149.0 1369.2L1150.0 1370.2L1151.0 1371.3L1152.0 1372.3L1153.0 1373.3L1154.0 1374.3L1155.0 1375.2L1156.0 1376.1L1157.0 1377.0L1158.0 1377.9L1159.0 1378.8L1160.0 1379.6L1161.0 1380.4L1162.0 1381.2L1163.0 1382.0L1164.0 1382.7L1165.0 1383.4L1166.0 1384.2L1167.0 1384.8L1168.0 1385.5L1169.0 1386.2L1170.0 1386.8L1171.0 1387.5L1172.0 1388.1L1173.0 1388.7L1174.0 1389.3L1175.0 1389.9L1176.0 1390.4L1177.0 1391.0L1178.0 1391.6L1179.0 1392.1L1180.0 1392.6L1181.0 1393.2L1182.0 1393.7L1183.0 1394.2L1184.0 1394.7L1185.0 1395.2L1186.0 1395.7L1187.0 1396.2L1188.0 1396.6L1189.0 1397.1L1190.0 1397.6L1191.0 1398.0L1192.0 1398.5L1193.0 1398.9L1194.0 1399.4L1195.0 1399.8L1196.0 1400.2L1197.0 1400.6L1198.0 1401.0L1199.0 1401.4L1200.0 1401.8L1201.0 1402.2L1202.0 1402.6L1203.0 1403.0L1204.0 1403.4L1205.0 1403.8L1206.0 1404.1L1207.0 1404.5L1208.0 1404.8L1209.0 1405.2L1210.0 1405.5L1211.0 1405.9L1212.0 1406.2L1213.0 1406.5L1214.0 1406.8L1215.0 1407.2L1216.0 1407.5L1217.0 1407.8L1218.0 1408.1L1219.0 1408.4L1220.0 1408.7L1221.0 1408.9L1222.0 1409.2L1223.0 1409.5L1224.0 1409.8L1225.0 1410.0L1226.0 1410.3L1227.0 1410.6L1228.0 1410.8L1229.0 1411.1L1230.0 1411.3L1231.0 1411.6L1232.0 1411.8L1233.0 1412.0L1234.0 1412.3L1235.0 1412.5L1236.0 1412.7L1237.0 1412.9L1238.0 1413.2L1239.0 1413.4L1240.0 1413.6L1241.0 1413.8L1242.0 1414.0L1243.0 1414.2L1244.0 1414.4L1245.0 1414.6L1246.0 1414.8L1247.0 1415.0L1248.0 1415.1L1249.0 1415.3L1250.0 1415.5L1251.0 1415.7L1252.0 1415.8L1253.0 1416.0L1254.0 1416.2L1255.0 1416.3L1256.0 1416.5L1257.0 1416.6L1258.0 1416.8L1259.0 1416.9L1260.0 1417.1L1261.0 1417.2L1262.0 1417.3L1263.0 1417.5L1264.0 1417.6L1265.0 1417.7L1266.0 1417.9L1267.0 1418.0L1268.0 1418.1L1269.0 1418.2L1270.0 1418.3L1271.0 1418.4L1272.0 1418.5L1273.0 1418.7L1274.0 1418.8L1275.0 1418.9L1276.0 1419.0L1277.0 1419.1L1278.0 1419.1L1279.0 1419.2L1280.0 1419.3L1281.0 1419.4L1282.0 1419.5L1283.0 1419.6L1284.0 1419.7L1285.0 1419.7L1286.0 1419.8L1287.0 1419.9L1288.0 1420.0L1289.0 1420.0L1290.0 1420.1L1291.0 1420.2L1292.0 1420.2L1293.0 1420.3L1294.0 1420.4L1295.0 1420.4L1296.0 1420.5L1297.0 1420.5L1298.0 1420.6L1299.0 1420.7L1300.0 1420.7L1301.0 1420.8L1302.0 1420.8L1303.0 1420.9L1304.0 1420.9L1305.0 1421.0L1306.0 1421.0L1307.0 1421.1L1308.0 1421.1L1309.0 1421.1L1310.0 1421.2L1311.0 1421.2L1312.0 1421.3L1313.0 1421.3L1314.0 1421.4L1315.0 1421.4L1316.0 1421.4L1317.0 1421.5L1318.0 1421.5L1319.0 1421.5L1320.0 1421.6L1321.0 1421.6L1322.0 1421.6L1323.0 1421.7L1324.0 1421.7L1325.0 1421.7L1326.0 1421.8L1327.0 1421.8L1328.0 1421.8L1329.0 1421.9L1330.0 1421.9L1331.0 1421.9L1332.0 1421.9L1333.0 1422.0L1334.0 1422.0L1335.0 1422.0L1336.0 1422.0L1337.0 1422.1L1338.0 1422.1L1339.0 1422.1L1340.0 1422.1L1341.0 1422.2L1342.0 1422.2L1343.0 1422.2L1344.0 1422.2L1345.0 1422.2L1346.0 1422.3L1347.0 1422.3L1348.0 1422.3L1349.0 1422.3L1350.0 1422.3L1351.0 1422.4L1352.0 1422.4L1353.0 1422.4L1354.0 1422.4L1355.0 1422.4L1356.0 1422.4L1357.0 1422.5L1358.0 1422.5L1359.0 1422.5L1360.0 1422.5L1361.0 1422.5L1362.0 1422.5L1363.0 1422.5L1364.0 1422.6L1365.0 1422.6L1366.0 1422.6L1367.0 1422.6L1368.0 1422.6L1369.0 1422.6L1370.0 1422.6L1371.0 1422.7L1372.0 1422.7L1373.0 1422.7L1374.0 1422.7L1375.0 1422.7L1376.0 1422.7L1377.0 1422.7L1378.0 1422.7L1379.0 1422.7L1380.0 1422.8L1381.0 1422.8L1382.0 1422.8L1383.0 1422.8L1384.0 1422.8L1385.0 1422.8L1386.0 1422.8L1387.0 1422.8L1388.0 1422.8L1389.0 1422.8L1390.0 1422.9L1391.0 1422.9L1392.0 1422.9L1393.0 1422.9L1394.0 1422.9L1395.0 1422.9L1396.0 1422.9L1397.0 1422.9L1398.0 1422.9L1399.0 1422.9L1400.0 1422.9L1401.0 1423.0L1402.0 1423.0L1403.0 1423.0L1404.0 1423.0L1405.0 1423.0L1406.0 1423.0L1407.0 1423.0L1408.0 1423.0L1409.0 1423.0L1410.0 1423.0L1411.0 1423.0L1412.0 1423.0L1413.0 1423.1L1414.0 1423.1L1415.0 1423.1L1416.0 1423.1L1417.0 1423.1L1418.0 1423.1L1419.0 1423.1L1420.0 1423.1L1421.0 1423.1L1422.0 1423.1L1423.0 1423.1L1424.0 1423.1L1425.0 1423.1L1426.0 1423.2L1427.0 1423.2L1428.0 1423.2L1429.0 1423.2L1430.0 1423.2L1431.0 1423.2L1432.0 1423.2L1433.0 1423.2L1434.0 1423.2L1435.0 1423.2L1436.0 1423.2L1437.0 1423.2L1438.0 1423.2L1439.0 1423.2L1440.0 1423.3L1441.0 1423.3L1442.0 1423.3L1443.0 1423.3L1444.0 1423.3L1445.0 1423.3L1446.0 1423.3L1447.0 1423.3L1448.0 1423.3L1449.0 1423.3L1450.0 1423.3L1451.0 1423.3L1452.0 1423.3L1453.0 1423.3L1454.0 1423.4L1455.0 1423.4L1456.0 1423.4L1457.0 1423.4L1458.0 1423.4L1459.0 1423.4L1460.0 1423.4L1461.0 1423.4L1462.0 1423.4L1463.0 1423.4L1464.0 1423.4L1465.0 1423.4L1466.0 1423.4L1467.0 1423.4L1468.0 1423.4L1469.0 1423.4L1470.0 1423.4L1471.0 1423.5L1472.0 1423.5L1473.0 1423.5L1474.0 1423.5L1475.0 1423.5L1476.0 1423.5L1477.0 1423.5L1478.0 1423.5L1479.0 1423.5L1480.0 1423.5L1481.0 1423.5L1482.0 1423.5L1483.0 1423.5L1484.0 1423.5L1485.0 1423.5L1486.0 1423.5L1487.0 1423.5L1488.0 1423.6L1489.0 1423.6L1490.0 1423.6L1491.0 1423.6L1492.0 1423.6L1493.0 1423.6L1494.0 1423.6L1495.0 1423.6L1496.0 1423.6L1497.0 1423.6L1498.0 1423.6L1499.0 1423.6L1500.0 1423.6L1501.0 1423.6L1502.0 1423.6L1503.0 1423.6L1504.0 1423.6L1505.0 1423.6L1506.0 1423.6L1507.0 1423.6L1508.0 1423.6L1509.0 1423.7L1510.0 1423.7L1511.0 1423.7L1512.0 1423.7L1513.0 1423.7L1514.0 1423.7L1515.0 1423.7L1516.0 1423.7L1517.0 1423.7L1518.0 1423.7L1519.0 1423.7L1520.0 1423.7L1521.0 1423.7L1522.0 1423.7L1523.0 1423.7L1524.0 1423.7L1525.0 1423.7L1526.0 1423.7L1527.0 1423.7L1528.0 1423.7L1529.0 1423.7L1530.0 1423.7L1531.0 1423.7L1532.0 1423.8L1533.0 1423.8L1534.0 1423.8L1535.0 1423.8L1536.0 1423.8L1537.0 1423.8L1538.0 1423.8L1539.0 1423.8L1540.0 1423.8L1541.0 1423.8L1542.0 1423.8L1543.0 1423.8L1544.0 1423.8L1545.0 1423.8L1546.0 1423.8L1547.0 1423.8L1548.0 1423.8L1549.0 1423.8L1550.0 1423.8L1551.0 1423.8L1552.0 1423.8L1553.0 1423.8L1554.0 1423.8L1555.0 1423.8L1556.0 1423.8L1557.0 1423.8L1558.0 1423.8L1559.0 1423.8L1560.0 1423.8L1561.0 1423.9L1562.0 1423.9L1563.0 1423.9L1564.0 1423.9L1565.0 1423.9L1566.0 1423.9L1567.0 1423.9L1568.0 1423.9L1569.0 1423.9L1570.0 1423.9L1571.0 1423.9L1572.0 1423.9L1573.0 1423.9L1574.0 1423.9L1575.0 1423.9L1576.0 1423.9L1577.0 1423.9L1578.0 1423.9L1579.0 1423.9L1580.0 1423.9L1581.0 1423.9L1582.0 1423.9L1583.0 1423.9L1584.0 1423.9L1585.0 1423.9L1586.0 1423.9L1587.0 1423.9L1588.0 1423.9L1589.0 1423.9L1590.0 1423.9L1591.0 1423.9L1592.0 1423.9L1593.0 1423.9L1594.0 1423.9L1595.0 1423.9L1596.0 1423.9L1597.0 1423.9L1598.0 1423.9L1599.0 1423.9L1600.0 1423.9L1601.0 1424.0L1602.0 1424.0L1603.0 1424.0L1604.0 1424.0L1605.0 1424.0L1606.0 1424.0L1607.0 1424.0L1608.0 1424.0L1609.0 1424.0L1610.0 1424.0L1611.0 1424.0L1612.0 1424.0L1613.0 1424.0L1614.0 1424.0L1615.0 1424.0L1616.0 1424.0L1617.0 1424.0L1618.0 1424.0L1619.0 1424.0L1620.0 1424.0L1621.0 1424.0L1622.0 1424.0L1623.0 1424.0L1624.0 1424.0L1625.0 1424.0L1626.0 1424.0L1627.0 1424.0L1628.0 1424.0L1629.0 1424.0L1630.0 1424.0L1631.0 1424.0L1632.0 1424.0L1633.0 1424.0L1634.0 1424.0L1635.0 1424.0L1636.0 1424.0L1637.0 1424.0L1638.0 1424.0L1639.0 1424.0L1640.0 1424.0L1641.0 1424.0L1642.0 1424.0L1643.0 1424.0L1644.0 1424.0L1645.0 1424.0L1646.0 1424.0L1647.0 1424.0L1648.0 1424.0L1649.0 1424.0L1650.0 1424.0L1651.0 1424.0L1652.0 1424.0L1653.0 1424.0L1654.0 1424.0L1655.0 1424.0L1656.0 1424.0L1657.0 1424.0L1658.0 1424.0L1659.0 1424.0L1660.0 1424.0L1661.0 1424.0L1662.0 1424.0L1663.0 1424.0L1664.0 1424.0L1665.0 1424.0L1666.0 1424.0L1667.0 1424.0L1668.0 1424.0L1669.0 1424.0L1670.0 1424.0L1671.0 1424.0L1672.0 1424.0L1673.0 1424.0L1674.0 1424.0L1675.0 1424.0L1676.0 1424.0L1677.0 1424.0L1678.0 1424.0L1679.0 1424.0L1680.0 1424.0L1681.0 1424.0L1682.0 1424.0L1683.0 1424.0L1684.0 1424.0L1685.0 1424.0L1686.0 1424.0L1687.0 1424.0L1688.0 1424.0L1689.0 1424.0L1690.0 1424.0L1691.0 1424.0L1692.0 1424.0L1693.0 1424.0L1694.0 1424.0L1695.0 1424.0L1696.0 1424.0L1697.0 1424.0L1698.0 1424.0L1699.0 1424.0L1700.0 1424.0L1701.0 1424.0L1702.0 1424.0L1703.0 1424.0L1704.0 1424.0L1705.0 1424.0L1706.0 1424.0L1707.0 1424.0L1708.0 1424.0L1709.0 1424.0L1710.0 1424.0L1711.0 1424.0L1712.0 1424.0L1713.0 1424.0L1714.0 1424.0L1715.0 1424.0L1716.0 1424.0L1717.0 1424.0L1718.0 1424.0L1719.0 1424.0L1720.0 1424.0L1721.0 1424.0L1722.0 1424.0L1723.0 1424.0L1724.0 1424.0L1725.0 1424.0L1726.0 1424.0L1727.0 1424.0L1728.0 1424.0L1729.0 1424.0L1730.0 1424.0L1731.0 1424.0L1732.0 1424.0L1733.0 1424.0L1734.0 1424.0L1735.0 1424.0L1736.0 1424.0L1737.0 1424.0L1738.0 1424.0L1739.0 1424.0L1740.0 1424.0L1741.0 1424.0L1742.0 1424.0L1743.0 1424.0L1744.0 1424.0L1745.0 1424.0L1746.0 1424.0L1747.0 1424.0L1748.0 1424.0L1749.0 1424.0L1750.0 1424.0L1751.0 1424.0L1752.0 1424.0L1753.0 1424.0L1754.0 1424.0L1755.0 1424.0L1756.0 1424.0L1757.0 1424.0L1758.0 1424.0L1759.0 1424.0L1760.0 1424.0L1761.0 1424.0L1762.0 1424.0L1763.0 1424.0L1764.0 1424.0L1765.0 1424.0L1766.0 1424.0L1767.0 1424.0L1768.0 1424.0L1769.0 1424.0L1770.0 1424.0L1771.0 1424.0L1772.0 1424.0L1773.0 1424.0L1774.0 1424.0L1775.0 1424.0L1776.0 1424.0L1777.0 1424.0L1778.0 1424.0L1779.0 1424.0L1780.0 1424.0L1781.0 1424.0L1782.0 1424.0L1783.0 1424.0L1784.0 1424.0L1785.0 1424.0L1786.0 1424.0L1787.0 1424.0L1788.0 1424.0L1789.0 1424.0L1790.0 1424.0L1791.0 1424.0L1792.0 1424.0L1793.0 1424.0L1794.0 1424.0L1795.0 1424.0L1796.0 1424.0L1797.0 1424.0L1798.0 1424.0L1799.0 1424.0L1800.0 1424.0L1801.0 1424.0L1802.0 1424.0L1803.0 1423.9L1804.0 1423.9L1805.0 1423.9L1806.0 1423.9L1807.0 1423.9L1808.0 1423.9L1809.0 1423.9L1810.0 1423.9L1811.0 1423.9L1812.0 1423.9L1813.0 1423.9L1814.0 1423.9L1815.0 1423.9L1816.0 1423.9L1817.0 1423.9L1818.0 1423.9L1819.0 1423.9L1820.0 1423.9L1821.0 1423.9L1822.0 1423.9L1823.0 1423.9L1824.0 1423.9L1825.0 1423.9L1826.0 1423.9L1827.0 1423.9L1828.0 1423.9L1829.0 1423.9L1830.0 1423.9L1831.0 1423.9L1832.0 1423.9L1833.0 1423.9L1834.0 1423.9L1835.0 1423.9L1836.0 1423.9L1837.0 1423.9L1838.0 1423.9L1839.0 1423.9L1840.0 1423.9L1841.0 1423.9L1842.0 1423.9L1843.0 1423.9L1844.0 1423.9L1845.0 1423.9L1846.0 1423.9L1847.0 1423.9L1848.0 1423.9L1849.0 1423.9L1850.0 1423.9L1851.0 1423.9L1852.0 1423.9L1853.0 1423.9L1854.0 1423.9L1855.0 1423.9L1856.0 1423.9L1857.0 1423.9L1858.0 1423.9L1859.0 1423.9L1860.0 1423.9L1861.0 1423.9L1862.0 1423.9L1863.0 1423.9L1864.0 1423.9L1865.0 1423.8L1866.0 1423.8L1867.0 1423.8L1868.0 1423.8L1869.0 1423.8L1870.0 1423.8L1871.0 1423.8L1872.0 1423.8L1873.0 1423.8L1874.0 1423.8L1875.0 1423.8L1876.0 1423.8L1877.0 1423.8L1878.0 1423.8L1879.0 1423.8L1880.0 1423.8L1881.0 1423.8L1882.0 1423.8L1883.0 1423.8L1884.0 1423.8L1885.0 1423.8L1886.0 1423.8L1887.0 1423.8L1888.0 1423.8L1889.0 1423.8L1890.0 1423.8L1891.0 1423.8L1892.0 1423.8L1893.0 1423.8L1894.0 1423.8L1895.0 1423.8L1896.0 1423.8L1897.0 1423.8L1898.0 1423.8L1899.0 1423.8L1900.0 1423.8L1901.0 1423.8L1902.0 1423.8L1903.0 1423.8L1904.0 1423.8L1905.0 1423.8L1906.0 1423.8L1907.0 1423.8L1908.0 1423.8" stroke="#8F8F00"/>
<path d="M271.0 1270.8L272.0 1270.8L273.0 1270.8L274.0 1270.8L275.0 1270.9L276.0 1270.9L277.0 1270.9L278.0 1271.0L279.0 1271.0L280.0 1271.0L281.0 1271.1L282.0 1271.1L283.0 1271.1L284.0 1271.1L285.0 1271.2L286.0 1271.2L287.0 1271.2L288.0 1271.3L289.0 1271.3L290.0 1271.3L291.0 1271.4L292.0 1271.4L293.0 1271.4L294.0 1271.5L295.0 1271.5L296.0 1271.5L297.0 1271.6L298.0 1271.6L299.0 1271.6L300.0 1271.7L301.0 1271.7L302.0 1271.8L303.0 1271.8L304.0 1271.8L305.0 1271.9L306.0 1271.9L307.0 1272.0L308.0 1272.0L309.0 1272.0L310.0 1272.1L311.0 1272.1L312.0 1272.2L313.0 1272.2L314.0 1272.3L315.0 1272.3L316.0 1272.3L317.0 1272.4L318.0 1272.4L319.0 1272.5L320.0 1272.5L321.0 1272.6L322.0 1272.7L323.0 1272.7L324.0 1272.8L325.0 1272.8L326.0 1272.9L327.0 1272.9L328.0 1273.0L329.0 1273.1L330.0 1273.1L331.0 1273.2L332.0 1273.3L333.0 1273.3L334.0 1273.4L335.0 1273.5L336.0 1273.6L337.0 1273.6L338.0 1273.7L339.0 1273.8L340.0 1273.9L341.0 1274.0L342.0 1274.0L343.0 1274.1L344.0 1274.2L345.0 1274.3L346.0 1274.4L347.0 1274.5L348.0 1274.6L349.0 1274.7L350.0 1274.8L351.0 1274.9L352.0 1275.0L353.0 1275.1L354.0 1275.2L355.0 1275.3L356.0 1275.5L357.0 1275.6L358.0 1275.7L359.0 1275.8L360.0 1276.0L361.0 1276.1L362.0 1276.2L363.0 1276.3L364.0 1276.5L365.0 1276.6L366.0 1276.7L367.0 1276.9L368.0 1277.0L369.0 1277.2L370.0 1277.3L371.0 1277.5L372.0 1277.6L373.0 1277.8L374.0 1277.9L375.0 1278.1L376.0 1278.3L377.0 1278.4L378.0 1278.6L379.0 1278.8L380.0 1279.0L381.0 1279.1L382.0 1279.3L383.0 1279.5L384.0 1279.7L385.0 1279.9L386.0 1280.1L387.0 1280.3L388.0 1280.5L389.0 1280.7L390.0 1280.9L391.0 1281.1L392.0 1281.3L393.0 1281.5L394.0 1281.7L395.0 1282.0L396.0 1282.2L397.0 1282.4L398.0 1282.6L399.0 1282.9L400.0 1283.1L401.0 1283.3L402.0 1283.6L403.0 1283.8L404.0 1284.1L405.0 1284.3L406.0 1284.5L407.0 1284.8L408.0 1285.0L409.0 1285.3L410.0 1285.5L411.0 1285.8L412.0 1286.1L413.0 1286.3L414.0 1286.6L415.0 1286.8L416.0 1287.1L417.0 1287.3L418.0 1287.6L419.0 1287.9L420.0 1288.1L421.0 1288.4L422.0 1288.6L423.0 1288.9L424.0 1289.2L425.0 1289.4L426.0 1289.7L427.0 1290.0L428.0 1290.2L429.0 1290.5L430.0 1290.8L431.0 1291.1L432.0 1291.3L433.0 1291.6L434.0 1291.9L435.0 1292.2L436.0 1292.5L437.0 1292.8L438.0 1293.1L439.0 1293.4L440.0 1293.7L441.0 1294.0L442.0 1294.3L443.0 1294.6L444.0 1295.0L445.0 1295.3L446.0 1295.6L447.0 1295.9L448.0 1296.3L449.0 1296.6L450.0 1297.0L451.0 1297.3L452.0 1297.6L453.0 1298.0L454.0 1298.3L455.0 1298.6L456.0 1299.0L457.0 1299.3L458.0 1299.7L459.0 1300.0L460.0 1300.3L461.0 1300.7L462.0 1301.0L463.0 1301.3L464.0 1301.7L465.0 1302.0L466.0 1302.3L467.0 1302.6L468.0 1303.0L469.0 1303.3L470.0 1303.6L471.0 1303.9L472.0 1304.3L473.0 1304.6L474.0 1304.9L475.0 1305.2L476.0 1305.6L477.0 1305.9L478.0 1306.2L479.0 1306.5L480.0 1306.9L481.0 1307.2L482.0 1307.5L483.0 1307.8L484.0 1308.2L485.0 1308.5L486.0 1308.8L487.0 1309.1L488.0 1309.5L489.0 1309.8L490.0 1310.1L491.0 1310.4L492.0 1310.7L493.0 1311.1L494.0 1311.4L495.0 1311.7L496.0 1312.0L497.0 1312.3L498.0 1312.6L499.0 1312.9L500.0 1313.2L501.0 1313.5L502.0 1313.8L503.0 1314.1L504.0 1314.4L505.0 1314.6L506.0 1314.9L507.0 1315.2L508.0 1315.4L509.0 1315.7L510.0 1316.0L511.0 1316.2L512.0 1316.4L513.0 1316.7L514.0 1316.9L515.0 1317.1L516.0 1317.3L517.0 1317.5L518.0 1317.7L519.0 1317.9L520.0 1318.1L521.0 1318.3L522.0 1318.4L523.0 1318.6L524.0 1318.7L525.0 1318.9L526.0 1319.0L527.0 1319.1L528.0 1319.2L529.0 1319.3L530.0 1319.4L531.0 1319.5L532.0 1319.6L533.0 1319.7L534.0 1319.7L535.0 1319.8L536.0 1319.8L537.0 1319.8L538.0 1319.9L539.0 1319.9L540.0 1319.9L541.0 1319.8L542.0 1319.8L543.0 1319.8L544.0 1319.7L545.0 1319.7L546.0 1319.6L547.0 1319.5L548.0 1319.5L549.0 1319.4L550.0 1319.2L551.0 1319.1L552.0 1319.0L553.0 1318.9L554.0 1318.7L555.0 1318.5L556.0 1318.4L557.0 1318.2L558.0 1318.0L559.0 1317.8L560.0 1317.6L561.0 1317.4L562.0 1317.1L563.0 1316.9L564.0 1316.6L565.0 1316.4L566.0 1316.1L567.0 1315.8L568.0 1315.5L569.0 1315.2L570.0 1314.9L571.0 1314.6L572.0 1314.2L573.0 1313.9L574.0 1313.5L575.0 1313.2L576.0 1312.8L577.0 1312.4L578.0 1312.0L579.0 1311.6L580.0 1311.2L581.0 1310.7L582.0 1310.3L583.0 1309.8L584.0 1309.4L585.0 1308.9L586.0 1308.4L587.0 1307.9L588.0 1307.4L589.0 1306.9L590.0 1306.4L591.0 1305.8L592.0 1305.3L593.0 1304.7L594.0 1304.1L595.0 1303.5L596.0 1302.9L597.0 1302.3L598.0 1301.7L599.0 1301.0L600.0 1300.4L601.0 1299.7L602.0 1299.0L603.0 1298.3L604.0 1297.6L605.0 1296.9L606.0 1296.2L607.0 1295.4L608.0 1294.7L609.0 1293.9L610.0 1293.2L611.0 1292.4L612.0 1291.6L613.0 1290.8L614.0 1290.0L615.0 1289.2L616.0 1288.4L617.0 1287.5L618.0 1286.7L619.0 1285.8L620.0 1285.0L621.0 1284.1L622.0 1283.3L623.0 1282.4L624.0 1281.5L625.0 1280.6L626.0 1279.7L627.0 1278.8L628.0 1277.8L629.0 1276.9L630.0 1275.9L631.0 1275.0L632.0 1274.0L633.0 1273.0L634.0 1272.0L635.0 1271.0L636.0 1270.0L637.0 1269.0L638.0 1267.9L639.0 1266.8L640.0 1265.8L641.0 1264.7L642.0 1263.5L643.0 1262.4L644.0 1261.3L645.0 1260.1L646.0 1258.9L647.0 1257.7L648.0 1256.5L649.0 1255.2L650.0 1254.0L651.0 1252.7L652.0 1251.4L653.0 1250.0L654.0 1248.7L655.0 1247.3L656.0 1245.9L657.0 1244.5L658.0 1243.1L659.0 1241.7L660.0 1240.2L661.0 1238.7L662.0 1237.2L663.0 1235.8L664.0 1234.3L665.0 1232.7L666.0 1231.2L667.0 1229.7L668.0 1228.1L669.0 1226.6L670.0 1225.1L671.0 1223.5L672.0 1222.0L673.0 1220.4L674.0 1218.9L675.0 1217.4L676.0 1215.8L677.0 1214.3L678.0 1212.8L679.0 1211.3L680.0 1209.8L681.0 1208.4L682.0 1206.9L683.0 1205.5L684.0 1204.0L685.0 1202.6L686.0 1201.2L687.0 1199.8L688.0 1198.5L689.0 1197.1L690.0 1195.8L691.0 1194.5L692.0 1193.2L693.0 1191.9L694.0 1190.6L695.0 1189.4L696.0 1188.1L697.0 1186.9L698.0 1185.7L699.0 1184.4L700.0 1183.2L701.0 1182.0L702.0 1180.8L703.0 1179.6L704.0 1178.4L705.0 1177.2L706.0 1176.0L707.0 1174.8L708.0 1173.7L709.0 1172.5L710.0 1171.3L711.0 1170.1L712.0 1168.9L713.0 1167.8L714.0 1166.6L715.0 1165.4L716.0 1164.2L717.0 1163.1L718.0 1161.9L719.0 1160.7L720.0 1159.5L721.0 1158.3L722.0 1157.1L723.0 1155.9L724.0 1154.7L725.0 1153.5L726.0 1152.2L727.0 1151.0L728.0 1149.7L729.0 1148.5L730.0 1147.2L731.0 1145.9L732.0 1144.7L733.0 1143.3L734.0 1142.0L735.0 1140.7L736.0 1139.3L737.0 1138.0L738.0 1136.6L739.0 1135.2L740.0 1133.8L741.0 1132.3L742.0 1130.8L743.0 1129.3L744.0 1127.8L745.0 1126.3L746.0 1124.8L747.0 1123.2L748.0 1121.6L749.0 1120.0L750.0 1118.4L751.0 1116.8L752.0 1115.2L753.0 1113.6L754.0 1112.0L755.0 1110.3L756.0 1108.7L757.0 1107.1L758.0 1105.5L759.0 1103.9L760.0 1102.3L761.0 1100.8L762.0 1099.2L763.0 1097.7L764.0 1096.1L765.0 1094.6L766.0 1093.1L767.0 1091.6L768.0 1090.1L769.0 1088.7L770.0 1087.2L771.0 1085.8L772.0 1084.4L773.0 1083.0L774.0 1081.6L775.0 1080.2L776.0 1078.9L777.0 1077.5L778.0 1076.2L779.0 1074.9L780.0 1073.6L781.0 1072.3L782.0 1071.0L783.0 1069.8L784.0 1068.5L785.0 1067.3L786.0 1066.1L787.0 1064.9L788.0 1063.7L789.0 1062.5L790.0 1061.3L791.0 1060.2L792.0 1059.1L793.0 1057.9L794.0 1056.8L795.0 1055.7L796.0 1054.6L797.0 1053.6L798.0 1052.5L799.0 1051.5L800.0 1050.4L801.0 1049.4L802.0 1048.4L803.0 1047.4L804.0 1046.5L805.0 1045.5L806.0 1044.5L807.0 1043.6L808.0 1042.7L809.0 1041.7L810.0 1040.8L811.0 1040.0L812.0 1039.1L813.0 1038.2L814.0 1037.4L815.0 1036.5L816.0 1035.7L817.0 1034.9L818.0 1034.1L819.0 1033.3L820.0 1032.5L821.0 1031.7L822.0 1030.9L823.0 1030.2L824.0 1029.5L825.0 1028.7L826.0 1028.0L827.0 1027.3L828.0 1026.6L829.0 1025.9L830.0 1025.3L831.0 1024.6L832.0 1024.0L833.0 1023.3L834.0 1022.7L835.0 1022.1L836.0 1021.5L837.0 1020.9L838.0 1020.3L839.0 1019.7L840.0 1019.2L841.0 1018.6L842.0 1018.1L843.0 1017.5L844.0 1017.0L845.0 1016.5L846.0 1016.0L847.0 1015.5L848.0 1015.0L849.0 1014.6L850.0 1014.1L851.0 1013.7L852.0 1013.2L853.0 1012.8L854.0 1012.4L855.0 1012.0L856.0 1011.6L857.0 1011.2L858.0 1010.8L859.0 1010.4L860.0 1010.1L861.0 1009.7L862.0 1009.4L863.0 1009.1L864.0 1008.7L865.0 1008.4L866.0 1008.1L867.0 1007.9L868.0 1007.6L869.0 1007.4L870.0 1007.1L871.0 1006.9L872.0 1006.7L873.0 1006.5L874.0 1006.3L875.0 1006.1L876.0 1005.9L877.0 1005.8L878.0 1005.6L879.0 1005.5L880.0 1005.4L881.0 1005.3L882.0 1005.2L883.0 1005.2L884.0 1005.1L885.0 1005.1L886.0 1005.1L887.0 1005.0L888.0 1005.1L889.0 1005.1L890.0 1005.1L891.0 1005.2L892.0 1005.3L893.0 1005.3L894.0 1005.4L895.0 1005.6L896.0 1005.7L897.0 1005.8L898.0 1006.0L899.0 1006.2L900.0 1006.4L901.0 1006.6L902.0 1006.8L903.0 1007.1L904.0 1007.3L905.0 1007.6L906.0 1007.9L907.0 1008.2L908.0 1008.5L909.0 1008.8L910.0 1009.2L911.0 1009.5L912.0 1009.9L913.0 1010.3L914.0 1010.7L915.0 1011.1L916.0 1011.6L917.0 1012.0L918.0 1012.5L919.0 1013.0L920.0 1013.5L921.0 1014.0L922.0 1014.5L923.0 1015.1L924.0 1015.6L925.0 1016.2L926.0 1016.8L927.0 1017.4L928.0 1018.0L929.0 1018.7L930.0 1019.3L931.0 1020.0L932.0 1020.7L933.0 1021.4L934.0 1022.1L935.0 1022.8L936.0 1023.6L937.0 1024.3L938.0 1025.1L939.0 1025.9L940.0 1026.7L941.0 1027.5L942.0 1028.3L943.0 1029.2L944.0 1030.0L945.0 1030.9L946.0 1031.8L947.0 1032.7L948.0 1033.6L949.0 1034.5L950.0 1035.5L951.0 1036.4L952.0 1037.4L953.0 1038.3L954.0 1039.3L955.0 1040.3L956.0 1041.3L957.0 1042.3L958.0 1043.3L959.0 1044.3L960.0 1045.4L961.0 1046.4L962.0 1047.5L963.0 1048.5L964.0 1049.6L965.0 1050.7L966.0 1051.8L967.0 1052.9L968.0 1054.0L969.0 1055.1L970.0 1056.2L971.0 1057.3L972.0 1058.5L973.0 1059.6L974.0 1060.8L975.0 1061.9L976.0 1063.1L977.0 1064.3L978.0 1065.5L979.0 1066.6L980.0 1067.8L981.0 1069.0L982.0 1070.2L983.0 1071.5L984.0 1072.7L985.0 1073.9L986.0 1075.1L987.0 1076.3L988.0 1077.6L989.0 1078.8L990.0 1080.1L991.0 1081.3L992.0 1082.6L993.0 1083.9L994.0 1085.2L995.0 1086.5L996.0 1087.8L997.0 1089.1L998.0 1090.4L999.0 1091.7L1000.0 1093.1L1001.0 1094.5L1002.0 1095.8L1003.0 1097.2L1004.0 1098.6L1005.0 1100.1L1006.0 1101.5L1007.0 1103.0L1008.0 1104.5L1009.0 1106.0L1010.0 1107.5L1011.0 1109.0L1012.0 1110.6L1013.0 1112.2L1014.0 1113.8L1015.0 1115.5L1016.0 1117.2L1017.0 1118.9L1018.0 1120.6L1019.0 1122.3L1020.0 1124.1L1021.0 1125.9L1022.0 1127.8L1023.0 1129.6L1024.0 1131.5L1025.0 1133.4L1026.0 1135.4L1027.0 1137.3L1028.0 1139.4L1029.0 1141.4L1030.0 1143.4L1031.0 1145.5L1032.0 1147.7L1033.0 1149.8L1034.0 1152.0L1035.0 1154.2L1036.0 1156.4L1037.0 1158.7L1038.0 1161.0L1039.0 1163.3L1040.0 1165.6L1041.0 1168.0L1042.0 1170.4L1043.0 1172.8L1044.0 1175.2L1045.0 1177.6L1046.0 1180.1L1047.0 1182.5L1048.0 1185.0L1049.0 1187.5L1050.0 1190.0L1051.0 1192.4L1052.0 1194.9L1053.0 1197.4L1054.0 1199.9L1055.0 1202.3L1056.0 1204.7L1057.0 1207.1L1058.0 1209.5L1059.0 1211.9L1060.0 1214.3L1061.0 1216.6L1062.0 1219.0L1063.0 1221.3L1064.0 1223.6L1065.0 1225.8L1066.0 1228.1L1067.0 1230.4L1068.0 1232.6L1069.0 1234.8L1070.0 1237.0L1071.0 1239.2L1072.0 1241.4L1073.0 1243.6L1074.0 1245.7L1075.0 1247.9L1076.0 1250.0L1077.0 1252.1L1078.0 1254.2L1079.0 1256.3L1080.0 1258.3L1081.0 1260.3L1082.0 1262.3L1083.0 1264.3L1084.0 1266.3L1085.0 1268.2L1086.0 1270.1L1087.0 1272.0L1088.0 1273.8L1089.0 1275.6L1090.0 1277.4L1091.0 1279.2L1092.0 1280.9L1093.0 1282.7L1094.0 1284.4L1095.0 1286.1L1096.0 1287.7L1097.0 1289.4L1098.0 1291.0L1099.0 1292.6L1100.0 1294.2L1101.0 1295.8L1102.0 1297.3L1103.0 1298.9L1104.0 1300.4L1105.0 1302.0L1106.0 1303.5L1107.0 1305.0L1108.0 1306.6L1109.0 1308.1L1110.0 1309.6L1111.0 1311.1L1112.0 1312.6L1113.0 1314.1L1114.0 1315.6L1115.0 1317.1L1116.0 1318.6L1117.0 1320.1L1118.0 1321.6L1119.0 1323.1L1120.0 1324.6L1121.0 1326.1L1122.0 1327.6L1123.0 1329.2L1124.0 1330.7L1125.0 1332.2L1126.0 1333.7L1127.0 1335.2L1128.0 1336.8L1129.0 1338.3L1130.0 1339.8L1131.0 1341.3L1132.0 1342.8L1133.0 1344.3L1134.0 1345.7L1135.0 1347.2L1136.0 1348.6L1137.0 1350.0L1138.0 1351.4L1139.0 1352.8L1140.0 1354.2L1141.0 1355.5L1142.0 1356.8L1143.0 1358.1L1144.0 1359.4L1145.0 1360.7L1146.0 1361.9L1147.0 1363.1L1148.0 1364.3L1149.0 1365.4L1150.0 1366.6L1151.0 1367.7L1152.0 1368.7L1153.0 1369.8L1154.0 1370.8L1155.0 1371.8L1156.0 1372.8L1157.0 1373.7L1158.0 1374.6L1159.0 1375.5L1160.0 1376.4L1161.0 1377.3L1162.0 1378.1L1163.0 1378.9L1164.0 1379.7L1165.0 1380.4L1166.0 1381.2L1167.0 1381.9L1168.0 1382.6L1169.0 1383.3L1170.0 1384.0L1171.0 1384.6L1172.0 1385.3L1173.0 1385.9L1174.0 1386.5L1175.0 1387.1L1176.0 1387.7L1177.0 1388.3L1178.0 1388.9L1179.0 1389.5L1180.0 1390.0L1181.0 1390.6L1182.0 1391.1L1183.0 1391.7L1184.0 1392.2L1185.0 1392.7L1186.0 1393.3L1187.0 1393.8L1188.0 1394.3L1189.0 1394.8L1190.0 1395.3L1191.0 1395.8L1192.0 1396.2L1193.0 1396.7L1194.0 1397.2L1195.0 1397.7L1196.0 1398.1L1197.0 1398.6L1198.0 1399.0L1199.0 1399.5L1200.0 1399.9L1201.0 1400.3L1202.0 1400.8L1203.0 1401.2L1204.0 1401.6L1205.0 1402.0L1206.0 1402.4L1207.0 1402.8L1208.0 1403.2L1209.0 1403.6L1210.0 1403.9L1211.0 1404.3L1212.0 1404.7L1213.0 1405.0L1214.0 1405.4L1215.0 1405.7L1216.0 1406.1L1217.0 1406.4L1218.0 1406.8L1219.0 1407.1L1220.0 1407.4L1221.0 1407.7L1222.0 1408.1L1223.0 1408.4L1224.0 1408.7L1225.0 1409.0L1226.0 1409.3L1227.0 1409.6L1228.0 1409.8L1229.0 1410.1L1230.0 1410.4L1231.0 1410.7L1232.0 1411.0L1233.0 1411.2L1234.0 1411.5L1235.0 1411.7L1236.0 1412.0L1237.0 1412.2L1238.0 1412.5L1239.0 1412.7L1240.0 1413.0L1241.0 1413.2L1242.0 1413.4L1243.0 1413.6L1244.0 1413.9L1245.0 1414.1L1246.0 1414.3L1247.0 1414.5L1248.0 1414.7L1249.0 1414.9L1250.0 1415.1L1251.0 1415.3L1252.0 1415.5L1253.0 1415.7L1254.0 1415.8L1255.0 1416.0L1256.0 1416.2L1257.0 1416.4L1258.0 1416.5L1259.0 1416.7L1260.0 1416.9L1261.0 1417.0L1262.0 1417.2L1263.0 1417.3L1264.0 1417.5L1265.0 1417.6L1266.0 1417.8L1267.0 1417.9L1268.0 1418.0L1269.0 1418.2L1270.0 1418.3L1271.0 1418.4L1272.0 1418.5L1273.0 1418.6L1274.0 1418.8L1275.0 1418.9L1276.0 1419.0L1277.0 1419.1L1278.0 1419.2L1279.0 1419.3L1280.0 1419.4L1281.0 1419.5L1282.0 1419.6L1283.0 1419.7L1284.0 1419.8L1285.0 1419.8L1286.0 1419.9L1287.0 1420.0L1288.0 1420.1L1289.0 1420.2L1290.0 1420.2L1291.0 1420.3L1292.0 1420.4L1293.0 1420.5L1294.0 1420.5L1295.0 1420.6L1296.0 1420.7L1297.0 1420.7L1298.0 1420.8L1299.0 1420.8L1300.0 1420.9L1301.0 1421.0L1302.0 1421.0L1303.0 1421.1L1304.0 1421.1L1305.0 1421.2L1306.0 1421.2L1307.0 1421.3L1308.0 1421.3L1309.0 1421.4L1310.0 1421.4L1311.0 1421.5L1312.0 1421.5L1313.0 1421.5L1314.0 1421.6L1315.0 1421.6L1316.0 1421.7L1317.0 1421.7L1318.0 1421.7L1319.0 1421.8L1320.0 1421.8L1321.0 1421.9L1322.0 1421.9L1323.0 1421.9L1324.0 1422.0L1325.0 1422.0L1326.0 1422.0L1327.0 1422.0L1328.0 1422.1L1329.0 1422.1L1330.0 1422.1L1331.0 1422.2L1332.0 1422.2L1333.0 1422.2L1334.0 1422.2L1335.0 1422.3L1336.0 1422.3L1337.0 1422.3L1338.0 1422.3L1339.0 1422.4L1340.0 1422.4L1341.0 1422.4L1342.0 1422.4L1343.0 1422.5L1344.0 1422.5L1345.0 1422.5L1346.0 1422.5L1347.0 1422.5L1348.0 1422.6L1349.0 1422.6L1350.0 1422.6L1351.0 1422.6L1352.0 1422.6L1353.0 1422.7L1354.0 1422.7L1355.0 1422.7L1356.0 1422.7L1357.0 1422.7L1358.0 1422.7L1359.0 1422.7L1360.0 1422.8L1361.0 1422.8L1362.0 1422.8L1363.0 1422.8L1364.0 1422.8L1365.0 1422.8L1366.0 1422.9L1367.0 1422.9L1368.0 1422.9L1369.0 1422.9L1370.0 1422.9L1371.0 1422.9L1372.0 1422.9L1373.0 1422.9L1374.0 1423.0L1375.0 1423.0L1376.0 1423.0L1377.0 1423.0L1378.0 1423.0L1379.0 1423.0L1380.0 1423.0L1381.0 1423.0L1382.0 1423.0L1383.0 1423.1L1384.0 1423.1L1385.0 1423.1L1386.0 1423.1L1387.0 1423.1L1388.0 1423.1L1389.0 1423.1L1390.0 1423.1L1391.0 1423.1L1392.0 1423.1L1393.0 1423.2L1394.0 1423.2L1395.0 1423.2L1396.0 1423.2L1397.0 1423.2L1398.0 1423.2L1399.0 1423.2L1400.0 1423.2L1401.0 1423.2L1402.0 1423.2L1403.0 1423.2L1404.0 1423.3L1405.0 1423.3L1406.0 1423.3L1407.0 1423.3L1408.0 1423.3L1409.0 1423.3L1410.0 1423.3L1411.0 1423.3L1412.0 1423.3L1413.0 1423.3L1414.0 1423.3L1415.0 1423.3L1416.0 1423.4L1417.0 1423.4L1418.0 1423.4L1419.0 1423.4L1420.0 1423.4L1421.0 1423.4L1422.0 1423.4L1423.0 1423.4L1424.0 1423.4L1425.0 1423.4L1426.0 1423.4L1427.0 1423.4L1428.0 1423.4L1429.0 1423.5L1430.0 1423.5L1431.0 1423.5L1432.0 1423.5L1433.0 1423.5L1434.0 1423.5L1435.0 1423.5L1436.0 1423.5L1437.0 1423.5L1438.0 1423.5L1439.0 1423.5L1440.0 1423.5L1441.0 1423.5L1442.0 1423.5L1443.0 1423.6L1444.0 1423.6L1445.0 1423.6L1446.0 1423.6L1447.0 1423.6L1448.0 1423.6L1449.0 1423.6L1450.0 1423.6L1451.0 1423.6L1452.0 1423.6L1453.0 1423.6L1454.0 1423.6L1455.0 1423.6L1456.0 1423.6L1457.0 1423.7L1458.0 1423.7L1459.0 1423.7L1460.0 1423.7L1461.0 1423.7L1462.0 1423.7L1463.0 1423.7L1464.0 1423.7L1465.0 1423.7L1466.0 1423.7L1467.0 1423.7L1468.0 1423.7L1469.0 1423.7L1470.0 1423.7L1471.0 1423.7L1472.0 1423.7L1473.0 1423.8L1474.0 1423.8L1475.0 1423.8L1476.0 1423.8L1477.0 1423.8L1478.0 1423.8L1479.0 1423.8L1480.0 1423.8L1481.0 1423.8L1482.0 1423.8L1483.0 1423.8L1484.0 1423.8L1485.0 1423.8L1486.0 1423.8L1487.0 1423.8L1488.0 1423.8L1489.0 1423.8L1490.0 1423.8L1491.0 1423.9L1492.0 1423.9L1493.0 1423.9L1494.0 1423.9L1495.0 1423.9L1496.0 1423.9L1497.0 1423.9L1498.0 1423.9L1499.0 1423.9L1500.0 1423.9L1501.0 1423.9L1502.0 1423.9L1503.0 1423.9L1504.0 1423.9L1505.0 1423.9L1506.0 1423.9L1507.0 1423.9L1508.0 1423.9L1509.0 1423.9L1510.0 1423.9L1511.0 1423.9L1512.0 1424.0L1513.0 1424.0L1514.0 1424.0L1515.0 1424.0L1516.0 1424.0L1517.0 1424.0L1518.0 1424.0L1519.0 1424.0L1520.0 1424.0L1521.0 1424.0L1522.0 1424.0L1523.0 1424.0L1524.0 1424.0L1525.0 1424.0L1526.0 1424.0L1527.0 1424.0L1528.0 1424.0L1529.0 1424.0L1530.0 1424.0L1531.0 1424.0L1532.0 1424.0L1533.0 1424.0L1534.0 1424.0L1535.0 1424.0L1536.0 1424.1L1537.0 1424.1L1538.0 1424.1L1539.0 1424.1L1540.0 1424.1L1541.0 1424.1L1542.0 1424.1L1543.0 1424.1L1544.0 1424.1L1545.0 1424.1L1546.0 1424.1L1547.0 1424.1L1548.0 1424.1L1549.0 1424.1L1550.0 1424.1L1551.0 1424.1L1552.0 1424.1L1553.0 1424.1L1554.0 1424.1L1555.0 1424.1L1556.0 1424.1L1557.0 1424.1L1558.0 1424.1L1559.0 1424.1L1560.0 1424.1L1561.0 1424.1L1562.0 1424.1L1563.0 1424.1L1564.0 1424.1L1565.0 1424.1L1566.0 1424.2L1567.0 1424.2L1568.0 1424.2L1569.0 1424.2L1570.0 1424.2L1571.0 1424.2L1572.0 1424.2L1573.0 1424.2L1574.0 1424.2L1575.0 1424.2L1576.0 1424.2L1577.0 1424.2L1578.0 1424.2L1579.0 1424.2L1580.0 1424.2L1581.0 1424.2L1582.0 1424.2L1583.0 1424.2L1584.0 1424.2L1585.0 1424.2L1586.0 1424.2L1587.0 1424.2L1588.0 1424.2L1589.0 1424.2L1590.0 1424.2L1591.0 1424.2L1592.0 1424.2L1593.0 1424.2L1594.0 1424.2L1595.0 1424.2L1596.0 1424.2L1597.0 1424.2L1598.0 1424.2L1599.0 1424.2L1600.0 1424.2L1601.0 1424.2L1602.0 1424.2L1603.0 1424.2L1604.0 1424.2L1605.0 1424.2L1606.0 1424.2L1607.0 1424.2L1608.0 1424.2L1609.0 1424.2L1610.0 1424.2L1611.0 1424.3L1612.0 1424.3L1613.0 1424.3L1614.0 1424.3L1615.0 1424.3L1616.0 1424.3L1617.0 1424.3L1618.0 1424.3L1619.0 1424.3L1620.0 1424.3L1621.0 1424.3L1622.0 1424.3L1623.0 1424.3L1624.0 1424.3L1625.0 1424.3L1626.0 1424.3L1627.0 1424.3L1628.0 1424.3L1629.0 1424.3L1630.0 1424.3L1631.0 1424.3L1632.0 1424.3L1633.0 1424.3L1634.0 1424.3L1635.0 1424.3L1636.0 1424.3L1637.0 1424.3L1638.0 1424.3L1639.0 1424.3L1640.0 1424.3L1641.0 1424.3L1642.0 1424.3L1643.0 1424.3L1644.0 1424.3L1645.0 1424.3L1646.0 1424.3L1647.0 1424.3L1648.0 1424.3L1649.0 1424.3L1650.0 1424.3L1651.0 1424.3L1652.0 1424.3L1653.0 1424.3L1654.0 1424.3L1655.0 1424.3L1656.0 1424.3L1657.0 1424.3L1658.0 1424.3L1659.0 1424.3L1660.0 1424.3L1661.0 1424.3L1662.0 1424.3L1663.0 1424.3L1664.0 1424.3L1665.0 1424.3L1666.0 1424.3L1667.0 1424.3L1668.0 1424.3L1669.0 1424.3L1670.0 1424.3L1671.0 1424.3L1672.0 1424.3L1673.0 1424.3L1674.0 1424.3L1675.0 1424.3L1676.0 1424.3L1677.0 1424.3L1678.0 1424.3L1679.0 1424.3L1680.0 1424.3L1681.0 1424.3L1682.0 1424.3L1683.0 1424.3L1684.0 1424.3L1685.0 1424.3L1686.0 1424.3L1687.0 1424.3L1688.0 1424.3L1689.0 1424.3L1690.0 1424.3L1691.0 1424.3L1692.0 1424.3L1693.0 1424.3L1694.0 1424.3L1695.0 1424.3L1696.0 1424.3L1697.0 1424.3L1698.0 1424.3L1699.0 1424.3L1700.0 1424.3L1701.0 1424.3L1702.0 1424.3L1703.0 1424.3L1704.0 1424.3L1705.0 1424.3L1706.0 1424.3L1707.0 1424.3L1708.0 1424.3L1709.0 1424.3L1710.0 1424.3L1711.0 1424.3L1712.0 1424.3L1713.0 1424.3L1714.0 1424.3L1715.0 1424.3L1716.0 1424.3L1717.0 1424.3L1718.0 1424.3L1719.0 1424.3L1720.0 1424.3L1721.0 1424.3L1722.0 1424.3L1723.0 1424.3L1724.0 1424.3L1725.0 1424.3L1726.0 1424.3L1727.0 1424.3L1728.0 1424.3L1729.0 1424.3L1730.0 1424.3L1731.0 1424.3L1732.0 1424.3L1733.0 1424.3L1734.0 1424.3L1735.0 1424.3L1736.0 1424.3L1737.0 1424.3L1738.0 1424.3L1739.0 1424.3L1740.0 1424.3L1741.0 1424.3L1742.0 1424.3L1743.0 1424.3L1744.0 1424.3L1745.0 1424.3L1746.0 1424.3L1747.0 1424.3L1748.0 1424.3L1749.0 1424.3L1750.0 1424.3L1751.0 1424.3L1752.0 1424.3L1753.0 1424.3L1754.0 1424.3L1755.0 1424.3L1756.0 1424.3L1757.0 1424.3L1758.0 1424.3L1759.0 1424.3L1760.0 1424.3L1761.0 1424.3L1762.0 1424.3L1763.0 1424.3L1764.0 1424.3L1765.0 1424.3L1766.0 1424.3L1767.0 1424.3L1768.0 1424.3L1769.0 1424.3L1770.0 1424.3L1771.0 1424.2L1772.0 1424.2L1773.0 1424.2L1774.0 1424.2L1775.0 1424.2L1776.0 1424.2L1777.0 1424.2L1778.0 1424.2L1779.0 1424.2L1780.0 1424.2L1781.0 1424.2L1782.0 1424.2L1783.0 1424.2L1784.0 1424.2L1785.0 1424.2L1786.0 1424.2L1787.0 1424.2L1788.0 1424.2L1789.0 1424.2L1790.0 1424.2L1791.0 1424.2L1792.0 1424.2L1793.0 1424.2L1794.0 1424.2L1795.0 1424.2L1796.0 1424.2L1797.0 1424.2L1798.0 1424.2L1799.0 1424.2L1800.0 1424.2L1801.0 1424.2L1802.0 1424.2L1803.0 1424.2L1804.0 1424.2L1805.0 1424.2L1806.0 1424.2L1807.0 1424.2L1808.0 1424.2L1809.0 1424.2L1810.0 1424.2L1811.0 1424.2L1812.0 1424.2L1813.0 1424.2L1814.0 1424.2L1815.0 1424.2L1816.0 1424.2L1817.0 1424.2L1818.0 1424.2L1819.0 1424.2L1820.0 1424.2L1821.0 1424.2L1822.0 1424.2L1823.0 1424.2L1824.0 1424.2L1825.0 1424.2L1826.0 1424.2L1827.0 1424.2L1828.0 1424.2L1829.0 1424.2L1830.0 1424.2L1831.0 1424.2L1832.0 1424.2L1833.0 1424.2L1834.0 1424.1L1835.0 1424.1L1836.0 1424.1L1837.0 1424.1L1838.0 1424.1L1839.0 1424.1L1840.0 1424.1L1841.0 1424.1L1842.0 1424.1L1843.0 1424.1L1844.0 1424.1L1845.0 1424.1L1846.0 1424.1L1847.0 1424.1L1848.0 1424.1L1849.0 1424.1L1850.0 1424.1L1851.0 1424.1L1852.0 1424.1L1853.0 1424.1L1854.0 1424.1L1855.0 1424.1L1856.0 1424.1L1857.0 1424.1L1858.0 1424.1L1859.0 1424.1L1860.0 1424.1L1861.0 1424.1L1862.0 1424.1L1863.0 1424.1L1864.0 1424.1L1865.0 1424.1L1866.0 1424.1L1867.0 1424.1L1868.0 1424.1L1869.0 1424.1L1870.0 1424.1L1871.0 1424.1L1872.0 1424.1L1873.0 1424.1L1874.0 1424.1L1875.0 1424.1L1876.0 1424.1L1877.0 1424.1L1878.0 1424.1L1879.0 1424.1L1880.0 1424.1L1881.0 1424.1L1882.0 1424.1L1883.0 1424.1L1884.0 1424.0L1885.0 1424.0L1886.0 1424.0L1887.0 1424.0L1888.0 1424.0L1889.0 1424.0L1890.0 1424.0L1891.0 1424.0L1892.0 1424.0L1893.0 1424.0L1894.0 1424.0L1895.0 1424.0L1896.0 1424.0L1897.0 1424.0L1898.0 1424.0L1899.0 1424.0L1900.0 1424.0L1901.0 1424.0L1902.0 1424.0L1903.0 1424.0L1904.0 1424.0L1905.0 1424.0L1906.0 1424.0L1907.0 1424.0L1908.0 1424.0" stroke="#FF00FF"/>
<path d="M271.0 1310.7L272.0 1310.6L273.0 1310.5L274.0 1310.5L275.0 1310.4L276.0 1310.3L277.0 1310.2L278.0 1310.2L279.0 1310.1L280.0 1310.0L281.0 1310.0L282.0 1309.9L283.0 1309.8L284.0 1309.7L285.0 1309.7L286.0 1309.6L287.0 1309.5L288.0 1309.5L289.0 1309.4L290.0 1309.3L291.0 1309.2L292.0 1309.2L293.0 1309.1L294.0 1309.0L295.0 1309.0L296.0 1308.9L297.0 1308.8L298.0 1308.8L299.0 1308.7L300.0 1308.6L301.0 1308.5L302.0 1308.5L303.0 1308.4L304.0 1308.3L305.0 1308.2L306.0 1308.2L307.0 1308.1L308.0 1308.0L309.0 1307.9L310.0 1307.8L311.0 1307.8L312.0 1307.7L313.0 1307.6L314.0 1307.5L315.0 1307.4L316.0 1307.3L317.0 1307.2L318.0 1307.1L319.0 1307.0L320.0 1306.9L321.0 1306.8L322.0 1306.7L323.0 1306.6L324.0 1306.5L325.0 1306.4L326.0 1306.3L327.0 1306.2L328.0 1306.0L329.0 1305.9L330.0 1305.8L331.0 1305.7L332.0 1305.5L333.0 1305.4L334.0 1305.3L335.0 1305.2L336.0 1305.0L337.0 1304.9L338.0 1304.8L339.0 1304.6L340.0 1304.5L341.0 1304.4L342.0 1304.2L343.0 1304.1L344.0 1304.0L345.0 1303.8L346.0 1303.7L347.0 1303.5L348.0 1303.4L349.0 1303.3L350.0 1303.1L351.0 1303.0L352.0 1302.8L353.0 1302.6L354.0 1302.4L355.0 1302.0L356.0 1301.5L357.0 1300.8L358.0 1300.0L359.0 1299.3L360.0 1298.7L361.0 1298.4L362.0 1298.6L363.0 1299.0L364.0 1299.6L365.0 1300.3L366.0 1300.8L367.0 1301.2L368.0 1301.4L369.0 1301.5L370.0 1301.6L371.0 1301.6L372.0 1301.6L373.0 1301.6L374.0 1301.5L375.0 1301.3L376.0 1301.0L377.0 1300.8L378.0 1300.7L379.0 1300.8L380.0 1301.1L381.0 1301.4L382.0 1301.6L383.0 1301.7L384.0 1301.7L385.0 1301.7L386.0 1301.6L387.0 1301.3L388.0 1301.1L389.0 1301.0L390.0 1301.2L391.0 1301.5L392.0 1301.9L393.0 1302.2L394.0 1302.3L395.0 1302.4L396.0 1302.5L397.0 1302.6L398.0 1302.7L399.0 1302.8L400.0 1302.9L401.0 1303.0L402.0 1303.1L403.0 1303.2L404.0 1303.4L405.0 1303.5L406.0 1303.6L407.0 1303.7L408.0 1303.9L409.0 1304.0L410.0 1304.1L411.0 1304.3L412.0 1304.4L413.0 1304.6L414.0 1304.7L415.0 1304.9L416.0 1305.0L417.0 1305.2L418.0 1305.4L419.0 1305.5L420.0 1305.7L421.0 1305.8L422.0 1306.0L423.0 1306.2L424.0 1306.4L425.0 1306.5L426.0 1306.7L427.0 1306.9L428.0 1307.1L429.0 1307.2L430.0 1307.4L431.0 1307.6L432.0 1307.8L433.0 1308.0L434.0 1308.2L435.0 1308.4L436.0 1308.6L437.0 1308.8L438.0 1309.0L439.0 1309.2L440.0 1309.4L441.0 1309.7L442.0 1309.9L443.0 1310.1L444.0 1310.4L445.0 1310.6L446.0 1310.8L447.0 1311.1L448.0 1311.3L449.0 1311.6L450.0 1311.9L451.0 1312.1L452.0 1312.4L453.0 1312.7L454.0 1312.9L455.0 1313.2L456.0 1313.5L457.0 1313.8L458.0 1314.1L459.0 1314.4L460.0 1314.7L461.0 1315.0L462.0 1315.3L463.0 1315.6L464.0 1315.9L465.0 1316.2L466.0 1316.5L467.0 1316.8L468.0 1317.1L469.0 1317.5L470.0 1317.8L471.0 1318.1L472.0 1318.4L473.0 1318.8L474.0 1319.1L475.0 1319.4L476.0 1319.8L477.0 1320.1L478.0 1320.4L479.0 1320.8L480.0 1321.1L481.0 1321.4L482.0 1321.8L483.0 1322.1L484.0 1322.5L485.0 1322.8L486.0 1323.1L487.0 1323.5L488.0 1323.8L489.0 1324.2L490.0 1324.5L491.0 1324.8L492.0 1325.2L493.0 1325.5L494.0 1325.8L495.0 1326.2L496.0 1326.5L497.0 1326.8L498.0 1327.1L499.0 1327.5L500.0 1327.8L501.0 1328.1L502.0 1328.4L503.0 1328.7L504.0 1329.0L505.0 1329.3L506.0 1329.6L507.0 1329.9L508.0 1330.1L509.0 1330.4L510.0 1330.7L511.0 1330.9L512.0 1331.2L513.0 1331.4L514.0 1331.6L515.0 1331.9L516.0 1332.1L517.0 1332.3L518.0 1332.5L519.0 1332.7L520.0 1332.9L521.0 1333.1L522.0 1333.3L523.0 1333.4L524.0 1333.6L525.0 1333.7L526.0 1333.9L527.0 1334.0L528.0 1334.1L529.0 1334.2L530.0 1334.3L531.0 1334.4L532.0 1334.5L533.0 1334.5L534.0 1334.6L535.0 1334.6L536.0 1334.7L537.0 1334.7L538.0 1334.7L539.0 1334.7L540.0 1334.7L541.0 1334.7L542.0 1334.7L543.0 1334.6L544.0 1334.6L545.0 1334.5L546.0 1334.5L547.0 1334.4L548.0 1334.3L549.0 1334.2L550.0 1334.0L551.0 1333.9L552.0 1333.7L553.0 1333.6L554.0 1333.4L555.0 1333.2L556.0 1333.0L557.0 1332.8L558.0 1332.6L559.0 1332.4L560.0 1332.1L561.0 1331.9L562.0 1331.6L563.0 1331.3L564.0 1331.0L565.0 1330.7L566.0 1330.4L567.0 1330.1L568.0 1329.7L569.0 1329.4L570.0 1329.0L571.0 1328.6L572.0 1328.2L573.0 1327.8L574.0 1327.3L575.0 1326.9L576.0 1326.4L577.0 1326.0L578.0 1325.5L579.0 1325.0L580.0 1324.5L581.0 1323.9L582.0 1323.4L583.0 1322.8L584.0 1322.3L585.0 1321.7L586.0 1321.1L587.0 1320.5L588.0 1319.8L589.0 1319.2L590.0 1318.5L591.0 1317.8L592.0 1317.2L593.0 1316.5L594.0 1315.7L595.0 1315.0L596.0 1314.3L597.0 1313.5L598.0 1312.7L599.0 1312.0L600.0 1311.2L601.0 1310.3L602.0 1309.5L603.0 1308.7L604.0 1307.8L605.0 1307.0L606.0 1306.1L607.0 1305.2L608.0 1304.3L609.0 1303.4L610.0 1302.5L611.0 1301.5L612.0 1300.6L613.0 1299.6L614.0 1298.7L615.0 1297.7L616.0 1296.8L617.0 1295.8L618.0 1294.8L619.0 1293.8L620.0 1292.8L621.0 1291.8L622.0 1290.8L623.0 1289.8L624.0 1288.8L625.0 1287.8L626.0 1286.8L627.0 1285.8L628.0 1284.8L629.0 1283.8L630.0 1282.8L631.0 1281.8L632.0 1280.8L633.0 1279.8L634.0 1278.7L635.0 1277.7L636.0 1276.7L637.0 1275.7L638.0 1274.6L639.0 1273.6L640.0 1272.5L641.0 1271.5L642.0 1270.4L643.0 1269.3L644.0 1268.2L645.0 1267.1L646.0 1266.0L647.0 1264.9L648.0 1263.7L649.0 1262.6L650.0 1261.4L651.0 1260.1L652.0 1258.9L653.0 1257.6L654.0 1256.4L655.0 1255.0L656.0 1253.7L657.0 1252.3L658.0 1250.9L659.0 1249.5L660.0 1248.0L661.0 1246.6L662.0 1245.1L663.0 1243.6L664.0 1242.0L665.0 1240.5L666.0 1238.9L667.0 1237.4L668.0 1235.8L669.0 1234.2L670.0 1232.6L671.0 1231.0L672.0 1229.4L673.0 1227.8L674.0 1226.1L675.0 1224.5L676.0 1222.9L677.0 1221.2L678.0 1219.6L679.0 1218.0L680.0 1216.3L681.0 1214.7L682.0 1213.0L683.0 1211.4L684.0 1209.7L685.0 1208.1L686.0 1206.4L687.0 1204.8L688.0 1203.1L689.0 1201.5L690.0 1199.9L691.0 1198.3L692.0 1196.7L693.0 1195.0L694.0 1193.4L695.0 1191.9L696.0 1190.3L697.0 1188.7L698.0 1187.1L699.0 1185.5L700.0 1184.0L701.0 1182.4L702.0 1180.8L703.0 1179.3L704.0 1177.7L705.0 1176.1L706.0 1174.6L707.0 1173.0L708.0 1171.5L709.0 1169.9L710.0 1168.3L711.0 1166.8L712.0 1165.2L713.0 1163.6L714.0 1162.1L715.0 1160.5L716.0 1158.9L717.0 1157.4L718.0 1155.8L719.0 1154.2L720.0 1152.6L721.0 1151.0L722.0 1149.4L723.0 1147.8L724.0 1146.2L725.0 1144.6L726.0 1142.9L727.0 1141.3L728.0 1139.6L729.0 1138.0L730.0 1136.3L731.0 1134.6L732.0 1132.9L733.0 1131.2L734.0 1129.5L735.0 1127.8L736.0 1126.1L737.0 1124.3L738.0 1122.6L739.0 1120.9L740.0 1119.1L741.0 1117.4L742.0 1115.6L743.0 1113.8L744.0 1112.1L745.0 1110.4L746.0 1108.6L747.0 1106.9L748.0 1105.2L749.0 1103.4L750.0 1101.7L751.0 1100.0L752.0 1098.3L753.0 1096.7L754.0 1095.0L755.0 1093.3L756.0 1091.7L757.0 1090.1L758.0 1088.5L759.0 1086.8L760.0 1085.2L761.0 1083.7L762.0 1082.1L763.0 1080.5L764.0 1079.0L765.0 1077.4L766.0 1075.9L767.0 1074.4L768.0 1072.8L769.0 1071.3L770.0 1069.8L771.0 1068.4L772.0 1066.9L773.0 1065.4L774.0 1064.0L775.0 1062.5L776.0 1061.1L777.0 1059.7L778.0 1058.3L779.0 1056.8L780.0 1055.4L781.0 1054.1L782.0 1052.7L783.0 1051.3L784.0 1050.0L785.0 1048.6L786.0 1047.3L787.0 1045.9L788.0 1044.6L789.0 1043.3L790.0 1042.0L791.0 1040.7L792.0 1039.4L793.0 1038.1L794.0 1036.9L795.0 1035.6L796.0 1034.3L797.0 1033.1L798.0 1031.8L799.0 1030.6L800.0 1029.4L801.0 1028.2L802.0 1027.0L803.0 1025.8L804.0 1024.6L805.0 1023.4L806.0 1022.2L807.0 1021.0L808.0 1019.9L809.0 1018.7L810.0 1017.6L811.0 1016.4L812.0 1015.3L813.0 1014.1L814.0 1013.0L815.0 1011.9L816.0 1010.8L817.0 1009.7L818.0 1008.6L819.0 1007.5L820.0 1006.4L821.0 1005.3L822.0 1004.3L823.0 1003.2L824.0 1002.1L825.0 1001.1L826.0 1000.0L827.0 999.0L828.0 998.0L829.0 996.9L830.0 995.9L831.0 994.9L832.0 993.9L833.0 992.9L834.0 991.9L835.0 990.9L836.0 990.0L837.0 989.0L838.0 988.1L839.0 987.2L840.0 986.3L841.0 985.4L842.0 984.5L843.0 983.6L844.0 982.8L845.0 982.0L846.0 981.1L847.0 980.3L848.0 979.6L849.0 978.8L850.0 978.0L851.0 977.3L852.0 976.6L853.0 975.9L854.0 975.2L855.0 974.6L856.0 973.9L857.0 973.3L858.0 972.7L859.0 972.2L860.0 971.6L861.0 971.1L862.0 970.6L863.0 970.1L864.0 969.6L865.0 969.2L866.0 968.7L867.0 968.3L868.0 968.0L869.0 967.6L870.0 967.3L871.0 966.9L872.0 966.6L873.0 966.4L874.0 966.1L875.0 965.9L876.0 965.7L877.0 965.5L878.0 965.3L879.0 965.2L880.0 965.1L881.0 965.0L882.0 964.9L883.0 964.9L884.0 964.8L885.0 964.8L886.0 964.8L887.0 964.9L888.0 964.9L889.0 965.0L890.0 965.1L891.0 965.2L892.0 965.3L893.0 965.5L894.0 965.7L895.0 965.9L896.0 966.1L897.0 966.3L898.0 966.6L899.0 966.9L900.0 967.1L901.0 967.4L902.0 967.8L903.0 968.1L904.0 968.4L905.0 968.8L906.0 969.2L907.0 969.6L908.0 970.0L909.0 970.4L910.0 970.8L911.0 971.3L912.0 971.7L913.0 972.2L914.0 972.7L915.0 973.1L916.0 973.6L917.0 974.2L918.0 974.7L919.0 975.2L920.0 975.8L921.0 976.3L922.0 976.9L923.0 977.5L924.0 978.1L925.0 978.7L926.0 979.3L927.0 980.0L928.0 980.6L929.0 981.3L930.0 982.0L931.0 982.7L932.0 983.4L933.0 984.1L934.0 984.8L935.0 985.6L936.0 986.3L937.0 987.1L938.0 987.9L939.0 988.7L940.0 989.5L941.0 990.3L942.0 991.2L943.0 992.0L944.0 992.9L945.0 993.8L946.0 994.7L947.0 995.6L948.0 996.6L949.0 997.5L950.0 998.5L951.0 999.5L952.0 1000.5L953.0 1001.5L954.0 1002.5L955.0 1003.5L956.0 1004.6L957.0 1005.6L958.0 1006.7L959.0 1007.8L960.0 1008.9L961.0 1010.0L962.0 1011.1L963.0 1012.2L964.0 1013.4L965.0 1014.5L966.0 1015.7L967.0 1016.9L968.0 1018.1L969.0 1019.3L970.0 1020.5L971.0 1021.7L972.0 1022.9L973.0 1024.2L974.0 1025.4L975.0 1026.7L976.0 1028.0L977.0 1029.3L978.0 1030.6L979.0 1031.9L980.0 1033.3L981.0 1034.6L982.0 1036.0L983.0 1037.4L984.0 1038.8L985.0 1040.3L986.0 1041.7L987.0 1043.2L988.0 1044.7L989.0 1046.2L990.0 1047.7L991.0 1049.3L992.0 1050.8L993.0 1052.4L994.0 1054.1L995.0 1055.7L996.0 1057.4L997.0 1059.2L998.0 1060.9L999.0 1062.7L1000.0 1064.5L1001.0 1066.3L1002.0 1068.1L1003.0 1069.9L1004.0 1071.8L1005.0 1073.7L1006.0 1075.5L1007.0 1077.4L1008.0 1079.3L1009.0 1081.2L1010.0 1083.1L1011.0 1085.0L1012.0 1086.9L1013.0 1088.8L1014.0 1090.8L1015.0 1092.7L1016.0 1094.6L1017.0 1096.6L1018.0 1098.5L1019.0 1100.5L1020.0 1102.5L1021.0 1104.5L1022.0 1106.4L1023.0 1108.4L1024.0 1110.4L1025.0 1112.4L1026.0 1114.5L1027.0 1116.5L1028.0 1118.5L1029.0 1120.6L1030.0 1122.6L1031.0 1124.7L1032.0 1126.8L1033.0 1128.9L1034.0 1131.0L1035.0 1133.1L1036.0 1135.2L1037.0 1137.4L1038.0 1139.5L1039.0 1141.7L1040.0 1143.9L1041.0 1146.1L1042.0 1148.4L1043.0 1150.6L1044.0 1152.9L1045.0 1155.2L1046.0 1157.5L1047.0 1159.9L1048.0 1162.2L1049.0 1164.6L1050.0 1167.1L1051.0 1169.5L1052.0 1172.0L1053.0 1174.5L1054.0 1177.1L1055.0 1179.7L1056.0 1182.3L1057.0 1184.9L1058.0 1187.5L1059.0 1190.2L1060.0 1192.9L1061.0 1195.6L1062.0 1198.3L1063.0 1201.0L1064.0 1203.7L1065.0 1206.5L1066.0 1209.2L1067.0 1211.9L1068.0 1214.7L1069.0 1217.4L1070.0 1220.1L1071.0 1222.8L1072.0 1225.5L1073.0 1228.2L1074.0 1230.8L1075.0 1233.4L1076.0 1236.0L1077.0 1238.5L1078.0 1241.0L1079.0 1243.5L1080.0 1245.9L1081.0 1248.3L1082.0 1250.7L1083.0 1253.0L1084.0 1255.3L1085.0 1257.6L1086.0 1259.8L1087.0 1262.0L1088.0 1264.2L1089.0 1266.4L1090.0 1268.6L1091.0 1270.7L1092.0 1272.8L1093.0 1274.9L1094.0 1277.0L1095.0 1279.1L1096.0 1281.2L1097.0 1283.3L1098.0 1285.3L1099.0 1287.4L1100.0 1289.4L1101.0 1291.5L1102.0 1293.5L1103.0 1295.5L1104.0 1297.6L1105.0 1299.6L1106.0 1301.6L1107.0 1303.6L1108.0 1305.6L1109.0 1307.6L1110.0 1309.6L1111.0 1311.6L1112.0 1313.5L1113.0 1315.5L1114.0 1317.5L1115.0 1319.4L1116.0 1321.4L1117.0 1323.4L1118.0 1325.3L1119.0 1327.3L1120.0 1329.2L1121.0 1331.1L1122.0 1333.1L1123.0 1335.0L1124.0 1336.9L1125.0 1338.8L1126.0 1340.6L1127.0 1342.5L1128.0 1344.3L1129.0 1346.1L1130.0 1347.9L1131.0 1349.6L1132.0 1351.4L1133.0 1353.0L1134.0 1354.7L1135.0 1356.4L1136.0 1358.0L1137.0 1359.5L1138.0 1361.1L1139.0 1362.6L1140.0 1364.1L1141.0 1365.5L1142.0 1366.9L1143.0 1368.3L1144.0 1369.7L1145.0 1371.0L1146.0 1372.3L1147.0 1373.5L1148.0 1374.8L1149.0 1376.0L1150.0 1377.2L1151.0 1378.3L1152.0 1379.4L1153.0 1380.5L1154.0 1381.6L1155.0 1382.6L1156.0 1383.6L1157.0 1384.6L1158.0 1385.6L1159.0 1386.6L1160.0 1387.5L1161.0 1388.5L1162.0 1389.4L1163.0 1390.3L1164.0 1391.2L1165.0 1392.1L1166.0 1392.9L1167.0 1393.8L1168.0 1394.7L1169.0 1395.5L1170.0 1396.3L1171.0 1397.2L1172.0 1398.0L1173.0 1398.8L1174.0 1399.6L1175.0 1400.4L1176.0 1401.2L1177.0 1402.0L1178.0 1402.7L1179.0 1403.5L1180.0 1404.2L1181.0 1405.0L1182.0 1405.7L1183.0 1406.4L1184.0 1407.1L1185.0 1407.8L1186.0 1408.5L1187.0 1409.1L1188.0 1409.8L1189.0 1410.4L1190.0 1411.1L1191.0 1411.7L1192.0 1412.3L1193.0 1412.9L1194.0 1413.5L1195.0 1414.0L1196.0 1414.6L1197.0 1415.2L1198.0 1415.7L1199.0 1416.2L1200.0 1416.7L1201.0 1417.2L1202.0 1417.7L1203.0 1418.2L1204.0 1418.7L1205.0 1419.1L1206.0 1419.6L1207.0 1420.0L1208.0 1420.5L1209.0 1420.9L1210.0 1421.3L1211.0 1421.7L1212.0 1422.1L1213.0 1422.5L1214.0 1422.9L1215.0 1423.2L1216.0 1423.6L1217.0 1424.0L1218.0 1424.3L1219.0 1424.7L1220.0 1425.0L1221.0 1425.4L1222.0 1425.7L1223.0 1426.0L1224.0 1426.3L1225.0 1426.6L1226.0 1426.9L1227.0 1427.2L1228.0 1427.5L1229.0 1427.8L1230.0 1428.1L1231.0 1428.4L1232.0 1428.6L1233.0 1428.9L1234.0 1429.2L1235.0 1429.4L1236.0 1429.7L1237.0 1429.9L1238.0 1430.1L1239.0 1430.4L1240.0 1430.6L1241.0 1430.8L1242.0 1431.0L1243.0 1431.2L1244.0 1431.5L1245.0 1431.7L1246.0 1431.9L1247.0 1432.0L1248.0 1432.2L1249.0 1432.4L1250.0 1432.6L1251.0 1432.8L1252.0 1432.9L1253.0 1433.1L1254.0 1433.3L1255.0 1433.4L1256.0 1433.6L1257.0 1433.7L1258.0 1433.9L1259.0 1434.0L1260.0 1434.2L1261.0 1434.3L1262.0 1434.4L1263.0 1434.6L1264.0 1434.7L1265.0 1434.8L1266.0 1434.9L1267.0 1435.0L1268.0 1435.1L1269.0 1435.2L1270.0 1435.3L1271.0 1435.4L1272.0 1435.5L1273.0 1435.6L1274.0 1435.7L1275.0 1435.8L1276.0 1435.9L1277.0 1436.0L1278.0 1436.1L1279.0 1436.1L1280.0 1436.2L1281.0 1436.3L1282.0 1436.4L1283.0 1436.4L1284.0 1436.5L1285.0 1436.6L1286.0 1436.6L1287.0 1436.7L1288.0 1436.7L1289.0 1436.8L1290.0 1436.9L1291.0 1436.9L1292.0 1437.0L1293.0 1437.0L1294.0 1437.1L1295.0 1437.1L1296.0 1437.2L1297.0 1437.2L1298.0 1437.3L1299.0 1437.3L1300.0 1437.3L1301.0 1437.4L1302.0 1437.4L1303.0 1437.5L1304.0 1437.5L1305.0 1437.5L1306.0 1437.6L1307.0 1437.6L1308.0 1437.6L1309.0 1437.7L1310.0 1437.7L1311.0 1437.7L1312.0 1437.8L1313.0 1437.8L1314.0 1437.8L1315.0 1437.8L1316.0 1437.9L1317.0 1437.9L1318.0 1437.9L1319.0 1437.9L1320.0 1438.0L1321.0 1438.0L1322.0 1438.0L1323.0 1438.0L1324.0 1438.0L1325.0 1438.1L1326.0 1438.1L1327.0 1438.1L1328.0 1438.1L1329.0 1438.1L1330.0 1438.1L1331.0 1438.2L1332.0 1438.2L1333.0 1438.2L1334.0 1438.2L1335.0 1438.2L1336.0 1438.2L1337.0 1438.2L1338.0 1438.2L1339.0 1438.3L1340.0 1438.3L1341.0 1438.3L1342.0 1438.3L1343.0 1438.3L1344.0 1438.3L1345.0 1438.3L1346.0 1438.3L1347.0 1438.3L1348.0 1438.3L1349.0 1438.3L1350.0 1438.4L1351.0 1438.4L1352.0 1438.4L1353.0 1438.4L1354.0 1438.4L1355.0 1438.4L1356.0 1438.4L1357.0 1438.4L1358.0 1438.4L1359.0 1438.4L1360.0 1438.4L1361.0 1438.4L1362.0 1438.4L1363.0 1438.4L1364.0 1438.5L1365.0 1438.5L1366.0 1438.5L1367.0 1438.5L1368.0 1438.5L1369.0 1438.5L1370.0 1438.5L1371.0 1438.5L1372.0 1438.5L1373.0 1438.5L1374.0 1438.5L1375.0 1438.5L1376.0 1438.5L1377.0 1438.5L1378.0 1438.5L1379.0 1438.5L1380.0 1438.5L1381.0 1438.5L1382.0 1438.5L1383.0 1438.5L1384.0 1438.5L1385.0 1438.6L1386.0 1438.6L1387.0 1438.6L1388.0 1438.6L1389.0 1438.6L1390.0 1438.6L1391.0 1438.6L1392.0 1438.6L1393.0 1438.6L1394.0 1438.6L1395.0 1438.6L1396.0 1438.6L1397.0 1438.6L1398.0 1438.6L1399.0 1438.6L1400.0 1438.6L1401.0 1438.6L1402.0 1438.6L1403.0 1438.6L1404.0 1438.6L1405.0 1438.6L1406.0 1438.6L1407.0 1438.6L1408.0 1438.6L1409.0 1438.6L1410.0 1438.6L1411.0 1438.6L1412.0 1438.6L1413.0 1438.6L1414.0 1438.6L1415.0 1438.7L1416.0 1438.7L1417.0 1438.7L1418.0 1438.7L1419.0 1438.7L1420.0 1438.7L1421.0 1438.7L1422.0 1438.7L1423.0 1438.7L1424.0 1438.7L1425.0 1438.7L1426.0 1438.7L1427.0 1438.7L1428.0 1438.7L1429.0 1438.7L1430.0 1438.7L1431.0 1438.7L1432.0 1438.7L1433.0 1438.7L1434.0 1438.7L1435.0 1438.7L1436.0 1438.7L1437.0 1438.7L1438.0 1438.7L1439.0 1438.7L1440.0 1438.7L1441.0 1438.7L1442.0 1438.7L1443.0 1438.7L1444.0 1438.7L1445.0 1438.7L1446.0 1438.7L1447.0 1438.7L1448.0 1438.7L1449.0 1438.7L1450.0 1438.7L1451.0 1438.7L1452.0 1438.7L1453.0 1438.7L1454.0 1438.8L1455.0 1438.8L1456.0 1438.8L1457.0 1438.8L1458.0 1438.8L1459.0 1438.8L1460.0 1438.8L1461.0 1438.8L1462.0 1438.8L1463.0 1438.8L1464.0 1438.8L1465.0 1438.8L1466.0 1438.8L1467.0 1438.8L1468.0 1438.8L1469.0 1438.8L1470.0 1438.8L1471.0 1438.8L1472.0 1438.8L1473.0 1438.8L1474.0 1438.8L1475.0 1438.8L1476.0 1438.8L1477.0 1438.8L1478.0 1438.8L1479.0 1438.8L1480.0 1438.8L1481.0 1438.8L1482.0 1438.8L1483.0 1438.8L1484.0 1438.8L1485.0 1438.8L1486.0 1438.8L1487.0 1438.8L1488.0 1438.8L1489.0 1438.8L1490.0 1438.8L1491.0 1438.8L1492.0 1438.8L1493.0 1438.8L1494.0 1438.8L1495.0 1438.8L1496.0 1438.8L1497.0 1438.8L1498.0 1438.8L1499.0 1438.8L1500.0 1438.8L1501.0 1438.8L1502.0 1438.8L1503.0 1438.8L1504.0 1438.8L1505.0 1438.8L1506.0 1438.8L1507.0 1438.8L1508.0 1438.9L1509.0 1438.9L1510.0 1438.9L1511.0 1438.9L1512.0 1438.9L1513.0 1438.9L1514.0 1438.9L1515.0 1438.9L1516.0 1438.9L1517.0 1438.9L1518.0 1438.9L1519.0 1438.9L1520.0 1438.9L1521.0 1438.9L1522.0 1438.9L1523.0 1438.9L1524.0 1438.9L1525.0 1438.9L1526.0 1438.9L1527.0 1438.9L1528.0 1438.9L1529.0 1438.9L1530.0 1438.9L1531.0 1438.9L1532.0 1438.9L1533.0 1438.9L1534.0 1438.9L1535.0 1438.9L1536.0 1438.9L1537.0 1438.9L1538.0 1438.9L1539.0 1438.9L1540.0 1438.9L1541.0 1438.9L1542.0 1438.9L1543.0 1438.9L1544.0 1438.9L1545.0 1438.9L1546.0 1438.9L1547.0 1438.9L1548.0 1438.9L1549.0 1438.9L1550.0 1438.9L1551.0 1438.9L1552.0 1438.9L1553.0 1438.9L1554.0 1438.9L1555.0 1438.9L1556.0 1438.9L1557.0 1438.9L1558.0 1438.9L1559.0 1438.9L1560.0 1438.9L1561.0 1438.9L1562.0 1438.9L1563.0 1438.9L1564.0 1438.9L1565.0 1438.9L1566.0 1438.9L1567.0 1438.9L1568.0 1438.9L1569.0 1438.9L1570.0 1438.9L1571.0 1438.9L1572.0 1438.9L1573.0 1438.9L1574.0 1438.9L1575.0 1438.9L1576.0 1438.9L1577.0 1438.9L1578.0 1438.9L1579.0 1438.9L1580.0 1438.9L1581.0 1438.9L1582.0 1438.9L1583.0 1438.9L1584.0 1438.9L1585.0 1438.9L1586.0 1438.9L1587.0 1438.9L1588.0 1438.9L1589.0 1438.9L1590.0 1438.9L1591.0 1438.9L1592.0 1438.9L1593.0 1438.9L1594.0 1438.9L1595.0 1438.9L1596.0 1438.9L1597.0 1438.9L1598.0 1438.9L1599.0 1438.9L1600.0 1438.9L1601.0 1438.9L1602.0 1438.9L1603.0 1438.9L1604.0 1438.9L1605.0 1438.9L1606.0 1438.9L1607.0 1438.9L1608.0 1438.9L1609.0 1438.9L1610.0 1438.9L1611.0 1438.9L1612.0 1438.9L1613.0 1438.9L1614.0 1438.9L1615.0 1438.9L1616.0 1438.9L1617.0 1438.9L1618.0 1438.9L1619.0 1438.9L1620.0 1438.9L1621.0 1438.9L1622.0 1438.9L1623.0 1438.9L1624.0 1438.9L1625.0 1438.9L1626.0 1438.9L1627.0 1438.9L1628.0 1438.9L1629.0 1438.9L1630.0 1438.9L1631.0 1438.9L1632.0 1438.9L1633.0 1438.9L1634.0 1438.9L1635.0 1438.9L1636.0 1438.9L1637.0 1438.9L1638.0 1438.9L1639.0 1438.9L1640.0 1438.9L1641.0 1438.9L1642.0 1438.9L1643.0 1438.9L1644.0 1438.9L1645.0 1438.9L1646.0 1438.9L1647.0 1438.9L1648.0 1438.9L1649.0 1438.9L1650.0 1438.9L1651.0 1438.9L1652.0 1438.9L1653.0 1438.9L1654.0 1438.9L1655.0 1438.9L1656.0 1438.9L1657.0 1438.9L1658.0 1438.9L1659.0 1438.9L1660.0 1438.9L1661.0 1438.9L1662.0 1438.9L1663.0 1438.9L1664.0 1438.9L1665.0 1438.9L1666.0 1438.9L1667.0 1438.9L1668.0 1438.9L1669.0 1438.9L1670.0 1438.9L1671.0 1438.9L1672.0 1438.9L1673.0 1438.9L1674.0 1438.9L1675.0 1438.9L1676.0 1438.9L1677.0 1438.9L1678.0 1438.9L1679.0 1438.9L1680.0 1438.9L1681.0 1438.9L1682.0 1438.9L1683.0 1438.9L1684.0 1438.9L1685.0 1438.9L1686.0 1438.9L1687.0 1438.9L1688.0 1438.9L1689.0 1438.9L1690.0 1438.9L1691.0 1438.9L1692.0 1438.9L1693.0 1438.9L1694.0 1438.9L1695.0 1438.9L1696.0 1438.9L1697.0 1438.9L1698.0 1438.9L1699.0 1438.9L1700.0 1438.9L1701.0 1438.9L1702.0 1438.9L1703.0 1438.9L1704.0 1438.9L1705.0 1438.9L1706.0 1438.9L1707.0 1438.9L1708.0 1438.9L1709.0 1438.9L1710.0 1438.9L1711.0 1438.9L1712.0 1438.9L1713.0 1438.9L1714.0 1438.9L1715.0 1438.9L1716.0 1438.9L1717.0 1438.9L1718.0 1438.9L1719.0 1438.9L1720.0 1438.9L1721.0 1438.9L1722.0 1438.9L1723.0 1438.9L1724.0 1438.9L1725.0 1438.9L1726.0 1438.9L1727.0 1438.9L1728.0 1438.9L1729.0 1438.9L1730.0 1438.9L1731.0 1438.9L1732.0 1438.9L1733.0 1438.9L1734.0 1438.9L1735.0 1438.8L1736.0 1438.8L1737.0 1438.8L1738.0 1438.8L1739.0 1438.8L1740.0 1438.8L1741.0 1438.8L1742.0 1438.8L1743.0 1438.8L1744.0 1438.8L1745.0 1438.8L1746.0 1438.8L1747.0 1438.8L1748.0 1438.8L1749.0 1438.8L1750.0 1438.8L1751.0 1438.8L1752.0 1438.8L1753.0 1438.8L1754.0 1438.8L1755.0 1438.8L1756.0 1438.8L1757.0 1438.8L1758.0 1438.8L1759.0 1438.8L1760.0 1438.8L1761.0 1438.8L1762.0 1438.8L1763.0 1438.8L1764.0 1438.8L1765.0 1438.8L1766.0 1438.8L1767.0 1438.8L1768.0 1438.8L1769.0 1438.8L1770.0 1438.8L1771.0 1438.8L1772.0 1438.8L1773.0 1438.8L1774.0 1438.8L1775.0 1438.8L1776.0 1438.8L1777.0 1438.8L1778.0 1438.8L1779.0 1438.8L1780.0 1438.8L1781.0 1438.8L1782.0 1438.8L1783.0 1438.8L1784.0 1438.8L1785.0 1438.8L1786.0 1438.8L1787.0 1438.8L1788.0 1438.8L1789.0 1438.8L1790.0 1438.8L1791.0 1438.8L1792.0 1438.8L1793.0 1438.8L1794.0 1438.8L1795.0 1438.8L1796.0 1438.8L1797.0 1438.8L1798.0 1438.8L1799.0 1438.8L1800.0 1438.8L1801.0 1438.8L1802.0 1438.8L1803.0 1438.8L1804.0 1438.8L1805.0 1438.8L1806.0 1438.8L1807.0 1438.8L1808.0 1438.8L1809.0 1438.8L1810.0 1438.8L1811.0 1438.8L1812.0 1438.8L1813.0 1438.7L1814.0 1438.7L1815.0 1438.7L1816.0 1438.7L1817.0 1438.7L1818.0 1438.7L1819.0 1438.7L1820.0 1438.7L1821.0 1438.7L1822.0 1438.7L1823.0 1438.7L1824.0 1438.7L1825.0 1438.7L1826.0 1438.7L1827.0 1438.7L1828.0 1438.7L1829.0 1438.7L1830.0 1438.7L1831.0 1438.7L1832.0 1438.7L1833.0 1438.7L1834.0 1438.7L1835.0 1438.7L1836.0 1438.7L1837.0 1438.7L1838.0 1438.7L1839.0 1438.7L1840.0 1438.7L1841.0 1438.7L1842.0 1438.7L1843.0 1438.7L1844.0 1438.7L1845.0 1438.7L1846.0 1438.7L1847.0 1438.7L1848.0 1438.7L1849.0 1438.7L1850.0 1438.7L1851.0 1438.7L1852.0 1438.7L1853.0 1438.7L1854.0 1438.7L1855.0 1438.7L1856.0 1438.7L1857.0 1438.7L1858.0 1438.7L1859.0 1438.7L1860.0 1438.7L1861.0 1438.7L1862.0 1438.7L1863.0 1438.7L1864.0 1438.7L1865.0 1438.7L1866.0 1438.7L1867.0 1438.7L1868.0 1438.7L1869.0 1438.7L1870.0 1438.7L1871.0 1438.7L1872.0 1438.7L1873.0 1438.7L1874.0 1438.7L1875.0 1438.7L1876.0 1438.7L1877.0 1438.7L1878.0 1438.6L1879.0 1438.6L1880.0 1438.6L1881.0 1438.6L1882.0 1438.6L1883.0 1438.6L1884.0 1438.6L1885.0 1438.6L1886.0 1438.6L1887.0 1438.6L1888.0 1438.6L1889.0 1438.6L1890.0 1438.6L1891.0 1438.6L1892.0 1438.6L1893.0 1438.6L1894.0 1438.6L1895.0 1438.6L1896.0 1438.6L1897.0 1438.6L1898.0 1438.6L1899.0 1438.6L1900.0 1438.6L1901.0 1438.6L1902.0 1438.6L1903.0 1438.6L1904.0 1438.6L1905.0 1438.6L1906.0 1438.6L1907.0 1438.6L1908.0 1438.6" stroke="#FF0000"/>

</g>
<text class="bi" transform="translate(128.67 1452.80) scale(1 1.040)">0.0</text>
<text class="bi" transform="translate(128.71 1162.18) scale(1 1.040)">0.2</text>
<text class="bi" transform="translate(129.22 871.56) scale(1 1.040)">0.4</text>
<text class="bi" transform="translate(127.54 580.94) scale(1 1.040)">0.6</text>
<text class="bi" transform="translate(128.05 290.32) scale(1 1.040)">0.8</text>
<text class="bi" transform="translate(557.92 1547.10) scale(1 1.040)">400</text>
<text class="bi" transform="translate(986.83 1547.10) scale(1 1.040)">500</text>
<text class="bi" transform="translate(1415.06 1547.10) scale(1 1.040)">600</text>
<text class="bi" transform="translate(1844.18 1547.10) scale(1 1.040)">700</text>
<text class="bi" transform="translate(763.51 1641.80) scale(1 1.040)">Wavelength (nm)</text>
<text class="bi" transform="translate(85.9 1015.06) rotate(-90) scale(1 1.040)">Absorption (nm)</text>
<text class="bi" transform="translate(1346.68 237.80) scale(1 1.040)">MC</text>
<text class="bi" transform="translate(1018.68 521.90) scale(1 1.040)">HCl</text>
<text class="bi" transform="translate(828.69 820.70) scale(1 1.040)">TS</text>
<text class="bi" transform="translate(1186.45 982.90) scale(1 1.040)">450 nm</text>
<text class="bi" transform="translate(1184.92 1077.00) scale(1 1.040)">laser</text>
<text style="font-weight:bold;font-size:75px" transform="translate(883.96 1155) scale(1 1.040)">relax</text>

<rect x="1527" y="46.0" width="160" height="8" fill="#505050"/><text class="lg" transform="translate(1702.0 74.3) scale(1 1.064)">EtOH</text>
<rect x="1527" y="139.0" width="160" height="8" fill="#800000"/><text class="lg" transform="translate(1702.0 167.3) scale(1 1.064)">EtOH 20 <tspan style="font-family:&quot;Liberation Serif&quot;,serif">&#181;</tspan>l HCl</text>
<rect x="1527" y="223.0" width="160" height="8" fill="#00FFFF"/><text class="lg" transform="translate(1702.0 251.3) scale(1 1.064)">5 min 450 nm</text>
<rect x="1527" y="307.6" width="160" height="8" fill="#38AE6E"/><text class="lg" transform="translate(1702.0 335.9) scale(1 1.064)">10 min relax</text>
<rect x="1527" y="392.6" width="160" height="8" fill="#B07ADC"/><text class="lg" transform="translate(1702.0 420.9) scale(1 1.064)">15 min relax</text>
<rect x="1527" y="477.0" width="160" height="8" fill="#CC9900"/><text class="lg" transform="translate(1702.0 505.3) scale(1 1.064)">20 min relax</text>
<rect x="1527" y="561.8" width="160" height="8" fill="#808000"/><text class="lg" transform="translate(1702.0 590.1) scale(1 1.064)">25 min relax</text>
<rect x="1527" y="646.0" width="160" height="8" fill="#7F4F4F"/><text class="lg" transform="translate(1702.0 674.3) scale(1 1.064)">30 min relax</text>
<rect x="1527" y="731.0" width="160" height="8" fill="#8F8F00"/><text class="lg" transform="translate(1702.0 759.3) scale(1 1.064)">40 min relax</text>
<rect x="1527" y="815.5" width="160" height="8" fill="#FF00FF"/><text class="lg" transform="translate(1702.0 843.8) scale(1 1.064)">50 min relax</text>
<rect x="1527" y="900.0" width="160" height="8" fill="#FF0000"/><text class="lg" transform="translate(1702.0 928.3) scale(1 1.064)">24h relax</text>

<line x1="1232.8" y1="483.5" x2="1092.0" y2="661.5" stroke="#000" stroke-width="8"/><polygon points="1071.3,687.7 1085.0,655.0 1099.9,666.8" fill="#000" stroke="#000" stroke-width="5" stroke-linejoin="round"/>
<line x1="1104.0" y1="793.0" x2="1104.0" y2="1037.0" stroke="#8000FF" stroke-width="10"/><polygon points="1104.0,1091.5 1089.5,1036.2 1118.5,1036.2" fill="#8000FF" stroke="#8000FF" stroke-width="5" stroke-linejoin="round"/>
<line x1="880.0" y1="1252.0" x2="880.0" y2="1025.0" stroke="#FF0000" stroke-width="10"/><polygon points="880.0,970.5 894.5,1025.8 865.5,1025.8" fill="#FF0000" stroke="#FF0000" stroke-width="5" stroke-linejoin="round"/>

</svg>
</body></html>
